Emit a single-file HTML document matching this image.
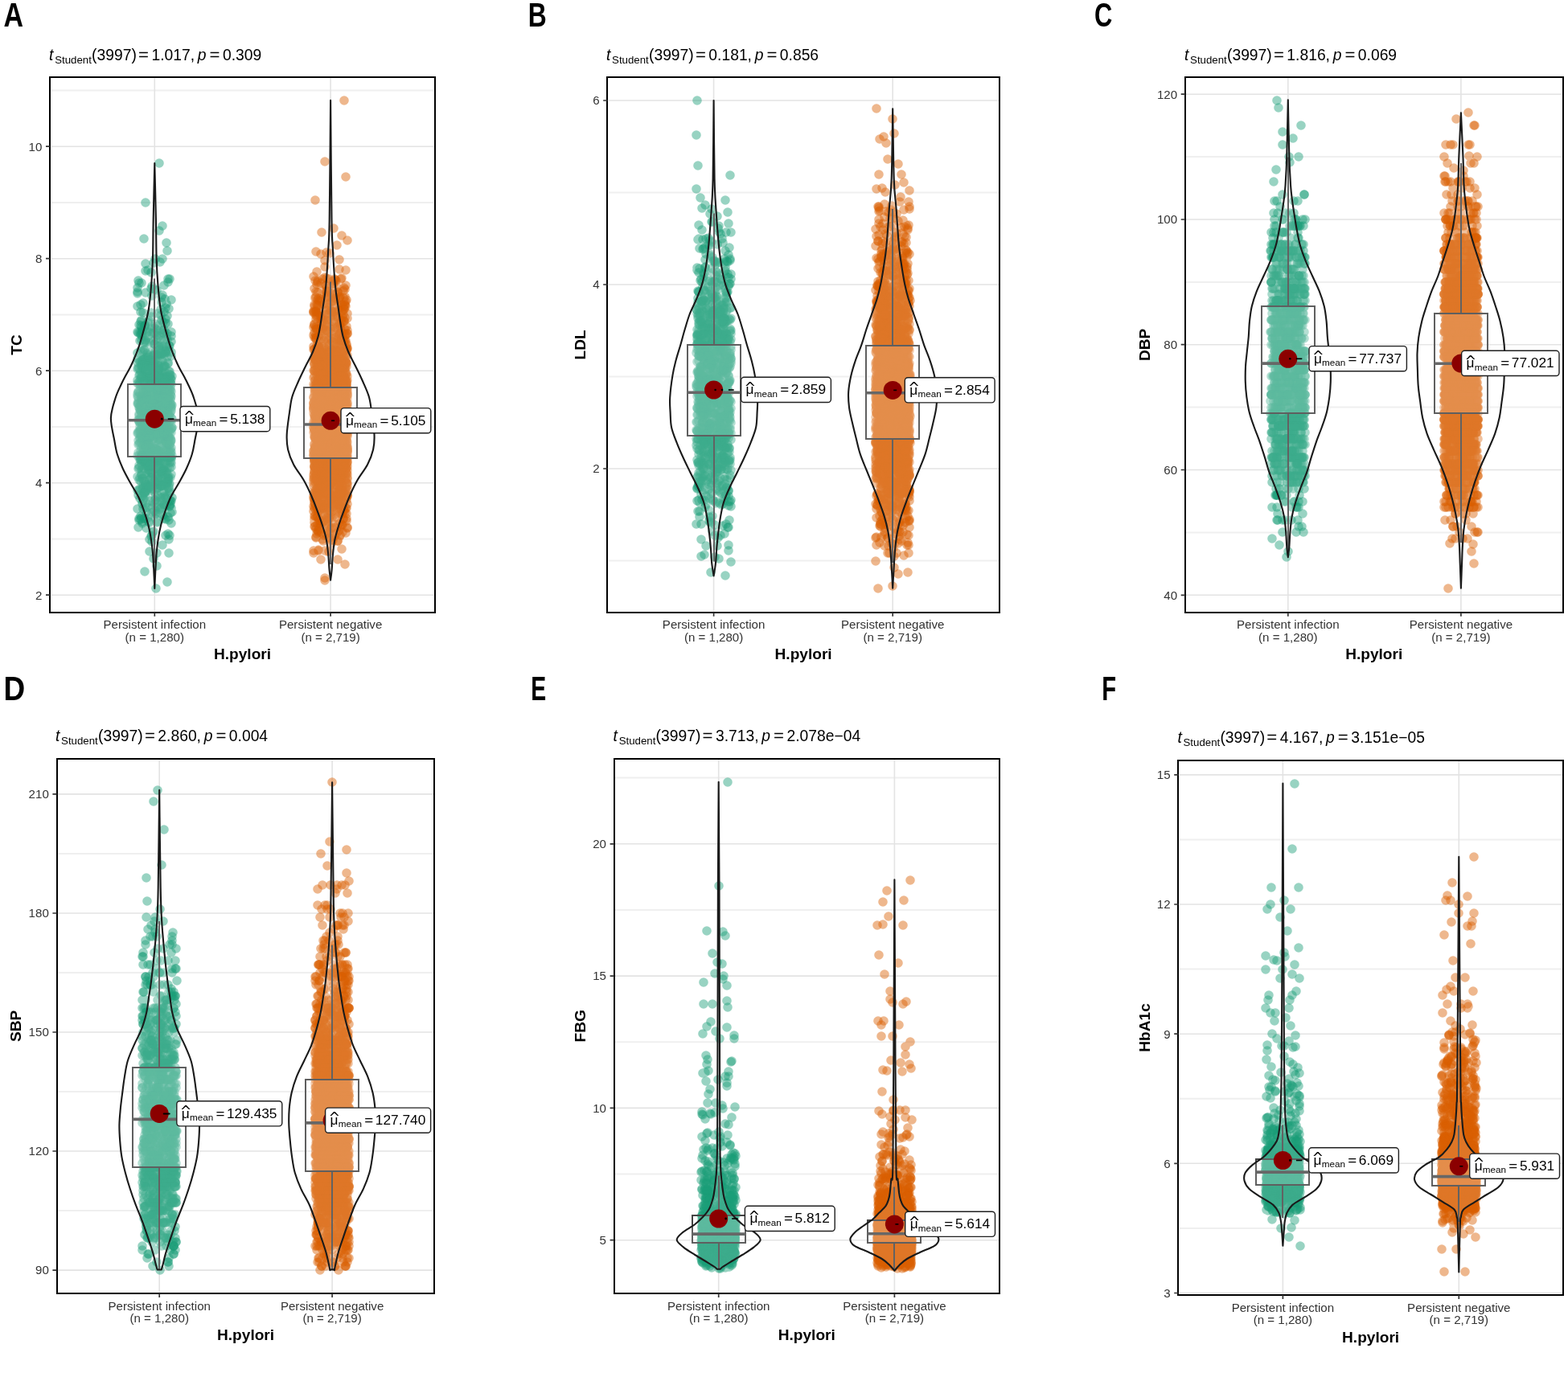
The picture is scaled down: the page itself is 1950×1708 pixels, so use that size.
<!DOCTYPE html><html><head><meta charset="utf-8"><title>H.pylori violin plots</title><style>html,body{margin:0;padding:0;background:#fff;width:1950px;height:1708px;overflow:hidden}svg{display:block}</style></head><body><svg width="1950" height="1708" viewBox="0 0 1950 1708"><rect width="1950" height="1708" fill="#fff"/><path d="M63.2 670.5H539.8M63.2 531H539.8M63.2 391.4H539.8M63.2 251.9H539.8M63.2 112.4H539.8" stroke="#efefef" stroke-width="2" fill="none"/>
<path d="M63.2 740.2H539.8M63.2 600.7H539.8M63.2 461.2H539.8M63.2 321.7H539.8M63.2 182.2H539.8M192.3 97.3V760.6M411.1 97.3V760.6" stroke="#e3e3e3" stroke-width="1.6" fill="none"/>
<g stroke="#1b9e77" stroke-opacity="0.45" stroke-width="11.6" stroke-linecap="round" fill="none"><path d="M205 554h0M204 486h0M201 555h0M197 510h0M188 339h0M200 587h0M180 405h0M202 516h0M204 521h0M179 419h0M208 481h0M182 492h0M181 567h0M172 488h0M180 599h0M200 557h0M177 548h0M174 414h0M180 538h0M188 572h0M181 445h0M177 533h0M180 541h0M199 603h0M183 413h0M199 430h0M186 544h0M172 349h0M181 612h0M181 565h0M188 520h0M192 428h0M188 512h0M171 459h0M189 666h0M181 555h0M187 494h0M196 494h0M181 497h0M174 450h0M193 583h0M194 578h0M199 556h0M209 643h0M201 530h0M209 664h0M175 599h0M174 537h0M206 550h0M208 553h0M209 544h0M193 507h0M190 637h0M188 507h0"/><path d="M185 459h0M195 639h0M189 456h0M178 511h0M211 430h0M213 503h0M182 510h0M183 513h0M195 603h0M190 589h0M210 688h0M172 537h0M181 523h0M191 511h0M202 640h0M172 522h0M190 481h0M214 504h0M174 572h0M178 539h0M204 479h0M174 505h0M201 477h0M177 410h0M197 525h0M187 610h0M195 486h0M176 524h0M208 601h0M207 468h0M175 416h0M178 523h0M182 450h0M209 488h0M198 503h0M196 590h0M202 414h0M196 499h0M202 519h0M198 203h0M180 500h0M178 451h0M198 501h0M176 352h0M176 398h0M207 549h0M184 469h0M200 567h0M201 537h0M177 544h0M181 463h0M175 388h0M176 567h0M212 504h0"/><path d="M188 579h0M205 463h0M205 372h0M180 645h0M182 517h0M204 415h0M187 623h0M208 508h0M173 522h0M206 579h0M207 566h0M205 582h0M198 547h0M195 475h0M185 563h0M202 523h0M183 490h0M209 544h0M178 617h0M207 378h0M206 495h0M209 497h0M197 503h0M188 518h0M186 506h0M192 456h0M213 520h0M202 571h0M212 522h0M175 405h0M183 440h0M206 530h0M200 510h0M194 509h0M208 602h0M174 608h0M210 526h0M171 473h0M205 515h0M209 515h0M189 452h0M185 516h0M211 467h0M209 570h0M199 544h0M207 587h0M198 482h0M173 524h0M196 441h0M199 539h0M197 479h0M201 487h0M186 475h0M172 656h0"/><path d="M204 617h0M182 479h0M183 515h0M195 483h0M208 608h0M197 553h0M208 422h0M186 512h0M188 533h0M194 591h0M204 388h0M201 613h0M178 478h0M212 476h0M173 478h0M178 468h0M178 565h0M197 443h0M195 474h0M186 597h0M192 513h0M209 503h0M192 478h0M193 464h0M212 497h0M177 568h0M190 556h0M176 494h0M184 473h0M198 601h0M185 585h0M212 503h0M204 543h0M188 464h0M192 453h0M208 466h0M181 522h0M174 551h0M179 574h0M204 470h0M184 478h0M202 530h0M210 462h0M177 456h0M203 484h0M182 488h0M195 479h0M197 431h0M206 539h0M193 453h0M198 534h0M202 449h0M193 570h0M204 603h0"/><path d="M181 517h0M207 628h0M195 568h0M195 473h0M174 544h0M190 469h0M212 545h0M178 604h0M206 604h0M191 505h0M183 536h0M178 500h0M209 351h0M175 511h0M188 512h0M207 551h0M210 430h0M203 517h0M212 496h0M186 505h0M199 523h0M195 488h0M199 504h0M201 567h0M201 370h0M207 548h0M185 585h0M200 562h0M212 476h0M177 651h0M209 594h0M179 499h0M180 454h0M202 281h0M171 358h0M175 580h0M186 570h0M188 600h0M188 449h0M209 479h0M181 426h0M188 569h0M212 549h0M200 605h0M179 519h0M212 564h0M193 403h0M173 579h0M181 532h0M194 501h0M194 542h0M203 498h0M204 583h0M198 455h0"/><path d="M208 509h0M186 686h0M181 364h0M193 466h0M180 605h0M176 492h0M210 569h0M209 546h0M191 558h0M194 558h0M209 607h0M198 450h0M199 574h0M196 444h0M204 455h0M182 469h0M173 645h0M208 530h0M200 572h0M171 610h0M184 546h0M183 486h0M206 510h0M206 383h0M199 624h0M203 641h0M176 571h0M192 622h0M187 531h0M201 479h0M211 436h0M181 482h0M188 449h0M202 512h0M190 625h0M186 426h0M178 448h0M174 510h0M188 543h0M213 623h0M187 581h0M196 495h0M191 536h0M176 525h0M213 438h0M197 637h0M177 627h0M212 482h0M214 532h0M173 582h0M179 297h0M205 617h0M192 636h0M211 602h0"/><path d="M192 481h0M203 493h0M193 498h0M205 586h0M179 521h0M181 423h0M182 637h0M206 478h0M187 589h0M211 666h0M185 448h0M201 400h0M193 583h0M202 511h0M185 563h0M175 462h0M202 599h0M209 598h0M197 405h0M212 471h0M197 541h0M199 578h0M178 621h0M209 547h0M207 439h0M205 532h0M181 404h0M203 469h0M209 510h0M192 571h0M173 610h0M200 442h0M212 623h0M171 477h0M195 650h0M184 551h0M190 491h0M185 513h0M192 562h0M206 397h0M182 573h0M187 588h0M212 594h0M204 519h0M185 511h0M202 527h0M213 569h0M192 360h0M185 535h0M181 556h0M172 502h0M208 589h0M200 619h0M191 536h0"/><path d="M188 406h0M189 514h0M200 469h0M209 566h0M184 520h0M212 519h0M204 515h0M189 608h0M174 497h0M184 575h0M209 573h0M201 398h0M171 365h0M191 546h0M211 630h0M171 451h0M208 312h0M202 473h0M188 389h0M175 534h0M196 603h0M214 521h0M186 550h0M208 483h0M202 477h0M182 541h0M186 541h0M204 509h0M175 400h0M192 510h0M172 499h0M213 508h0M191 540h0M180 521h0M208 470h0M191 497h0M172 500h0M177 447h0M179 568h0M196 503h0M197 489h0M213 425h0M200 429h0M192 530h0M178 389h0M178 569h0M206 432h0M196 490h0M199 514h0M204 534h0M184 401h0M201 540h0M197 514h0M187 546h0"/><path d="M205 586h0M208 393h0M184 580h0M197 487h0M192 550h0M193 519h0M198 287h0M199 483h0M214 619h0M212 490h0M210 608h0M198 503h0M199 488h0M214 468h0M172 616h0M197 455h0M199 546h0M177 595h0M179 496h0M197 461h0M185 470h0M198 561h0M191 442h0M194 631h0M185 551h0M185 541h0M198 595h0M193 534h0M209 513h0M213 534h0M210 544h0M213 590h0M199 582h0M198 431h0M176 498h0M202 440h0M196 616h0M210 602h0M207 302h0M187 553h0M195 440h0M184 519h0M211 516h0M189 458h0M196 509h0M172 583h0M195 480h0M204 355h0M178 437h0M189 356h0M210 544h0M194 479h0M208 488h0"/><path d="M188 667h0M209 541h0M204 489h0M195 417h0M195 512h0M184 533h0M213 503h0M194 507h0M214 532h0M213 576h0M204 628h0M176 567h0M185 547h0M210 518h0M213 525h0M208 565h0M182 547h0M204 564h0M211 613h0M182 509h0M195 688h0M198 529h0M211 629h0M192 468h0M180 545h0M201 466h0M177 649h0M177 530h0M179 411h0M203 560h0M208 521h0M176 644h0M212 485h0M193 517h0M191 518h0M190 498h0M194 602h0M190 560h0M175 572h0M186 482h0M176 469h0M197 547h0M206 517h0M210 469h0M183 557h0M208 583h0M210 530h0M176 503h0M178 560h0M188 468h0M201 520h0M191 502h0M190 448h0"/><path d="M173 647h0M184 474h0M180 537h0M207 505h0M186 563h0M182 483h0M202 367h0M178 522h0M185 569h0M202 480h0M212 569h0M191 438h0M181 601h0M190 436h0M186 502h0M179 583h0M193 414h0M185 468h0M207 432h0M209 516h0M208 559h0M187 541h0M184 445h0M200 488h0M185 413h0M178 506h0M171 502h0M197 459h0M195 561h0M209 534h0M178 595h0M198 509h0M201 469h0M206 646h0M203 506h0M183 492h0M192 483h0M206 619h0M206 566h0M200 485h0M205 505h0M203 491h0M189 589h0M203 584h0M179 514h0M194 538h0M179 457h0M211 575h0M203 411h0M193 559h0M192 520h0M175 436h0M193 502h0"/><path d="M182 554h0M173 458h0M196 631h0M172 539h0M171 493h0M173 566h0M204 540h0M172 495h0M192 455h0M177 494h0M182 551h0M197 482h0M180 576h0M204 526h0M194 456h0M188 564h0M213 373h0M206 437h0M183 469h0M206 526h0M188 394h0M175 459h0M209 553h0M185 465h0M193 536h0M207 477h0M213 651h0M206 456h0M175 471h0M204 522h0M184 535h0M181 486h0M171 567h0M180 613h0M193 448h0M196 607h0M195 624h0M213 557h0M211 504h0M196 649h0M208 724h0M188 588h0M193 645h0M184 465h0M212 575h0M176 557h0M183 631h0M181 337h0M176 516h0M197 494h0M213 571h0M175 500h0M191 581h0"/><path d="M174 531h0M193 635h0M182 606h0M182 515h0M183 563h0M181 510h0M212 503h0M180 537h0M182 494h0M190 600h0M200 497h0M188 359h0M213 511h0M212 505h0M206 620h0M187 552h0M190 484h0M189 471h0M188 594h0M183 444h0M212 471h0M175 642h0M202 464h0M186 604h0M210 484h0M187 451h0M176 518h0M195 596h0M206 535h0M187 539h0M203 401h0M181 611h0M193 544h0M188 476h0M196 522h0M176 551h0M189 632h0M180 497h0M201 586h0M201 500h0M188 640h0M208 522h0M204 628h0M200 605h0M202 619h0M192 574h0M200 595h0M209 596h0M189 480h0M190 662h0M179 524h0M207 558h0M183 535h0"/><path d="M194 483h0M212 492h0M209 596h0M180 527h0M194 639h0M178 562h0M184 513h0M196 518h0M205 630h0M187 518h0M187 456h0M176 590h0M208 501h0M177 546h0M209 347h0M208 468h0M196 560h0M188 457h0M209 452h0M177 478h0M202 678h0M176 577h0M185 566h0M207 556h0M184 512h0M182 571h0M193 622h0M175 646h0M176 509h0M199 495h0M205 509h0M199 440h0M172 457h0M201 567h0M173 459h0M206 666h0M209 451h0M177 565h0M179 447h0M210 536h0M183 420h0M204 585h0M177 584h0M198 507h0M195 483h0M195 491h0M196 531h0M202 322h0M184 418h0M198 491h0M206 550h0M196 421h0M172 458h0"/><path d="M204 482h0M208 483h0M209 533h0M190 526h0M194 486h0M185 542h0M181 328h0M188 477h0M186 650h0M205 573h0M179 521h0M178 597h0M209 498h0M195 704h0M184 489h0M187 564h0M195 539h0M188 489h0M213 533h0M181 601h0M201 582h0M196 485h0M180 569h0M209 488h0M196 514h0M213 581h0M210 647h0M196 583h0M175 521h0M195 506h0M174 424h0M192 599h0M189 368h0M177 568h0M210 561h0M182 580h0M182 591h0M177 617h0M176 591h0M185 399h0M200 539h0M177 412h0M205 540h0M202 507h0M200 632h0M193 518h0M192 441h0M180 568h0M183 607h0M183 605h0M201 505h0M175 572h0M178 546h0"/><path d="M179 446h0M188 448h0M193 626h0M196 390h0M205 504h0M203 520h0M178 633h0M197 467h0M205 628h0M205 412h0M196 476h0M195 608h0M197 592h0M204 441h0M176 511h0M202 496h0M181 468h0M204 410h0M174 489h0M209 592h0M196 597h0M205 455h0M211 478h0M193 595h0M175 511h0M188 467h0M202 587h0M193 530h0M177 608h0M184 533h0M175 524h0M171 381h0M185 500h0M200 531h0M179 552h0M193 470h0M173 567h0M199 503h0M171 439h0M210 671h0M203 441h0M204 540h0M179 549h0M186 543h0M209 516h0M196 485h0M174 466h0M194 422h0M181 456h0M175 450h0M209 522h0M180 477h0M180 406h0"/><path d="M207 506h0M173 517h0M194 475h0M191 661h0M184 442h0M183 538h0M188 543h0M181 480h0M192 408h0M174 620h0M186 517h0M176 456h0M198 488h0M177 479h0M206 504h0M206 438h0M173 352h0M212 559h0M208 594h0M176 414h0M200 511h0M194 732h0M206 473h0M181 468h0M177 567h0M185 482h0M190 520h0M204 539h0M208 480h0M205 483h0M207 569h0M174 546h0M190 523h0M186 542h0M197 469h0M180 479h0M213 506h0M198 464h0M189 514h0M174 477h0M197 573h0M203 604h0M204 513h0M200 392h0M176 499h0M210 496h0M191 695h0M171 446h0M178 544h0M189 471h0M195 489h0M171 363h0M206 596h0"/><path d="M187 606h0M172 494h0M189 594h0M177 509h0M212 562h0M198 494h0M204 612h0M207 481h0M212 524h0M193 438h0M198 535h0M202 513h0M182 512h0M212 627h0M212 568h0M199 441h0M192 540h0M197 486h0M204 524h0M207 524h0M202 568h0M207 600h0M189 574h0M206 436h0M179 543h0M196 461h0M173 552h0M208 415h0M192 612h0M190 556h0M184 540h0M175 379h0M186 502h0M206 438h0M211 553h0M175 561h0M190 547h0M200 545h0M179 570h0M185 597h0M193 572h0M210 384h0M186 565h0M187 578h0M200 565h0M180 406h0M188 478h0M191 511h0M206 421h0M176 540h0M171 539h0M211 582h0M195 410h0"/><path d="M179 558h0M188 535h0M196 571h0M191 414h0M200 516h0M179 457h0M177 451h0M187 562h0M185 572h0M185 573h0M180 487h0M205 500h0M178 485h0M172 553h0M189 520h0M203 539h0M190 490h0M183 496h0M175 551h0M182 535h0M173 404h0M203 569h0M209 543h0M186 671h0M199 523h0M199 634h0M184 580h0M199 506h0M189 516h0M201 589h0M199 534h0M181 424h0M195 361h0M201 623h0M175 541h0M203 531h0M188 565h0M210 546h0M173 597h0M187 480h0M202 511h0M181 575h0M176 570h0M202 520h0M201 528h0M187 498h0M195 496h0M206 508h0M196 541h0M210 550h0M199 326h0M193 566h0M193 618h0"/><path d="M174 526h0M173 515h0M204 422h0M207 565h0M185 494h0M189 409h0M200 573h0M208 503h0M172 414h0M202 562h0M201 561h0M207 573h0M178 454h0M185 522h0M181 603h0M190 511h0M178 459h0M210 532h0M197 466h0M206 536h0M174 508h0M204 645h0M202 553h0M178 377h0M200 548h0M185 444h0M198 598h0M198 540h0M174 535h0M174 520h0M214 567h0M182 626h0M178 559h0M196 451h0M209 403h0M195 441h0M206 520h0M179 515h0M182 548h0M207 559h0M199 477h0M172 563h0M195 535h0M198 539h0M190 608h0M201 535h0M205 595h0M181 618h0M211 486h0M198 459h0M184 336h0M176 497h0M190 456h0"/><path d="M198 550h0M172 503h0M181 252h0M185 458h0M194 529h0M203 528h0M193 521h0M213 418h0M211 546h0M181 527h0M179 612h0M203 537h0M179 621h0M189 415h0M182 610h0M183 645h0M177 553h0M207 501h0M213 478h0M211 538h0M181 513h0M182 575h0M192 506h0M208 444h0M176 485h0M172 548h0M185 542h0M172 487h0M203 518h0M179 435h0M204 540h0M190 501h0M202 431h0M198 482h0M180 711h0M173 467h0M191 327h0M182 462h0M178 536h0M195 476h0M212 548h0M171 593h0M176 592h0M191 515h0M200 385h0M177 624h0M202 494h0M195 495h0M176 567h0M213 493h0M185 487h0M186 464h0M192 428h0"/><path d="M213 632h0M191 519h0M193 468h0M213 487h0M191 523h0M212 508h0M180 435h0M208 617h0M178 500h0M185 484h0M212 513h0M182 657h0M192 497h0M198 435h0M176 584h0M201 440h0M185 529h0M178 529h0M209 551h0M211 623h0M196 517h0M206 549h0M214 637h0M178 607h0M183 510h0M208 471h0M171 413h0M185 552h0M211 347h0M206 402h0M211 466h0M213 562h0M178 475h0M174 594h0M179 499h0M187 468h0M171 633h0M175 504h0M180 589h0M181 460h0M177 419h0M179 571h0M200 471h0M182 496h0M183 455h0M186 488h0M173 525h0M182 460h0M200 604h0M186 579h0M204 402h0M209 549h0M205 484h0"/><path d="M212 466h0M191 566h0M187 605h0M179 528h0M211 553h0M173 475h0M185 567h0M210 505h0M179 613h0M190 455h0M176 423h0M201 542h0M206 452h0M204 485h0M183 527h0M176 454h0M199 524h0M203 581h0M182 532h0M198 591h0M181 632h0M175 482h0M199 411h0M186 501h0M193 558h0M196 575h0M183 498h0M178 529h0M177 573h0M212 638h0M185 460h0M203 518h0M213 548h0M210 595h0M209 452h0M178 458h0M208 484h0M185 649h0M183 515h0M177 483h0M201 376h0M190 530h0M191 451h0M191 424h0M182 567h0M203 457h0M193 566h0M171 490h0M213 538h0M176 407h0M186 482h0M210 637h0M186 535h0"/><path d="M210 493h0M177 415h0M182 531h0M188 526h0M197 561h0M179 645h0M204 495h0M212 551h0M178 500h0M210 606h0M194 501h0M204 457h0M203 518h0M211 610h0M192 599h0M208 600h0M197 580h0M209 494h0M207 531h0M211 569h0M185 607h0M194 494h0M207 542h0M202 604h0M198 418h0M188 497h0M179 426h0M213 472h0M213 443h0M189 674h0M176 544h0M177 448h0M212 546h0M201 498h0M173 507h0M193 322h0M205 488h0M205 501h0M213 413h0M186 544h0M200 586h0M210 437h0M178 521h0M182 557h0M176 468h0M203 476h0M178 489h0M208 553h0M175 506h0M187 557h0M188 532h0M211 462h0M186 448h0"/></g>
<g stroke="#d95f02" stroke-opacity="0.45" stroke-width="11.6" stroke-linecap="round" fill="none"><path d="M429 607h0M399 443h0M428 483h0M401 444h0M415 543h0M407 421h0M407 458h0M411 561h0M413 526h0M394 462h0M398 505h0M420 363h0M413 492h0M395 562h0M415 625h0M406 514h0M432 563h0M427 438h0M418 563h0M404 510h0M402 489h0M402 487h0M420 622h0M399 587h0M397 609h0M406 512h0M413 478h0M395 514h0M396 507h0M405 592h0M430 336h0M422 531h0M394 664h0M409 596h0M395 567h0M420 542h0M412 534h0M410 502h0M396 459h0M398 578h0M411 369h0M396 371h0M406 506h0M401 541h0M422 462h0M396 542h0M406 559h0M415 597h0M431 567h0M415 510h0M395 487h0M425 293h0M412 387h0M426 564h0M412 575h0M399 526h0M422 576h0M419 538h0M415 542h0M398 528h0M399 502h0M412 521h0M428 491h0M425 574h0M432 541h0M392 497h0M422 370h0M410 581h0M422 592h0M397 528h0M398 489h0M426 420h0M422 637h0M409 509h0M413 439h0M404 456h0M391 485h0M426 563h0M427 528h0M422 485h0M401 566h0M432 601h0M405 586h0M413 389h0M425 541h0M407 435h0M393 590h0M397 602h0M395 528h0M430 543h0M417 499h0M420 533h0M420 564h0M400 537h0M412 578h0M405 422h0M417 508h0M393 497h0M429 503h0M429 542h0M414 497h0M397 491h0M425 640h0M402 564h0M397 521h0M413 468h0M393 622h0M418 566h0M394 576h0M393 593h0M411 387h0M404 544h0M392 557h0M408 652h0"/><path d="M419 423h0M416 511h0M422 461h0M417 486h0M430 591h0M425 346h0M420 539h0M399 511h0M399 595h0M429 458h0M391 529h0M400 515h0M419 590h0M422 533h0M391 581h0M405 550h0M421 478h0M421 582h0M424 473h0M404 499h0M400 659h0M411 503h0M422 610h0M419 528h0M410 478h0M404 550h0M406 495h0M420 478h0M430 375h0M421 532h0M426 480h0M414 477h0M398 565h0M392 473h0M414 371h0M392 504h0M422 547h0M406 475h0M411 569h0M412 450h0M398 633h0M430 597h0M400 457h0M411 481h0M402 560h0M399 546h0M404 534h0M409 531h0M400 595h0M400 524h0M407 477h0M392 482h0M400 551h0M397 473h0M415 517h0M400 586h0M431 514h0M426 489h0M403 551h0M390 435h0M420 486h0M422 557h0M397 447h0M406 441h0M416 545h0M397 456h0M422 530h0M418 445h0M401 456h0M417 440h0M405 490h0M420 602h0M396 662h0M405 463h0M390 591h0M396 380h0M392 559h0M420 470h0M408 601h0M416 550h0M429 549h0M405 584h0M413 350h0M410 669h0M416 571h0M393 575h0M429 638h0M418 548h0M418 592h0M412 483h0M406 557h0M390 478h0M422 545h0M416 492h0M407 472h0M406 479h0M431 556h0M407 573h0M412 542h0M425 598h0M392 618h0M416 517h0M419 511h0M425 506h0M403 548h0M403 573h0M432 513h0M390 470h0M422 583h0M426 583h0M401 519h0M399 498h0M400 619h0M407 589h0"/><path d="M426 559h0M405 515h0M406 500h0M401 493h0M399 525h0M393 547h0M429 442h0M408 476h0M411 459h0M421 529h0M405 584h0M417 486h0M424 556h0M423 650h0M423 538h0M410 575h0M399 510h0M393 591h0M431 548h0M401 447h0M422 450h0M402 400h0M412 529h0M420 489h0M407 518h0M391 572h0M407 474h0M413 467h0M411 526h0M415 479h0M397 646h0M398 455h0M422 529h0M400 522h0M400 492h0M392 460h0M426 481h0M408 502h0M419 480h0M424 470h0M431 522h0M408 565h0M419 510h0M417 534h0M409 550h0M424 347h0M403 585h0M417 500h0M397 648h0M408 532h0M403 573h0M412 550h0M432 536h0M425 485h0M397 567h0M402 476h0M392 566h0M429 410h0M422 402h0M432 571h0M418 436h0M432 555h0M417 440h0M400 569h0M419 357h0M430 663h0M431 619h0M422 539h0M401 528h0M395 539h0M405 543h0M400 492h0M406 581h0M430 499h0M428 484h0M394 479h0M414 551h0M417 566h0M409 347h0M393 550h0M410 442h0M414 467h0M401 518h0M400 569h0M392 443h0M409 506h0M394 479h0M432 558h0M409 510h0M429 569h0M410 477h0M408 562h0M407 438h0M426 484h0M409 473h0M412 480h0M406 510h0M417 558h0M425 379h0M430 632h0M394 485h0M428 522h0M401 446h0M408 509h0M407 597h0M417 554h0M392 506h0M408 507h0M405 475h0M410 636h0M407 616h0M411 467h0M417 577h0M427 573h0"/><path d="M426 550h0M413 539h0M423 535h0M405 448h0M421 562h0M422 568h0M417 562h0M401 512h0M407 644h0M394 534h0M419 455h0M420 436h0M421 487h0M431 436h0M429 479h0M398 577h0M413 602h0M421 520h0M394 540h0M432 511h0M395 498h0M406 510h0M419 644h0M392 447h0M409 514h0M425 536h0M410 462h0M402 585h0M404 433h0M423 472h0M412 463h0M412 564h0M415 537h0M407 386h0M418 471h0M422 416h0M401 515h0M413 466h0M395 614h0M426 493h0M390 506h0M420 503h0M425 437h0M403 486h0M415 602h0M404 576h0M414 538h0M391 499h0M404 521h0M393 420h0M411 658h0M424 608h0M428 479h0M399 488h0M430 528h0M402 541h0M425 569h0M397 479h0M402 632h0M431 582h0M393 543h0M419 477h0M408 487h0M425 478h0M406 362h0M410 586h0M397 534h0M427 631h0M418 538h0M398 499h0M392 630h0M410 456h0M414 532h0M409 585h0M421 529h0M394 515h0M411 463h0M413 598h0M418 524h0M428 499h0M392 537h0M431 559h0M393 517h0M392 544h0M393 546h0M394 557h0M409 550h0M400 606h0M422 543h0M422 559h0M418 557h0M399 650h0M417 477h0M393 658h0M427 645h0M397 424h0M391 624h0M411 504h0M391 528h0M419 456h0M405 604h0M414 486h0M417 538h0M401 605h0M431 489h0M396 507h0M422 558h0M427 443h0M403 490h0M428 358h0M400 495h0M412 558h0M425 591h0M417 558h0"/><path d="M427 424h0M410 530h0M394 455h0M410 601h0M398 504h0M411 474h0M395 472h0M393 563h0M402 465h0M398 652h0M397 541h0M402 468h0M391 537h0M408 587h0M430 538h0M401 628h0M408 562h0M416 519h0M430 573h0M422 476h0M418 491h0M390 561h0M404 533h0M422 436h0M424 462h0M413 552h0M429 461h0M415 479h0M399 565h0M414 521h0M427 443h0M418 547h0M405 551h0M421 549h0M401 514h0M426 662h0M429 472h0M397 473h0M424 423h0M414 513h0M413 636h0M411 635h0M414 526h0M427 479h0M402 587h0M395 600h0M426 379h0M409 437h0M422 668h0M412 600h0M430 381h0M391 573h0M391 517h0M427 486h0M404 548h0M432 468h0M422 550h0M415 581h0M409 525h0M420 673h0M418 484h0M412 487h0M393 515h0M428 574h0M430 553h0M420 484h0M408 589h0M406 391h0M410 467h0M420 478h0M422 537h0M421 594h0M418 562h0M411 524h0M391 572h0M425 402h0M430 584h0M400 612h0M400 431h0M416 566h0M409 547h0M415 392h0M397 531h0M394 505h0M403 485h0M420 633h0M400 510h0M399 542h0M417 656h0M394 609h0M412 494h0M426 573h0M430 503h0M398 551h0M429 607h0M409 538h0M396 570h0M400 533h0M400 444h0M408 584h0M430 609h0M420 463h0M401 437h0M426 558h0M432 617h0M414 571h0M405 523h0M430 606h0M393 387h0M421 601h0M416 556h0M417 621h0M398 599h0M405 632h0"/><path d="M430 480h0M422 508h0M409 511h0M418 473h0M399 591h0M399 535h0M391 535h0M411 560h0M414 353h0M417 584h0M428 634h0M429 380h0M423 518h0M401 565h0M402 577h0M403 497h0M430 569h0M399 352h0M398 457h0M407 468h0M410 526h0M397 490h0M391 593h0M415 618h0M409 573h0M400 558h0M411 572h0M416 534h0M419 600h0M414 522h0M425 584h0M412 598h0M431 578h0M421 624h0M425 542h0M422 440h0M410 449h0M422 455h0M421 568h0M422 488h0M401 671h0M399 498h0M394 525h0M430 451h0M432 473h0M420 549h0M393 668h0M397 420h0M393 574h0M419 559h0M431 648h0M392 642h0M404 397h0M401 530h0M396 547h0M400 552h0M404 562h0M412 599h0M417 624h0M390 561h0M420 364h0M426 534h0M400 502h0M397 560h0M409 557h0M391 626h0M397 530h0M417 435h0M401 619h0M396 389h0M432 569h0M421 421h0M426 465h0M399 466h0M429 571h0M432 558h0M425 614h0M425 545h0M399 552h0M430 485h0M409 362h0M416 519h0M421 524h0M423 524h0M409 514h0M391 588h0M401 565h0M395 547h0M430 500h0M391 503h0M415 412h0M400 523h0M413 557h0M431 465h0M406 588h0M419 578h0M410 669h0M424 550h0M417 583h0M411 619h0M393 313h0M428 581h0M425 584h0M423 609h0M396 431h0M424 494h0M429 493h0M420 575h0M425 496h0M399 526h0M395 509h0M412 504h0M402 540h0M413 650h0"/><path d="M422 532h0M415 430h0M394 560h0M428 501h0M391 543h0M423 428h0M393 450h0M417 487h0M412 672h0M422 456h0M431 540h0M390 506h0M421 457h0M416 484h0M430 501h0M407 412h0M406 594h0M393 370h0M426 530h0M420 381h0M418 551h0M397 517h0M432 596h0M414 532h0M423 538h0M413 558h0M392 529h0M424 470h0M420 614h0M399 591h0M418 529h0M432 615h0M403 482h0M417 551h0M398 409h0M397 511h0M401 556h0M432 657h0M421 545h0M396 560h0M395 552h0M404 324h0M394 532h0M431 512h0M413 503h0M413 500h0M416 489h0M431 474h0M429 545h0M423 579h0M409 544h0M390 568h0M393 538h0M406 503h0M425 596h0M392 446h0M411 615h0M407 467h0M412 485h0M414 561h0M424 564h0M395 451h0M392 514h0M405 482h0M424 538h0M399 531h0M414 477h0M413 565h0M412 415h0M426 487h0M421 611h0M395 598h0M396 538h0M424 526h0M427 503h0M394 492h0M414 487h0M403 489h0M431 550h0M394 617h0M399 561h0M418 519h0M414 589h0M424 459h0M401 516h0M426 532h0M431 508h0M405 444h0M409 655h0M416 517h0M426 550h0M416 585h0M427 594h0M412 445h0M392 546h0M407 492h0M398 516h0M405 355h0M419 616h0M408 531h0M395 438h0M422 660h0M425 449h0M427 558h0M429 578h0M402 474h0M392 518h0M399 408h0M426 639h0M406 475h0M401 488h0M404 560h0M431 555h0M394 530h0"/><path d="M398 628h0M396 393h0M420 407h0M420 508h0M392 488h0M393 397h0M393 640h0M416 509h0M406 505h0M395 531h0M404 529h0M417 374h0M402 494h0M407 495h0M413 603h0M426 395h0M409 569h0M404 599h0M403 535h0M415 550h0M392 556h0M423 515h0M410 555h0M394 632h0M432 627h0M413 592h0M404 575h0M416 438h0M426 550h0M400 594h0M405 412h0M399 508h0M396 494h0M428 556h0M409 407h0M403 408h0M406 520h0M393 569h0M398 506h0M428 520h0M422 461h0M413 573h0M419 663h0M421 566h0M425 568h0M419 492h0M408 475h0M401 577h0M407 570h0M408 378h0M397 553h0M410 517h0M431 503h0M412 512h0M421 545h0M393 363h0M395 444h0M396 568h0M409 518h0M423 589h0M398 565h0M407 568h0M409 624h0M426 535h0M419 518h0M396 558h0M416 576h0M396 499h0M393 562h0M415 591h0M424 431h0M407 591h0M409 503h0M407 579h0M404 483h0M419 422h0M402 587h0M412 415h0M398 598h0M396 418h0M391 642h0M428 635h0M421 515h0M414 519h0M401 362h0M415 453h0M402 566h0M406 554h0M430 463h0M412 537h0M404 580h0M394 512h0M418 462h0M426 465h0M430 482h0M424 456h0M419 471h0M404 458h0M426 570h0M402 601h0M394 430h0M399 602h0M398 484h0M408 525h0M423 600h0M428 384h0M412 565h0M418 467h0M430 498h0M407 518h0M390 509h0M426 577h0M391 521h0"/><path d="M391 553h0M419 585h0M410 544h0M419 472h0M400 445h0M405 459h0M409 612h0M429 456h0M426 389h0M410 549h0M403 538h0M405 512h0M426 447h0M406 447h0M417 580h0M398 582h0M418 496h0M414 569h0M413 509h0M416 524h0M392 249h0M418 443h0M395 562h0M403 476h0M391 611h0M412 621h0M415 597h0M397 494h0M400 476h0M395 373h0M406 571h0M426 430h0M416 509h0M423 427h0M404 685h0M432 543h0M423 520h0M396 580h0M418 576h0M404 505h0M424 527h0M392 531h0M432 396h0M390 450h0M409 616h0M405 484h0M430 448h0M417 580h0M404 719h0M400 510h0M411 555h0M411 486h0M428 569h0M408 519h0M396 529h0M432 390h0M408 518h0M431 539h0M419 585h0M422 456h0M426 592h0M432 434h0M398 474h0M420 573h0M412 531h0M414 559h0M411 544h0M407 686h0M425 572h0M396 685h0M416 466h0M414 518h0M406 548h0M409 549h0M429 520h0M422 570h0M402 480h0M432 415h0M426 535h0M408 526h0M431 477h0M398 464h0M395 606h0M422 539h0M425 552h0M426 498h0M410 446h0M423 562h0M427 520h0M420 615h0M414 388h0M417 407h0M407 543h0M415 448h0M409 560h0M421 461h0M409 467h0M420 696h0M416 447h0M428 578h0M402 524h0M390 388h0M411 522h0M413 539h0M409 462h0M406 411h0M402 673h0M427 505h0M418 571h0M423 540h0M426 637h0M406 368h0M428 589h0"/><path d="M392 446h0M404 554h0M414 515h0M401 567h0M431 568h0M399 547h0M426 500h0M408 548h0M410 513h0M425 555h0M409 566h0M410 477h0M412 657h0M415 349h0M394 533h0M427 501h0M395 532h0M391 576h0M399 561h0M420 459h0M392 621h0M431 588h0M421 469h0M396 660h0M432 656h0M414 469h0M411 489h0M412 387h0M425 473h0M421 663h0M425 380h0M422 633h0M404 577h0M390 407h0M427 415h0M420 517h0M409 579h0M395 383h0M395 555h0M419 536h0M423 617h0M429 379h0M391 381h0M401 602h0M429 540h0M391 559h0M393 572h0M395 557h0M395 456h0M432 557h0M413 524h0M409 457h0M431 560h0M392 559h0M416 552h0M399 498h0M408 536h0M411 514h0M429 458h0M419 516h0M414 581h0M401 444h0M392 581h0M413 400h0M429 572h0M410 569h0M423 666h0M428 563h0M411 532h0M424 597h0M428 399h0M412 640h0M425 581h0M417 371h0M418 467h0M406 539h0M397 514h0M410 592h0M395 554h0M421 574h0M411 490h0M404 626h0M418 467h0M390 605h0M409 504h0M398 529h0M403 621h0M425 633h0M410 547h0M431 539h0M398 600h0M420 396h0M416 449h0M405 664h0M425 551h0M414 442h0M410 589h0M397 646h0M405 609h0M421 584h0M411 463h0M392 473h0M397 555h0M396 570h0M405 508h0M411 377h0M410 605h0M401 396h0M399 446h0M412 599h0M418 545h0M414 516h0M423 517h0"/><path d="M395 495h0M409 370h0M428 617h0M418 540h0M407 367h0M417 536h0M401 409h0M408 539h0M423 469h0M417 587h0M432 617h0M395 660h0M404 722h0M412 463h0M401 576h0M391 595h0M417 566h0M401 447h0M403 549h0M392 448h0M390 510h0M426 566h0M406 598h0M400 475h0M422 597h0M413 513h0M396 515h0M410 522h0M425 528h0M411 536h0M418 485h0M401 559h0M393 568h0M397 504h0M397 374h0M432 521h0M423 639h0M393 546h0M426 527h0M410 631h0M399 375h0M392 499h0M422 630h0M404 500h0M399 544h0M413 474h0M403 511h0M390 431h0M416 347h0M404 201h0M395 501h0M399 631h0M400 588h0M397 475h0M413 631h0M396 521h0M395 351h0M408 423h0M405 497h0M391 490h0M401 549h0M428 502h0M421 546h0M395 512h0M394 585h0M393 439h0M419 520h0M417 628h0M427 514h0M407 589h0M425 589h0M414 510h0M403 543h0M419 563h0M391 403h0M416 552h0M393 520h0M401 549h0M430 443h0M406 585h0M391 405h0M414 494h0M395 573h0M394 476h0M420 394h0M417 366h0M425 424h0M407 598h0M400 549h0M420 468h0M414 584h0M392 519h0M395 652h0M418 570h0M426 467h0M413 480h0M408 359h0M409 567h0M427 488h0M406 490h0M425 653h0M391 580h0M392 568h0M408 532h0M422 335h0M413 464h0M394 338h0M413 587h0M425 588h0M396 579h0M414 591h0M399 394h0M409 662h0"/><path d="M400 421h0M406 606h0M413 541h0M413 583h0M431 575h0M397 563h0M423 467h0M405 542h0M416 498h0M431 451h0M407 589h0M415 373h0M407 540h0M417 584h0M409 600h0M409 504h0M394 466h0M401 587h0M431 485h0M412 435h0M412 616h0M412 427h0M431 563h0M420 462h0M406 580h0M413 471h0M391 453h0M431 504h0M420 620h0M392 483h0M426 531h0M425 455h0M410 506h0M422 516h0M399 570h0M403 582h0M411 560h0M426 543h0M408 398h0M408 515h0M411 504h0M417 503h0M405 441h0M430 545h0M390 344h0M422 524h0M431 534h0M400 406h0M417 621h0M424 519h0M412 563h0M429 595h0M402 649h0M417 534h0M426 558h0M401 476h0M399 602h0M401 630h0M421 559h0M400 469h0M397 517h0M396 542h0M408 602h0M421 493h0M417 477h0M431 488h0M422 624h0M394 393h0M418 471h0M399 401h0M411 454h0M404 391h0M432 580h0M411 558h0M432 521h0M423 613h0M419 447h0M409 579h0M410 539h0M417 456h0M432 529h0M407 571h0M397 450h0M429 493h0M397 466h0M414 534h0M430 511h0M398 534h0M427 381h0M402 615h0M426 454h0M405 483h0M391 614h0M394 576h0M416 489h0M412 375h0M396 571h0M396 576h0M432 433h0M399 509h0M398 508h0M432 594h0M418 446h0M430 488h0M417 420h0M432 505h0M410 474h0M411 600h0M424 608h0M410 453h0M408 533h0M432 521h0M396 636h0"/><path d="M416 564h0M423 457h0M427 534h0M396 522h0M403 521h0M405 496h0M399 437h0M419 542h0M426 601h0M423 598h0M393 597h0M423 477h0M431 456h0M393 567h0M432 561h0M420 549h0M391 434h0M397 614h0M426 607h0M428 468h0M411 459h0M419 501h0M427 626h0M408 549h0M392 371h0M418 542h0M422 323h0M432 590h0M424 592h0M399 627h0M395 349h0M427 426h0M404 466h0M414 514h0M421 471h0M413 503h0M406 497h0M405 542h0M404 567h0M424 591h0M397 554h0M431 428h0M407 568h0M421 488h0M396 538h0M391 572h0M401 583h0M419 602h0M390 636h0M416 602h0M428 427h0M420 493h0M417 532h0M422 453h0M424 567h0M417 427h0M400 570h0M408 520h0M397 448h0M429 479h0M429 418h0M432 415h0M411 537h0M404 491h0M394 434h0M395 364h0M395 554h0M423 543h0M403 484h0M406 487h0M413 425h0M421 600h0M424 547h0M429 490h0M421 505h0M420 579h0M404 484h0M420 549h0M426 496h0M423 544h0M392 370h0M397 462h0M397 454h0M414 463h0M427 485h0M410 485h0M390 417h0M414 585h0M415 575h0M412 540h0M392 543h0M419 484h0M395 512h0M411 467h0M430 562h0M400 604h0M426 541h0M394 444h0M400 529h0M418 603h0M409 542h0M431 601h0M431 478h0M412 499h0M420 527h0M414 554h0M423 446h0M425 457h0M430 495h0M432 492h0M429 518h0M424 486h0M423 614h0"/><path d="M416 376h0M401 541h0M424 521h0M400 458h0M410 627h0M416 573h0M404 584h0M413 467h0M414 466h0M406 495h0M423 525h0M422 541h0M417 348h0M395 464h0M422 506h0M391 570h0M394 410h0M416 534h0M421 386h0M410 535h0M416 667h0M422 517h0M423 655h0M391 517h0M417 523h0M394 388h0M398 540h0M410 501h0M412 501h0M391 414h0M395 591h0M411 458h0M422 454h0M400 497h0M406 461h0M428 470h0M419 519h0M394 612h0M412 397h0M421 589h0M410 447h0M398 372h0M414 526h0M393 479h0M423 532h0M402 473h0M404 647h0M410 454h0M403 501h0M401 501h0M397 435h0M423 592h0M428 574h0M402 562h0M423 405h0M420 569h0M416 487h0M416 592h0M392 501h0M419 614h0M403 519h0M412 365h0M393 539h0M425 532h0M431 483h0M393 514h0M394 595h0M410 663h0M423 424h0M430 417h0M404 465h0M404 653h0M422 510h0M392 442h0M430 566h0M425 556h0M418 569h0M397 558h0M398 605h0M412 457h0M423 554h0M430 416h0M421 493h0M416 529h0M422 450h0M390 688h0M404 490h0M414 459h0M395 447h0M408 557h0M421 466h0M425 449h0M420 504h0M406 535h0M399 597h0M398 569h0M393 583h0M423 499h0M422 565h0M415 388h0M410 541h0M400 543h0M403 628h0M406 463h0M419 628h0M407 529h0M397 596h0M390 501h0M409 467h0M400 483h0M399 606h0M428 487h0M401 592h0"/><path d="M397 454h0M431 511h0M426 605h0M416 544h0M425 399h0M406 386h0M417 539h0M408 550h0M427 518h0M430 570h0M406 542h0M392 536h0M394 379h0M414 628h0M403 432h0M416 539h0M412 513h0M400 526h0M412 561h0M403 564h0M411 531h0M424 529h0M391 404h0M403 423h0M423 588h0M402 579h0M396 486h0M421 606h0M396 527h0M401 595h0M410 609h0M426 624h0M423 623h0M422 415h0M430 467h0M394 608h0M426 474h0M427 523h0M431 639h0M398 497h0M428 614h0M408 639h0M431 538h0M417 535h0M415 559h0M399 515h0M424 602h0M401 432h0M393 611h0M409 477h0M415 532h0M390 532h0M427 482h0M429 491h0M393 559h0M410 518h0M405 355h0M395 594h0M391 655h0M401 557h0M411 619h0M393 566h0M414 575h0M412 522h0M412 529h0M402 527h0M413 444h0M426 522h0M418 551h0M391 447h0M422 448h0M418 562h0M404 540h0M401 524h0M412 484h0M400 649h0M427 519h0M431 506h0M401 548h0M406 364h0M413 518h0M424 608h0M424 601h0M427 526h0M402 477h0M416 480h0M424 470h0M402 613h0M419 551h0M427 362h0M410 474h0M431 373h0M416 461h0M413 466h0M428 564h0M414 524h0M393 522h0M398 460h0M394 591h0M392 464h0M396 478h0M429 424h0M403 547h0M417 487h0M414 539h0M428 493h0M412 504h0M428 400h0M391 468h0M397 553h0M407 509h0M424 481h0M399 534h0"/><path d="M429 417h0M395 552h0M403 514h0M408 586h0M397 451h0M423 494h0M396 684h0M430 610h0M404 490h0M432 605h0M414 549h0M394 409h0M414 520h0M410 620h0M414 575h0M390 387h0M395 457h0M422 571h0M399 581h0M411 487h0M415 495h0M422 422h0M420 544h0M427 516h0M404 632h0M411 590h0M422 590h0M404 332h0M429 454h0M395 573h0M394 522h0M414 612h0M417 499h0M426 473h0M393 539h0M418 349h0M425 468h0M416 591h0M425 525h0M416 576h0M397 551h0M427 370h0M400 532h0M414 527h0M391 480h0M394 354h0M395 530h0M402 595h0M391 528h0M416 488h0M405 633h0M420 565h0M428 375h0M414 531h0M419 543h0M398 528h0M428 552h0M392 556h0M409 560h0M414 528h0M396 589h0M412 436h0M390 685h0M396 535h0M432 492h0M419 458h0M402 638h0M430 580h0M392 560h0M432 489h0M402 554h0M405 634h0M424 422h0M394 571h0M408 530h0M391 534h0M395 517h0M432 603h0M431 552h0M425 683h0M401 521h0M390 525h0M430 481h0M401 497h0M409 645h0M418 587h0M421 546h0M419 511h0M411 488h0M391 580h0M407 610h0M407 398h0M431 538h0M431 527h0M417 508h0M407 454h0M411 554h0M426 550h0M400 510h0M421 550h0M429 595h0M411 511h0M405 462h0M406 597h0M409 439h0M422 532h0M428 541h0M422 417h0M409 510h0M403 536h0M411 554h0M432 483h0M412 576h0"/><path d="M432 561h0M415 495h0M417 550h0M419 484h0M428 510h0M407 563h0M430 479h0M407 509h0M424 547h0M419 489h0M430 513h0M411 556h0M405 488h0M417 564h0M401 406h0M421 562h0M402 399h0M409 599h0M406 644h0M417 549h0M396 616h0M398 439h0M431 645h0M417 518h0M404 594h0M423 512h0M402 379h0M397 607h0M410 315h0M419 564h0M416 584h0M432 540h0M392 543h0M430 451h0M390 538h0M398 526h0M413 517h0M411 501h0M430 512h0M405 501h0M413 656h0M399 537h0M424 512h0M400 558h0M416 592h0M425 529h0M394 486h0M407 595h0M412 421h0M432 585h0M419 617h0M410 627h0M413 491h0M425 623h0M405 630h0M399 585h0M412 459h0M421 508h0M426 539h0M432 575h0M391 359h0M414 575h0M413 537h0M425 507h0M405 566h0M399 696h0M415 490h0M395 643h0M413 551h0M416 584h0M411 420h0M426 508h0M408 363h0M404 593h0M398 473h0M412 585h0M400 505h0M394 605h0M414 630h0M431 475h0M425 550h0M406 512h0M410 441h0M431 645h0M427 473h0M392 655h0M423 526h0M400 574h0M400 524h0M425 527h0M392 600h0M412 469h0M428 532h0M393 447h0M401 481h0M395 634h0M426 571h0M408 629h0M412 476h0M411 461h0M395 537h0M400 584h0M415 284h0M415 547h0M402 649h0M396 472h0M414 387h0M415 453h0M396 522h0M422 467h0M426 507h0M425 442h0M427 438h0"/><path d="M394 535h0M426 364h0M398 481h0M406 623h0M412 566h0M391 505h0M393 409h0M398 636h0M421 481h0M392 473h0M408 538h0M391 420h0M430 512h0M427 517h0M392 388h0M396 484h0M397 502h0M394 538h0M404 588h0M428 506h0M405 604h0M400 491h0M416 517h0M427 573h0M396 430h0M410 574h0M408 549h0M417 371h0M397 658h0M427 495h0M410 485h0M429 360h0M405 574h0M407 631h0M409 479h0M430 474h0M426 542h0M407 498h0M392 560h0M418 549h0M430 480h0M424 633h0M431 539h0M390 566h0M412 606h0M402 439h0M428 563h0M412 533h0M417 501h0M414 562h0M424 467h0M394 484h0M429 369h0M410 428h0M400 574h0M400 473h0M392 349h0M428 541h0M418 538h0M406 555h0M415 587h0M429 473h0M407 445h0M430 424h0M407 648h0M407 488h0M404 404h0M429 536h0M393 522h0M395 620h0M432 533h0M402 529h0M420 520h0M410 597h0M409 507h0M391 454h0M391 613h0M398 504h0M423 600h0M416 525h0M406 589h0M397 621h0M416 565h0M399 531h0M423 476h0M428 510h0M419 596h0M401 512h0M406 507h0M414 520h0M412 514h0M400 496h0M427 471h0M418 437h0M432 550h0M391 534h0M412 579h0M400 605h0M401 560h0M411 556h0M400 578h0M431 452h0M399 397h0M422 517h0M391 581h0M421 467h0M411 562h0M410 513h0M427 500h0M431 577h0M399 500h0M410 591h0M400 584h0"/><path d="M414 466h0M393 393h0M417 442h0M415 449h0M401 431h0M390 620h0M414 501h0M402 567h0M421 579h0M425 462h0M407 579h0M417 534h0M429 554h0M426 480h0M419 523h0M424 538h0M390 502h0M406 624h0M413 644h0M421 463h0M423 577h0M422 498h0M422 543h0M409 390h0M432 496h0M400 400h0M391 587h0M404 491h0M395 578h0M414 561h0M408 547h0M430 504h0M406 543h0M425 502h0M401 605h0M394 390h0M427 562h0M396 560h0M398 616h0M391 646h0M423 477h0M416 579h0M412 556h0M396 517h0M405 488h0M422 513h0M403 572h0M403 520h0M402 559h0M426 387h0M401 347h0M414 579h0M415 353h0M417 529h0M400 572h0M394 578h0M425 615h0M394 585h0M408 605h0M418 449h0M391 650h0M401 585h0M425 448h0M393 598h0M412 507h0M427 571h0M423 369h0M419 526h0M404 479h0M406 553h0M414 497h0M390 495h0M399 499h0M393 407h0M416 401h0M409 562h0M429 507h0M416 390h0M401 502h0M422 508h0M393 421h0M400 289h0M391 461h0M399 507h0M413 571h0M399 437h0M429 577h0M410 480h0M426 572h0M423 548h0M428 551h0M403 555h0M396 472h0M429 451h0M398 647h0M424 529h0M425 485h0M401 484h0M403 640h0M401 535h0M397 467h0M397 454h0M393 482h0M432 411h0M415 497h0M421 386h0M391 379h0M407 490h0M402 501h0M428 424h0M423 593h0M396 443h0M398 507h0"/><path d="M406 603h0M390 601h0M419 527h0M405 519h0M424 538h0M405 613h0M400 466h0M418 394h0M398 501h0M426 557h0M412 455h0M430 220h0M401 570h0M415 545h0M408 470h0M391 585h0M399 443h0M420 573h0M397 440h0M407 546h0M412 526h0M403 666h0M406 538h0M398 628h0M422 430h0M396 519h0M418 436h0M423 616h0M390 598h0M431 632h0M417 475h0M423 630h0M393 417h0M404 498h0M419 560h0M405 559h0M425 527h0M397 549h0M408 419h0M396 539h0M419 443h0M398 576h0M431 601h0M430 466h0M398 541h0M409 472h0M416 485h0M393 517h0M394 543h0M419 476h0M427 524h0M412 542h0M402 546h0M417 516h0M412 562h0M429 549h0M405 587h0M419 437h0M423 507h0M410 529h0M396 626h0M413 465h0M408 424h0M411 522h0M421 410h0M424 569h0M428 489h0M418 503h0M427 479h0M424 585h0M399 494h0M402 407h0M431 605h0M390 461h0M394 509h0M420 453h0M406 507h0M408 557h0M404 628h0M411 406h0M411 498h0M412 676h0M394 433h0M418 446h0M424 540h0M393 498h0M406 595h0M430 601h0M402 609h0M409 445h0M413 445h0M429 395h0M398 416h0M416 476h0M428 598h0M396 483h0M424 526h0M393 509h0M421 515h0M401 504h0M392 617h0M419 550h0M411 456h0M421 540h0M417 640h0M404 512h0M397 432h0M395 522h0M404 473h0M409 431h0M431 547h0M410 504h0M424 410h0"/><path d="M411 541h0M427 540h0M400 485h0M392 627h0M405 605h0M416 545h0M399 465h0M430 568h0M392 486h0M394 530h0M430 496h0M409 551h0M428 521h0M413 462h0M425 623h0M424 551h0M409 564h0M421 543h0M390 617h0M420 481h0M395 580h0M400 663h0M400 615h0M401 531h0M409 382h0M425 492h0M426 540h0M427 503h0M425 507h0M399 506h0M428 482h0M409 494h0M413 584h0M428 505h0M410 570h0M390 532h0M393 440h0M395 432h0M416 475h0M394 625h0M431 434h0M401 503h0M391 590h0M431 514h0M423 481h0M417 613h0M398 634h0M430 479h0M425 422h0M424 512h0M396 508h0M428 385h0M428 125h0M400 621h0M390 508h0M399 587h0M394 544h0M428 497h0M426 653h0M410 552h0M396 507h0M410 538h0M425 489h0M407 455h0M420 490h0M394 420h0M422 371h0M415 512h0M430 512h0M398 570h0M391 544h0M413 487h0M406 314h0M422 473h0M432 299h0M392 598h0M427 436h0M411 505h0M393 564h0M402 538h0M393 422h0M417 555h0M410 570h0M424 595h0M400 563h0M409 686h0M421 495h0M404 451h0M392 517h0M431 406h0M410 561h0M419 453h0M391 599h0M412 488h0M422 517h0M393 491h0M390 565h0M404 345h0M431 484h0M421 565h0M429 558h0M392 565h0M405 527h0M399 597h0M428 449h0M405 541h0M431 583h0M412 575h0M399 471h0M397 488h0M390 514h0M409 605h0M403 522h0"/><path d="M406 486h0M401 546h0M390 494h0M428 551h0M407 461h0M392 478h0M425 468h0M412 533h0M429 470h0M410 603h0M404 633h0M396 617h0M407 476h0M432 486h0M398 604h0M426 502h0M425 536h0M406 573h0M418 548h0M419 565h0M430 571h0M422 575h0M413 466h0M414 437h0M392 512h0M418 474h0M397 600h0M415 617h0M418 487h0M420 536h0M406 542h0M422 473h0M408 368h0M408 448h0M411 561h0M400 545h0M393 526h0M419 517h0M405 561h0M390 595h0M412 522h0M412 637h0M406 570h0M405 477h0M422 455h0M391 552h0M408 452h0M427 646h0M421 444h0M424 533h0M409 539h0M424 555h0M416 562h0M422 587h0M423 527h0M413 595h0M391 565h0M432 502h0M396 532h0M406 600h0M425 583h0M404 572h0M422 515h0M394 549h0M414 479h0M430 453h0M397 482h0M402 548h0M400 533h0M429 567h0M424 581h0M413 578h0M391 554h0M421 404h0M410 539h0M400 546h0M406 577h0M428 572h0M412 553h0M404 503h0M420 496h0M399 580h0M411 491h0M422 577h0M400 519h0M403 512h0M412 570h0M406 588h0M402 513h0M395 484h0M403 536h0M426 553h0M396 457h0M424 414h0M410 531h0M411 409h0M401 467h0M416 512h0M397 445h0M392 439h0M398 497h0M404 552h0M395 522h0M431 430h0M425 491h0M411 573h0M431 622h0M426 581h0M404 612h0M399 316h0M408 544h0M406 370h0M391 632h0"/><path d="M422 610h0M405 492h0M397 578h0M398 503h0M414 426h0M400 587h0M398 523h0M410 548h0M399 482h0M425 545h0M426 563h0M394 502h0M394 622h0M418 542h0M416 484h0M429 538h0M395 392h0M427 465h0M413 486h0M401 628h0M402 564h0M390 630h0M419 480h0M421 615h0M422 477h0M417 627h0M400 555h0M427 512h0M421 469h0M409 448h0M407 548h0M420 514h0M420 673h0M419 534h0M426 547h0M425 492h0M391 563h0M395 380h0M417 448h0M427 581h0M416 535h0M423 503h0M409 508h0M412 514h0M400 575h0M391 462h0M402 528h0M414 536h0M421 652h0M400 463h0M407 447h0M391 574h0M394 437h0M399 412h0M431 479h0M399 564h0M415 497h0M398 518h0M407 537h0M407 410h0M417 502h0M405 570h0M413 505h0M398 394h0M400 473h0M425 533h0M410 522h0M430 355h0M423 403h0M426 558h0M412 537h0M390 502h0M422 514h0M400 499h0M413 600h0M392 457h0M404 411h0M397 458h0M392 498h0M396 557h0M398 534h0M415 530h0M431 483h0M419 545h0M400 440h0M425 555h0M432 609h0M391 621h0M394 512h0M395 491h0M429 702h0M424 398h0M417 585h0M426 459h0M393 635h0M400 575h0M390 389h0M402 479h0M414 476h0M395 482h0M419 617h0M409 645h0M395 614h0M430 473h0M407 587h0M425 533h0M412 497h0M392 545h0M420 538h0M398 539h0M432 490h0M420 627h0M396 487h0"/><path d="M407 502h0M424 450h0M432 442h0M431 559h0M425 528h0M412 475h0M416 596h0M412 593h0M422 387h0M415 597h0M415 589h0M405 544h0M397 506h0M419 596h0M406 346h0M405 515h0M421 435h0M425 604h0M403 593h0M421 535h0M410 491h0M410 621h0M392 484h0M432 501h0M417 518h0M423 568h0M418 556h0M423 504h0M431 570h0M400 454h0M414 672h0M403 623h0M424 414h0M397 548h0M398 620h0M418 508h0M408 569h0M409 509h0M404 592h0M421 519h0M400 373h0M419 478h0M399 497h0M408 580h0M404 473h0M411 540h0M421 569h0M423 608h0M425 547h0M426 548h0M427 585h0M432 561h0M422 520h0M412 538h0M395 490h0M414 539h0M428 519h0M392 571h0M426 613h0M413 619h0M430 585h0M423 450h0M404 591h0M425 416h0M393 669h0M400 607h0M410 665h0M429 528h0M396 502h0M402 624h0M413 479h0M400 499h0M396 607h0M418 549h0M426 610h0M411 610h0M419 305h0M414 533h0M432 575h0M392 582h0M392 555h0M431 560h0M432 566h0M394 643h0M431 589h0M395 574h0M419 577h0M425 608h0M424 520h0M409 515h0M426 579h0M414 470h0M407 567h0M407 542h0M401 552h0M430 494h0M415 630h0M423 437h0M410 497h0M418 432h0M408 379h0M421 455h0M418 617h0M407 484h0M430 585h0M398 485h0M390 527h0M412 483h0M422 457h0M401 411h0M427 391h0M426 513h0M407 521h0"/></g>
<path d="M192 346.6V478.2M192 567.9V700" stroke="#474747" stroke-width="2"/>
<rect x="159" y="478" width="66" height="90" fill="#fff" fill-opacity="0.17" stroke="#444" stroke-width="2"/>
<path d="M159 522.8H225" stroke="#4d4d4d" stroke-width="3.6"/>
<path d="M411 350.5V481.9M411 570V702" stroke="#474747" stroke-width="2"/>
<rect x="378" y="482" width="66" height="88" fill="#fff" fill-opacity="0.17" stroke="#444" stroke-width="2"/>
<path d="M378 528H444" stroke="#4d4d4d" stroke-width="3.6"/>
<path d="M192.3 203.1C192.6 214.6 193.5 252.3 193.9 272C194.3 291.6 194.2 307.3 194.6 321C195 334.7 195.5 343.1 196.4 354C197.3 364.9 198.1 375.8 200.1 386.7C202.1 397.6 206.1 411.3 208.3 419.5C210.6 427.7 211.6 430.6 213.6 436C215.6 441.4 218.5 448 220.3 452C222.1 456 222.8 457.2 224.3 460C225.8 462.8 227.7 466 229.3 469C230.9 472 231.9 473.7 233.8 478C235.8 482.3 238.8 488 241 495C243.2 502 246.5 511.2 246.7 520C246.9 528.8 243.6 540.5 242.3 548C241 555.5 240.6 559.2 238.8 565C237.1 570.8 234.5 577.1 231.8 583C229.1 588.9 225.8 594.7 222.6 600.5C219.4 606.3 215.3 612.1 212.5 618C209.7 623.9 207.6 629.8 205.5 635.6C203.4 641.4 201.7 647.1 200.2 653C198.7 658.9 197.6 664.8 196.7 670.7C195.8 676.6 195.1 682.4 194.6 688.3C194.1 694.1 193.9 698.5 193.5 705.8C193.1 713.1 192.5 727.6 192.3 732C192.1 727.6 191.5 713.1 191.1 705.8C190.7 698.5 190.5 694.1 190 688.3C189.5 682.4 188.8 676.6 187.9 670.7C187 664.8 185.9 658.9 184.4 653C182.9 647.1 181.2 641.4 179.1 635.6C177.1 629.8 175 623.9 172.1 618C169.3 612.1 165.2 606.3 162 600.5C158.8 594.7 155.5 588.9 152.8 583C150.1 577.1 147.6 570.8 145.8 565C144.1 559.2 143.6 555.5 142.3 548C141 540.5 137.7 528.8 137.9 520C138.1 511.2 141.5 502 143.6 495C145.8 488 148.9 482.3 150.8 478C152.8 473.7 153.7 472 155.3 469C156.9 466 158.8 462.8 160.3 460C161.8 457.2 162.5 456 164.3 452C166.1 448 169 441.4 171 436C173 430.6 174.1 427.7 176.3 419.5C178.6 411.3 182.5 397.6 184.5 386.7C186.5 375.8 187.3 364.9 188.2 354C189.1 343.1 189.6 334.7 190 321C190.4 307.3 190.3 291.6 190.7 272C191.1 252.3 192 214.6 192.3 203.1Z" fill="#fff" fill-opacity="0.15" stroke="#1a1a1a" stroke-width="2.1" stroke-linejoin="round"/>
<path d="M411.1 124.9C411.3 149.7 412 242.6 412.5 273.4C413 304.2 413.3 297.6 413.9 309.7C414.5 321.8 415.4 336.9 416.1 346C416.8 355.1 417.2 357.9 417.9 364C418.7 370.1 419.7 376.3 420.6 382.3C421.5 388.3 422.1 393.9 423.1 400C424.1 406.1 424.9 412.4 426.6 418.7C428.3 424.9 430.5 431.2 433.1 437.5C435.8 443.8 439.4 449.9 442.5 456.2C445.6 462.4 448.7 468.8 451.4 475C454.1 481.2 457.1 487.5 458.9 493.7C460.7 499.9 461 504.6 462.1 512.4C463.2 520.2 465.2 532.8 465.5 540.6C465.8 548.4 465.5 553.1 464.1 559.3C462.7 565.5 460.2 571.8 457 578C453.8 584.2 448.4 590.5 444.8 596.8C441.2 603 438.3 609.2 435.5 615.5C432.7 621.8 430.4 628 428 634.3C425.6 640.5 423.4 646.8 421.4 653C419.5 659.2 417.6 665.5 416.3 671.7C415.1 678 414.5 684.2 413.9 690.5C413.3 696.8 413.1 704 412.6 709.2C412.1 714.4 411.4 719.6 411.1 721.7C410.9 719.6 410.1 714.4 409.6 709.2C409.1 704 408.9 696.8 408.3 690.5C407.7 684.2 407.2 678 405.9 671.7C404.7 665.5 402.8 659.2 400.8 653C398.9 646.8 396.6 640.5 394.2 634.3C391.9 628 389.5 621.8 386.7 615.5C383.9 609.2 381 603 377.4 596.8C373.8 590.5 368.4 584.2 365.2 578C362 571.8 359.5 565.5 358.1 559.3C356.7 553.1 356.4 548.4 356.7 540.6C357 532.8 359 520.2 360.1 512.4C361.2 504.6 361.5 499.9 363.3 493.7C365.1 487.5 368.1 481.2 370.8 475C373.5 468.8 376.7 462.4 379.7 456.2C382.8 449.9 386.5 443.8 389.1 437.5C391.8 431.2 393.9 424.9 395.6 418.7C397.3 412.4 398.1 406.1 399.1 400C400.1 393.9 400.7 388.3 401.6 382.3C402.5 376.3 403.6 370.1 404.3 364C405.1 357.9 405.4 355.1 406.1 346C406.8 336.9 407.7 321.8 408.3 309.7C408.9 297.6 409.2 304.2 409.7 273.4C410.2 242.6 410.9 149.7 411.1 124.9Z" fill="#fff" fill-opacity="0.15" stroke="#1a1a1a" stroke-width="2.1" stroke-linejoin="round"/>
<circle cx="192.3" cy="521.2" r="11.5" fill="#8b0000"/>
<circle cx="201.3" cy="521.2" r="1.4" fill="#000"/>
<path d="M208.8 521.2H216.3" stroke="#000" stroke-width="1.6"/>
<circle cx="411.1" cy="523.3" r="11.5" fill="#8b0000"/>
<path d="M412.1 523.3H416.1" stroke="#000" stroke-width="1.6"/>
<g font-family="'Liberation Sans', Arial, Helvetica, sans-serif" fill="#000">
<rect x="224" y="505.5" width="111.8" height="31.2" rx="3.8" fill="#fff" stroke="#1f1f1f" stroke-width="1.4"/><text x="230" y="526.6" font-size="17.3">μ</text><text x="228.03" y="523.85" font-family="'DejaVu Sans', sans-serif" font-size="17.5">^</text><text x="240.1" y="529.8" font-size="11.7">mean</text><text transform="translate(278.05 526.6) scale(1.08 1)" x="-5.05" font-size="17.3">=</text><text x="286.2" y="526.6" font-size="17.3">5.138</text>
<rect x="424" y="507.6" width="111.8" height="31.2" rx="3.8" fill="#fff" stroke="#1f1f1f" stroke-width="1.4"/><text x="430" y="528.7" font-size="17.3">μ</text><text x="428.03" y="525.95" font-family="'DejaVu Sans', sans-serif" font-size="17.5">^</text><text x="440.1" y="531.9" font-size="11.7">mean</text><text transform="translate(478.05 528.7) scale(1.08 1)" x="-5.05" font-size="17.3">=</text><text x="486.2" y="528.7" font-size="17.3">5.105</text>
</g>
<rect x="62" y="96" width="479" height="666" fill="none" stroke="#000" stroke-width="2"/>
<path d="M57 740.2H62.2M57 600.7H62.2M57 461.2H62.2M57 321.7H62.2M57 182.2H62.2M192.3 761.6V766.8M411.1 761.6V766.8" stroke="#333" stroke-width="1.7"/>
<g font-family="'Liberation Sans', Arial, Helvetica, sans-serif" font-size="15.1" fill="#333" text-anchor="end">
<text x="52.4" y="745.5">2</text>
<text x="52.4" y="606">4</text>
<text x="52.4" y="466.5">6</text>
<text x="52.4" y="327">8</text>
<text x="52.4" y="187.5">10</text>
</g>
<g font-family="'Liberation Sans', Arial, Helvetica, sans-serif" font-size="15.1" fill="#333" text-anchor="middle">
<text x="192.3" y="782.4">Persistent infection</text>
<text x="192.3" y="798">(n = 1,280)</text>
<text x="411.1" y="782.4">Persistent negative</text>
<text x="411.1" y="798">(n = 2,719)</text>
</g>
<text x="301.5" y="820.3" font-family="'Liberation Sans', Arial, Helvetica, sans-serif" font-size="19.1" font-weight="bold" text-anchor="middle">H.pylori</text>
<text transform="translate(27 428.95) rotate(-90)" font-family="'Liberation Sans', Arial, Helvetica, sans-serif" font-size="19.1" font-weight="bold" text-anchor="middle">TC</text>
<g font-family="'Liberation Sans', Arial, Helvetica, sans-serif" fill="#000"><text x="61.1" y="74.8" font-size="19.3" font-style="italic">t</text><text x="68.2" y="78.7" font-size="13.25">Student</text><text x="114.1" y="74.8" font-size="19.3">(3997)</text><text transform="translate(178.53 74.8) scale(1.15 1)" x="-5.64" font-size="19.3">=</text><text x="188.46" y="74.8" font-size="19.3">1.017,</text><text x="245.82" y="74.8" font-size="19.3" font-style="italic">p</text><text transform="translate(266.99 74.8) scale(1.15 1)" x="-5.64" font-size="19.3">=</text><text x="276.93" y="74.8" font-size="19.3">0.309</text></g>
<text transform="translate(4.43 32.8) scale(0.79 1)" font-family="'Liberation Sans', Arial, Helvetica, sans-serif" font-size="43" font-weight="bold">A</text>
<path d="M756.4 697.5H1241.8M756.4 468.5H1241.8M756.4 239.5H1241.8" stroke="#efefef" stroke-width="2" fill="none"/>
<path d="M756.4 583H1241.8M756.4 354H1241.8M756.4 125H1241.8M887.6 97.3V760.6M1110.2 97.3V760.6" stroke="#e3e3e3" stroke-width="1.6" fill="none"/>
<g stroke="#1b9e77" stroke-opacity="0.45" stroke-width="11.6" stroke-linecap="round" fill="none"><path d="M907 440h0M872 391h0M890 329h0M885 455h0M874 513h0M881 409h0M894 583h0M878 550h0M896 529h0M896 522h0M894 477h0M868 393h0M903 616h0M885 446h0M906 545h0M884 475h0M870 489h0M906 439h0M868 432h0M905 584h0M876 540h0M897 461h0M885 427h0M905 533h0M867 410h0M867 608h0M889 653h0M875 407h0M897 556h0M867 416h0M877 430h0M894 342h0M899 438h0M884 526h0M884 594h0M895 524h0M873 390h0M875 551h0M872 438h0M883 535h0M873 386h0M883 507h0M909 699h0M868 592h0M897 482h0M904 607h0M875 562h0M889 446h0M893 491h0M867 450h0M896 432h0M873 474h0M887 557h0M903 415h0"/><path d="M867 422h0M882 648h0M909 452h0M903 491h0M876 521h0M890 478h0M889 396h0M905 454h0M881 467h0M908 383h0M871 465h0M876 584h0M895 415h0M891 505h0M874 467h0M894 470h0M904 584h0M876 361h0M884 473h0M877 512h0M903 408h0M872 375h0M878 297h0M894 451h0M876 553h0M894 523h0M908 409h0M888 552h0M906 345h0M886 354h0M907 574h0M902 407h0M871 461h0M873 576h0M868 500h0M873 259h0M886 366h0M867 478h0M885 260h0M895 537h0M888 386h0M873 543h0M871 246h0M898 567h0M888 350h0M867 435h0M878 518h0M879 487h0M908 577h0M877 431h0M874 595h0M892 406h0M871 511h0M870 477h0"/><path d="M873 543h0M906 515h0M897 447h0M885 301h0M905 447h0M867 333h0M882 571h0M901 376h0M872 400h0M896 475h0M895 605h0M880 472h0M907 476h0M906 446h0M902 557h0M866 385h0M879 535h0M869 472h0M896 501h0M900 568h0M906 629h0M902 337h0M868 576h0M892 469h0M872 502h0M891 372h0M898 418h0M889 532h0M899 401h0M879 553h0M874 529h0M876 438h0M891 481h0M896 666h0M867 336h0M871 336h0M906 317h0M872 574h0M883 349h0M896 347h0M900 490h0M887 479h0M866 546h0M903 431h0M877 514h0M905 509h0M887 597h0M895 444h0M896 574h0M895 378h0M877 530h0M887 623h0M887 497h0M868 605h0"/><path d="M897 511h0M898 548h0M874 432h0M882 470h0M885 582h0M875 468h0M892 601h0M907 397h0M874 519h0M899 489h0M883 316h0M883 527h0M907 562h0M903 576h0M871 393h0M890 410h0M873 516h0M889 515h0M875 577h0M904 556h0M873 375h0M883 266h0M875 415h0M875 434h0M872 482h0M884 614h0M886 661h0M871 472h0M886 434h0M881 514h0M883 496h0M871 492h0M869 363h0M908 523h0M877 481h0M874 310h0M899 580h0M905 494h0M895 612h0M886 434h0M903 607h0M874 575h0M904 512h0M889 350h0M900 461h0M901 322h0M870 606h0M893 483h0M898 297h0M895 355h0M883 437h0M885 587h0M905 541h0M901 483h0"/><path d="M895 527h0M892 471h0M895 422h0M881 414h0M872 601h0M894 389h0M873 540h0M904 478h0M880 459h0M880 540h0M870 404h0M875 373h0M889 445h0M897 481h0M898 348h0M899 567h0M876 341h0M873 612h0M875 478h0M892 470h0M883 523h0M875 591h0M875 388h0M901 499h0M907 539h0M904 376h0M885 494h0M876 393h0M884 428h0M889 481h0M880 511h0M908 439h0M883 465h0M892 504h0M868 461h0M881 497h0M904 459h0M883 481h0M874 466h0M901 487h0M869 479h0M901 443h0M901 480h0M894 511h0M869 482h0M876 435h0M906 610h0M890 414h0M873 371h0M872 615h0M878 361h0M869 468h0M901 440h0M892 521h0"/><path d="M892 269h0M904 416h0M876 516h0M888 537h0M889 364h0M892 583h0M875 468h0M877 508h0M887 325h0M889 595h0M876 567h0M895 502h0M902 498h0M902 716h0M897 571h0M878 617h0M903 490h0M879 513h0M889 497h0M880 510h0M898 395h0M886 389h0M890 458h0M893 384h0M892 304h0M881 402h0M882 530h0M888 371h0M868 416h0M905 424h0M899 466h0M881 296h0M882 442h0M881 426h0M883 650h0M903 428h0M895 433h0M906 576h0M884 575h0M881 305h0M867 516h0M909 396h0M873 409h0M872 692h0M870 499h0M867 536h0M891 390h0M903 545h0M883 498h0M891 411h0M883 362h0M903 363h0M898 538h0M886 579h0"/><path d="M877 438h0M908 425h0M881 430h0M901 395h0M870 401h0M906 454h0M874 524h0M877 333h0M888 449h0M888 500h0M896 434h0M871 400h0M880 496h0M875 373h0M909 431h0M891 391h0M887 494h0M874 525h0M869 391h0M891 543h0M891 374h0M889 479h0M875 489h0M902 557h0M903 540h0M893 478h0M908 322h0M879 532h0M909 449h0M889 554h0M907 509h0M890 591h0M897 388h0M880 380h0M900 451h0M894 541h0M901 517h0M890 387h0M879 512h0M883 469h0M881 415h0M885 563h0M886 276h0M873 286h0M882 388h0M881 441h0M886 499h0M877 537h0M892 530h0M885 378h0M869 404h0M899 463h0M874 541h0M883 464h0"/><path d="M901 596h0M892 425h0M878 384h0M872 490h0M883 474h0M909 422h0M889 325h0M901 488h0M872 671h0M883 541h0M873 482h0M899 426h0M891 491h0M897 439h0M905 451h0M882 643h0M889 514h0M891 546h0M898 462h0M873 526h0M875 447h0M906 539h0M905 456h0M904 364h0M871 485h0M906 522h0M882 416h0M894 544h0M887 545h0M903 538h0M878 479h0M891 418h0M890 427h0M902 545h0M900 551h0M872 574h0M874 548h0M906 530h0M892 501h0M898 379h0M889 577h0M897 385h0M873 512h0M898 416h0M906 510h0M883 529h0M867 417h0M884 386h0M871 489h0M867 572h0M866 481h0M888 461h0M870 469h0M904 516h0"/><path d="M886 589h0M903 344h0M908 595h0M870 309h0M896 409h0M871 437h0M894 490h0M902 521h0M877 455h0M868 371h0M900 527h0M879 403h0M900 380h0M868 415h0M866 535h0M871 456h0M895 435h0M899 566h0M886 613h0M892 490h0M892 424h0M889 486h0M872 506h0M902 557h0M873 368h0M867 507h0M870 577h0M902 538h0M867 428h0M909 347h0M888 457h0M888 514h0M894 536h0M871 390h0M882 552h0M873 556h0M899 627h0M905 656h0M874 505h0M873 425h0M887 622h0M878 487h0M891 501h0M899 455h0M866 554h0M870 636h0M903 289h0M902 559h0M883 391h0M888 525h0M875 506h0M875 564h0M868 396h0"/><path d="M897 567h0M898 401h0M872 458h0M876 502h0M869 539h0M893 432h0M902 602h0M874 516h0M868 509h0M883 497h0M890 486h0M900 544h0M895 547h0M882 459h0M902 491h0M875 444h0M870 334h0M892 587h0M889 370h0M885 450h0M875 455h0M895 525h0M873 380h0M895 446h0M896 379h0M873 622h0M869 599h0M875 475h0M880 399h0M884 565h0M901 396h0M875 510h0M882 534h0M871 417h0M902 488h0M899 543h0M869 501h0M869 449h0M881 438h0M890 507h0M885 531h0M900 572h0M876 452h0M900 541h0M906 521h0M877 592h0M870 542h0M884 499h0M900 415h0M906 476h0M897 614h0M908 513h0M898 417h0"/><path d="M873 351h0M874 479h0M873 501h0M886 538h0M885 505h0M866 478h0M887 514h0M886 492h0M894 502h0M896 480h0M901 547h0M881 515h0M896 457h0M873 512h0M883 394h0M869 436h0M904 489h0M882 620h0M895 533h0M901 495h0M888 437h0M877 323h0M872 375h0M881 609h0M886 320h0M885 445h0M896 519h0M909 630h0M887 457h0M892 460h0M902 494h0M879 491h0M881 565h0M906 656h0M874 436h0M898 458h0M880 445h0M905 264h0M897 584h0M885 448h0M868 428h0M899 502h0M888 491h0M903 464h0M909 415h0M909 446h0M906 538h0M874 606h0M905 399h0M889 454h0M902 442h0M894 450h0M875 583h0"/><path d="M893 570h0M900 396h0M909 411h0M869 339h0M892 584h0M902 359h0M898 380h0M867 525h0M869 442h0M886 642h0M870 510h0M874 357h0M868 516h0M880 430h0M900 535h0M903 523h0M873 457h0M893 518h0M869 468h0M875 344h0M895 538h0M890 408h0M888 562h0M870 399h0M905 483h0M869 463h0M908 498h0M869 560h0M877 570h0M907 458h0M900 386h0M867 390h0M903 532h0M868 546h0M896 481h0M907 353h0M906 420h0M904 325h0M871 512h0M885 650h0M882 475h0M892 453h0M885 547h0M880 517h0M903 516h0M867 537h0M887 548h0M907 515h0M907 473h0M905 363h0M883 305h0M869 536h0M876 519h0"/><path d="M869 504h0M886 387h0M891 467h0M891 424h0M876 449h0M892 468h0M902 583h0M886 565h0M886 469h0M898 421h0M875 309h0M909 622h0M900 461h0M897 432h0M869 588h0M902 370h0M869 411h0M901 493h0M899 395h0M903 368h0M908 398h0M894 288h0M899 491h0M891 624h0M881 403h0M897 490h0M900 384h0M889 435h0M906 573h0M903 484h0M877 523h0M871 586h0M898 423h0M882 476h0M908 534h0M893 414h0M908 324h0M879 545h0M886 435h0M876 439h0M874 525h0M870 487h0M898 511h0M892 587h0M874 411h0M898 582h0M893 556h0M876 450h0M894 281h0M881 490h0M891 490h0M869 401h0M909 508h0"/><path d="M896 518h0M876 489h0M884 644h0M898 542h0M872 500h0M889 529h0M897 475h0M891 369h0M874 583h0M907 522h0M890 486h0M878 679h0M902 249h0M893 551h0M895 466h0M871 599h0M892 475h0M895 437h0M876 499h0M896 511h0M867 386h0M897 499h0M897 534h0M902 333h0M870 560h0M894 481h0M903 526h0M884 450h0M898 505h0M880 472h0M897 524h0M879 539h0M884 513h0M900 403h0M901 556h0M907 518h0M896 577h0M903 365h0M897 516h0M875 579h0M892 569h0M898 569h0M892 502h0M905 563h0M908 624h0M896 392h0M877 409h0M908 591h0M866 168h0M896 526h0M874 398h0M907 308h0M870 416h0"/><path d="M879 536h0M877 332h0M896 544h0M893 327h0M906 685h0M878 374h0M890 380h0M879 505h0M902 573h0M880 420h0M888 471h0M868 475h0M882 454h0M869 533h0M868 423h0M901 383h0M872 466h0M881 408h0M867 418h0M876 560h0M907 488h0M890 481h0M880 392h0M883 475h0M875 423h0M896 291h0M879 452h0M869 492h0M904 424h0M896 554h0M906 278h0M896 429h0M905 495h0M876 551h0M892 369h0M867 488h0M867 607h0M901 447h0M889 448h0M907 557h0M899 654h0M871 517h0M900 355h0M908 473h0M905 326h0M904 386h0M904 421h0M904 606h0M867 594h0M906 468h0M894 553h0M903 400h0M878 543h0"/><path d="M871 587h0M875 485h0M878 546h0M909 500h0M881 486h0M874 558h0M897 553h0M889 445h0M888 581h0M892 417h0M896 461h0M873 496h0M876 441h0M885 425h0M875 593h0M882 403h0M908 456h0M905 458h0M878 480h0M877 436h0M891 543h0M872 480h0M889 580h0M890 626h0M890 439h0M900 611h0M871 506h0M892 679h0M893 438h0M874 347h0M873 489h0M888 533h0M872 564h0M871 349h0M891 443h0M867 482h0M898 578h0M879 503h0M873 506h0M894 546h0M881 357h0M890 473h0M909 289h0M878 492h0M887 453h0M884 556h0M882 529h0M866 439h0M892 533h0M872 443h0M877 483h0M874 508h0M879 547h0"/><path d="M887 571h0M869 523h0M898 560h0M875 445h0M887 387h0M897 439h0M883 493h0M869 524h0M907 647h0M905 478h0M895 390h0M876 690h0M887 502h0M867 549h0M871 456h0M904 437h0M879 472h0M871 541h0M869 443h0M900 451h0M884 472h0M882 499h0M909 446h0M885 526h0M880 543h0M897 584h0M885 472h0M900 434h0M888 584h0M886 560h0M868 463h0M873 542h0M878 422h0M897 548h0M900 621h0M889 389h0M887 414h0M883 410h0M878 413h0M867 550h0M867 536h0M890 358h0M875 517h0M869 622h0M887 459h0M873 486h0M891 481h0M876 408h0M878 375h0M897 520h0M885 604h0M886 367h0M870 625h0"/><path d="M874 506h0M867 508h0M872 444h0M879 416h0M901 593h0M867 493h0M882 532h0M885 439h0M892 488h0M878 628h0M877 623h0M883 446h0M901 517h0M872 487h0M900 480h0M887 392h0M892 339h0M898 604h0M897 535h0M893 284h0M892 572h0M882 375h0M884 365h0M889 326h0M888 497h0M889 693h0M904 501h0M884 527h0M901 550h0M890 398h0M905 555h0M897 480h0M885 547h0M907 573h0M900 417h0M874 598h0M890 588h0M889 491h0M882 458h0M889 574h0M906 476h0M905 485h0M905 553h0M880 597h0M906 467h0M878 383h0M877 531h0M891 403h0M885 451h0M884 421h0M870 488h0M873 403h0M891 571h0"/><path d="M905 458h0M871 423h0M908 353h0M872 492h0M874 532h0M903 388h0M872 548h0M902 466h0M903 652h0M886 339h0M887 494h0M902 501h0M905 457h0M904 375h0M885 408h0M909 383h0M898 540h0M879 503h0M896 544h0M869 601h0M872 347h0M872 594h0M872 570h0M876 435h0M868 636h0M876 508h0M887 577h0M894 398h0M890 542h0M886 378h0M882 577h0M894 610h0M909 585h0M906 611h0M875 453h0M890 343h0M870 594h0M875 549h0M890 517h0M872 652h0M906 502h0M870 541h0M898 472h0M891 437h0M882 603h0M896 595h0M868 380h0M882 527h0M901 429h0M903 496h0M897 530h0M875 441h0M877 442h0"/><path d="M898 551h0M871 477h0M883 568h0M908 519h0M899 555h0M889 666h0M904 597h0M876 445h0M878 443h0M867 623h0M905 600h0M878 492h0M907 452h0M891 418h0M895 626h0M880 479h0M908 218h0M890 552h0M892 413h0M905 518h0M891 351h0M902 517h0M903 443h0M884 399h0M879 496h0M870 389h0M886 483h0M897 511h0M871 513h0M874 534h0M889 569h0M890 480h0M899 576h0M899 302h0M898 459h0M886 515h0M868 362h0M881 509h0M874 374h0M869 579h0M889 469h0M889 546h0M886 556h0M899 604h0M885 370h0M869 565h0M889 477h0M874 407h0M886 412h0M907 474h0M904 527h0M870 496h0M884 476h0"/><path d="M894 695h0M902 485h0M906 429h0M882 439h0M869 603h0M878 492h0M898 450h0M904 499h0M867 125h0M900 501h0M882 391h0M877 631h0M903 414h0M896 553h0M895 387h0M869 363h0M902 424h0M885 485h0M887 562h0M891 608h0M897 528h0M903 525h0M906 510h0M891 602h0M898 505h0M869 491h0M879 386h0M893 435h0M905 502h0M903 371h0M901 326h0M884 444h0M868 376h0M870 426h0M908 441h0M867 428h0M884 712h0M909 435h0M901 664h0M895 520h0M898 555h0M900 408h0M902 533h0M871 471h0M873 599h0M902 569h0M888 475h0M880 453h0M887 440h0M879 599h0M887 423h0M902 400h0M909 341h0"/><path d="M899 434h0M909 547h0M892 428h0M908 412h0M871 485h0M877 308h0M894 326h0M901 550h0M897 352h0M896 399h0M906 512h0M907 498h0M885 334h0M906 422h0M894 395h0M868 298h0M870 488h0M878 316h0M869 383h0M905 556h0M877 255h0M884 506h0M882 534h0M869 297h0M893 360h0M902 617h0M878 476h0M906 624h0M867 463h0M887 561h0M870 439h0M876 424h0M886 392h0M906 500h0M899 389h0M893 669h0M871 554h0M876 493h0M908 572h0M893 560h0M891 338h0M892 542h0M882 482h0M908 443h0M877 499h0M871 465h0M901 404h0M883 299h0M890 400h0M869 575h0M880 469h0M883 318h0M882 578h0"/><path d="M877 576h0M898 425h0M903 440h0M891 470h0M884 601h0M874 298h0M870 492h0M875 416h0M868 546h0M899 408h0M897 628h0M888 408h0M900 517h0M906 356h0M891 530h0M898 417h0M866 652h0M871 441h0M893 458h0M890 386h0M885 351h0M880 453h0M896 400h0M887 571h0M873 467h0M873 470h0M872 532h0M894 598h0M877 551h0M887 437h0M873 460h0M887 462h0M904 463h0M876 362h0M889 431h0M885 416h0M901 397h0M882 635h0M902 312h0M876 610h0M866 525h0M877 370h0M906 678h0M870 430h0M879 544h0M869 464h0M889 531h0M870 643h0M905 507h0M897 548h0M868 426h0M883 449h0M870 443h0"/><path d="M892 542h0M902 497h0M875 340h0M887 495h0M909 539h0M866 235h0M909 526h0M899 436h0M885 551h0M888 392h0M872 399h0M900 456h0M903 574h0M902 570h0M906 500h0M876 463h0M899 399h0M880 561h0M873 422h0M882 350h0M908 569h0M868 206h0M874 583h0M868 575h0M880 442h0M881 593h0M872 457h0M897 502h0M878 540h0M883 458h0M905 341h0M885 276h0M905 447h0M881 591h0M867 558h0M906 617h0M907 558h0M869 280h0M900 460h0M898 557h0M901 540h0M879 525h0M890 491h0M877 590h0M896 544h0M871 482h0M904 492h0M876 622h0M908 531h0M872 463h0M888 324h0M901 623h0M878 582h0"/></g>
<g stroke="#d95f02" stroke-opacity="0.45" stroke-width="11.6" stroke-linecap="round" fill="none"><path d="M1116 555h0M1124 535h0M1095 399h0M1092 533h0M1093 411h0M1128 576h0M1119 578h0M1092 484h0M1114 294h0M1130 427h0M1107 527h0M1091 452h0M1102 636h0M1103 313h0M1103 513h0M1092 493h0M1091 594h0M1111 577h0M1117 528h0M1122 359h0M1115 379h0M1097 567h0M1110 583h0M1117 500h0M1095 556h0M1101 529h0M1095 547h0M1129 410h0M1122 384h0M1105 596h0M1130 688h0M1111 501h0M1108 563h0M1106 389h0M1124 411h0M1091 514h0M1107 272h0M1114 508h0M1108 441h0M1110 645h0M1121 217h0M1125 492h0M1110 468h0M1124 340h0M1112 501h0M1127 483h0M1127 469h0M1098 554h0M1115 688h0M1116 446h0M1126 591h0M1096 530h0M1095 602h0M1110 423h0M1126 414h0M1128 423h0M1115 562h0M1111 464h0M1126 519h0M1124 630h0M1124 494h0M1109 574h0M1117 588h0M1129 571h0M1111 550h0M1121 306h0M1109 547h0M1112 461h0M1120 400h0M1115 565h0M1099 453h0M1126 570h0M1119 561h0M1090 504h0M1115 464h0M1116 484h0M1101 652h0M1097 573h0M1096 545h0M1101 564h0M1129 471h0M1094 455h0M1112 450h0M1118 495h0M1129 473h0M1114 470h0M1105 369h0M1116 416h0M1098 399h0M1119 571h0M1113 533h0M1129 385h0M1106 551h0M1093 326h0M1124 437h0M1116 441h0M1108 516h0M1095 327h0M1122 528h0M1128 439h0M1120 653h0M1110 417h0M1127 339h0M1122 343h0M1110 532h0M1090 496h0M1115 492h0M1094 332h0M1106 466h0M1127 364h0M1130 280h0M1094 675h0M1104 483h0M1121 631h0"/><path d="M1091 541h0M1115 555h0M1094 441h0M1105 568h0M1093 292h0M1093 257h0M1110 523h0M1123 504h0M1106 548h0M1121 544h0M1124 592h0M1107 601h0M1122 514h0M1100 418h0M1117 580h0M1101 367h0M1108 489h0M1121 301h0M1091 368h0M1090 490h0M1098 474h0M1130 567h0M1119 546h0M1094 531h0M1098 594h0M1110 470h0M1091 614h0M1099 401h0M1099 170h0M1094 471h0M1129 423h0M1112 546h0M1100 662h0M1131 514h0M1119 469h0M1130 362h0M1091 485h0M1100 519h0M1102 567h0M1094 458h0M1103 457h0M1090 490h0M1102 609h0M1120 330h0M1119 625h0M1122 364h0M1097 303h0M1118 501h0M1097 576h0M1101 380h0M1117 538h0M1095 488h0M1103 473h0M1100 496h0M1104 419h0M1099 594h0M1122 493h0M1110 510h0M1125 548h0M1127 568h0M1117 361h0M1118 622h0M1130 529h0M1101 373h0M1103 591h0M1113 230h0M1097 364h0M1106 513h0M1115 549h0M1101 422h0M1107 428h0M1130 472h0M1126 568h0M1113 495h0M1128 454h0M1125 482h0M1115 494h0M1123 424h0M1107 541h0M1128 490h0M1097 580h0M1129 549h0M1090 406h0M1099 324h0M1123 531h0M1095 454h0M1131 516h0M1107 317h0M1119 446h0M1128 665h0M1117 491h0M1113 297h0M1123 443h0M1127 408h0M1121 513h0M1131 611h0M1100 431h0M1112 482h0M1126 650h0M1096 492h0M1117 521h0M1106 480h0M1127 534h0M1118 572h0M1125 588h0M1093 575h0M1104 486h0M1110 729h0M1127 583h0M1090 514h0M1093 463h0M1090 458h0M1127 500h0M1116 366h0"/><path d="M1118 577h0M1126 463h0M1109 424h0M1115 552h0M1102 465h0M1094 452h0M1121 514h0M1115 630h0M1115 576h0M1090 633h0M1123 371h0M1125 454h0M1108 489h0M1094 590h0M1103 457h0M1125 328h0M1104 417h0M1100 426h0M1117 464h0M1121 614h0M1115 540h0M1107 630h0M1109 256h0M1130 371h0M1115 610h0M1124 501h0M1125 573h0M1108 517h0M1114 560h0M1094 377h0M1118 506h0M1097 426h0M1103 612h0M1090 423h0M1131 560h0M1131 494h0M1123 441h0M1116 373h0M1117 523h0M1122 523h0M1103 580h0M1131 563h0M1115 584h0M1096 366h0M1103 534h0M1092 455h0M1106 429h0M1111 511h0M1113 528h0M1089 285h0M1118 473h0M1111 607h0M1131 549h0M1127 280h0M1111 459h0M1122 628h0M1101 463h0M1120 489h0M1108 535h0M1111 486h0M1121 548h0M1091 515h0M1124 489h0M1130 470h0M1100 466h0M1100 387h0M1131 403h0M1103 402h0M1096 458h0M1115 489h0M1109 429h0M1099 540h0M1124 580h0M1126 522h0M1107 464h0M1096 415h0M1106 433h0M1115 332h0M1091 434h0M1116 511h0M1095 385h0M1123 274h0M1093 530h0M1096 466h0M1089 550h0M1103 584h0M1114 580h0M1093 382h0M1129 532h0M1112 486h0M1103 563h0M1128 371h0M1108 357h0M1090 507h0M1099 394h0M1099 352h0M1113 435h0M1117 414h0M1096 588h0M1105 597h0M1092 422h0M1111 380h0M1111 629h0M1094 488h0M1106 394h0M1125 501h0M1100 415h0M1125 351h0M1129 503h0M1111 425h0M1113 541h0M1109 463h0M1090 601h0M1110 148h0"/><path d="M1124 531h0M1117 457h0M1122 415h0M1123 445h0M1108 311h0M1118 518h0M1109 464h0M1116 556h0M1098 564h0M1115 266h0M1099 514h0M1119 550h0M1091 526h0M1109 477h0M1129 486h0M1121 589h0M1128 579h0M1130 678h0M1121 476h0M1111 363h0M1104 552h0M1129 455h0M1129 584h0M1123 578h0M1096 452h0M1107 410h0M1106 516h0M1102 419h0M1110 553h0M1118 504h0M1110 614h0M1121 537h0M1101 483h0M1101 658h0M1099 567h0M1101 302h0M1108 515h0M1103 587h0M1103 490h0M1125 519h0M1110 559h0M1123 601h0M1091 562h0M1101 600h0M1101 627h0M1091 479h0M1106 543h0M1110 436h0M1117 377h0M1096 492h0M1095 451h0M1106 526h0M1095 465h0M1120 559h0M1103 438h0M1090 514h0M1101 378h0M1120 585h0M1097 604h0M1089 549h0M1115 634h0M1131 498h0M1103 415h0M1117 515h0M1100 596h0M1098 389h0M1125 427h0M1092 356h0M1131 592h0M1113 491h0M1104 507h0M1100 359h0M1090 405h0M1107 663h0M1100 493h0M1130 480h0M1099 493h0M1102 337h0M1097 484h0M1091 546h0M1121 518h0M1103 643h0M1114 575h0M1091 534h0M1130 395h0M1129 284h0M1093 525h0M1095 469h0M1100 320h0M1106 424h0M1111 607h0M1117 435h0M1117 476h0M1116 515h0M1093 451h0M1110 434h0M1100 413h0M1104 432h0M1121 581h0M1104 669h0M1106 565h0M1112 543h0M1127 538h0M1131 509h0M1112 478h0M1112 570h0M1095 620h0M1123 554h0M1107 421h0M1132 469h0M1129 400h0M1120 597h0M1119 545h0M1099 439h0"/><path d="M1102 436h0M1102 483h0M1098 653h0M1106 593h0M1101 485h0M1108 538h0M1130 503h0M1118 543h0M1098 615h0M1096 466h0M1125 406h0M1124 516h0M1110 531h0M1112 472h0M1129 498h0M1101 291h0M1122 471h0M1097 476h0M1103 620h0M1113 501h0M1121 560h0M1092 475h0M1096 312h0M1104 509h0M1124 418h0M1108 311h0M1120 503h0M1132 551h0M1102 484h0M1108 493h0M1129 675h0M1110 635h0M1117 395h0M1130 455h0M1123 331h0M1118 524h0M1103 627h0M1106 619h0M1124 227h0M1107 581h0M1112 494h0M1099 542h0M1092 446h0M1111 280h0M1126 519h0M1096 572h0M1119 411h0M1109 413h0M1107 500h0M1099 404h0M1118 618h0M1131 260h0M1122 524h0M1125 566h0M1090 389h0M1099 448h0M1127 424h0M1090 383h0M1101 395h0M1125 417h0M1125 413h0M1111 456h0M1130 572h0M1108 600h0M1105 555h0M1119 483h0M1110 512h0M1107 525h0M1099 432h0M1090 551h0M1092 437h0M1089 438h0M1125 294h0M1105 590h0M1125 475h0M1092 300h0M1101 352h0M1110 515h0M1091 411h0M1100 538h0M1104 688h0M1089 552h0M1108 511h0M1128 406h0M1100 620h0M1109 485h0M1105 342h0M1112 514h0M1129 486h0M1123 535h0M1095 652h0M1106 378h0M1096 502h0M1122 377h0M1131 481h0M1113 504h0M1112 548h0M1118 551h0M1120 333h0M1113 412h0M1106 461h0M1126 591h0M1107 612h0M1106 461h0M1102 469h0M1103 417h0M1104 538h0M1115 444h0M1106 449h0M1124 551h0M1129 507h0M1125 430h0M1116 510h0M1124 529h0"/><path d="M1121 503h0M1107 576h0M1095 615h0M1092 428h0M1107 452h0M1129 543h0M1090 374h0M1114 486h0M1115 498h0M1115 487h0M1094 532h0M1097 592h0M1130 616h0M1113 546h0M1124 530h0M1099 572h0M1106 480h0M1130 376h0M1105 471h0M1125 500h0M1093 525h0M1109 519h0M1110 481h0M1122 526h0M1104 408h0M1106 455h0M1126 394h0M1110 462h0M1115 426h0M1101 552h0M1109 320h0M1126 398h0M1114 428h0M1094 438h0M1100 414h0M1099 316h0M1129 545h0M1091 397h0M1123 421h0M1111 517h0M1130 515h0M1095 476h0M1104 380h0M1130 608h0M1095 489h0M1126 559h0M1124 489h0M1123 467h0M1132 518h0M1109 542h0M1126 483h0M1129 286h0M1129 367h0M1103 635h0M1107 523h0M1122 568h0M1097 450h0M1124 530h0M1112 454h0M1110 472h0M1117 412h0M1097 466h0M1118 507h0M1130 592h0M1089 573h0M1127 504h0M1090 476h0M1119 458h0M1095 563h0M1121 545h0M1112 600h0M1112 470h0M1127 485h0M1102 494h0M1093 586h0M1126 538h0M1106 532h0M1093 575h0M1124 447h0M1093 465h0M1093 526h0M1127 302h0M1089 454h0M1128 577h0M1116 572h0M1129 596h0M1091 480h0M1128 491h0M1130 455h0M1101 415h0M1094 467h0M1116 438h0M1129 314h0M1118 511h0M1123 505h0M1094 537h0M1095 537h0M1115 541h0M1116 510h0M1104 318h0M1093 408h0M1092 538h0M1113 514h0M1119 559h0M1114 602h0M1095 443h0M1099 509h0M1117 482h0M1098 543h0M1130 475h0M1104 447h0M1110 501h0M1102 337h0M1108 563h0"/><path d="M1100 514h0M1094 455h0M1110 272h0M1110 630h0M1095 655h0M1093 468h0M1122 587h0M1113 502h0M1101 504h0M1097 404h0M1106 582h0M1125 506h0M1114 412h0M1123 549h0M1111 528h0M1110 369h0M1119 369h0M1121 575h0M1115 456h0M1092 542h0M1102 427h0M1110 418h0M1097 638h0M1111 462h0M1124 496h0M1094 383h0M1091 629h0M1103 604h0M1091 562h0M1092 580h0M1099 459h0M1101 416h0M1123 534h0M1102 487h0M1093 405h0M1112 166h0M1094 506h0M1106 588h0M1120 392h0M1130 536h0M1095 464h0M1094 453h0M1097 410h0M1127 603h0M1097 485h0M1111 567h0M1125 446h0M1108 586h0M1129 528h0M1104 465h0M1116 477h0M1109 301h0M1091 448h0M1117 428h0M1122 486h0M1124 544h0M1129 447h0M1096 442h0M1109 491h0M1098 493h0M1125 464h0M1114 580h0M1118 393h0M1096 504h0M1097 532h0M1111 419h0M1115 433h0M1102 402h0M1131 623h0M1100 585h0M1112 521h0M1110 528h0M1100 426h0M1125 533h0M1090 499h0M1121 439h0M1121 633h0M1120 384h0M1103 424h0M1104 418h0M1115 534h0M1131 544h0M1130 586h0M1106 580h0M1119 424h0M1124 562h0M1131 499h0M1093 381h0M1111 447h0M1124 478h0M1107 531h0M1096 529h0M1099 550h0M1114 511h0M1116 405h0M1090 426h0M1107 471h0M1112 310h0M1106 636h0M1108 500h0M1096 543h0M1119 440h0M1124 564h0M1125 418h0M1106 560h0M1123 321h0M1118 542h0M1121 439h0M1092 556h0M1089 306h0M1118 612h0M1131 444h0M1123 662h0M1090 481h0"/><path d="M1102 178h0M1129 581h0M1116 661h0M1111 264h0M1116 600h0M1108 425h0M1103 533h0M1121 489h0M1124 469h0M1093 356h0M1093 447h0M1116 579h0M1090 294h0M1090 376h0M1108 406h0M1106 403h0M1131 257h0M1110 574h0M1119 590h0M1124 407h0M1129 458h0M1131 476h0M1105 563h0M1118 484h0M1127 482h0M1127 575h0M1101 479h0M1111 434h0M1100 451h0M1131 381h0M1109 530h0M1094 173h0M1123 515h0M1100 254h0M1101 601h0M1107 326h0M1093 421h0M1123 389h0M1131 468h0M1128 335h0M1127 531h0M1100 502h0M1112 537h0M1118 667h0M1126 612h0M1100 270h0M1092 445h0M1102 412h0M1128 435h0M1096 517h0M1098 447h0M1100 350h0M1089 484h0M1095 429h0M1128 503h0M1110 343h0M1110 398h0M1090 490h0M1115 494h0M1104 507h0M1130 425h0M1111 398h0M1103 473h0M1109 441h0M1118 310h0M1096 391h0M1115 600h0M1089 473h0M1097 518h0M1090 581h0M1125 558h0M1125 577h0M1104 392h0M1119 483h0M1097 557h0M1107 551h0M1104 493h0M1122 527h0M1125 437h0M1118 503h0M1123 566h0M1090 587h0M1127 311h0M1110 464h0M1120 483h0M1107 556h0M1121 398h0M1095 580h0M1126 474h0M1110 543h0M1108 615h0M1106 441h0M1114 396h0M1094 532h0M1126 635h0M1109 435h0M1111 518h0M1093 442h0M1113 479h0M1126 483h0M1106 507h0M1106 499h0M1115 643h0M1111 493h0M1123 565h0M1117 714h0M1113 466h0M1106 399h0M1099 410h0M1120 469h0M1123 599h0M1131 526h0M1131 546h0"/><path d="M1096 489h0M1116 402h0M1119 503h0M1106 416h0M1091 539h0M1125 353h0M1091 560h0M1122 614h0M1119 446h0M1103 431h0M1126 477h0M1123 502h0M1111 348h0M1106 410h0M1108 261h0M1119 251h0M1117 473h0M1113 328h0M1130 635h0M1114 487h0M1113 472h0M1103 355h0M1107 428h0M1099 418h0M1102 510h0M1118 565h0M1089 504h0M1113 408h0M1101 464h0M1101 587h0M1131 538h0M1127 515h0M1093 469h0M1118 433h0M1098 489h0M1099 337h0M1122 430h0M1102 486h0M1092 434h0M1107 595h0M1114 483h0M1129 422h0M1095 423h0M1127 367h0M1124 439h0M1117 492h0M1116 400h0M1128 541h0M1120 477h0M1104 370h0M1105 464h0M1104 529h0M1129 434h0M1131 506h0M1123 506h0M1113 460h0M1092 300h0M1105 536h0M1120 515h0M1115 325h0M1128 451h0M1114 407h0M1106 430h0M1104 598h0M1108 375h0M1112 427h0M1101 453h0M1100 399h0M1096 515h0M1111 611h0M1105 467h0M1121 392h0M1109 428h0M1092 732h0M1092 448h0M1105 485h0M1114 576h0M1114 457h0M1129 431h0M1094 541h0M1115 335h0M1094 417h0M1100 367h0M1125 503h0M1111 472h0M1107 644h0M1091 471h0M1093 487h0M1120 392h0M1107 503h0M1123 466h0M1110 491h0M1103 480h0M1126 408h0M1092 437h0M1112 441h0M1114 462h0M1130 666h0M1098 507h0M1092 532h0M1109 392h0M1093 623h0M1100 585h0M1131 522h0M1111 501h0M1109 532h0M1098 507h0M1103 498h0M1124 452h0M1103 374h0M1094 408h0M1098 410h0M1089 578h0"/><path d="M1125 520h0M1115 582h0M1092 257h0M1126 354h0M1130 521h0M1108 488h0M1119 496h0M1107 490h0M1098 374h0M1102 583h0M1124 591h0M1126 557h0M1116 537h0M1116 419h0M1104 451h0M1130 511h0M1111 417h0M1113 548h0M1110 553h0M1110 493h0M1109 570h0M1115 435h0M1091 410h0M1101 334h0M1112 407h0M1099 572h0M1093 532h0M1114 533h0M1094 577h0M1121 528h0M1100 417h0M1105 367h0M1124 349h0M1113 495h0M1110 402h0M1107 468h0M1122 499h0M1127 496h0M1129 485h0M1103 535h0M1104 542h0M1106 494h0M1090 588h0M1102 502h0M1118 454h0M1091 484h0M1102 464h0M1100 327h0M1126 561h0M1121 378h0M1109 560h0M1120 416h0M1113 512h0M1093 473h0M1112 459h0M1120 393h0M1114 591h0M1110 556h0M1112 508h0M1106 362h0M1113 470h0M1113 601h0M1129 480h0M1121 430h0M1127 468h0M1095 481h0M1104 377h0M1104 572h0M1102 643h0M1091 431h0M1109 444h0M1130 470h0M1107 324h0M1090 668h0M1093 486h0M1121 578h0M1108 374h0M1090 422h0M1127 517h0M1116 627h0M1107 605h0M1124 495h0M1128 432h0M1090 505h0M1099 519h0M1094 357h0M1123 352h0M1102 473h0M1093 620h0M1131 534h0M1127 428h0M1092 510h0M1092 350h0M1125 503h0M1123 529h0M1110 500h0M1128 635h0M1127 312h0M1127 389h0M1103 340h0M1095 494h0M1093 435h0M1098 415h0M1110 344h0M1108 540h0M1118 573h0M1124 303h0M1117 652h0M1118 342h0M1130 396h0M1093 574h0M1118 624h0M1099 522h0"/><path d="M1110 670h0M1129 512h0M1092 454h0M1120 590h0M1115 543h0M1098 454h0M1115 290h0M1099 444h0M1106 442h0M1121 428h0M1122 584h0M1103 417h0M1109 493h0M1118 566h0M1128 557h0M1096 611h0M1116 386h0M1110 531h0M1123 625h0M1094 389h0M1110 497h0M1123 457h0M1123 482h0M1094 500h0M1107 462h0M1111 399h0M1107 514h0M1096 412h0M1101 528h0M1111 497h0M1123 567h0M1092 380h0M1130 502h0M1110 336h0M1103 396h0M1101 362h0M1111 508h0M1090 450h0M1102 482h0M1123 332h0M1101 597h0M1126 391h0M1122 620h0M1121 496h0M1113 566h0M1102 284h0M1131 546h0M1113 437h0M1120 340h0M1102 621h0M1107 577h0M1106 622h0M1110 494h0M1111 537h0M1105 587h0M1118 462h0M1115 490h0M1111 430h0M1113 342h0M1105 264h0M1129 486h0M1121 480h0M1091 500h0M1117 617h0M1105 473h0M1126 564h0M1108 541h0M1114 424h0M1096 496h0M1127 530h0M1128 455h0M1097 564h0M1130 389h0M1093 372h0M1122 468h0M1129 613h0M1125 535h0M1095 282h0M1113 523h0M1126 471h0M1115 442h0M1103 475h0M1119 458h0M1127 427h0M1097 473h0M1090 644h0M1099 373h0M1105 282h0M1123 485h0M1125 387h0M1109 531h0M1130 511h0M1131 428h0M1095 349h0M1117 550h0M1122 604h0M1100 556h0M1105 404h0M1124 604h0M1126 537h0M1090 435h0M1129 445h0M1117 512h0M1129 484h0M1121 506h0M1126 453h0M1096 396h0M1090 532h0M1118 481h0M1117 555h0M1102 457h0M1096 560h0M1121 367h0"/><path d="M1106 614h0M1097 476h0M1123 291h0M1116 484h0M1104 437h0M1109 504h0M1103 507h0M1101 478h0M1109 493h0M1131 536h0M1116 479h0M1122 575h0M1093 473h0M1117 275h0M1112 554h0M1112 677h0M1116 501h0M1100 434h0M1095 382h0M1123 481h0M1106 558h0M1111 270h0M1122 290h0M1102 439h0M1098 437h0M1124 520h0M1124 460h0M1092 334h0M1107 337h0M1097 602h0M1121 614h0M1128 558h0M1105 484h0M1119 368h0M1109 389h0M1124 501h0M1090 458h0M1114 409h0M1091 472h0M1098 300h0M1089 391h0M1107 466h0M1115 600h0M1106 476h0M1109 579h0M1125 508h0M1106 386h0M1092 471h0M1099 377h0M1118 570h0M1118 471h0M1121 498h0M1089 385h0M1131 492h0M1098 495h0M1110 440h0M1111 484h0M1098 499h0M1097 234h0M1128 561h0M1130 466h0M1124 552h0M1108 377h0M1089 519h0M1106 481h0M1095 521h0M1091 628h0M1098 578h0M1131 237h0M1118 489h0M1119 495h0M1117 542h0M1097 446h0M1103 563h0M1122 425h0M1107 493h0M1126 610h0M1097 518h0M1091 594h0M1095 537h0M1096 608h0M1100 562h0M1130 349h0M1092 322h0M1120 555h0M1114 433h0M1105 592h0M1095 585h0M1098 409h0M1095 582h0M1119 554h0M1113 510h0M1128 450h0M1111 343h0M1128 459h0M1110 582h0M1121 462h0M1127 518h0M1116 466h0M1100 378h0M1104 459h0M1130 540h0M1092 476h0M1109 315h0M1105 566h0M1111 591h0M1121 537h0M1101 582h0M1126 455h0M1130 536h0M1095 359h0M1120 387h0M1102 555h0"/><path d="M1129 527h0M1126 626h0M1105 415h0M1104 586h0M1128 590h0M1099 594h0M1112 326h0M1100 679h0M1122 617h0M1102 516h0M1099 559h0M1091 513h0M1092 528h0M1123 443h0M1099 502h0M1113 477h0M1097 433h0M1125 473h0M1117 426h0M1104 529h0M1093 430h0M1126 429h0M1100 621h0M1107 633h0M1131 370h0M1106 563h0M1111 517h0M1119 402h0M1095 517h0M1128 342h0M1113 295h0M1107 393h0M1112 311h0M1126 440h0M1120 472h0M1101 434h0M1122 321h0M1103 445h0M1109 516h0M1128 503h0M1130 433h0M1130 434h0M1126 562h0M1126 526h0M1118 554h0M1112 606h0M1107 567h0M1106 492h0M1101 415h0M1113 664h0M1094 397h0M1122 409h0M1114 379h0M1120 370h0M1093 480h0M1112 692h0M1110 458h0M1128 442h0M1119 532h0M1100 376h0M1131 575h0M1119 650h0M1118 398h0M1119 513h0M1104 605h0M1106 342h0M1121 352h0M1101 498h0M1120 553h0M1127 592h0M1097 392h0M1100 468h0M1122 412h0M1112 515h0M1123 481h0M1089 562h0M1095 478h0M1101 493h0M1105 533h0M1093 278h0M1124 534h0M1091 577h0M1098 498h0M1091 375h0M1126 495h0M1096 522h0M1105 488h0M1102 449h0M1118 483h0M1115 444h0M1102 503h0M1101 468h0M1129 454h0M1130 587h0M1121 524h0M1116 464h0M1129 475h0M1091 452h0M1105 423h0M1116 576h0M1110 568h0M1127 544h0M1094 510h0M1099 365h0M1096 549h0M1114 407h0M1094 513h0M1099 598h0M1113 477h0M1112 481h0M1123 343h0M1100 505h0M1110 516h0"/><path d="M1118 510h0M1098 523h0M1090 434h0M1129 527h0M1113 499h0M1123 470h0M1100 349h0M1090 480h0M1097 451h0M1124 532h0M1120 438h0M1100 538h0M1095 521h0M1092 623h0M1107 527h0M1104 548h0M1123 597h0M1091 387h0M1102 573h0M1128 600h0M1115 467h0M1123 328h0M1094 427h0M1107 435h0M1111 367h0M1090 468h0M1108 629h0M1093 217h0M1104 490h0M1111 434h0M1095 526h0M1102 475h0M1096 320h0M1110 527h0M1099 492h0M1099 378h0M1117 584h0M1116 468h0M1127 434h0M1123 537h0M1101 472h0M1129 486h0M1101 509h0M1122 642h0M1120 415h0M1126 546h0M1107 457h0M1091 615h0M1113 558h0M1129 495h0M1113 487h0M1125 573h0M1122 542h0M1128 483h0M1095 652h0M1121 577h0M1123 574h0M1099 384h0M1115 601h0M1123 502h0M1131 516h0M1096 618h0M1126 573h0M1108 438h0M1111 435h0M1130 521h0M1107 489h0M1101 469h0M1121 480h0M1105 426h0M1094 459h0M1099 436h0M1108 454h0M1108 403h0M1126 515h0M1120 474h0M1115 564h0M1100 437h0M1099 543h0M1097 524h0M1130 648h0M1102 398h0M1121 480h0M1122 540h0M1127 353h0M1105 540h0M1107 409h0M1100 359h0M1113 658h0M1124 691h0M1128 534h0M1089 544h0M1101 566h0M1104 611h0M1089 485h0M1094 504h0M1108 589h0M1125 380h0M1100 485h0M1122 301h0M1111 473h0M1119 671h0M1100 552h0M1131 592h0M1105 497h0M1119 418h0M1118 591h0M1117 595h0M1106 513h0M1109 475h0M1130 475h0M1108 528h0M1117 500h0"/><path d="M1111 504h0M1106 495h0M1106 619h0M1125 455h0M1128 678h0M1118 456h0M1121 524h0M1118 491h0M1109 601h0M1128 572h0M1120 245h0M1089 551h0M1096 514h0M1102 564h0M1116 537h0M1107 282h0M1114 511h0M1118 368h0M1120 465h0M1099 402h0M1118 545h0M1117 381h0M1089 586h0M1091 515h0M1098 371h0M1129 483h0M1116 435h0M1106 557h0M1089 451h0M1117 427h0M1122 576h0M1096 488h0M1109 540h0M1112 500h0M1112 332h0M1092 471h0M1110 516h0M1096 513h0M1118 661h0M1122 496h0M1092 486h0M1102 494h0M1107 361h0M1093 421h0M1089 568h0M1131 436h0M1130 470h0M1091 550h0M1110 503h0M1127 509h0M1092 533h0M1096 514h0M1114 461h0M1099 491h0M1110 417h0M1094 480h0M1097 382h0M1131 503h0M1118 550h0M1124 475h0M1106 420h0M1129 449h0M1112 408h0M1104 547h0M1102 385h0M1111 383h0M1089 525h0M1116 409h0M1093 353h0M1129 508h0M1095 525h0M1095 580h0M1127 482h0M1119 648h0M1091 552h0M1113 439h0M1093 516h0M1098 422h0M1090 573h0M1095 649h0M1094 576h0M1121 532h0M1090 461h0M1119 421h0M1101 495h0M1126 586h0M1096 499h0M1100 459h0M1130 251h0M1100 472h0M1102 553h0M1106 570h0M1114 313h0M1106 423h0M1129 516h0M1097 591h0M1103 411h0M1098 594h0M1097 443h0M1095 520h0M1111 616h0M1132 466h0M1099 477h0M1124 469h0M1097 310h0M1130 609h0M1111 531h0M1125 357h0M1097 457h0M1100 431h0M1131 646h0M1121 503h0M1127 613h0"/><path d="M1116 481h0M1101 392h0M1091 377h0M1127 645h0M1119 507h0M1091 499h0M1099 336h0M1093 487h0M1100 665h0M1116 427h0M1094 582h0M1100 544h0M1098 504h0M1110 602h0M1124 431h0M1119 586h0M1112 492h0M1104 610h0M1114 360h0M1112 480h0M1110 634h0M1113 523h0M1093 500h0M1124 441h0M1092 459h0M1099 426h0M1106 341h0M1106 463h0M1106 541h0M1126 315h0M1124 610h0M1124 448h0M1130 457h0M1128 496h0M1104 534h0M1126 595h0M1109 498h0M1106 554h0M1100 423h0M1094 589h0M1099 471h0M1117 601h0M1118 362h0M1110 477h0M1117 382h0M1128 573h0M1092 468h0M1124 348h0M1107 464h0M1100 477h0M1120 315h0M1124 566h0M1097 647h0M1106 529h0M1129 362h0M1104 595h0M1093 362h0M1094 518h0M1090 467h0M1117 350h0M1095 416h0M1117 204h0M1118 519h0M1091 544h0M1114 442h0M1103 454h0M1092 490h0M1099 365h0M1096 416h0M1095 469h0M1123 426h0M1123 504h0M1120 493h0M1120 492h0M1102 316h0M1121 536h0M1102 450h0M1102 442h0M1130 562h0M1101 533h0M1127 538h0M1115 452h0M1114 399h0M1106 628h0M1096 459h0M1112 289h0M1114 334h0M1106 486h0M1102 566h0M1128 511h0M1107 464h0M1113 449h0M1124 452h0M1097 484h0M1099 424h0M1122 502h0M1111 390h0M1096 563h0M1102 391h0M1131 359h0M1113 454h0M1116 323h0M1097 521h0M1106 565h0M1112 401h0M1118 450h0M1124 458h0M1114 481h0M1095 339h0M1129 507h0M1120 570h0M1112 555h0M1092 412h0"/><path d="M1090 524h0M1097 466h0M1093 493h0M1097 477h0M1110 416h0M1120 502h0M1129 487h0M1113 404h0M1123 569h0M1125 450h0M1116 448h0M1102 506h0M1129 642h0M1110 481h0M1092 478h0M1098 650h0M1094 487h0M1094 353h0M1125 334h0M1099 502h0M1099 331h0M1094 382h0M1130 460h0M1099 633h0M1094 511h0M1099 345h0M1128 506h0M1091 469h0M1089 510h0M1095 425h0M1114 444h0M1116 389h0M1090 235h0M1099 543h0M1101 239h0M1108 581h0M1123 654h0M1099 481h0M1095 361h0M1093 263h0M1106 559h0M1089 570h0M1117 478h0M1108 329h0M1094 497h0M1129 517h0M1104 453h0M1111 460h0M1095 575h0M1119 439h0M1124 568h0M1108 533h0M1090 488h0M1089 361h0M1091 483h0M1126 544h0M1108 382h0M1112 467h0M1114 468h0M1119 547h0M1110 445h0M1093 516h0M1125 627h0M1116 357h0M1090 428h0M1123 541h0M1123 506h0M1128 452h0M1110 544h0M1103 477h0M1132 374h0M1129 514h0M1091 552h0M1091 534h0M1124 532h0M1119 328h0M1096 502h0M1100 511h0M1129 480h0M1096 364h0M1120 555h0M1115 626h0M1127 599h0M1123 437h0M1111 682h0M1100 472h0M1119 492h0M1096 552h0M1117 524h0M1112 446h0M1117 514h0M1131 618h0M1092 520h0M1107 498h0M1130 520h0M1130 490h0M1129 378h0M1123 551h0M1120 566h0M1109 581h0M1124 507h0M1117 676h0M1117 597h0M1131 547h0M1094 654h0M1098 353h0M1129 496h0M1089 480h0M1111 448h0M1113 561h0M1096 557h0M1089 404h0M1094 527h0"/><path d="M1094 473h0M1121 420h0M1089 669h0M1108 529h0M1097 529h0M1094 497h0M1123 368h0M1093 433h0M1115 339h0M1113 475h0M1115 580h0M1107 424h0M1130 480h0M1125 393h0M1110 475h0M1103 463h0M1108 599h0M1131 471h0M1097 518h0M1127 603h0M1129 486h0M1112 404h0M1098 374h0M1104 413h0M1103 522h0M1126 528h0M1093 398h0M1104 602h0M1092 566h0M1126 456h0M1112 356h0M1109 576h0M1123 503h0M1111 553h0M1094 564h0M1119 662h0M1090 499h0M1092 491h0M1101 538h0M1108 323h0M1099 371h0M1095 462h0M1107 463h0M1125 560h0M1128 320h0M1095 494h0M1128 446h0M1111 398h0M1098 644h0M1097 525h0M1089 698h0M1114 495h0M1117 581h0M1128 327h0M1129 526h0M1129 576h0M1098 575h0M1122 462h0M1102 621h0M1124 510h0M1119 590h0M1110 525h0M1127 458h0M1107 483h0M1091 425h0M1106 649h0M1128 407h0M1101 455h0M1116 414h0M1105 521h0M1095 378h0M1130 459h0M1130 487h0M1109 508h0M1098 441h0M1128 315h0M1100 564h0M1110 604h0M1100 403h0M1103 493h0M1118 510h0M1101 574h0M1127 542h0M1130 468h0M1107 434h0M1120 539h0M1104 506h0M1120 493h0M1112 465h0M1110 517h0M1129 328h0M1105 621h0M1126 390h0M1123 405h0M1109 484h0M1118 429h0M1131 465h0M1099 381h0M1118 614h0M1116 339h0M1092 476h0M1130 415h0M1091 475h0M1097 464h0M1129 483h0M1096 410h0M1107 402h0M1115 499h0M1127 349h0M1103 525h0M1115 491h0M1096 316h0M1100 473h0"/><path d="M1131 591h0M1131 548h0M1108 437h0M1108 380h0M1128 456h0M1129 340h0M1126 469h0M1103 492h0M1100 476h0M1127 425h0M1096 473h0M1112 578h0M1094 449h0M1126 438h0M1121 511h0M1093 540h0M1105 331h0M1117 322h0M1117 574h0M1105 614h0M1115 607h0M1119 465h0M1097 600h0M1126 433h0M1123 328h0M1090 514h0M1124 611h0M1093 524h0M1114 483h0M1131 410h0M1122 633h0M1092 564h0M1097 523h0M1125 391h0M1089 477h0M1093 593h0M1122 442h0M1118 522h0M1110 527h0M1105 679h0M1101 431h0M1091 542h0M1118 455h0M1122 548h0M1105 494h0M1114 425h0M1102 434h0M1107 443h0M1105 584h0M1109 517h0M1109 520h0M1098 533h0M1114 572h0M1110 460h0M1094 498h0M1110 631h0M1099 474h0M1093 445h0M1112 533h0M1127 532h0M1098 478h0M1112 656h0M1130 443h0M1116 460h0M1098 556h0M1111 584h0M1130 433h0M1123 482h0M1113 467h0M1124 387h0M1124 545h0M1093 259h0M1105 588h0M1123 451h0M1111 303h0M1115 381h0M1095 494h0M1121 488h0M1111 465h0M1125 547h0M1097 577h0M1104 437h0M1114 551h0M1092 416h0M1123 368h0M1124 392h0M1106 373h0M1103 402h0M1095 607h0M1131 656h0M1118 479h0M1096 623h0M1122 558h0M1123 486h0M1107 483h0M1127 605h0M1109 410h0M1129 556h0M1118 556h0M1105 412h0M1095 634h0M1112 477h0M1098 592h0M1100 569h0M1114 529h0M1100 414h0M1091 356h0M1095 506h0M1130 561h0M1105 489h0M1120 514h0M1121 486h0M1101 501h0"/><path d="M1111 439h0M1118 467h0M1119 590h0M1124 471h0M1128 332h0M1121 538h0M1095 449h0M1093 402h0M1124 438h0M1113 382h0M1093 498h0M1123 470h0M1109 335h0M1111 486h0M1131 609h0M1090 508h0M1112 371h0M1119 400h0M1125 470h0M1096 403h0M1106 403h0M1129 555h0M1108 491h0M1119 413h0M1124 556h0M1090 503h0M1125 556h0M1119 400h0M1106 503h0M1089 418h0M1096 668h0M1094 325h0M1094 467h0M1128 543h0M1125 560h0M1113 426h0M1108 562h0M1105 604h0M1104 453h0M1089 461h0M1127 631h0M1120 450h0M1113 501h0M1125 554h0M1094 262h0M1104 484h0M1103 367h0M1131 466h0M1124 599h0M1118 570h0M1095 622h0M1131 648h0M1098 442h0M1090 678h0M1114 477h0M1127 393h0M1099 545h0M1115 366h0M1119 607h0M1090 585h0M1128 541h0M1112 706h0M1120 550h0M1117 453h0M1131 590h0M1125 576h0M1128 468h0M1107 595h0M1094 563h0M1104 511h0M1109 493h0M1098 341h0M1101 391h0M1131 546h0M1101 474h0M1122 450h0M1121 448h0M1108 638h0M1105 493h0M1130 427h0M1114 451h0M1093 399h0M1101 448h0M1114 473h0M1126 502h0M1098 489h0M1127 375h0M1121 283h0M1119 432h0M1093 499h0M1101 436h0M1102 515h0M1097 527h0M1116 484h0M1129 367h0M1095 548h0M1096 437h0M1099 621h0M1104 459h0M1120 503h0M1106 604h0M1128 375h0M1096 459h0M1107 455h0M1115 577h0M1123 505h0M1130 453h0M1128 498h0M1121 673h0M1102 263h0M1111 525h0M1096 669h0M1105 447h0"/><path d="M1089 491h0M1124 592h0M1112 432h0M1116 487h0M1121 519h0M1098 286h0M1110 629h0M1089 582h0M1093 520h0M1108 513h0M1091 555h0M1111 419h0M1107 450h0M1106 448h0M1116 348h0M1120 546h0M1115 462h0M1122 507h0M1122 373h0M1090 135h0M1106 552h0M1110 457h0M1103 556h0M1110 447h0M1094 538h0M1091 379h0M1127 597h0M1119 452h0M1118 482h0M1112 478h0M1099 573h0M1094 569h0M1101 460h0M1098 467h0M1093 273h0M1095 504h0M1111 457h0M1102 627h0M1094 483h0M1113 565h0M1131 549h0M1117 608h0M1115 376h0M1099 493h0M1125 562h0M1089 419h0M1101 513h0M1129 712h0M1114 417h0M1099 416h0M1105 517h0M1130 398h0M1119 549h0M1107 526h0M1112 402h0M1127 571h0M1120 410h0M1128 381h0M1099 628h0M1114 604h0M1119 429h0M1093 375h0M1101 448h0M1108 498h0M1103 452h0M1131 584h0M1111 413h0M1124 465h0M1098 406h0M1104 515h0M1094 642h0M1120 510h0M1120 614h0M1107 365h0M1129 407h0M1089 396h0M1118 479h0M1101 580h0M1089 531h0M1112 415h0M1094 379h0M1093 577h0M1122 533h0M1126 562h0M1118 410h0M1113 530h0M1129 595h0M1094 402h0M1098 351h0M1108 623h0M1116 490h0M1098 563h0M1097 421h0M1094 570h0M1119 583h0M1103 522h0M1126 598h0M1120 465h0M1113 348h0M1116 578h0M1091 403h0M1101 497h0M1127 539h0M1089 471h0M1101 569h0M1100 542h0M1104 521h0M1096 544h0M1094 565h0M1108 600h0M1107 531h0M1126 496h0M1124 510h0"/><path d="M1122 630h0M1108 500h0M1099 424h0M1104 520h0M1112 299h0M1127 594h0M1106 494h0M1131 611h0M1131 411h0M1105 536h0M1124 329h0M1116 538h0M1112 499h0M1109 387h0M1123 338h0M1115 514h0M1127 435h0M1117 515h0M1125 529h0M1112 579h0M1109 309h0M1105 655h0M1129 578h0M1099 461h0M1100 512h0M1116 493h0M1123 634h0M1121 584h0M1120 366h0M1109 493h0M1101 521h0M1121 585h0M1110 509h0M1124 544h0M1121 476h0M1112 404h0M1091 455h0M1124 261h0M1090 551h0M1096 476h0M1094 555h0M1094 484h0M1104 530h0M1104 469h0M1105 530h0M1091 355h0M1110 501h0M1120 478h0M1121 490h0M1091 558h0M1096 530h0M1090 591h0M1129 497h0M1098 533h0M1131 389h0M1104 545h0M1106 486h0M1091 493h0M1106 432h0M1118 442h0M1095 497h0M1096 418h0M1129 474h0M1109 676h0M1118 569h0M1110 584h0M1114 625h0M1119 459h0M1106 497h0M1113 307h0M1123 528h0M1125 344h0M1119 490h0M1090 595h0M1106 388h0M1118 637h0M1107 517h0M1099 535h0M1112 545h0M1098 416h0M1095 617h0M1095 445h0M1114 473h0M1090 440h0M1109 446h0M1116 424h0M1097 385h0M1107 488h0M1106 613h0M1098 278h0M1089 627h0M1109 307h0M1092 495h0M1112 491h0M1123 352h0M1131 316h0M1094 428h0M1130 591h0M1131 452h0M1102 356h0M1125 433h0M1116 494h0M1118 465h0M1094 371h0M1120 500h0M1100 441h0M1090 439h0M1129 434h0M1093 375h0M1125 393h0M1109 399h0M1107 391h0M1130 540h0"/><path d="M1120 344h0M1114 471h0M1096 479h0M1127 598h0M1098 530h0M1110 363h0M1130 556h0M1124 447h0M1107 519h0M1101 436h0M1105 653h0M1106 582h0M1102 523h0M1092 483h0M1116 438h0M1117 432h0M1120 491h0M1113 540h0M1101 572h0M1118 619h0M1113 474h0M1107 426h0M1104 198h0M1097 362h0M1105 585h0M1129 549h0M1115 470h0M1129 532h0M1095 406h0M1126 507h0M1097 429h0M1114 571h0M1123 564h0M1123 523h0M1104 492h0M1107 317h0M1129 360h0M1104 473h0M1117 454h0M1121 611h0M1097 473h0M1099 450h0M1090 543h0M1111 559h0M1122 507h0M1118 410h0M1109 491h0M1109 578h0M1116 501h0M1089 497h0M1118 385h0M1116 470h0M1112 611h0M1115 532h0M1097 340h0M1112 540h0M1129 499h0M1095 529h0M1120 480h0M1117 608h0M1122 319h0M1100 392h0M1101 630h0M1096 501h0M1128 459h0M1127 295h0M1102 406h0M1127 455h0M1099 565h0M1126 633h0M1109 483h0M1107 588h0M1100 439h0M1116 612h0M1098 499h0M1097 516h0M1116 470h0M1100 551h0M1089 533h0M1124 493h0M1125 562h0M1110 489h0M1126 597h0M1090 321h0M1123 361h0M1105 478h0M1098 601h0M1112 590h0M1123 575h0M1101 456h0M1127 528h0M1105 478h0M1116 536h0M1093 449h0M1128 572h0M1123 469h0M1097 384h0M1111 451h0M1124 470h0M1128 508h0M1106 482h0M1106 530h0M1123 438h0M1110 541h0M1126 507h0M1112 558h0M1108 567h0M1100 508h0M1119 594h0M1093 466h0M1105 567h0M1127 570h0M1104 443h0"/><path d="M1097 518h0M1096 637h0M1120 611h0M1126 559h0M1105 559h0M1120 501h0M1117 524h0M1126 612h0M1126 493h0M1102 481h0M1105 552h0M1104 442h0M1127 384h0M1108 370h0M1108 539h0M1127 557h0M1117 466h0M1105 582h0M1113 604h0M1104 669h0M1120 637h0M1095 432h0M1123 512h0M1127 470h0M1112 486h0M1107 513h0M1123 488h0M1117 477h0M1117 347h0M1103 293h0M1120 517h0M1101 510h0M1089 595h0M1107 407h0M1094 436h0M1090 436h0M1112 512h0M1112 355h0M1089 485h0M1131 613h0M1107 523h0M1099 558h0M1117 448h0M1112 440h0M1121 422h0M1098 447h0M1108 464h0M1117 391h0M1104 560h0M1125 282h0M1114 389h0M1127 419h0M1117 569h0M1126 627h0M1120 505h0M1090 617h0M1092 535h0M1128 568h0M1129 574h0M1119 445h0M1121 460h0M1104 467h0M1099 625h0M1130 500h0M1124 474h0M1114 561h0M1123 411h0M1115 396h0M1107 599h0M1124 456h0M1101 492h0M1112 538h0M1121 600h0M1111 600h0M1110 555h0M1110 563h0M1110 383h0M1096 421h0M1113 529h0M1105 503h0M1108 492h0M1126 434h0M1106 688h0M1099 600h0M1101 581h0M1129 471h0M1120 432h0M1115 404h0M1112 517h0M1089 535h0M1111 504h0M1110 520h0M1112 622h0M1094 491h0M1106 601h0M1103 531h0M1123 460h0M1123 356h0M1112 308h0M1089 494h0M1098 557h0M1131 566h0M1106 489h0M1130 378h0M1115 479h0M1118 508h0M1114 565h0M1130 492h0M1111 647h0M1096 319h0M1100 355h0M1129 500h0M1100 507h0"/></g>
<path d="M888 265.5V429.3M888 542.1V698.6" stroke="#474747" stroke-width="2"/>
<rect x="855" y="429" width="66" height="113" fill="#fff" fill-opacity="0.17" stroke="#444" stroke-width="2"/>
<path d="M855 488.3H921" stroke="#4d4d4d" stroke-width="3.6"/>
<path d="M1110 259.9V430.3M1110 545.7V700" stroke="#474747" stroke-width="2"/>
<rect x="1077" y="430" width="66" height="116" fill="#fff" fill-opacity="0.17" stroke="#444" stroke-width="2"/>
<path d="M1077 488.8H1143" stroke="#4d4d4d" stroke-width="3.6"/>
<path d="M887.6 125C887.8 141.2 888.1 199.9 888.6 222.4C889.1 244.9 889.6 247.5 890.4 260C891.2 272.5 892.4 288.1 893.2 297.4C894 306.7 894.3 309.7 895.1 316C895.9 322.3 896.7 328.7 897.9 335C899.1 341.3 900.2 347.4 902.1 353.6C904 359.8 906.6 366.2 909.2 372.4C911.8 378.6 915.2 384.7 917.6 391C920 397.3 921.7 403.7 923.6 410C925.5 416.3 927 422.4 928.8 428.7C930.6 434.9 932.8 441.2 934.4 447.5C936 453.8 937.3 458.4 938.6 466.2C939.9 474 941.5 486.5 942 494.3C942.5 502.1 941.9 506.8 941.6 513C941.3 519.2 941.4 525.5 940.1 531.8C938.8 538.1 936 544.4 933.6 550.6C931.2 556.9 928.4 563.1 925.6 569.3C922.8 575.5 919.6 581.8 916.6 588C913.6 594.2 910.1 600.5 907.3 606.8C904.5 613 901.7 619.2 899.8 625.5C897.9 631.8 896.9 638 895.8 644.3C894.7 650.5 894 656.8 893.2 663C892.5 669.2 891.8 675.5 891.3 681.7C890.8 688 890.6 694.7 890 700.5C889.4 706.3 888 713.8 887.6 716.4C887.2 713.8 885.8 706.3 885.2 700.5C884.6 694.7 884.4 688 883.9 681.7C883.4 675.5 882.8 669.2 882 663C881.2 656.8 880.5 650.5 879.4 644.3C878.3 638 877.3 631.8 875.4 625.5C873.5 619.2 870.7 613 867.9 606.8C865.1 600.5 861.6 594.2 858.6 588C855.6 581.8 852.4 575.5 849.6 569.3C846.8 563.1 844 556.9 841.6 550.6C839.2 544.4 836.4 538.1 835.1 531.8C833.8 525.5 833.9 519.2 833.6 513C833.3 506.8 832.7 502.1 833.2 494.3C833.7 486.5 835.3 474 836.6 466.2C837.9 458.4 839.2 453.8 840.8 447.5C842.4 441.2 844.6 434.9 846.4 428.7C848.2 422.4 849.7 416.3 851.6 410C853.5 403.7 855.2 397.3 857.6 391C860 384.7 863.4 378.6 866 372.4C868.6 366.2 871.2 359.8 873.1 353.6C875 347.4 876.1 341.3 877.3 335C878.5 328.7 879.3 322.3 880.1 316C880.9 309.7 881.2 306.7 882 297.4C882.8 288.1 884 272.5 884.8 260C885.6 247.5 886.1 244.9 886.6 222.4C887.1 199.9 887.4 141.2 887.6 125Z" fill="#fff" fill-opacity="0.15" stroke="#1a1a1a" stroke-width="2.1" stroke-linejoin="round"/>
<path d="M1110.2 135.3C1110.5 149.8 1111 201.6 1111.7 222.4C1112.4 243.2 1113.7 247.5 1114.6 260C1115.5 272.5 1116.5 288.1 1117.2 297.4C1118 306.7 1118.3 309.8 1119.1 316C1119.9 322.2 1120.9 328.5 1121.9 334.8C1122.9 341.1 1123.9 347.4 1125.2 353.6C1126.5 359.9 1128 366.1 1129.9 372.3C1131.8 378.5 1134.2 384.7 1136.4 391C1138.6 397.3 1141 403.6 1143.1 410C1145.2 416.4 1147 422.9 1149.2 429.3C1151.5 435.7 1154.4 442.2 1156.6 448.6C1158.8 455.1 1160.8 461.6 1162.2 468C1163.6 474.4 1164.8 480.9 1165.2 487.3C1165.6 493.7 1165.2 500.2 1164.4 506.6C1163.6 513.1 1161.9 519.5 1160.4 526C1159 532.5 1157.3 538.9 1155.7 545.3C1154.1 551.7 1152.8 558.1 1150.7 564.6C1148.6 571.1 1145.7 577.6 1143.1 584C1140.5 590.4 1137.9 596.8 1135.3 603.2C1132.7 609.6 1130 616.2 1127.6 622.6C1125.2 629 1122.7 635.5 1120.8 641.9C1118.9 648.3 1117.2 654.8 1116 661.2C1114.8 667.6 1114.1 674 1113.4 680.5C1112.7 687 1112.5 691.4 1112 699.9C1111.5 708.4 1110.5 726.4 1110.2 731.7C1109.9 726.4 1108.9 708.4 1108.4 699.9C1107.9 691.4 1107.7 687 1107 680.5C1106.3 674 1105.6 667.6 1104.4 661.2C1103.2 654.8 1101.5 648.3 1099.6 641.9C1097.7 635.5 1095.2 629 1092.8 622.6C1090.4 616.2 1087.7 609.6 1085.1 603.2C1082.5 596.8 1079.9 590.4 1077.3 584C1074.7 577.6 1071.8 571.1 1069.7 564.6C1067.6 558.1 1066.3 551.7 1064.7 545.3C1063.1 538.9 1061.5 532.5 1060 526C1058.5 519.5 1056.8 513.1 1056 506.6C1055.2 500.2 1054.8 493.7 1055.2 487.3C1055.6 480.9 1056.8 474.4 1058.2 468C1059.6 461.6 1061.6 455.1 1063.8 448.6C1066 442.2 1069 435.7 1071.2 429.3C1073.5 422.9 1075.2 416.4 1077.3 410C1079.4 403.6 1081.8 397.3 1084 391C1086.2 384.7 1088.6 378.5 1090.5 372.3C1092.4 366.1 1093.9 359.9 1095.2 353.6C1096.5 347.4 1097.5 341.1 1098.5 334.8C1099.5 328.5 1100.5 322.2 1101.3 316C1102.1 309.8 1102.5 306.7 1103.2 297.4C1104 288.1 1104.9 272.5 1105.8 260C1106.7 247.5 1108 243.2 1108.7 222.4C1109.4 201.6 1110 149.8 1110.2 135.3Z" fill="#fff" fill-opacity="0.15" stroke="#1a1a1a" stroke-width="2.1" stroke-linejoin="round"/>
<circle cx="887.6" cy="485" r="11.5" fill="#8b0000"/>
<circle cx="889.6" cy="485" r="1.3" fill="#000"/>
<circle cx="898" cy="485" r="1.3" fill="#000"/>
<path d="M905.9 485H912.7" stroke="#000" stroke-width="1.6"/>
<circle cx="1110.2" cy="485.4" r="11.5" fill="#8b0000"/>
<path d="M1111.2 485.4H1115.2" stroke="#000" stroke-width="1.6"/>
<g font-family="'Liberation Sans', Arial, Helvetica, sans-serif" fill="#000">
<rect x="921.6" y="469.3" width="111.8" height="31.2" rx="3.8" fill="#fff" stroke="#1f1f1f" stroke-width="1.4"/><text x="927.6" y="490.4" font-size="17.3">μ</text><text x="925.62" y="487.65" font-family="'DejaVu Sans', sans-serif" font-size="17.5">^</text><text x="937.7" y="493.6" font-size="11.7">mean</text><text transform="translate(975.65 490.4) scale(1.08 1)" x="-5.05" font-size="17.3">=</text><text x="983.8" y="490.4" font-size="17.3">2.859</text>
<rect x="1125.3" y="469.7" width="111.8" height="31.2" rx="3.8" fill="#fff" stroke="#1f1f1f" stroke-width="1.4"/><text x="1131.3" y="490.8" font-size="17.3">μ</text><text x="1129.32" y="488.05" font-family="'DejaVu Sans', sans-serif" font-size="17.5">^</text><text x="1141.4" y="494" font-size="11.7">mean</text><text transform="translate(1179.35 490.8) scale(1.08 1)" x="-5.05" font-size="17.3">=</text><text x="1187.5" y="490.8" font-size="17.3">2.854</text>
</g>
<rect x="755" y="96" width="488" height="666" fill="none" stroke="#000" stroke-width="2"/>
<path d="M750.2 583H755.4M750.2 354H755.4M750.2 125H755.4M887.6 761.6V766.8M1110.2 761.6V766.8" stroke="#333" stroke-width="1.7"/>
<g font-family="'Liberation Sans', Arial, Helvetica, sans-serif" font-size="15.1" fill="#333" text-anchor="end">
<text x="745.6" y="588.3">2</text>
<text x="745.6" y="359.3">4</text>
<text x="745.6" y="130.3">6</text>
</g>
<g font-family="'Liberation Sans', Arial, Helvetica, sans-serif" font-size="15.1" fill="#333" text-anchor="middle">
<text x="887.6" y="782.4">Persistent infection</text>
<text x="887.6" y="798">(n = 1,280)</text>
<text x="1110.2" y="782.4">Persistent negative</text>
<text x="1110.2" y="798">(n = 2,719)</text>
</g>
<text x="999.1" y="820.3" font-family="'Liberation Sans', Arial, Helvetica, sans-serif" font-size="19.1" font-weight="bold" text-anchor="middle">H.pylori</text>
<text transform="translate(728.4 428.95) rotate(-90)" font-family="'Liberation Sans', Arial, Helvetica, sans-serif" font-size="19.1" font-weight="bold" text-anchor="middle">LDL</text>
<g font-family="'Liberation Sans', Arial, Helvetica, sans-serif" fill="#000"><text x="754" y="74.8" font-size="19.3" font-style="italic">t</text><text x="761.1" y="78.7" font-size="13.25">Student</text><text x="807" y="74.8" font-size="19.3">(3997)</text><text transform="translate(871.43 74.8) scale(1.15 1)" x="-5.64" font-size="19.3">=</text><text x="881.36" y="74.8" font-size="19.3">0.181,</text><text x="938.72" y="74.8" font-size="19.3" font-style="italic">p</text><text transform="translate(959.89 74.8) scale(1.15 1)" x="-5.64" font-size="19.3">=</text><text x="969.83" y="74.8" font-size="19.3">0.856</text></g>
<text transform="translate(656.76 32.8) scale(0.74 1)" font-family="'Liberation Sans', Arial, Helvetica, sans-serif" font-size="43" font-weight="bold">B</text>
<path d="M1474.9 662.4H1942.5M1474.9 506.6H1942.5M1474.9 350.9H1942.5M1474.9 195.1H1942.5" stroke="#efefef" stroke-width="2" fill="none"/>
<path d="M1474.9 740.3H1942.5M1474.9 584.5H1942.5M1474.9 428.7H1942.5M1474.9 273H1942.5M1474.9 117.2H1942.5M1601.8 97.3V760.6M1816.9 97.3V760.6" stroke="#e3e3e3" stroke-width="1.6" fill="none"/>
<g stroke="#1b9e77" stroke-opacity="0.45" stroke-width="11.6" stroke-linecap="round" fill="none"><path d="M1598 312h0M1589 639h0M1593 476h0M1602 444h0M1585 452h0M1610 366h0M1602 507h0M1607 522h0M1601 522h0M1597 398h0M1618 351h0M1613 522h0M1595 553h0M1606 507h0M1588 429h0M1593 452h0M1614 328h0M1598 546h0M1623 592h0M1602 382h0M1602 569h0M1598 522h0M1610 514h0M1610 592h0M1622 522h0M1612 577h0M1617 429h0M1610 421h0M1590 134h0M1585 281h0M1593 616h0M1583 522h0M1582 335h0M1588 444h0M1606 437h0M1607 530h0M1618 421h0M1621 662h0M1581 546h0M1620 546h0M1593 491h0M1591 413h0M1589 421h0M1609 460h0M1617 390h0M1601 359h0M1603 561h0M1589 304h0M1602 320h0M1600 592h0M1594 312h0M1623 374h0M1590 413h0M1587 382h0"/><path d="M1612 522h0M1612 483h0M1597 530h0M1615 499h0M1604 514h0M1623 491h0M1604 390h0M1621 592h0M1603 483h0M1618 444h0M1605 538h0M1604 202h0M1585 491h0M1604 444h0M1602 522h0M1588 429h0M1605 382h0M1623 553h0M1610 569h0M1588 444h0M1601 312h0M1594 444h0M1622 460h0M1602 608h0M1599 491h0M1581 351h0M1619 437h0M1616 437h0M1606 281h0M1622 546h0M1592 553h0M1622 320h0M1600 546h0M1608 366h0M1622 328h0M1612 429h0M1614 460h0M1594 398h0M1582 421h0M1620 507h0M1616 405h0M1613 444h0M1605 312h0M1608 281h0M1590 343h0M1597 398h0M1601 468h0M1581 312h0M1612 553h0M1618 468h0M1590 343h0M1611 530h0M1589 382h0M1601 468h0"/><path d="M1623 507h0M1598 553h0M1621 304h0M1614 281h0M1621 569h0M1612 452h0M1619 398h0M1601 460h0M1586 546h0M1587 382h0M1619 320h0M1606 499h0M1591 553h0M1590 296h0M1600 491h0M1611 304h0M1595 382h0M1605 374h0M1606 390h0M1594 616h0M1602 390h0M1601 491h0M1595 468h0M1590 366h0M1588 647h0M1596 561h0M1611 483h0M1586 390h0M1599 585h0M1594 561h0M1584 405h0M1588 616h0M1581 351h0M1590 437h0M1603 460h0M1608 561h0M1618 452h0M1597 374h0M1590 499h0M1605 569h0M1590 483h0M1599 476h0M1598 421h0M1617 382h0M1588 328h0M1622 242h0M1621 374h0M1588 522h0M1616 491h0M1591 546h0M1604 569h0M1584 265h0M1620 491h0M1595 530h0"/><path d="M1605 514h0M1616 600h0M1591 460h0M1598 491h0M1596 483h0M1605 374h0M1621 343h0M1607 569h0M1619 655h0M1589 585h0M1584 538h0M1609 273h0M1606 382h0M1601 468h0M1585 514h0M1594 592h0M1599 382h0M1621 452h0M1618 538h0M1581 452h0M1582 320h0M1623 437h0M1607 561h0M1605 335h0M1598 452h0M1618 491h0M1613 429h0M1609 398h0M1602 351h0M1604 444h0M1615 452h0M1601 499h0M1623 366h0M1610 468h0M1607 522h0M1602 413h0M1607 281h0M1610 281h0M1602 374h0M1582 538h0M1597 359h0M1598 577h0M1619 421h0M1587 483h0M1581 413h0M1595 577h0M1583 304h0M1617 530h0M1609 335h0M1604 483h0M1623 476h0M1607 390h0M1600 429h0M1611 530h0"/><path d="M1613 631h0M1592 359h0M1600 437h0M1613 476h0M1619 514h0M1611 483h0M1601 600h0M1610 413h0M1603 437h0M1599 499h0M1588 437h0M1589 522h0M1613 429h0M1584 320h0M1591 678h0M1601 421h0M1601 421h0M1598 460h0M1598 499h0M1589 491h0M1617 460h0M1618 444h0M1603 468h0M1603 359h0M1623 491h0M1586 577h0M1596 421h0M1622 413h0M1618 156h0M1588 561h0M1586 444h0M1588 429h0M1619 476h0M1617 514h0M1615 405h0M1593 413h0M1581 538h0M1595 180h0M1592 390h0M1591 530h0M1595 647h0M1604 421h0M1620 522h0M1592 577h0M1613 514h0M1599 265h0M1605 491h0M1604 577h0M1608 491h0M1599 468h0M1623 507h0M1587 553h0M1585 522h0M1608 538h0"/><path d="M1611 273h0M1603 530h0M1588 546h0M1618 359h0M1611 405h0M1611 304h0M1603 343h0M1605 452h0M1606 491h0M1594 289h0M1589 444h0M1596 437h0M1592 507h0M1588 616h0M1611 382h0M1591 530h0M1599 561h0M1581 468h0M1597 491h0M1583 483h0M1599 374h0M1586 429h0M1611 429h0M1599 382h0M1616 530h0M1620 444h0M1590 546h0M1609 546h0M1586 460h0M1607 312h0M1609 592h0M1594 312h0M1623 398h0M1610 468h0M1608 483h0M1616 499h0M1613 351h0M1588 476h0M1616 569h0M1605 421h0M1597 413h0M1601 491h0M1588 444h0M1585 561h0M1585 421h0M1623 328h0M1611 592h0M1617 281h0M1585 413h0M1620 483h0M1614 546h0M1605 390h0M1598 304h0M1606 398h0"/><path d="M1599 468h0M1606 359h0M1614 390h0M1622 530h0M1592 507h0M1617 514h0M1621 382h0M1605 530h0M1612 585h0M1586 553h0M1621 476h0M1621 390h0M1582 514h0M1609 359h0M1612 429h0M1602 312h0M1585 398h0M1621 366h0M1597 538h0M1592 390h0M1596 413h0M1612 398h0M1597 405h0M1591 429h0M1616 437h0M1606 483h0M1598 452h0M1586 483h0M1603 421h0M1623 514h0M1596 561h0M1622 421h0M1604 281h0M1587 499h0M1600 452h0M1586 444h0M1595 491h0M1610 483h0M1609 538h0M1619 343h0M1599 421h0M1610 366h0M1585 437h0M1597 429h0M1610 398h0M1610 624h0M1617 476h0M1613 413h0M1589 374h0M1583 320h0M1619 499h0M1581 343h0M1604 476h0M1602 546h0"/><path d="M1596 437h0M1598 647h0M1585 592h0M1595 444h0M1623 437h0M1610 359h0M1595 499h0M1605 359h0M1584 343h0M1608 600h0M1602 304h0M1590 312h0M1587 211h0M1600 421h0M1620 452h0M1615 468h0M1581 289h0M1623 468h0M1595 351h0M1593 304h0M1609 265h0M1585 468h0M1589 366h0M1599 476h0M1620 530h0M1617 382h0M1585 577h0M1612 507h0M1617 444h0M1600 546h0M1610 390h0M1588 569h0M1607 499h0M1603 569h0M1614 577h0M1598 398h0M1592 320h0M1582 592h0M1606 522h0M1599 499h0M1584 312h0M1595 437h0M1602 499h0M1620 351h0M1599 624h0M1585 429h0M1590 530h0M1592 530h0M1609 491h0M1591 483h0M1592 483h0M1601 585h0M1582 366h0M1609 312h0"/><path d="M1613 452h0M1618 592h0M1622 483h0M1591 320h0M1617 398h0M1605 592h0M1620 398h0M1592 351h0M1621 398h0M1612 483h0M1592 257h0M1587 335h0M1601 460h0M1592 421h0M1594 382h0M1612 452h0M1615 382h0M1583 296h0M1588 437h0M1615 468h0M1606 577h0M1584 530h0M1609 390h0M1623 273h0M1622 452h0M1610 468h0M1614 405h0M1586 405h0M1622 351h0M1604 600h0M1615 343h0M1616 569h0M1599 351h0M1607 585h0M1581 351h0M1599 328h0M1587 343h0M1608 476h0M1619 577h0M1620 600h0M1621 460h0M1589 507h0M1619 452h0M1615 405h0M1597 460h0M1604 390h0M1595 382h0M1616 522h0M1601 507h0M1595 592h0M1606 522h0M1590 452h0M1622 608h0"/><path d="M1598 335h0M1603 382h0M1610 382h0M1590 585h0M1599 522h0M1589 616h0M1593 405h0M1601 328h0M1619 507h0M1595 242h0M1611 390h0M1588 405h0M1587 538h0M1596 499h0M1580 312h0M1616 491h0M1593 437h0M1581 320h0M1580 413h0M1609 452h0M1604 366h0M1604 265h0M1584 452h0M1582 390h0M1581 491h0M1607 561h0M1611 468h0M1589 468h0M1613 561h0M1610 530h0M1618 405h0M1591 468h0M1617 437h0M1594 530h0M1583 413h0M1593 522h0M1586 405h0M1609 600h0M1589 616h0M1618 538h0M1580 499h0M1596 335h0M1617 546h0M1611 476h0M1586 437h0M1589 546h0M1612 631h0M1623 499h0M1591 320h0M1613 328h0M1583 359h0M1609 250h0M1588 125h0"/><path d="M1609 281h0M1597 522h0M1587 390h0M1605 366h0M1602 374h0M1615 195h0M1620 405h0M1617 530h0M1616 398h0M1619 569h0M1618 585h0M1583 429h0M1612 398h0M1623 491h0M1619 507h0M1609 624h0M1585 514h0M1587 616h0M1610 468h0M1599 522h0M1610 483h0M1605 405h0M1611 460h0M1606 585h0M1616 413h0M1584 289h0M1614 460h0M1591 429h0M1602 444h0M1597 522h0M1613 390h0M1586 429h0M1587 491h0M1587 281h0M1593 499h0M1596 289h0M1623 437h0M1581 507h0M1612 413h0M1618 546h0M1585 491h0M1589 398h0M1611 374h0M1604 359h0M1581 522h0M1598 429h0M1597 460h0M1589 429h0M1596 405h0M1590 507h0M1585 289h0M1588 437h0M1604 398h0"/><path d="M1615 608h0M1582 398h0M1601 483h0M1583 569h0M1593 437h0M1584 444h0M1623 585h0M1601 413h0M1617 460h0M1583 444h0M1602 413h0M1585 437h0M1616 281h0M1611 514h0M1611 569h0M1587 328h0M1608 538h0M1617 514h0M1596 522h0M1587 608h0M1600 289h0M1591 437h0M1614 647h0M1593 507h0M1595 273h0M1623 320h0M1586 429h0M1589 561h0M1601 592h0M1611 491h0M1593 468h0M1616 359h0M1591 569h0M1622 359h0M1587 374h0M1606 491h0M1581 491h0M1605 561h0M1588 413h0M1587 483h0M1606 514h0M1619 499h0M1586 421h0M1594 444h0M1594 553h0M1589 335h0M1620 624h0M1621 499h0M1581 522h0M1585 476h0M1618 382h0M1615 312h0M1615 561h0"/><path d="M1614 460h0M1607 421h0M1606 413h0M1585 273h0M1594 304h0M1597 289h0M1607 569h0M1613 382h0M1620 561h0M1611 281h0M1585 577h0M1594 530h0M1616 507h0M1600 546h0M1581 351h0M1581 491h0M1618 569h0M1588 569h0M1609 468h0M1611 351h0M1580 514h0M1587 522h0M1585 398h0M1589 413h0M1598 429h0M1608 374h0M1622 242h0M1615 421h0M1599 351h0M1597 312h0M1588 476h0M1596 413h0M1598 359h0M1618 514h0M1584 538h0M1611 351h0M1592 483h0M1604 592h0M1611 405h0M1597 374h0M1592 600h0M1611 444h0M1590 374h0M1582 631h0M1608 312h0M1608 444h0M1583 522h0M1608 359h0M1615 655h0M1592 413h0M1615 296h0M1581 398h0M1600 374h0"/><path d="M1597 328h0M1596 289h0M1588 577h0M1615 546h0M1600 507h0M1619 460h0M1599 507h0M1610 592h0M1591 476h0M1595 328h0M1604 343h0M1621 312h0M1621 507h0M1598 366h0M1587 507h0M1584 514h0M1607 320h0M1623 452h0M1621 585h0M1582 421h0M1615 507h0M1590 530h0M1622 366h0M1620 483h0M1582 483h0M1595 164h0M1588 600h0M1607 413h0M1599 398h0M1617 499h0M1605 421h0M1610 421h0M1584 382h0M1587 374h0M1620 569h0M1595 499h0M1583 483h0M1599 546h0M1608 538h0M1612 522h0M1581 304h0M1610 546h0M1607 569h0M1615 483h0M1612 444h0M1616 460h0M1620 390h0M1596 398h0M1586 507h0M1592 429h0M1593 405h0M1605 522h0M1613 592h0"/><path d="M1598 429h0M1593 312h0M1601 476h0M1586 616h0M1601 546h0M1596 273h0M1620 530h0M1609 413h0M1595 390h0M1584 304h0M1591 530h0M1603 195h0M1606 390h0M1617 507h0M1605 335h0M1622 476h0M1596 328h0M1587 444h0M1605 413h0M1588 507h0M1583 530h0M1606 546h0M1614 522h0M1613 600h0M1614 405h0M1587 437h0M1597 561h0M1607 538h0M1597 390h0M1581 398h0M1606 647h0M1617 483h0M1593 390h0M1592 507h0M1609 530h0M1617 312h0M1582 382h0M1601 335h0M1593 546h0M1622 569h0M1613 374h0M1594 514h0M1608 608h0M1621 444h0M1615 444h0M1617 452h0M1614 530h0M1613 569h0M1581 577h0M1612 320h0M1599 413h0M1610 359h0M1593 437h0"/><path d="M1597 460h0M1608 468h0M1613 429h0M1581 452h0M1588 312h0M1610 546h0M1583 569h0M1612 577h0M1592 405h0M1616 553h0M1588 631h0M1612 546h0M1609 382h0M1602 421h0M1587 374h0M1594 460h0M1612 600h0M1592 398h0M1622 460h0M1609 335h0M1613 476h0M1594 476h0M1613 585h0M1605 514h0M1604 390h0M1584 226h0M1615 514h0M1584 468h0M1593 382h0M1591 608h0M1613 483h0M1622 444h0M1599 359h0M1595 662h0M1610 561h0M1600 421h0M1622 444h0M1583 530h0M1600 491h0M1603 413h0M1587 343h0M1588 390h0M1602 686h0M1617 514h0M1587 476h0M1607 413h0M1603 398h0M1609 429h0M1616 522h0M1600 546h0M1612 405h0M1612 476h0M1600 452h0"/><path d="M1584 444h0M1586 460h0M1589 476h0M1585 343h0M1589 499h0M1610 421h0M1620 530h0M1610 374h0M1602 538h0M1618 460h0M1621 437h0M1593 390h0M1621 398h0M1606 452h0M1614 468h0M1589 507h0M1611 421h0M1613 577h0M1613 374h0M1597 624h0M1614 468h0M1612 662h0M1614 296h0M1619 491h0M1621 499h0M1589 460h0M1622 514h0M1603 437h0M1599 421h0M1597 320h0M1597 405h0M1609 374h0M1615 343h0M1588 374h0M1594 429h0M1621 476h0M1615 624h0M1588 569h0M1606 514h0M1616 476h0M1611 429h0M1611 476h0M1622 530h0M1619 553h0M1604 320h0M1599 382h0M1611 312h0M1607 335h0M1612 390h0M1601 405h0M1600 592h0M1587 577h0M1590 351h0"/><path d="M1615 398h0M1608 522h0M1589 444h0M1615 631h0M1599 437h0M1592 491h0M1586 413h0M1622 514h0M1588 413h0M1611 444h0M1605 437h0M1615 483h0M1617 382h0M1610 507h0M1622 359h0M1614 577h0M1614 359h0M1582 561h0M1598 460h0M1614 405h0M1581 569h0M1589 444h0M1597 608h0M1604 444h0M1607 631h0M1588 452h0M1589 569h0M1581 429h0M1585 382h0M1593 437h0M1587 398h0M1613 476h0M1598 460h0M1614 592h0M1603 514h0M1596 374h0M1612 491h0M1606 429h0M1615 476h0M1613 499h0M1607 561h0M1598 522h0M1623 538h0M1617 366h0M1605 398h0M1588 444h0M1621 553h0M1597 577h0M1605 437h0M1591 608h0M1589 405h0M1599 468h0M1610 359h0"/><path d="M1616 343h0M1603 530h0M1616 328h0M1600 546h0M1602 320h0M1599 429h0M1593 616h0M1622 577h0M1595 491h0M1599 382h0M1610 538h0M1604 499h0M1588 452h0M1599 359h0M1581 491h0M1618 483h0M1582 374h0M1612 514h0M1597 351h0M1590 312h0M1591 460h0M1582 335h0M1600 491h0M1602 452h0M1594 452h0M1604 514h0M1615 398h0M1606 522h0M1595 437h0M1612 273h0M1607 351h0M1583 382h0M1603 522h0M1592 569h0M1590 374h0M1606 600h0M1592 561h0M1595 561h0M1610 561h0M1587 507h0M1622 382h0M1601 476h0M1586 483h0M1594 351h0M1585 483h0M1616 413h0M1602 553h0M1614 577h0M1592 585h0M1616 491h0M1602 421h0M1608 359h0M1587 468h0"/><path d="M1608 405h0M1601 382h0M1603 507h0M1602 546h0M1596 460h0M1587 289h0M1610 343h0M1593 304h0M1617 592h0M1611 351h0M1582 491h0M1623 468h0M1583 468h0M1588 546h0M1613 476h0M1618 491h0M1584 514h0M1621 452h0M1592 585h0M1620 460h0M1589 460h0M1592 312h0M1596 577h0M1614 437h0M1585 569h0M1606 491h0M1614 359h0M1603 476h0M1603 522h0M1584 320h0M1605 421h0M1595 437h0M1595 468h0M1609 546h0M1600 437h0M1585 476h0M1613 483h0M1613 460h0M1615 413h0M1601 366h0M1595 398h0M1583 585h0M1582 522h0M1612 413h0M1604 546h0M1621 281h0M1595 514h0M1595 452h0M1601 452h0M1619 320h0M1615 429h0M1619 452h0M1620 585h0"/><path d="M1614 444h0M1592 561h0M1609 553h0M1607 382h0M1582 359h0M1588 390h0M1608 359h0M1621 600h0M1603 304h0M1585 382h0M1585 507h0M1614 281h0M1595 421h0M1603 366h0M1600 468h0M1601 491h0M1590 553h0M1605 296h0M1622 366h0M1619 483h0M1601 390h0M1603 390h0M1621 491h0M1610 522h0M1614 250h0M1612 437h0M1590 499h0M1589 343h0M1619 304h0M1604 359h0M1615 460h0M1594 452h0M1590 530h0M1591 374h0M1590 561h0M1617 483h0M1620 359h0M1606 561h0M1605 546h0M1595 514h0M1615 343h0M1600 569h0M1612 320h0M1612 390h0M1585 468h0M1608 172h0M1601 335h0M1585 250h0M1616 398h0M1613 444h0M1611 413h0M1617 452h0M1617 382h0"/><path d="M1614 452h0M1600 312h0M1607 460h0M1603 413h0M1604 592h0M1616 366h0M1590 530h0M1598 405h0M1581 382h0M1597 530h0M1592 546h0M1588 250h0M1591 320h0M1603 460h0M1581 491h0M1600 616h0M1621 522h0M1618 499h0M1607 468h0M1582 538h0M1616 320h0M1588 546h0M1620 639h0M1612 569h0M1605 444h0M1609 514h0M1622 507h0M1620 585h0M1613 444h0M1623 359h0M1613 390h0M1595 483h0M1605 312h0M1584 585h0M1596 437h0M1600 351h0M1617 577h0M1590 374h0M1600 460h0M1616 585h0M1586 421h0M1617 507h0M1619 569h0M1600 437h0M1589 499h0M1605 366h0M1581 382h0M1607 366h0M1604 312h0M1615 499h0M1597 437h0M1610 530h0M1600 693h0"/><path d="M1596 499h0M1610 530h0M1603 476h0M1616 616h0M1602 561h0M1598 390h0M1620 273h0M1586 553h0M1616 514h0M1590 538h0M1584 320h0M1590 460h0M1603 444h0M1620 553h0M1588 592h0M1616 507h0M1597 483h0M1604 553h0M1592 437h0M1605 444h0M1589 647h0M1616 491h0M1585 304h0M1594 413h0M1589 468h0M1582 413h0M1598 359h0M1601 444h0M1591 483h0M1582 569h0M1601 335h0M1614 289h0M1591 429h0M1598 499h0M1581 483h0M1587 499h0M1608 514h0M1589 491h0M1596 429h0M1598 483h0M1609 382h0M1582 670h0M1590 522h0M1585 359h0M1584 382h0M1590 553h0M1619 507h0M1606 429h0M1609 546h0M1584 499h0M1615 405h0M1583 413h0M1618 476h0"/><path d="M1613 530h0M1613 507h0M1591 335h0M1604 405h0M1606 530h0M1583 569h0M1589 405h0M1592 343h0M1586 382h0M1598 304h0M1600 452h0M1589 413h0M1606 592h0M1583 507h0M1597 452h0M1609 499h0M1589 405h0M1595 366h0M1601 429h0M1582 600h0M1602 413h0M1595 429h0M1599 390h0M1589 265h0M1585 514h0M1593 366h0M1589 429h0M1594 538h0M1600 398h0M1591 366h0M1613 553h0M1593 398h0M1583 398h0M1611 359h0M1583 421h0M1596 530h0M1597 530h0M1606 405h0M1622 460h0M1606 343h0M1605 546h0M1602 491h0M1609 390h0M1611 460h0M1584 374h0M1588 491h0M1590 413h0M1598 460h0M1608 437h0M1618 328h0M1620 335h0M1613 553h0M1601 421h0"/></g>
<g stroke="#d95f02" stroke-opacity="0.45" stroke-width="11.6" stroke-linecap="round" fill="none"><path d="M1811 444h0M1825 444h0M1817 343h0M1802 460h0M1827 452h0M1825 437h0M1805 304h0M1820 382h0M1833 351h0M1808 460h0M1799 553h0M1817 429h0M1799 390h0M1797 437h0M1823 312h0M1830 444h0M1828 538h0M1821 631h0M1833 398h0M1806 382h0M1811 522h0M1821 437h0M1813 320h0M1813 390h0M1813 250h0M1838 569h0M1838 366h0M1831 289h0M1803 374h0M1826 468h0M1797 405h0M1816 382h0M1821 351h0M1815 553h0M1824 553h0M1837 382h0M1805 289h0M1830 421h0M1820 437h0M1833 538h0M1815 491h0M1807 530h0M1838 444h0M1837 491h0M1826 561h0M1830 655h0M1828 530h0M1812 289h0M1830 476h0M1809 437h0M1805 600h0M1814 553h0M1837 538h0M1819 522h0M1822 577h0M1837 561h0M1810 592h0M1837 522h0M1824 553h0M1822 429h0M1833 289h0M1838 366h0M1808 366h0M1833 335h0M1822 631h0M1832 390h0M1811 530h0M1800 444h0M1824 359h0M1820 359h0M1823 413h0M1825 670h0M1837 359h0M1804 398h0M1809 444h0M1830 538h0M1809 476h0M1824 499h0M1830 460h0M1796 569h0M1806 577h0M1805 343h0M1836 366h0M1828 429h0M1816 491h0M1810 429h0M1808 429h0M1832 413h0M1824 398h0M1825 538h0M1822 250h0M1803 676h0M1805 507h0M1798 273h0M1798 226h0M1835 444h0M1797 413h0M1825 569h0M1817 483h0M1817 491h0M1799 320h0M1814 460h0M1836 522h0M1837 460h0M1810 639h0M1818 476h0M1836 405h0M1805 343h0M1815 351h0M1833 701h0M1832 538h0M1828 366h0M1824 429h0M1807 405h0"/><path d="M1809 538h0M1805 507h0M1822 538h0M1829 405h0M1805 624h0M1801 444h0M1817 561h0M1831 250h0M1810 670h0M1814 444h0M1806 437h0M1802 499h0M1835 514h0M1820 212h0M1811 413h0M1828 382h0M1799 335h0M1836 616h0M1819 444h0M1814 390h0M1801 460h0M1830 444h0M1797 421h0M1827 546h0M1825 444h0M1823 476h0M1798 468h0M1837 405h0M1815 382h0M1814 569h0M1809 514h0M1805 476h0M1824 507h0M1832 507h0M1838 592h0M1834 444h0M1816 530h0M1817 585h0M1829 335h0M1832 608h0M1830 413h0M1798 546h0M1836 452h0M1811 491h0M1802 398h0M1825 507h0M1806 514h0M1826 538h0M1812 522h0M1819 499h0M1814 452h0M1825 444h0M1816 553h0M1831 553h0M1826 390h0M1831 437h0M1820 296h0M1815 468h0M1823 499h0M1800 405h0M1798 483h0M1833 413h0M1801 398h0M1800 366h0M1827 460h0M1809 304h0M1832 429h0M1817 429h0M1796 335h0M1815 507h0M1829 452h0M1826 476h0M1824 335h0M1830 499h0M1801 483h0M1830 631h0M1814 437h0M1810 631h0M1834 444h0M1810 639h0M1807 444h0M1819 382h0M1833 444h0M1804 413h0M1814 608h0M1814 226h0M1830 600h0M1838 359h0M1827 483h0M1822 538h0M1805 398h0M1822 608h0M1814 421h0M1837 320h0M1805 405h0M1838 483h0M1825 491h0M1836 359h0M1834 452h0M1807 281h0M1827 273h0M1837 483h0M1799 429h0M1818 600h0M1811 148h0M1822 444h0M1803 468h0M1811 569h0M1838 460h0M1822 343h0M1804 585h0M1799 546h0M1809 452h0M1838 631h0"/><path d="M1819 359h0M1838 577h0M1824 616h0M1799 413h0M1821 514h0M1820 530h0M1817 468h0M1799 476h0M1813 561h0M1815 538h0M1801 421h0M1816 514h0M1822 476h0M1817 452h0M1812 444h0M1813 421h0M1832 530h0M1836 460h0M1830 374h0M1800 421h0M1816 413h0M1804 452h0M1808 421h0M1836 538h0M1797 413h0M1796 499h0M1818 413h0M1803 328h0M1803 561h0M1796 390h0M1810 390h0M1833 483h0M1812 507h0M1813 577h0M1821 359h0M1796 561h0M1820 382h0M1826 538h0M1813 328h0M1807 405h0M1834 374h0M1800 405h0M1825 398h0M1826 257h0M1804 444h0M1799 507h0M1824 468h0M1796 530h0M1804 398h0M1827 553h0M1821 429h0M1814 398h0M1819 538h0M1821 444h0M1816 413h0M1813 616h0M1832 405h0M1829 468h0M1829 265h0M1809 405h0M1810 507h0M1826 499h0M1814 421h0M1823 546h0M1834 444h0M1811 405h0M1803 624h0M1827 437h0M1804 452h0M1797 538h0M1811 468h0M1811 421h0M1805 553h0M1817 592h0M1817 616h0M1799 242h0M1836 421h0M1827 522h0M1815 561h0M1801 631h0M1836 538h0M1807 351h0M1808 405h0M1803 483h0M1828 429h0M1832 522h0M1816 522h0M1824 226h0M1827 335h0M1814 444h0M1837 382h0M1801 421h0M1800 413h0M1826 382h0M1833 600h0M1837 312h0M1797 530h0M1800 444h0M1807 499h0M1822 483h0M1802 374h0M1799 312h0M1808 546h0M1801 374h0M1834 405h0M1801 491h0M1812 546h0M1810 483h0M1837 444h0M1836 405h0M1829 616h0M1832 335h0M1828 328h0M1829 413h0"/><path d="M1798 273h0M1814 538h0M1804 585h0M1823 359h0M1802 390h0M1816 382h0M1824 569h0M1807 514h0M1812 413h0M1813 328h0M1835 366h0M1798 351h0M1821 507h0M1833 343h0M1834 366h0M1801 437h0M1831 429h0M1825 483h0M1807 507h0M1816 585h0M1837 662h0M1818 374h0M1807 180h0M1831 530h0M1805 242h0M1834 405h0M1800 483h0M1798 546h0M1808 366h0M1809 320h0M1833 600h0M1810 359h0M1802 522h0M1804 561h0M1818 304h0M1801 351h0M1814 468h0M1822 514h0M1834 421h0M1824 382h0M1827 499h0M1834 343h0M1831 468h0M1837 476h0M1828 460h0M1838 335h0M1798 180h0M1835 429h0M1798 631h0M1816 320h0M1830 405h0M1821 476h0M1813 429h0M1801 499h0M1807 382h0M1798 374h0M1831 561h0M1813 328h0M1816 460h0M1831 405h0M1813 507h0M1830 561h0M1807 234h0M1811 273h0M1835 538h0M1802 468h0M1829 351h0M1824 421h0M1806 405h0M1835 476h0M1838 499h0M1814 335h0M1796 499h0M1813 530h0M1830 351h0M1805 343h0M1835 429h0M1819 437h0M1806 366h0M1820 374h0M1823 507h0M1831 312h0M1824 530h0M1820 491h0M1799 600h0M1822 592h0M1817 359h0M1820 538h0M1832 437h0M1801 452h0M1824 366h0M1796 522h0M1815 507h0M1814 429h0M1809 491h0M1822 429h0M1802 476h0M1816 522h0M1818 359h0M1832 592h0M1820 553h0M1837 296h0M1805 429h0M1836 413h0M1817 561h0M1824 569h0M1824 476h0M1836 405h0M1801 522h0M1807 577h0M1828 577h0M1815 296h0M1799 320h0M1835 592h0"/><path d="M1801 382h0M1800 398h0M1801 483h0M1836 296h0M1803 366h0M1826 351h0M1827 444h0M1798 476h0M1803 507h0M1811 328h0M1823 296h0M1825 499h0M1812 468h0M1812 437h0M1805 468h0M1807 382h0M1832 460h0M1813 507h0M1798 366h0M1827 491h0M1802 429h0M1824 437h0M1796 514h0M1836 577h0M1818 405h0M1803 538h0M1810 460h0M1834 405h0M1800 405h0M1804 421h0M1810 514h0M1800 577h0M1803 421h0M1811 366h0M1812 413h0M1809 561h0M1830 522h0M1821 296h0M1817 413h0M1813 538h0M1797 382h0M1807 444h0M1814 390h0M1801 335h0M1812 320h0M1812 366h0M1805 468h0M1824 359h0M1808 429h0M1809 382h0M1811 320h0M1810 585h0M1817 273h0M1797 351h0M1805 553h0M1798 296h0M1823 577h0M1819 320h0M1819 522h0M1816 437h0M1820 296h0M1797 444h0M1815 374h0M1805 546h0M1830 405h0M1811 460h0M1823 343h0M1813 366h0M1817 514h0M1800 390h0M1813 359h0M1823 476h0M1823 320h0M1832 366h0M1817 452h0M1819 374h0M1822 382h0M1821 514h0M1801 476h0M1812 312h0M1810 405h0M1837 405h0M1802 374h0M1814 553h0M1823 413h0M1822 421h0M1805 553h0M1802 312h0M1835 530h0M1835 328h0M1833 398h0M1799 514h0M1798 468h0M1812 421h0M1828 226h0M1813 561h0M1829 429h0M1824 538h0M1805 312h0M1796 483h0M1799 569h0M1804 281h0M1800 398h0M1832 677h0M1823 390h0M1809 452h0M1826 577h0M1837 320h0M1833 476h0M1814 460h0M1831 437h0M1806 382h0M1829 359h0M1834 476h0"/><path d="M1833 460h0M1824 343h0M1813 468h0M1832 514h0M1834 522h0M1820 460h0M1825 429h0M1823 312h0M1825 585h0M1817 398h0M1835 390h0M1833 382h0M1828 538h0M1808 366h0M1819 452h0M1813 546h0M1803 320h0M1827 553h0M1820 405h0M1805 452h0M1798 405h0M1810 546h0M1825 335h0M1806 616h0M1814 398h0M1823 444h0M1829 421h0M1836 320h0M1806 476h0M1838 592h0M1832 585h0M1806 444h0M1824 421h0M1823 390h0M1836 437h0M1829 483h0M1810 476h0M1836 631h0M1815 585h0M1820 530h0M1807 600h0M1838 483h0M1814 374h0M1799 343h0M1804 507h0M1817 452h0M1804 499h0M1807 468h0M1804 460h0M1798 320h0M1806 374h0M1813 507h0M1833 553h0M1814 421h0M1830 304h0M1803 476h0M1807 468h0M1796 522h0M1810 585h0M1834 413h0M1804 335h0M1806 413h0M1823 398h0M1821 351h0M1815 491h0M1827 452h0M1810 538h0M1798 491h0M1814 476h0M1808 499h0M1816 561h0M1809 359h0M1815 530h0M1796 476h0M1825 444h0M1827 444h0M1806 405h0M1801 530h0M1819 444h0M1824 592h0M1814 437h0M1800 304h0M1798 483h0M1835 421h0M1808 209h0M1815 546h0M1806 437h0M1798 522h0M1798 499h0M1810 351h0M1816 577h0M1830 514h0M1808 553h0M1821 546h0M1805 530h0M1830 398h0M1807 343h0M1832 639h0M1832 507h0M1831 366h0M1814 507h0M1816 444h0M1813 390h0M1820 499h0M1816 398h0M1833 405h0M1812 468h0M1828 460h0M1801 499h0M1820 429h0M1825 366h0M1830 491h0M1822 483h0M1802 600h0"/><path d="M1836 522h0M1823 468h0M1796 382h0M1818 483h0M1809 546h0M1800 273h0M1835 413h0M1821 405h0M1813 328h0M1834 296h0M1832 538h0M1823 522h0M1814 585h0M1808 616h0M1817 522h0M1806 538h0M1809 405h0M1819 499h0M1806 312h0M1825 460h0M1806 514h0M1836 522h0M1829 514h0M1822 452h0M1836 405h0M1826 585h0M1832 351h0M1810 491h0M1799 452h0M1825 335h0M1801 335h0M1804 561h0M1811 452h0M1833 343h0M1831 476h0M1811 491h0M1808 382h0M1834 398h0M1809 483h0M1831 507h0M1834 335h0M1820 561h0M1796 429h0M1824 359h0M1824 444h0M1829 624h0M1823 335h0M1804 491h0M1826 437h0M1827 429h0M1819 390h0M1837 405h0M1818 374h0M1798 359h0M1822 351h0M1836 273h0M1816 312h0M1838 328h0M1806 468h0M1796 553h0M1820 522h0M1826 382h0M1806 476h0M1837 476h0M1797 226h0M1830 437h0M1817 359h0M1815 553h0M1813 374h0M1803 444h0M1831 507h0M1823 390h0M1805 468h0M1813 460h0M1804 281h0M1818 452h0M1820 569h0M1804 398h0M1830 382h0M1801 732h0M1832 460h0M1807 366h0M1830 483h0M1802 530h0M1819 405h0M1797 585h0M1802 359h0M1811 600h0M1835 522h0M1829 343h0M1812 304h0M1814 499h0M1810 499h0M1803 296h0M1812 546h0M1811 390h0M1796 312h0M1811 546h0M1823 351h0M1835 553h0M1817 546h0M1816 343h0M1816 561h0M1798 398h0M1805 382h0M1825 382h0M1805 530h0M1803 351h0M1804 304h0M1836 444h0M1823 522h0M1826 483h0M1806 405h0M1809 374h0"/><path d="M1824 382h0M1813 413h0M1805 437h0M1832 405h0M1831 437h0M1796 460h0M1834 468h0M1828 437h0M1823 421h0M1834 468h0M1798 538h0M1829 624h0M1832 476h0M1800 522h0M1803 507h0M1800 374h0M1820 624h0M1824 429h0M1819 281h0M1819 514h0M1811 546h0M1836 366h0M1796 444h0M1820 577h0M1818 359h0M1813 343h0M1834 437h0M1820 351h0M1817 569h0M1826 180h0M1809 421h0M1802 421h0M1802 366h0M1837 374h0M1833 437h0M1825 530h0M1810 546h0M1822 499h0M1817 444h0M1797 476h0M1830 437h0M1838 546h0M1813 390h0M1810 320h0M1797 514h0M1838 320h0M1803 281h0M1820 437h0M1820 390h0M1827 343h0M1808 437h0M1829 366h0M1816 522h0M1801 289h0M1803 483h0M1798 374h0M1837 366h0M1836 374h0M1825 398h0M1815 281h0M1811 382h0M1797 444h0M1803 507h0M1804 460h0M1835 476h0M1803 491h0M1821 437h0M1811 343h0M1798 522h0M1828 437h0M1814 476h0M1822 374h0M1811 608h0M1807 444h0M1818 405h0M1826 530h0M1834 553h0M1804 437h0M1833 600h0M1797 444h0M1808 429h0M1801 468h0M1832 522h0M1825 437h0M1826 382h0M1833 546h0M1833 585h0M1829 468h0M1833 437h0M1816 499h0M1806 281h0M1796 546h0M1803 530h0M1818 437h0M1807 421h0M1819 250h0M1837 359h0M1821 437h0M1833 320h0M1835 398h0M1808 546h0M1803 507h0M1801 499h0M1810 514h0M1824 483h0M1827 546h0M1819 639h0M1832 530h0M1800 429h0M1800 514h0M1837 343h0M1813 616h0M1815 429h0"/><path d="M1798 390h0M1809 491h0M1827 320h0M1832 491h0M1835 398h0M1838 421h0M1797 382h0M1802 460h0M1821 374h0M1797 553h0M1814 514h0M1800 398h0M1833 444h0M1813 429h0M1825 390h0M1817 304h0M1831 390h0M1798 460h0M1835 335h0M1802 499h0M1805 429h0M1797 491h0M1831 366h0M1831 585h0M1796 624h0M1834 507h0M1802 577h0M1834 600h0M1812 359h0M1814 359h0M1803 304h0M1798 530h0M1814 437h0M1830 296h0M1803 444h0M1812 460h0M1799 499h0M1820 585h0M1828 631h0M1801 507h0M1838 585h0M1813 452h0M1799 522h0M1814 499h0M1809 631h0M1819 507h0M1831 281h0M1837 452h0M1805 592h0M1817 546h0M1829 304h0M1826 351h0M1822 452h0M1817 507h0M1808 499h0M1827 421h0M1811 437h0M1801 538h0M1812 507h0M1797 546h0M1827 460h0M1826 421h0M1809 483h0M1827 390h0M1799 398h0M1831 483h0M1798 592h0M1803 491h0M1826 429h0M1798 553h0M1815 538h0M1821 530h0M1827 343h0M1812 507h0M1807 452h0M1808 398h0M1833 631h0M1798 499h0M1815 374h0M1808 600h0M1838 351h0M1811 507h0M1830 413h0M1812 289h0M1824 328h0M1825 468h0M1816 312h0M1800 421h0M1805 546h0M1803 514h0M1802 514h0M1801 616h0M1821 366h0M1811 413h0M1803 561h0M1820 413h0M1804 444h0M1817 616h0M1813 546h0M1830 359h0M1820 624h0M1822 429h0M1814 444h0M1803 398h0M1797 553h0M1798 499h0M1824 359h0M1821 522h0M1806 491h0M1838 616h0M1819 483h0M1800 320h0M1834 468h0"/><path d="M1819 460h0M1826 421h0M1810 600h0M1805 429h0M1809 390h0M1821 405h0M1825 444h0M1833 405h0M1821 468h0M1813 444h0M1805 468h0M1838 398h0M1799 351h0M1824 359h0M1825 343h0M1817 538h0M1833 460h0M1808 530h0M1834 585h0M1817 577h0M1818 460h0M1836 390h0M1831 374h0M1813 538h0M1819 592h0M1798 351h0M1812 507h0M1820 421h0M1834 444h0M1809 382h0M1796 569h0M1822 483h0M1818 624h0M1815 429h0M1817 437h0M1832 429h0M1823 398h0M1821 429h0M1832 429h0M1808 514h0M1808 538h0M1831 366h0M1806 429h0M1798 483h0M1829 328h0M1813 507h0M1822 366h0M1827 460h0M1828 398h0M1818 483h0M1796 569h0M1821 546h0M1803 405h0M1815 585h0M1808 281h0M1808 483h0M1830 538h0M1816 514h0M1814 437h0M1797 437h0M1819 328h0M1837 343h0M1836 452h0M1830 624h0M1818 514h0M1828 180h0M1804 577h0M1798 499h0M1824 351h0M1813 382h0M1802 382h0M1802 351h0M1802 359h0M1830 390h0M1817 273h0M1808 390h0M1826 507h0M1813 257h0M1797 328h0M1821 444h0M1817 491h0M1811 328h0M1809 320h0M1813 398h0M1813 359h0M1806 398h0M1820 382h0M1809 366h0M1803 514h0M1838 429h0M1828 530h0M1826 405h0M1807 546h0M1824 507h0M1824 460h0M1828 569h0M1805 421h0M1809 522h0M1798 577h0M1799 460h0M1797 483h0M1828 413h0M1831 608h0M1818 468h0M1831 429h0M1808 351h0M1798 530h0M1821 421h0M1801 476h0M1805 382h0M1803 335h0M1796 514h0M1834 460h0"/><path d="M1828 569h0M1817 366h0M1805 413h0M1815 530h0M1828 351h0M1803 421h0M1804 476h0M1813 226h0M1811 483h0M1802 491h0M1826 561h0M1835 507h0M1826 514h0M1800 460h0M1814 483h0M1804 483h0M1819 507h0M1798 468h0M1801 359h0M1800 538h0M1820 374h0M1837 522h0M1809 538h0M1798 624h0M1807 491h0M1807 390h0M1820 398h0M1819 468h0M1805 405h0M1813 577h0M1822 452h0M1826 421h0M1814 320h0M1836 491h0M1835 366h0M1826 444h0M1827 382h0M1799 437h0M1806 670h0M1838 366h0M1834 234h0M1813 624h0M1835 413h0M1811 398h0M1828 530h0M1821 460h0M1815 351h0M1813 507h0M1802 507h0M1816 577h0M1809 561h0M1805 437h0M1814 444h0M1812 437h0M1829 421h0M1806 429h0M1837 444h0M1812 553h0M1804 444h0M1807 437h0M1834 499h0M1822 359h0M1824 444h0M1822 476h0M1828 390h0M1798 553h0M1803 444h0M1825 328h0M1826 413h0M1801 530h0M1804 413h0M1797 530h0M1837 530h0M1819 561h0M1825 483h0M1831 312h0M1826 382h0M1798 398h0M1796 366h0M1815 577h0M1829 437h0M1816 343h0M1832 483h0M1804 320h0M1823 351h0M1806 382h0M1808 538h0M1831 514h0M1836 522h0M1811 444h0M1806 460h0M1804 429h0M1814 585h0M1828 366h0M1824 468h0M1828 499h0M1822 476h0M1808 351h0M1801 483h0M1800 312h0M1798 437h0M1821 281h0M1826 405h0M1800 398h0M1838 522h0M1814 460h0M1822 553h0M1813 585h0M1827 351h0M1802 569h0M1808 366h0M1824 592h0M1829 366h0"/><path d="M1819 429h0M1805 444h0M1796 413h0M1820 429h0M1805 491h0M1799 538h0M1829 328h0M1820 608h0M1824 437h0M1823 538h0M1827 335h0M1819 499h0M1811 382h0M1811 312h0M1801 468h0M1796 366h0M1812 335h0M1814 553h0M1815 476h0M1831 444h0M1804 312h0M1811 359h0M1812 382h0M1822 444h0M1805 476h0M1803 514h0M1821 390h0M1837 530h0M1817 421h0M1803 374h0M1796 522h0M1826 413h0M1799 374h0M1802 390h0M1797 647h0M1816 514h0M1803 507h0M1817 561h0M1838 257h0M1811 374h0M1824 374h0M1813 374h0M1804 257h0M1824 499h0M1808 546h0M1837 483h0M1834 382h0M1825 460h0M1822 335h0M1809 499h0M1821 452h0M1797 491h0M1835 522h0M1835 553h0M1817 592h0M1805 405h0M1828 452h0M1830 429h0M1814 444h0M1805 437h0M1808 476h0M1814 452h0M1819 382h0M1815 390h0M1826 444h0M1833 491h0M1809 366h0M1833 444h0M1818 460h0M1834 156h0M1803 491h0M1811 351h0M1798 577h0M1829 491h0M1838 366h0M1834 429h0M1823 514h0M1830 421h0M1821 312h0M1833 351h0M1801 491h0M1813 491h0M1808 538h0M1801 452h0M1818 234h0M1796 312h0M1796 328h0M1811 546h0M1818 437h0M1835 561h0M1825 514h0M1828 491h0M1811 335h0M1825 304h0M1817 351h0M1811 514h0M1836 429h0M1815 468h0M1838 429h0M1837 569h0M1810 624h0M1804 468h0M1796 328h0M1826 421h0M1808 608h0M1798 273h0M1836 296h0M1816 600h0M1807 452h0M1832 421h0M1806 351h0M1800 398h0M1805 460h0"/><path d="M1807 530h0M1819 608h0M1834 366h0M1809 405h0M1816 507h0M1809 507h0M1829 585h0M1798 413h0M1805 530h0M1833 553h0M1831 569h0M1811 359h0M1836 561h0M1815 499h0M1815 662h0M1837 413h0M1835 312h0M1827 452h0M1813 398h0M1797 585h0M1820 405h0M1804 304h0M1831 366h0M1812 312h0M1815 483h0M1826 546h0M1806 335h0M1802 561h0M1810 546h0M1803 265h0M1811 265h0M1811 585h0M1819 421h0M1810 530h0M1832 452h0M1826 304h0M1838 491h0M1832 452h0M1835 328h0M1824 382h0M1821 413h0M1824 468h0M1835 452h0M1814 359h0M1817 437h0M1819 507h0M1828 421h0M1809 366h0M1812 530h0M1819 405h0M1810 608h0M1802 616h0M1807 514h0M1833 616h0M1825 312h0M1834 491h0M1816 343h0M1824 382h0M1818 366h0M1823 405h0M1799 616h0M1820 514h0M1832 335h0M1829 320h0M1837 359h0M1832 398h0M1834 444h0M1804 374h0M1798 507h0M1822 569h0M1816 468h0M1832 421h0M1829 413h0M1821 483h0M1833 468h0M1825 351h0M1805 468h0M1813 483h0M1835 304h0M1828 304h0M1796 312h0M1812 405h0M1805 499h0M1837 507h0M1818 507h0M1818 530h0M1821 491h0M1801 491h0M1805 335h0M1814 304h0M1821 468h0M1805 514h0M1818 444h0M1836 429h0M1805 413h0M1822 382h0M1808 421h0M1812 569h0M1799 366h0M1799 491h0M1827 390h0M1833 546h0M1836 499h0M1812 468h0M1819 468h0M1802 359h0M1838 507h0M1830 351h0M1836 538h0M1834 507h0M1831 304h0M1803 491h0M1803 608h0"/><path d="M1815 546h0M1808 382h0M1820 553h0M1815 483h0M1804 335h0M1797 382h0M1813 631h0M1837 429h0M1809 312h0M1800 538h0M1832 366h0M1830 476h0M1822 452h0M1833 483h0M1825 390h0M1823 476h0M1827 194h0M1825 335h0M1809 491h0M1821 476h0M1802 444h0M1837 491h0M1799 460h0M1832 522h0M1838 522h0M1811 452h0M1807 631h0M1824 320h0M1802 546h0M1831 398h0M1807 374h0M1808 468h0M1831 382h0M1808 530h0M1804 530h0M1813 296h0M1797 405h0M1832 351h0M1807 522h0M1812 546h0M1831 624h0M1838 507h0M1804 483h0M1799 320h0M1826 577h0M1803 592h0M1825 600h0M1818 553h0M1831 522h0M1813 507h0M1804 382h0M1827 530h0M1819 405h0M1802 335h0M1815 483h0M1817 359h0M1827 413h0M1810 546h0M1796 468h0M1803 530h0M1810 460h0M1811 577h0M1804 359h0M1812 366h0M1809 530h0M1818 320h0M1800 359h0M1801 476h0M1829 538h0M1796 530h0M1830 507h0M1814 476h0M1825 577h0M1812 405h0M1832 460h0M1796 468h0M1801 429h0M1797 468h0M1798 398h0M1825 250h0M1815 600h0M1837 359h0M1832 538h0M1824 507h0M1819 444h0M1811 444h0M1827 359h0M1798 507h0M1822 398h0M1829 203h0M1812 483h0M1831 577h0M1813 483h0M1837 616h0M1813 413h0M1827 343h0M1822 226h0M1832 265h0M1824 483h0M1831 444h0M1829 507h0M1827 382h0M1802 499h0M1835 382h0M1806 366h0M1824 382h0M1806 522h0M1838 522h0M1814 405h0M1805 507h0M1808 483h0M1808 398h0M1818 398h0"/><path d="M1834 530h0M1824 390h0M1830 538h0M1804 226h0M1804 585h0M1802 577h0M1798 429h0M1799 577h0M1796 437h0M1817 265h0M1834 296h0M1816 483h0M1812 530h0M1819 304h0M1834 343h0M1815 296h0M1830 514h0M1812 421h0M1798 538h0M1815 483h0M1800 538h0M1828 491h0M1811 499h0M1818 546h0M1801 499h0M1820 328h0M1833 592h0M1801 507h0M1834 476h0M1810 444h0M1827 522h0M1829 546h0M1807 390h0M1838 390h0M1809 421h0M1806 429h0M1836 343h0M1812 351h0M1831 514h0M1825 546h0M1797 569h0M1805 351h0M1826 444h0M1803 421h0M1811 491h0M1803 359h0M1833 421h0M1821 546h0M1827 631h0M1797 538h0M1838 460h0M1805 460h0M1814 452h0M1829 561h0M1805 561h0M1812 405h0M1831 382h0M1819 483h0M1816 374h0M1816 468h0M1836 366h0M1823 483h0M1819 468h0M1821 366h0M1828 476h0M1837 195h0M1838 366h0M1826 140h0M1802 538h0M1802 452h0M1815 553h0M1802 444h0M1826 328h0M1816 429h0M1819 546h0M1834 444h0M1810 390h0M1797 491h0M1802 437h0M1821 522h0M1821 507h0M1826 390h0M1838 468h0M1811 514h0M1823 468h0M1821 359h0M1812 460h0M1820 616h0M1815 476h0M1837 507h0M1826 460h0M1826 429h0M1832 405h0M1798 359h0M1811 405h0M1826 444h0M1799 616h0M1814 507h0M1798 553h0M1831 476h0M1813 452h0M1804 476h0M1814 413h0M1832 476h0M1819 429h0M1811 600h0M1828 538h0M1817 444h0M1798 577h0M1799 499h0M1825 405h0M1818 514h0M1796 374h0"/><path d="M1830 390h0M1819 444h0M1812 483h0M1829 328h0M1800 538h0M1826 530h0M1812 351h0M1827 553h0M1809 592h0M1826 250h0M1828 460h0M1830 483h0M1833 444h0M1837 499h0M1833 444h0M1814 468h0M1826 577h0M1796 468h0M1829 561h0M1808 405h0M1796 499h0M1806 444h0M1833 421h0M1833 483h0M1838 437h0M1811 444h0M1820 328h0M1836 398h0M1836 507h0M1819 499h0M1801 499h0M1800 514h0M1834 460h0M1819 577h0M1825 483h0M1811 460h0M1822 444h0M1818 468h0M1838 429h0M1832 530h0M1804 577h0M1824 366h0M1807 413h0M1818 546h0M1801 359h0M1814 382h0M1810 452h0M1796 491h0M1800 281h0M1814 335h0M1820 616h0M1821 390h0M1836 398h0M1808 538h0M1823 499h0M1826 553h0M1814 476h0M1804 616h0M1822 514h0M1811 546h0M1836 585h0M1838 366h0M1827 546h0M1818 476h0M1810 444h0M1806 507h0M1796 491h0M1826 522h0M1819 569h0M1833 553h0M1829 382h0M1809 328h0M1811 585h0M1806 374h0M1796 522h0M1804 437h0M1833 366h0M1824 429h0M1814 460h0M1819 476h0M1820 460h0M1798 444h0M1823 647h0M1816 343h0M1798 444h0M1798 351h0M1825 437h0M1818 585h0M1809 476h0M1821 359h0M1807 553h0M1818 507h0M1831 530h0M1805 561h0M1807 452h0M1806 476h0M1804 180h0M1819 670h0M1812 405h0M1832 460h0M1824 250h0M1822 476h0M1799 413h0M1805 499h0M1831 343h0M1835 530h0M1815 226h0M1827 421h0M1828 538h0M1821 530h0M1827 413h0M1798 585h0M1833 437h0"/><path d="M1825 538h0M1838 530h0M1808 374h0M1837 398h0M1801 514h0M1800 398h0M1828 546h0M1827 507h0M1807 460h0M1818 429h0M1809 491h0M1832 585h0M1803 499h0M1837 522h0M1805 335h0M1827 405h0M1821 405h0M1825 359h0M1832 491h0M1809 468h0M1803 569h0M1810 429h0M1802 468h0M1820 468h0M1803 460h0M1834 522h0M1799 460h0M1813 514h0M1807 491h0M1796 366h0M1814 491h0M1817 499h0M1808 452h0M1820 444h0M1836 624h0M1804 522h0M1823 437h0M1822 390h0M1827 507h0M1835 514h0M1826 444h0M1806 382h0M1803 499h0M1813 468h0M1807 483h0M1805 631h0M1801 530h0M1828 296h0M1836 452h0M1825 538h0M1820 444h0M1836 374h0M1824 476h0M1802 390h0M1833 203h0M1808 444h0M1797 219h0M1798 476h0M1813 592h0M1824 577h0M1821 273h0M1829 273h0M1816 421h0M1812 655h0M1813 429h0M1825 351h0M1803 483h0M1813 569h0M1835 398h0M1798 631h0M1803 514h0M1796 631h0M1825 522h0M1833 452h0M1830 624h0M1797 483h0M1805 320h0M1806 328h0M1805 390h0M1797 382h0M1811 491h0M1810 452h0M1825 405h0M1810 413h0M1837 421h0M1813 522h0M1808 522h0M1830 491h0M1808 514h0M1835 507h0M1801 226h0M1821 514h0M1814 577h0M1825 592h0M1835 514h0M1815 390h0M1837 421h0M1820 507h0M1810 328h0M1821 577h0M1825 452h0M1806 561h0M1838 452h0M1820 374h0M1823 405h0M1815 374h0M1826 413h0M1812 398h0M1797 382h0M1817 382h0M1801 600h0M1826 491h0M1813 413h0"/><path d="M1818 569h0M1829 405h0M1801 265h0M1824 476h0M1833 444h0M1803 343h0M1796 382h0M1799 304h0M1803 351h0M1822 452h0M1802 507h0M1797 546h0M1834 514h0M1838 662h0M1800 421h0M1805 592h0M1810 569h0M1836 398h0M1810 483h0M1814 460h0M1837 351h0M1816 577h0M1803 398h0M1837 382h0M1832 577h0M1834 460h0M1837 530h0M1816 335h0M1808 343h0M1804 273h0M1824 320h0M1829 437h0M1803 608h0M1820 507h0M1805 507h0M1829 507h0M1818 499h0M1801 499h0M1818 538h0M1817 296h0M1798 359h0M1801 429h0M1826 577h0M1822 452h0M1808 359h0M1832 390h0M1820 366h0M1822 421h0M1804 343h0M1835 366h0M1815 273h0M1796 585h0M1798 429h0M1807 444h0M1810 600h0M1817 335h0M1803 507h0M1822 343h0M1824 546h0M1821 546h0M1825 483h0M1835 405h0M1820 514h0M1825 592h0M1796 553h0M1834 530h0M1811 468h0M1803 429h0M1829 468h0M1831 452h0M1836 265h0M1807 655h0M1823 522h0M1823 530h0M1819 413h0M1824 444h0M1816 343h0M1798 538h0M1826 398h0M1804 624h0M1820 452h0M1823 561h0M1821 452h0M1814 491h0M1807 491h0M1835 304h0M1818 538h0M1827 304h0M1830 468h0M1817 616h0M1828 499h0M1831 522h0M1799 444h0M1826 437h0M1809 413h0M1829 468h0M1812 514h0M1810 569h0M1823 553h0M1817 585h0M1800 460h0M1808 382h0M1836 437h0M1801 328h0M1832 553h0M1829 561h0M1835 522h0M1837 483h0M1815 514h0M1815 421h0M1803 312h0M1803 468h0M1800 468h0"/><path d="M1818 335h0M1834 421h0M1813 538h0M1801 405h0M1832 468h0M1824 538h0M1813 405h0M1802 491h0M1805 460h0M1836 437h0M1821 296h0M1806 382h0M1797 522h0M1807 398h0M1812 546h0M1836 553h0M1812 359h0M1836 468h0M1821 390h0M1822 413h0M1835 257h0M1831 631h0M1828 546h0M1835 437h0M1838 398h0M1818 405h0M1833 374h0M1807 405h0M1805 553h0M1821 351h0M1836 522h0M1818 374h0M1812 359h0M1801 476h0M1817 366h0M1799 499h0M1825 444h0M1822 437h0M1809 476h0M1819 429h0M1798 296h0M1825 359h0M1830 374h0M1799 382h0M1813 351h0M1821 514h0M1836 507h0M1815 281h0M1799 444h0M1814 561h0M1828 312h0M1818 522h0M1828 437h0M1803 585h0M1799 553h0M1819 468h0M1819 585h0M1805 452h0M1831 577h0M1807 577h0M1796 437h0M1814 468h0M1800 476h0M1796 444h0M1810 444h0M1806 429h0M1797 437h0M1837 444h0M1821 421h0M1836 304h0M1814 530h0M1817 429h0M1799 320h0M1810 499h0M1816 631h0M1822 468h0M1820 429h0M1818 405h0M1819 390h0M1809 546h0M1802 507h0M1803 577h0M1815 600h0M1797 460h0M1829 468h0M1798 522h0M1796 390h0M1827 499h0M1831 382h0M1801 561h0M1808 328h0M1833 437h0M1808 468h0M1820 335h0M1832 351h0M1828 483h0M1838 522h0M1833 631h0M1829 437h0M1827 561h0M1828 592h0M1806 421h0M1817 468h0M1807 499h0M1826 514h0M1822 608h0M1820 538h0M1800 429h0M1807 561h0M1829 483h0M1798 561h0M1836 460h0M1808 530h0"/><path d="M1809 499h0M1813 351h0M1804 444h0M1837 499h0M1815 499h0M1817 413h0M1824 343h0M1807 507h0M1812 476h0M1836 444h0M1820 366h0M1798 491h0M1836 359h0M1832 514h0M1798 405h0M1800 405h0M1827 507h0M1837 242h0M1830 476h0M1827 507h0M1818 592h0M1832 538h0M1828 577h0M1831 335h0M1823 616h0M1830 374h0M1797 444h0M1817 437h0M1817 530h0M1836 444h0M1829 359h0M1826 514h0M1837 421h0M1825 624h0M1829 468h0M1804 405h0M1803 444h0M1802 421h0M1821 507h0M1825 437h0M1804 382h0M1830 405h0M1830 312h0M1835 468h0M1810 429h0M1810 273h0M1799 546h0M1816 413h0M1800 343h0M1834 460h0M1813 577h0M1799 499h0M1809 437h0M1820 382h0M1820 468h0M1816 585h0M1834 413h0M1821 382h0M1819 553h0M1818 460h0M1808 374h0M1825 366h0M1802 600h0M1822 289h0M1833 577h0M1834 530h0M1808 343h0M1829 335h0M1811 444h0M1825 483h0M1833 522h0M1813 476h0M1796 335h0M1796 514h0M1807 281h0M1798 374h0M1820 460h0M1833 561h0M1831 289h0M1827 390h0M1837 507h0M1803 335h0M1809 374h0M1829 366h0M1832 374h0M1818 343h0M1813 242h0M1803 514h0M1796 444h0M1825 452h0M1834 585h0M1797 553h0M1812 351h0M1836 328h0M1824 320h0M1829 343h0M1836 343h0M1820 219h0M1801 444h0M1828 460h0M1807 359h0M1820 522h0M1805 429h0M1825 273h0M1817 413h0M1834 522h0M1828 413h0M1820 452h0M1827 382h0M1808 304h0M1826 335h0M1819 452h0M1814 374h0"/><path d="M1803 592h0M1826 553h0M1799 429h0M1810 452h0M1805 514h0M1832 538h0M1828 491h0M1816 390h0M1801 491h0M1813 437h0M1805 460h0M1819 421h0M1825 382h0M1825 335h0M1830 491h0M1833 514h0M1827 499h0M1817 468h0M1816 444h0M1809 351h0M1830 507h0M1819 444h0M1803 476h0M1829 374h0M1825 468h0M1811 405h0M1804 366h0M1796 437h0M1813 507h0M1835 312h0M1801 273h0M1835 320h0M1811 398h0M1810 273h0M1826 577h0M1830 452h0M1831 328h0M1824 507h0M1836 468h0M1819 413h0M1799 468h0M1801 577h0M1833 452h0M1813 437h0M1834 476h0M1812 452h0M1807 491h0M1812 499h0M1819 405h0M1821 514h0M1814 250h0M1816 530h0M1818 405h0M1801 405h0M1829 359h0M1824 398h0M1814 405h0M1822 608h0M1826 600h0M1830 686h0M1800 203h0M1813 296h0M1814 351h0M1824 499h0M1821 514h0M1825 499h0M1832 320h0M1816 304h0M1828 483h0M1798 429h0M1835 476h0M1820 343h0M1833 507h0M1811 382h0M1811 538h0M1798 483h0M1808 304h0M1814 600h0M1827 561h0M1803 507h0M1802 569h0M1832 476h0M1835 452h0M1824 608h0M1823 359h0M1830 289h0M1796 514h0M1814 366h0M1838 335h0M1796 491h0M1828 483h0M1796 366h0M1834 351h0M1799 522h0M1813 538h0M1809 421h0M1800 476h0M1803 398h0M1828 413h0M1801 452h0M1796 265h0M1832 538h0M1811 468h0M1802 359h0M1798 429h0M1802 405h0M1807 522h0M1812 491h0M1832 468h0M1818 374h0M1817 491h0M1804 421h0M1826 390h0"/><path d="M1805 452h0M1824 522h0M1800 491h0M1835 296h0M1827 569h0M1831 437h0M1814 390h0M1827 600h0M1805 507h0M1827 374h0M1817 553h0M1831 437h0M1808 382h0M1804 444h0M1800 561h0M1816 429h0M1821 514h0M1835 289h0M1827 437h0M1807 655h0M1800 514h0M1801 413h0M1830 320h0M1828 577h0M1837 530h0M1796 507h0M1808 585h0M1810 304h0M1798 569h0M1815 366h0M1837 507h0M1830 468h0M1831 460h0M1811 507h0M1800 577h0M1828 366h0M1813 421h0M1833 156h0M1809 522h0M1815 468h0M1824 600h0M1835 522h0M1838 444h0M1832 359h0M1798 476h0M1812 413h0M1833 546h0M1815 390h0M1812 429h0M1836 405h0M1812 538h0M1810 444h0M1805 335h0M1833 421h0M1803 405h0M1803 351h0M1807 437h0M1802 491h0M1803 476h0M1833 452h0M1838 522h0M1807 335h0M1829 483h0M1814 460h0M1836 382h0M1829 592h0M1814 444h0M1830 538h0M1807 491h0M1823 483h0M1796 219h0M1818 616h0M1829 585h0M1805 304h0M1802 398h0M1832 335h0M1809 460h0M1802 499h0M1815 421h0M1823 561h0M1798 382h0M1805 452h0M1803 476h0M1831 577h0M1823 405h0M1822 452h0M1817 476h0M1815 577h0M1806 250h0M1836 421h0M1836 328h0M1821 343h0M1831 553h0M1818 585h0M1809 483h0M1799 491h0M1799 577h0M1816 444h0M1826 328h0M1812 592h0M1831 483h0M1800 429h0M1799 592h0M1806 429h0M1806 312h0M1801 335h0M1804 351h0M1818 514h0M1821 452h0M1808 514h0M1835 398h0M1797 499h0M1829 444h0"/><path d="M1813 538h0M1799 585h0M1830 460h0M1830 522h0M1799 374h0M1803 429h0M1825 328h0M1836 257h0M1835 569h0M1836 499h0M1801 312h0M1809 413h0M1830 561h0M1833 405h0M1817 257h0M1827 507h0M1814 546h0M1819 538h0M1835 374h0M1838 514h0M1827 608h0M1819 359h0M1801 351h0M1816 359h0M1798 374h0M1821 328h0M1812 429h0M1829 304h0M1834 514h0M1828 351h0M1833 390h0M1822 452h0M1802 592h0M1824 577h0M1825 366h0M1830 351h0M1811 413h0M1808 561h0M1831 514h0M1838 491h0M1802 437h0M1816 460h0M1837 281h0M1817 359h0M1813 366h0M1806 437h0M1820 390h0M1804 398h0M1799 476h0M1810 585h0M1817 405h0M1812 366h0M1811 499h0M1836 499h0M1827 476h0M1834 608h0M1803 304h0M1824 569h0M1830 522h0M1813 390h0M1799 460h0M1798 483h0M1832 257h0M1834 273h0M1813 366h0M1835 561h0M1814 351h0M1807 382h0M1838 530h0M1824 546h0M1832 437h0M1829 522h0M1814 538h0M1824 374h0M1797 359h0M1819 444h0M1813 507h0M1813 374h0M1826 452h0M1818 437h0M1800 366h0M1821 585h0M1824 398h0M1822 569h0M1804 328h0M1829 405h0M1821 374h0M1809 468h0M1816 429h0M1799 476h0M1807 522h0M1829 343h0M1837 460h0M1832 499h0M1801 569h0M1797 491h0M1796 429h0M1800 413h0M1821 398h0M1802 608h0M1802 507h0M1801 413h0M1833 398h0M1809 398h0M1823 514h0M1797 592h0M1821 304h0M1828 234h0M1828 452h0M1802 538h0M1798 359h0M1797 405h0M1813 437h0"/><path d="M1837 413h0M1824 514h0M1809 343h0M1811 522h0M1815 569h0M1821 600h0M1797 468h0M1828 359h0M1822 421h0M1809 382h0M1802 351h0M1823 639h0M1836 476h0M1827 468h0M1809 335h0M1811 608h0M1802 600h0M1830 328h0M1809 413h0M1827 343h0M1812 452h0M1811 577h0M1825 257h0M1820 421h0M1818 491h0M1831 390h0M1823 600h0M1807 476h0M1821 639h0M1820 460h0M1802 359h0M1835 413h0M1828 514h0M1836 522h0M1807 507h0M1835 398h0M1825 538h0M1824 429h0M1820 452h0M1835 437h0M1810 499h0M1822 429h0M1822 343h0M1801 421h0M1817 437h0M1823 421h0M1826 343h0M1814 421h0M1836 296h0M1804 647h0M1796 335h0M1828 452h0M1805 483h0M1838 405h0M1818 569h0M1820 452h0M1804 328h0M1832 452h0M1826 343h0M1821 444h0M1804 476h0M1810 405h0M1836 452h0M1838 499h0M1806 343h0M1821 405h0M1835 452h0M1832 577h0M1805 468h0M1812 491h0M1808 530h0M1812 312h0M1812 491h0M1836 491h0M1796 577h0M1817 507h0M1831 359h0M1813 437h0M1832 476h0M1821 538h0M1833 514h0M1801 429h0M1825 343h0M1825 452h0M1798 600h0M1834 530h0M1831 561h0M1829 468h0M1824 312h0M1822 631h0M1801 320h0M1809 382h0M1834 662h0M1836 413h0M1831 437h0M1826 405h0M1808 483h0M1800 483h0M1833 265h0M1803 522h0M1804 374h0M1815 452h0M1796 413h0M1820 592h0M1832 514h0M1807 390h0M1833 398h0M1813 398h0M1816 569h0M1818 351h0M1821 437h0M1796 195h0M1806 460h0"/></g>
<path d="M1602 195.5V381.3M1602 513.7V690" stroke="#474747" stroke-width="2"/>
<rect x="1569" y="381" width="66" height="133" fill="#fff" fill-opacity="0.17" stroke="#444" stroke-width="2"/>
<path d="M1569 452.1H1635" stroke="#4d4d4d" stroke-width="3.6"/>
<path d="M1817 203V389.8M1817 514.1V675" stroke="#474747" stroke-width="2"/>
<rect x="1784" y="390" width="66" height="124" fill="#fff" fill-opacity="0.17" stroke="#444" stroke-width="2"/>
<path d="M1784 452.2H1850" stroke="#4d4d4d" stroke-width="3.6"/>
<path d="M1601.8 124.3C1602 135.9 1602.8 175.9 1603.3 193.7C1603.8 211.5 1604.5 221.7 1605.1 231C1605.7 240.3 1606.3 243.5 1607.1 249.8C1607.9 256.1 1608.9 262.4 1609.9 268.6C1610.9 274.9 1611.8 281.1 1613 287.3C1614.2 293.5 1615.3 299.8 1617.1 306C1618.9 312.2 1621.3 318.6 1623.8 324.8C1626.3 331.1 1629.4 337.3 1632.2 343.5C1635 349.7 1638.3 355.9 1640.7 362.2C1643.1 368.4 1645.3 374.8 1646.8 381C1648.3 387.2 1648.9 393.4 1649.6 399.7C1650.3 405.9 1650.3 412.2 1650.8 418.5C1651.3 424.8 1652.2 431.2 1652.8 437.5C1653.4 443.8 1654.3 449.9 1654.6 456.2C1654.9 462.4 1655 468.8 1654.8 475C1654.6 481.2 1654.1 487.5 1653.3 493.7C1652.5 499.9 1651.5 506.2 1650 512.4C1648.5 518.6 1646.2 524.8 1644 531C1641.8 537.2 1639.1 543.5 1636.9 549.8C1634.7 556.1 1632.8 562.4 1630.8 568.6C1628.8 574.9 1627.4 581.1 1625.2 587.3C1623 593.5 1620.1 599.8 1617.8 606C1615.5 612.2 1613.1 618.5 1611.2 624.8C1609.3 631 1607.6 637.3 1606.5 643.5C1605.4 649.7 1604.9 656 1604.4 662.2C1603.9 668.5 1603.7 675.9 1603.3 681C1602.9 686.1 1602 691.1 1601.8 693.1C1601.5 691.1 1600.7 686.1 1600.3 681C1599.9 675.9 1599.7 668.5 1599.2 662.2C1598.7 656 1598.2 649.7 1597.1 643.5C1596 637.3 1594.3 631 1592.4 624.8C1590.5 618.5 1588.1 612.2 1585.8 606C1583.5 599.8 1580.6 593.5 1578.4 587.3C1576.2 581.1 1574.8 574.9 1572.8 568.6C1570.8 562.4 1568.9 556.1 1566.7 549.8C1564.5 543.5 1561.8 537.2 1559.6 531C1557.4 524.8 1555.1 518.6 1553.6 512.4C1552 506.2 1551.1 499.9 1550.3 493.7C1549.5 487.5 1549 481.2 1548.8 475C1548.6 468.8 1548.7 462.4 1549 456.2C1549.3 449.9 1550.2 443.8 1550.8 437.5C1551.4 431.2 1552.3 424.8 1552.8 418.5C1553.3 412.2 1553.3 405.9 1554 399.7C1554.7 393.4 1555.3 387.2 1556.8 381C1558.3 374.8 1560.5 368.4 1562.9 362.2C1565.3 355.9 1568.6 349.7 1571.4 343.5C1574.2 337.3 1577.3 331.1 1579.8 324.8C1582.3 318.6 1584.7 312.2 1586.5 306C1588.3 299.8 1589.4 293.5 1590.6 287.3C1591.8 281.1 1592.7 274.9 1593.7 268.6C1594.7 262.4 1595.7 256.1 1596.5 249.8C1597.3 243.5 1597.9 240.3 1598.5 231C1599.1 221.7 1599.8 211.5 1600.3 193.7C1600.8 175.9 1601.5 135.9 1601.8 124.3Z" fill="#fff" fill-opacity="0.15" stroke="#1a1a1a" stroke-width="2.1" stroke-linejoin="round"/>
<path d="M1816.9 140.3C1817.3 149.2 1818.8 178.6 1819.4 193.7C1820 208.8 1820.1 221.8 1820.6 231.1C1821.1 240.4 1821.6 243.6 1822.3 249.8C1823 256.1 1823.7 262.4 1824.6 268.6C1825.5 274.9 1826.5 281.1 1827.9 287.3C1829.4 293.5 1831.4 299.8 1833.3 306C1835.2 312.2 1837.4 318.6 1839.4 324.8C1841.4 331.1 1843.2 337.3 1845.5 343.5C1847.8 349.7 1851 355.9 1853.4 362.2C1855.8 368.4 1857.9 374.8 1859.9 381C1861.9 387.2 1864 393.2 1865.6 399.7C1867.2 406.2 1868.7 413.2 1869.6 419.9C1870.6 426.6 1871.1 433.2 1871.3 439.8C1871.5 446.4 1871.1 453.1 1870.9 459.7C1870.7 466.3 1870.7 473 1870.1 479.7C1869.6 486.4 1868.5 493 1867.6 499.6C1866.7 506.2 1866.1 512.9 1864.7 519.5C1863.3 526.1 1861.5 532.8 1859.2 539.4C1856.9 546 1853.7 552.7 1850.8 559.3C1847.9 565.9 1844.6 572.6 1841.8 579.2C1839.1 585.8 1836.6 592.5 1834.3 599.1C1832.1 605.7 1830.1 612.4 1828.3 619C1826.5 625.6 1824.9 632.4 1823.6 639C1822.3 645.6 1821.2 652.3 1820.4 658.9C1819.6 665.5 1819.3 671.9 1818.9 678.8C1818.5 685.6 1818.4 691.2 1818.1 700C1817.8 708.8 1817.1 726.3 1816.9 731.6C1816.7 726.3 1816 708.8 1815.7 700C1815.4 691.2 1815.3 685.6 1814.9 678.8C1814.5 671.9 1814.2 665.5 1813.4 658.9C1812.6 652.3 1811.5 645.6 1810.2 639C1808.9 632.4 1807.3 625.6 1805.5 619C1803.7 612.4 1801.8 605.7 1799.5 599.1C1797.2 592.5 1794.8 585.8 1792 579.2C1789.2 572.6 1785.9 565.9 1783 559.3C1780.1 552.7 1776.9 546 1774.6 539.4C1772.3 532.8 1770.5 526.1 1769.1 519.5C1767.7 512.9 1767.1 506.2 1766.2 499.6C1765.3 493 1764.2 486.4 1763.7 479.7C1763.2 473 1763.1 466.3 1762.9 459.7C1762.7 453.1 1762.3 446.4 1762.5 439.8C1762.7 433.2 1763.2 426.6 1764.2 419.9C1765.2 413.2 1766.6 406.2 1768.2 399.7C1769.8 393.2 1771.9 387.2 1773.9 381C1775.9 374.8 1778 368.4 1780.4 362.2C1782.8 355.9 1786 349.7 1788.3 343.5C1790.6 337.3 1792.4 331.1 1794.4 324.8C1796.4 318.6 1798.6 312.2 1800.5 306C1802.4 299.8 1804.5 293.5 1805.9 287.3C1807.4 281.1 1808.3 274.9 1809.2 268.6C1810.1 262.4 1810.8 256.1 1811.5 249.8C1812.2 243.6 1812.7 240.4 1813.2 231.1C1813.7 221.8 1813.8 208.8 1814.4 193.7C1815 178.6 1816.5 149.2 1816.9 140.3Z" fill="#fff" fill-opacity="0.15" stroke="#1a1a1a" stroke-width="2.1" stroke-linejoin="round"/>
<circle cx="1601.8" cy="446.3" r="11.5" fill="#8b0000"/>
<circle cx="1604.3" cy="446.3" r="1.3" fill="#000"/>
<path d="M1611.8 446.3H1619.3" stroke="#000" stroke-width="1.6"/>
<circle cx="1816.9" cy="452" r="11.5" fill="#8b0000"/>
<path d="M1817.9 452H1821.9" stroke="#000" stroke-width="1.6"/>
<g font-family="'Liberation Sans', Arial, Helvetica, sans-serif" fill="#000">
<rect x="1628" y="430.6" width="121.4" height="31.2" rx="3.8" fill="#fff" stroke="#1f1f1f" stroke-width="1.4"/><text x="1634" y="451.7" font-size="17.3">μ</text><text x="1632.02" y="448.95" font-family="'DejaVu Sans', sans-serif" font-size="17.5">^</text><text x="1644.1" y="454.9" font-size="11.7">mean</text><text transform="translate(1682.05 451.7) scale(1.08 1)" x="-5.05" font-size="17.3">=</text><text x="1690.2" y="451.7" font-size="17.3">77.737</text>
<rect x="1817.6" y="436.3" width="121.4" height="31.2" rx="3.8" fill="#fff" stroke="#1f1f1f" stroke-width="1.4"/><text x="1823.6" y="457.4" font-size="17.3">μ</text><text x="1821.62" y="454.65" font-family="'DejaVu Sans', sans-serif" font-size="17.5">^</text><text x="1833.7" y="460.6" font-size="11.7">mean</text><text transform="translate(1871.65 457.4) scale(1.08 1)" x="-5.05" font-size="17.3">=</text><text x="1879.8" y="457.4" font-size="17.3">77.021</text>
</g>
<rect x="1474" y="96" width="470" height="666" fill="none" stroke="#000" stroke-width="2"/>
<path d="M1468.7 740.3H1473.9M1468.7 584.5H1473.9M1468.7 428.7H1473.9M1468.7 273H1473.9M1468.7 117.2H1473.9M1601.8 761.6V766.8M1816.9 761.6V766.8" stroke="#333" stroke-width="1.7"/>
<g font-family="'Liberation Sans', Arial, Helvetica, sans-serif" font-size="15.1" fill="#333" text-anchor="end">
<text x="1464.1" y="745.6">40</text>
<text x="1464.1" y="589.82">60</text>
<text x="1464.1" y="434.05">80</text>
<text x="1464.1" y="278.27">100</text>
<text x="1464.1" y="122.5">120</text>
</g>
<g font-family="'Liberation Sans', Arial, Helvetica, sans-serif" font-size="15.1" fill="#333" text-anchor="middle">
<text x="1601.8" y="782.4">Persistent infection</text>
<text x="1601.8" y="798">(n = 1,280)</text>
<text x="1816.9" y="782.4">Persistent negative</text>
<text x="1816.9" y="798">(n = 2,719)</text>
</g>
<text x="1708.7" y="820.3" font-family="'Liberation Sans', Arial, Helvetica, sans-serif" font-size="19.1" font-weight="bold" text-anchor="middle">H.pylori</text>
<text transform="translate(1429.9 428.95) rotate(-90)" font-family="'Liberation Sans', Arial, Helvetica, sans-serif" font-size="19.1" font-weight="bold" text-anchor="middle">DBP</text>
<g font-family="'Liberation Sans', Arial, Helvetica, sans-serif" fill="#000"><text x="1473" y="74.8" font-size="19.3" font-style="italic">t</text><text x="1480.1" y="78.7" font-size="13.25">Student</text><text x="1526" y="74.8" font-size="19.3">(3997)</text><text transform="translate(1590.43 74.8) scale(1.15 1)" x="-5.64" font-size="19.3">=</text><text x="1600.36" y="74.8" font-size="19.3">1.816,</text><text x="1657.72" y="74.8" font-size="19.3" font-style="italic">p</text><text transform="translate(1678.89 74.8) scale(1.15 1)" x="-5.64" font-size="19.3">=</text><text x="1688.83" y="74.8" font-size="19.3">0.069</text></g>
<text transform="translate(1360.91 32.8) scale(0.72 1)" font-family="'Liberation Sans', Arial, Helvetica, sans-serif" font-size="43" font-weight="bold">C</text>
<path d="M71.6 1506.1H539.5M71.6 1358H539.5M71.6 1210H539.5M71.6 1061.9H539.5" stroke="#efefef" stroke-width="2" fill="none"/>
<path d="M71.6 1580.1H539.5M71.6 1432H539.5M71.6 1284H539.5M71.6 1136H539.5M71.6 987.9H539.5M198.2 945.2V1607.7M413.1 945.2V1607.7" stroke="#e3e3e3" stroke-width="1.6" fill="none"/>
<g stroke="#1b9e77" stroke-opacity="0.45" stroke-width="11.6" stroke-linecap="round" fill="none"><path d="M184 1392h0M211 1378h0M214 1205h0M191 1294h0M215 1486h0M217 1442h0M218 1195h0M187 1294h0M199 1210h0M179 1328h0M209 1432h0M208 1412h0M214 1397h0M219 1452h0M201 1407h0M204 1407h0M187 1427h0M202 1476h0M183 1531h0M199 1333h0M189 1437h0M178 1274h0M193 1353h0M219 1545h0M190 1575h0M210 1540h0M191 1437h0M188 1511h0M199 1452h0M191 1466h0M191 1540h0M192 1540h0M207 1402h0M214 1318h0M216 1353h0M211 1353h0M208 1407h0M211 1383h0M186 1442h0M210 1353h0M202 1457h0M200 1259h0M217 1407h0M212 1432h0M184 1348h0M216 1560h0M199 1526h0M181 1402h0M184 1156h0M209 1501h0M193 1387h0M202 1299h0M191 1358h0M196 1506h0"/><path d="M180 1471h0M210 1452h0M185 1462h0M215 1545h0M181 1422h0M185 1353h0M194 1318h0M201 1363h0M190 1299h0M184 1378h0M200 1476h0M204 1462h0M200 1506h0M182 1526h0M216 1254h0M219 1205h0M205 1269h0M207 1383h0M218 1239h0M207 1452h0M182 1466h0M218 1299h0M203 1392h0M209 1392h0M193 1506h0M191 1422h0M209 1417h0M199 1531h0M218 1471h0M179 1476h0M210 1427h0M196 1422h0M201 1486h0M212 1343h0M187 1358h0M195 1333h0M204 1397h0M184 1200h0M183 1466h0M199 1294h0M186 1407h0M180 1471h0M205 1383h0M210 1234h0M211 1318h0M179 1422h0M194 1412h0M182 1397h0M198 1343h0M203 1521h0M193 1437h0M187 1378h0M208 1299h0M198 1476h0"/><path d="M214 1442h0M186 1427h0M206 1289h0M207 1550h0M199 1516h0M211 1244h0M184 1309h0M190 1427h0M216 1239h0M178 1333h0M212 1373h0M215 1407h0M177 1338h0M177 1269h0M179 1452h0M195 1195h0M196 1274h0M190 1442h0M193 1328h0M192 1496h0M207 1328h0M203 1516h0M181 1274h0M184 1462h0M219 1447h0M210 1476h0M218 1471h0M219 1427h0M203 1402h0M199 1580h0M219 1462h0M208 1383h0M181 1343h0M214 1358h0M205 1466h0M218 1407h0M214 1462h0M195 1309h0M212 1447h0M205 1407h0M200 1323h0M197 1358h0M187 1402h0M205 1363h0M200 1506h0M200 1466h0M214 1511h0M191 1526h0M183 1521h0M190 1486h0M206 1422h0M205 1387h0M190 1397h0M217 1318h0"/><path d="M215 1476h0M212 1368h0M202 1269h0M216 1412h0M188 1476h0M194 1304h0M215 1457h0M204 1402h0M204 1452h0M196 1244h0M200 1373h0M185 1294h0M183 1407h0M209 1427h0M186 1432h0M196 1496h0M186 1343h0M183 1383h0M201 1259h0M196 1422h0M199 1471h0M198 1427h0M188 1402h0M196 983h0M177 1353h0M186 1540h0M186 1457h0M212 1521h0M201 1264h0M202 1284h0M195 1452h0M199 1239h0M208 1264h0M199 1516h0M205 1323h0M182 1378h0M180 1392h0M180 1536h0M192 1185h0M208 1476h0M211 1363h0M203 1378h0M219 1476h0M184 1318h0M213 1328h0M206 1269h0M181 1417h0M178 1481h0M192 1392h0M201 1427h0M188 1407h0M188 1151h0M203 1318h0M209 1333h0"/><path d="M218 1328h0M198 1462h0M196 1383h0M217 1333h0M183 1363h0M191 1481h0M182 1432h0M180 1397h0M190 1387h0M193 1353h0M207 1249h0M190 1457h0M203 1368h0M196 1466h0M182 1417h0M178 1437h0M190 1165h0M210 1343h0M195 1343h0M211 1264h0M215 1279h0M193 1496h0M178 1323h0M190 1338h0M208 1462h0M219 1422h0M190 1353h0M207 1343h0M191 1516h0M196 1353h0M181 1447h0M188 1294h0M216 1234h0M181 1476h0M181 1442h0M218 1471h0M200 1452h0M202 1373h0M191 1506h0M209 1545h0M209 1323h0M201 1353h0M181 1215h0M178 1200h0M184 1437h0M204 1353h0M218 1333h0M213 1383h0M194 1496h0M186 1358h0M192 1383h0M212 1378h0M180 1501h0M188 1462h0"/><path d="M181 1378h0M212 1555h0M208 1422h0M180 1427h0M205 1304h0M210 1575h0M182 1531h0M213 1358h0M188 1363h0M182 1422h0M179 1383h0M195 1536h0M208 1476h0M180 1437h0M209 1447h0M191 1368h0M179 1363h0M202 1254h0M214 1358h0M220 1294h0M181 1476h0M200 1304h0M205 1318h0M197 1348h0M220 1397h0M210 1457h0M219 1457h0M200 1313h0M218 1462h0M178 1432h0M202 1422h0M192 1392h0M207 1244h0M209 1195h0M200 1264h0M210 1318h0M210 1506h0M183 1442h0M208 1496h0M214 1427h0M182 1259h0M215 1452h0M214 1521h0M179 1363h0M182 1407h0M199 1491h0M184 1560h0M199 1299h0M195 1358h0M213 1269h0M202 1397h0M219 1496h0M192 1363h0M194 1338h0"/><path d="M182 1259h0M216 1313h0M181 1373h0M190 1363h0M213 1496h0M219 1496h0M206 1304h0M194 1521h0M203 1309h0M209 1570h0M180 1412h0M187 1165h0M214 1210h0M209 1304h0M203 1304h0M198 1501h0M178 1427h0M201 1239h0M214 1466h0M189 1363h0M199 1417h0M185 1442h0M185 1466h0M185 1343h0M194 1387h0M209 1397h0M183 1373h0M182 1220h0M201 1333h0M180 1333h0M181 1368h0M208 1476h0M191 1471h0M199 1496h0M189 1511h0M181 1264h0M218 1452h0M200 1343h0M214 1392h0M217 1412h0M177 1555h0M180 1328h0M182 1092h0M192 1466h0M177 1264h0M202 1471h0M206 1304h0M190 1432h0M200 1368h0M216 1397h0M181 1373h0M183 1476h0M202 1432h0M194 1442h0"/><path d="M203 1146h0M214 1402h0M179 1462h0M181 1427h0M213 1402h0M211 1294h0M179 1417h0M207 1412h0M187 1437h0M179 1299h0M204 1447h0M210 1501h0M197 1521h0M218 1397h0M187 1457h0M192 1269h0M194 1496h0M207 1343h0M210 1417h0M195 1437h0M205 1328h0M219 1545h0M192 1486h0M192 1309h0M180 1511h0M190 1353h0M200 1338h0M184 1373h0M193 1486h0M192 1447h0M206 1521h0M208 1427h0M182 1313h0M197 1452h0M185 1387h0M201 1313h0M200 1466h0M212 1294h0M198 1353h0M191 1397h0M184 1348h0M178 1368h0M205 1313h0M189 1269h0M193 1447h0M216 1279h0M202 1392h0M217 1407h0M183 1540h0M216 1550h0M203 1437h0M183 1225h0M211 1412h0M195 1309h0"/><path d="M212 1279h0M207 1244h0M219 1333h0M188 1407h0M191 1353h0M213 1437h0M201 1383h0M214 1417h0M200 1471h0M192 1501h0M196 1422h0M201 1294h0M188 1432h0M189 1412h0M216 1387h0M196 1358h0M179 1501h0M185 1397h0M181 1254h0M180 1457h0M195 1309h0M207 1378h0M195 1313h0M215 1496h0M177 1304h0M190 1348h0M210 1343h0M191 1452h0M207 1466h0M196 1269h0M212 1368h0M187 1397h0M210 1274h0M188 1397h0M215 1338h0M189 1299h0M188 1471h0M189 1481h0M202 1358h0M177 1190h0M201 1343h0M177 1289h0M207 1373h0M199 1476h0M213 1304h0M194 1476h0M202 1412h0M218 1338h0M194 1373h0M216 1550h0M193 1156h0M177 1348h0M214 1309h0"/><path d="M201 1373h0M184 1279h0M215 1318h0M200 1338h0M200 1481h0M185 1392h0M207 1486h0M212 1437h0M211 1462h0M213 1432h0M205 1466h0M180 1511h0M212 1333h0M209 1570h0M199 1427h0M214 1471h0M207 1383h0M182 1457h0M202 1481h0M209 1442h0M199 1225h0M214 1457h0M219 1368h0M200 1358h0M216 1442h0M189 1511h0M216 1496h0M195 1402h0M187 1397h0M187 1220h0M199 1506h0M204 1447h0M198 1210h0M206 1402h0M179 1442h0M194 1412h0M191 1476h0M185 1447h0M191 1254h0M198 1259h0M181 1289h0M197 1358h0M205 1397h0M199 1131h0M195 1570h0M179 1432h0M210 1353h0M189 1462h0M213 1496h0M188 1284h0M183 1407h0M190 1383h0M184 1496h0"/><path d="M200 1289h0M190 1417h0M187 1447h0M186 1486h0M190 1309h0M189 1392h0M186 1397h0M188 1304h0M218 1491h0M217 1363h0M204 1343h0M200 1318h0M190 1387h0M202 1333h0M213 1397h0M183 1368h0M179 1378h0M178 1368h0M188 1279h0M197 1353h0M203 1348h0M196 1407h0M194 1457h0M186 1368h0M208 1402h0M194 1269h0M219 1353h0M198 1471h0M206 1328h0M181 1501h0M214 1239h0M199 1387h0M213 1230h0M210 1447h0M182 1427h0M210 1447h0M195 1442h0M177 1353h0M181 1432h0M203 1437h0M206 1447h0M197 1462h0M218 1442h0M208 1540h0M192 1368h0M211 1422h0M177 1254h0M211 1358h0M190 1392h0M190 1407h0M212 1309h0M186 1486h0M188 1422h0"/><path d="M210 1304h0M182 1284h0M217 1531h0M207 1264h0M191 1466h0M195 1521h0M213 1462h0M178 1486h0M196 1437h0M217 1392h0M181 1516h0M213 1496h0M216 1457h0M178 1466h0M180 1358h0M216 1363h0M184 1318h0M206 1378h0M193 1402h0M198 1343h0M212 1279h0M217 1368h0M196 1309h0M201 1442h0M217 1358h0M195 1338h0M209 1471h0M218 1239h0M187 1373h0M210 1284h0M178 1333h0M212 1536h0M189 1496h0M214 1397h0M192 1412h0M197 1323h0M213 1318h0M215 1373h0M209 1437h0M211 1481h0M194 1447h0M202 1471h0M199 1284h0M209 1387h0M201 1333h0M196 1442h0M205 1304h0M200 1397h0M198 1501h0M211 1496h0M211 1373h0M191 1363h0M180 1313h0"/><path d="M189 1462h0M183 1412h0M208 1452h0M200 1412h0M205 1299h0M185 1215h0M205 1244h0M212 1417h0M201 1328h0M178 1234h0M180 1471h0M204 1402h0M211 1175h0M191 1397h0M206 1328h0M195 1205h0M217 1338h0M193 1254h0M215 1343h0M196 1387h0M187 1392h0M191 1215h0M216 1550h0M209 1536h0M188 1432h0M206 1304h0M195 1531h0M191 1373h0M206 1343h0M218 1511h0M205 1323h0M202 1333h0M200 1378h0M195 1531h0M197 1407h0M199 1545h0M187 1328h0M207 1427h0M210 1462h0M193 1496h0M199 1412h0M194 1392h0M191 1299h0M217 1378h0M189 1289h0M220 1368h0M211 1516h0M198 1397h0M198 1442h0M206 1417h0M215 1457h0M181 1225h0M203 1368h0"/><path d="M210 1387h0M198 1358h0M218 1462h0M184 1269h0M213 1373h0M193 1392h0M199 1452h0M190 1521h0M209 1363h0M215 1516h0M216 1471h0M217 1422h0M202 1531h0M201 1343h0M216 1254h0M203 1427h0M185 1299h0M177 1447h0M190 1333h0M187 1462h0M180 1338h0M190 1496h0M209 1491h0M192 1146h0M197 1432h0M188 1363h0M190 1462h0M196 1373h0M209 1412h0M187 1521h0M190 1511h0M199 1481h0M213 1185h0M198 1491h0M178 1190h0M211 1437h0M219 1249h0M183 1402h0M205 1387h0M218 1466h0M198 1437h0M215 1491h0M203 1338h0M185 1378h0M181 1521h0M184 1462h0M181 1397h0M185 1452h0M182 1274h0M203 1506h0M216 1338h0M216 1378h0M201 1378h0"/><path d="M198 1313h0M187 1387h0M195 1318h0M206 1457h0M218 1259h0M207 1407h0M208 1294h0M206 1363h0M209 1471h0M187 1304h0M213 1412h0M182 1304h0M188 1417h0M205 1417h0M187 1531h0M218 1397h0M213 1452h0M183 1452h0M203 1299h0M183 1309h0M214 1373h0M218 1392h0M214 1486h0M210 1373h0M195 1397h0M202 1274h0M217 1279h0M186 1442h0M198 1368h0M203 1521h0M191 1304h0M196 1358h0M211 1432h0M190 1501h0M186 1536h0M181 1452h0M194 1313h0M183 1486h0M193 1402h0M189 1432h0M186 1457h0M219 1180h0M195 1165h0M198 1328h0M191 1383h0M212 1432h0M194 1378h0M206 1471h0M196 1392h0M181 1486h0M187 1417h0M177 1427h0M220 1407h0"/><path d="M218 1412h0M219 1264h0M178 1457h0M218 1471h0M209 1486h0M190 1373h0M182 1368h0M180 1274h0M187 1274h0M201 1333h0M207 1373h0M190 1368h0M192 1496h0M203 1368h0M195 1378h0M204 1540h0M207 1259h0M217 1378h0M191 1407h0M209 1397h0M196 1254h0M203 1462h0M218 1476h0M195 1511h0M193 1452h0M184 1516h0M186 1417h0M184 1491h0M208 1457h0M199 1333h0M178 1185h0M199 1289h0M185 1328h0M213 1491h0M213 1383h0M210 1353h0M195 1353h0M201 1387h0M217 1378h0M184 1333h0M218 1437h0M214 1175h0M210 1447h0M191 1521h0M178 1274h0M194 1378h0M209 1466h0M208 1427h0M214 1422h0M213 1466h0M213 1348h0M186 1447h0M202 1338h0"/><path d="M180 1363h0M216 1392h0M196 1343h0M209 1323h0M183 1437h0M195 1328h0M217 1476h0M187 1225h0M177 1294h0M196 1452h0M184 1397h0M195 1417h0M183 1397h0M199 1318h0M184 1363h0M180 1378h0M198 1432h0M215 1313h0M199 1412h0M180 1338h0M198 1402h0M214 1170h0M183 1328h0M180 1269h0M211 1501h0M194 1427h0M206 1373h0M218 1540h0M198 1304h0M182 1526h0M178 1284h0M193 1323h0M206 1373h0M178 1294h0M211 1466h0M202 1289h0M190 1328h0M196 1343h0M205 1254h0M177 1471h0M206 1427h0M217 1284h0M189 1225h0M203 1338h0M192 1387h0M216 1338h0M216 1432h0M210 1363h0M217 1427h0M205 1279h0M187 1333h0M209 1328h0M195 1269h0"/><path d="M187 1383h0M180 1471h0M180 1383h0M204 1521h0M185 1313h0M198 1437h0M216 1550h0M180 1501h0M204 1457h0M204 1368h0M200 1427h0M177 1397h0M206 1407h0M200 1195h0M201 1462h0M179 1309h0M187 1269h0M184 1333h0M192 1387h0M201 1471h0M198 1476h0M218 1496h0M190 1402h0M199 1536h0M192 1466h0M183 1392h0M177 1313h0M217 1318h0M207 1397h0M182 1452h0M201 1373h0M181 1432h0M202 1264h0M185 1471h0M213 1234h0M186 1521h0M185 1447h0M187 1402h0M208 1486h0M197 1496h0M201 1338h0M207 1368h0M181 1175h0M185 1422h0M203 1210h0M197 1309h0M192 1368h0M196 1442h0M201 1452h0M211 1442h0M216 1309h0M184 1383h0M179 1422h0"/><path d="M198 1284h0M215 1511h0M204 1471h0M181 1511h0M206 1457h0M180 1328h0M177 1550h0M188 1516h0M215 1392h0M200 1304h0M204 1032h0M190 1417h0M206 1506h0M187 1313h0M210 1358h0M206 1462h0M196 1180h0M209 1501h0M193 1328h0M194 1304h0M206 1462h0M186 1383h0M179 1254h0M184 1540h0M194 1397h0M217 1452h0M186 1383h0M193 1511h0M179 1506h0M204 1496h0M219 1387h0M214 1447h0M203 1333h0M204 1225h0M182 1353h0M203 1363h0M213 1407h0M189 1471h0M200 1279h0M190 1397h0M214 1165h0M210 1565h0M186 1496h0M197 1294h0M198 1328h0M199 1397h0M212 1452h0M216 1516h0M213 1269h0M186 1368h0M209 1378h0M191 997h0M192 1383h0"/><path d="M182 1141h0M191 1452h0M197 1486h0M192 1452h0M177 1304h0M201 1254h0M214 1511h0M217 1348h0M195 1353h0M203 1180h0M177 1462h0M200 1481h0M204 1363h0M178 1333h0M188 1259h0M219 1333h0M209 1397h0M197 1328h0M216 1560h0M202 1328h0M202 1506h0M219 1462h0M191 1234h0M201 1378h0M187 1387h0M191 1511h0M183 1318h0M205 1368h0M179 1338h0M216 1437h0M205 1383h0M183 1121h0M183 1565h0M205 1457h0M194 1540h0M183 1338h0M203 1249h0M201 1466h0M180 1309h0M215 1160h0M218 1476h0M200 1432h0M219 1274h0M185 1417h0M211 1447h0M210 1466h0M193 1471h0M208 1318h0M190 1230h0M189 1294h0M186 1496h0M190 1210h0M181 1299h0"/><path d="M220 1457h0M187 1452h0M209 1225h0M189 1358h0M206 1452h0M218 1412h0M218 1205h0M201 1279h0M212 1476h0M219 1348h0M216 1442h0M205 1368h0M206 1358h0M194 1387h0M215 1452h0M205 1462h0M192 1501h0M215 1402h0M197 1452h0M212 1422h0M177 1244h0M179 1373h0M203 1447h0M177 1378h0M195 1437h0M214 1437h0M219 1407h0M188 1338h0M191 1491h0M215 1343h0M185 1328h0M213 1516h0M185 1511h0M188 1536h0M181 1244h0M217 1432h0M214 1417h0M206 1486h0M209 1343h0M202 1348h0M206 1506h0M178 1496h0M205 1392h0M179 1417h0M219 1338h0M187 1200h0M213 1402h0M215 1417h0M206 1383h0M214 1471h0M185 1279h0M180 1383h0M184 1309h0"/><path d="M179 1491h0M185 1343h0M217 1412h0M217 1387h0M216 1368h0M203 1387h0M207 1471h0M197 1338h0M203 1254h0M207 1304h0M192 1328h0M201 1076h0M186 1486h0M219 1299h0M219 1417h0M191 1540h0M197 1378h0M217 1442h0M187 1501h0M188 1294h0M187 1383h0M198 1521h0M178 1476h0M201 1481h0M216 1392h0M189 1545h0M191 1540h0M188 1496h0M213 1239h0M199 1491h0M191 1437h0M178 1392h0M213 1531h0M186 1392h0M195 1481h0M193 1141h0M207 1521h0M201 1442h0M217 1313h0M200 1462h0M202 1323h0M201 1550h0M200 1536h0M199 1279h0M214 1387h0M200 1274h0M179 1234h0M205 1323h0M215 1491h0M206 1540h0M185 1368h0M183 1313h0M187 1225h0"/><path d="M194 1279h0M195 1378h0M196 1412h0M215 1358h0M218 1526h0M218 1555h0M202 1383h0M213 1368h0M179 1516h0M207 1402h0M203 1432h0M207 1328h0M186 1417h0M196 1343h0M207 1299h0M191 1422h0M218 1387h0M193 1555h0M185 1560h0M205 1279h0M219 1491h0M216 1422h0M197 1387h0M197 1328h0M204 1392h0M197 1442h0M184 1397h0M216 1407h0M186 1338h0M199 1343h0M190 1447h0M190 1392h0M185 1259h0M188 1397h0M204 1462h0M207 1422h0M205 1407h0M186 1313h0M186 1333h0M207 1392h0M180 1309h0M199 1274h0M216 1457h0M188 1284h0M190 1363h0M210 1392h0M220 1220h0M217 1452h0M209 1328h0M192 1402h0M181 1215h0M208 1402h0M206 1540h0"/><path d="M204 1476h0M214 1496h0M198 1506h0M189 1289h0M218 1368h0M205 1417h0M209 1294h0M209 1358h0M192 1462h0M178 1264h0M186 1328h0M217 1244h0M215 1279h0M206 1407h0M213 1407h0M197 1353h0M185 1387h0M197 1491h0M208 1363h0M206 1343h0M216 1462h0M180 1466h0M180 1422h0M192 1383h0M193 1333h0M181 1407h0M194 1387h0M219 1407h0M193 1373h0M194 1264h0M191 1333h0M201 1338h0M211 1328h0M193 1363h0M205 1466h0M189 1328h0M200 1447h0M193 1259h0M206 1323h0M204 1358h0M190 1491h0M200 1274h0M206 1427h0M197 1373h0M213 1466h0M193 1160h0M177 1373h0M201 1501h0M217 1397h0M181 1170h0M181 1457h0M190 1299h0M188 1392h0"/></g>
<g stroke="#d95f02" stroke-opacity="0.45" stroke-width="11.6" stroke-linecap="round" fill="none"><path d="M418 1422h0M416 1358h0M400 1294h0M402 1437h0M395 1392h0M434 1466h0M399 1526h0M399 1383h0M419 1274h0M398 1269h0M411 1402h0M402 1412h0M396 1348h0M433 1466h0M415 1432h0M426 1402h0M398 1516h0M396 1486h0M419 1422h0M396 1447h0M405 1536h0M400 1323h0M398 1432h0M421 1442h0M416 1457h0M421 1264h0M410 1427h0M401 1328h0M429 1373h0M409 1457h0M418 1402h0M410 1462h0M430 1457h0M431 1373h0M422 1264h0M420 1462h0M402 1491h0M407 1318h0M404 1447h0M401 1373h0M403 1481h0M426 1397h0M431 1447h0M432 1412h0M430 1358h0M413 1407h0M417 1422h0M422 1343h0M399 1437h0M422 1481h0M397 1383h0M401 1452h0M403 1501h0M432 1304h0M409 1466h0M433 1407h0M416 1383h0M414 1328h0M420 1363h0M430 1299h0M434 1220h0M404 1462h0M411 1437h0M428 1304h0M416 1511h0M413 1343h0M418 1328h0M406 1531h0M430 1279h0M414 1358h0M408 1254h0M409 1417h0M432 1427h0M397 1486h0M421 1363h0M408 1521h0M421 1402h0M415 1407h0M416 1397h0M434 1363h0M397 1200h0M420 1304h0M401 1328h0M425 1457h0M430 1220h0M395 1338h0M429 1412h0M426 1279h0M423 1264h0M397 1397h0M429 1442h0M424 1491h0M432 1462h0M399 1452h0M405 1333h0M398 1417h0M422 1279h0M417 1368h0M430 1555h0M405 1540h0M399 1333h0M421 1343h0M431 1516h0M410 1328h0M407 1363h0M433 1447h0M407 1299h0M414 1358h0M408 1259h0M393 1363h0M409 1383h0M403 1289h0M427 1501h0M409 1511h0"/><path d="M434 1516h0M418 1210h0M430 1476h0M431 1402h0M426 1383h0M394 1402h0M422 1200h0M399 1457h0M425 1417h0M404 1447h0M414 1383h0M410 1501h0M428 1486h0M407 1126h0M402 1476h0M406 1402h0M395 1333h0M408 1392h0M426 1259h0M395 1289h0M416 1358h0M434 1392h0M416 1432h0M430 1575h0M409 1387h0M393 1363h0M419 1397h0M401 1452h0M407 1501h0M396 1511h0M406 1402h0M401 1555h0M420 1545h0M420 1481h0M410 1427h0M414 1417h0M409 1279h0M428 1368h0M409 1378h0M397 1511h0M433 1476h0M397 1378h0M421 1506h0M433 1353h0M433 1462h0M433 1392h0M418 1392h0M409 1491h0M422 1457h0M408 1491h0M418 1264h0M403 1550h0M426 1491h0M426 1333h0M426 1462h0M419 1491h0M408 1378h0M409 1427h0M415 1230h0M394 1555h0M423 1294h0M433 1358h0M402 1200h0M428 1387h0M412 1462h0M413 1343h0M402 1422h0M415 1412h0M427 1412h0M416 1378h0M403 1437h0M415 1397h0M406 1491h0M429 1353h0M420 1239h0M398 1289h0M425 1269h0M417 1575h0M421 1358h0M395 1442h0M413 1318h0M407 1363h0M409 1313h0M408 1402h0M397 1476h0M394 1536h0M399 1471h0M408 1378h0M420 1397h0M407 1427h0M412 1466h0M399 1294h0M399 1545h0M402 1348h0M397 1412h0M426 1417h0M423 1392h0M405 1412h0M409 1506h0M392 1397h0M426 1417h0M406 1491h0M428 1427h0M399 1397h0M399 1368h0M433 1402h0M404 1353h0M412 1442h0M426 1230h0M413 1328h0M411 1383h0M393 1412h0M406 1328h0M410 1294h0"/><path d="M397 1338h0M402 1353h0M428 1269h0M422 1299h0M406 1373h0M411 1353h0M425 1412h0M421 1407h0M392 1220h0M405 1353h0M392 1373h0M423 1378h0M406 1481h0M401 1348h0M430 1299h0M420 1294h0M393 1486h0M393 1437h0M431 1368h0M412 1536h0M403 1491h0M394 1323h0M432 1348h0M400 1466h0M393 1457h0M402 1466h0M415 1205h0M392 1333h0M431 1402h0M426 1462h0M419 1289h0M418 1313h0M429 1210h0M423 1264h0M426 1294h0M427 1407h0M434 1343h0M396 1471h0M392 1309h0M402 1353h0M433 1540h0M416 1447h0M432 1309h0M411 1373h0M432 1427h0M393 1392h0M414 1313h0M421 1299h0M428 1486h0M419 1225h0M426 1294h0M400 1383h0M394 1397h0M402 1358h0M423 1279h0M404 1501h0M404 1501h0M402 1501h0M404 1180h0M414 1442h0M433 1432h0M393 1387h0M419 1447h0M430 1313h0M403 1457h0M422 1457h0M397 1457h0M431 1476h0M431 1466h0M394 1486h0M429 1378h0M413 1358h0M398 1427h0M429 1417h0M412 1244h0M431 1397h0M393 1481h0M427 1481h0M405 1427h0M400 1358h0M426 1526h0M418 1363h0M420 1279h0M433 1471h0M424 1289h0M404 1397h0M400 1318h0M426 1442h0M427 1545h0M395 1516h0M403 1462h0M409 1299h0M409 1427h0M394 1249h0M410 1471h0M419 1432h0M399 1511h0M421 1318h0M421 1368h0M413 1387h0M408 1531h0M395 1289h0M401 1328h0M408 1368h0M406 1452h0M394 1397h0M410 1338h0M431 1402h0M430 1338h0M414 1476h0M422 1521h0M415 1407h0M408 1555h0M410 1442h0"/><path d="M406 1526h0M427 1387h0M417 1486h0M410 1412h0M402 1348h0M428 1422h0M400 1511h0M420 1358h0M405 1387h0M404 1392h0M414 1353h0M428 1259h0M399 1437h0M425 1383h0M406 1412h0M410 1447h0M432 1570h0M428 1338h0M431 1378h0M418 1422h0M419 1368h0M413 1304h0M414 1284h0M401 1373h0M398 1402h0M429 1417h0M412 1447h0M418 1422h0M425 1432h0M413 1373h0M428 1417h0M433 1244h0M425 1397h0M395 1422h0M402 1491h0M419 1545h0M414 1462h0M393 1476h0M415 1397h0M406 1565h0M406 1407h0M408 1466h0M404 1417h0M416 1363h0M397 1452h0M425 1432h0M434 1407h0M401 1432h0M427 1540h0M419 1442h0M424 1383h0M427 1526h0M419 1383h0M434 1378h0M432 1363h0M417 1545h0M400 1471h0M434 1452h0M394 1452h0M432 1452h0M428 1486h0M427 1313h0M421 1442h0M394 1417h0M432 1462h0M418 1205h0M405 1318h0M396 1304h0M406 1476h0M417 1353h0M418 1373h0M411 1309h0M432 1338h0M421 1309h0M399 1417h0M415 1457h0M407 1353h0M394 1254h0M398 1378h0M398 1353h0M433 1358h0M421 1323h0M420 1496h0M423 1466h0M420 1378h0M397 1274h0M425 1392h0M393 1417h0M411 1269h0M428 1249h0M396 1313h0M429 1462h0M413 1397h0M426 1264h0M395 1343h0M425 1328h0M416 1299h0M401 1392h0M411 1447h0M416 1516h0M408 1363h0M418 1481h0M413 1422h0M419 1516h0M415 1427h0M404 1353h0M411 1259h0M396 1304h0M413 1555h0M422 1491h0M429 1328h0M403 1230h0M428 1185h0M418 1387h0"/><path d="M416 1402h0M400 1516h0M406 1481h0M410 1471h0M409 1383h0M413 1279h0M433 1289h0M394 1481h0M415 1392h0M432 1111h0M414 1427h0M411 1402h0M429 1432h0M395 1402h0M420 1540h0M407 1570h0M421 1313h0M421 1294h0M410 1447h0M412 1368h0M397 1343h0M421 1215h0M420 1412h0M418 1452h0M415 1496h0M421 1304h0M392 1407h0M415 1471h0M425 1402h0M404 1373h0M398 1397h0M433 1555h0M426 1560h0M430 1185h0M429 1457h0M410 1476h0M413 1471h0M413 1432h0M407 1422h0M425 1294h0M424 1358h0M412 1486h0M409 1313h0M418 1457h0M428 1511h0M421 1353h0M404 1392h0M422 1264h0M423 1442h0M411 1462h0M400 1486h0M409 1318h0M409 1387h0M428 1387h0M406 1165h0M433 1387h0M406 1309h0M418 1363h0M434 1447h0M403 1363h0M396 1225h0M423 1348h0M416 1432h0M427 1402h0M423 1328h0M421 1299h0M423 1234h0M425 1234h0M416 1175h0M411 1427h0M412 1387h0M434 1383h0M424 1432h0M393 1274h0M432 1531h0M399 1230h0M424 1244h0M423 1471h0M433 1476h0M406 1447h0M420 1313h0M418 1432h0M403 1560h0M415 1486h0M402 1269h0M423 1462h0M412 1491h0M410 1457h0M409 1516h0M427 1442h0M429 1200h0M407 1289h0M422 1447h0M405 1407h0M420 1526h0M408 1511h0M421 1373h0M433 1422h0M432 1407h0M418 1383h0M417 1511h0M395 1323h0M409 1526h0M395 1545h0M396 1373h0M394 1486h0M395 1338h0M416 1412h0M414 1432h0M433 1289h0M425 1254h0M396 1521h0M425 1432h0M400 1368h0"/><path d="M432 1210h0M399 1407h0M430 1536h0M404 1447h0M400 1496h0M413 1383h0M402 1437h0M430 1462h0M426 1526h0M395 1383h0M414 1363h0M401 1555h0M397 1402h0M433 1220h0M409 1368h0M401 1249h0M418 1323h0M415 1239h0M433 1313h0M419 1432h0M413 973h0M404 1304h0M402 1368h0M398 1368h0M416 1447h0M420 1466h0M396 1333h0M398 1407h0M403 1373h0M434 1338h0M406 1269h0M419 1427h0M415 1269h0M419 1205h0M403 1417h0M432 1565h0M430 1397h0M422 1412h0M404 1363h0M401 1387h0M421 1432h0M429 1427h0M410 1427h0M418 1333h0M408 1373h0M431 1427h0M392 1427h0M422 1358h0M425 1200h0M420 1378h0M408 1333h0M420 1452h0M403 1452h0M410 1402h0M392 1383h0M413 1407h0M408 1452h0M421 1392h0M417 1392h0M417 1363h0M426 1383h0M430 1432h0M407 1299h0M416 1378h0M426 1437h0M404 1422h0M410 1338h0M410 1407h0M432 1427h0M411 1333h0M433 1323h0M407 1358h0M413 1318h0M424 1531h0M434 1506h0M403 1244h0M421 1511h0M417 1442h0M403 1412h0M418 1373h0M401 1486h0M420 1452h0M397 1387h0M408 1531h0M430 1363h0M405 1457h0M403 1200h0M423 1407h0M398 1190h0M414 1462h0M424 1526h0M418 1540h0M404 1427h0M400 1402h0M433 1205h0M407 1313h0M413 1407h0M433 1387h0M399 1313h0M420 1313h0M427 1422h0M394 1447h0M396 1338h0M428 1560h0M427 1299h0M434 1476h0M428 1422h0M394 1481h0M422 1363h0M406 1363h0M393 1373h0M410 1531h0M398 1452h0M411 1417h0"/><path d="M399 1417h0M409 1318h0M416 1304h0M395 1338h0M419 1565h0M427 1501h0M396 1358h0M407 1486h0M414 1343h0M422 1368h0M405 1259h0M397 1318h0M412 1486h0M400 1244h0M406 1481h0M432 1383h0M419 1333h0M401 1368h0M400 1452h0M417 1368h0M395 1343h0M416 1511h0M411 1476h0M429 1432h0M409 1373h0M398 1580h0M408 1343h0M419 1353h0M420 1318h0M432 1269h0M405 1402h0M421 1412h0M429 1457h0M409 1491h0M409 1432h0M425 1417h0M406 1338h0M405 1318h0M398 1516h0M420 1338h0M419 1471h0M429 1506h0M397 1387h0M423 1476h0M419 1442h0M409 1323h0M413 1471h0M421 1506h0M423 1343h0M430 1338h0M434 1457h0M403 1175h0M393 1447h0M418 1387h0M417 1353h0M405 1452h0M408 1378h0M425 1353h0M399 1511h0M418 1259h0M402 1412h0M423 1190h0M417 1531h0M408 1363h0M405 1422h0M432 1313h0M400 1274h0M401 1323h0M398 1309h0M397 1318h0M396 1407h0M402 1427h0M412 1412h0M429 1462h0M420 1304h0M403 1269h0M407 1412h0M403 1289h0M427 1210h0M426 1200h0M406 1313h0M405 1496h0M426 1536h0M392 1313h0M404 1481h0M432 1309h0M417 1294h0M410 1318h0M432 1481h0M431 1491h0M416 1254h0M433 1294h0M406 1397h0M420 1491h0M393 1447h0M392 1279h0M423 1289h0M393 1427h0M421 1407h0M434 1254h0M393 1289h0M434 1096h0M396 1397h0M407 1476h0M423 1387h0M404 1452h0M406 1516h0M431 1427h0M397 1220h0M416 1526h0M398 1210h0M418 1254h0M411 1348h0M423 1244h0"/><path d="M422 1506h0M401 1101h0M407 1387h0M409 1462h0M434 1387h0M425 1338h0M399 1318h0M413 1328h0M397 1437h0M418 1447h0M400 1476h0M431 1462h0M396 1540h0M429 1101h0M424 1540h0M408 1447h0M410 1496h0M410 1437h0M433 1333h0M418 1358h0M394 1402h0M402 1368h0M410 1392h0M434 1215h0M403 1383h0M404 1540h0M433 1462h0M410 1476h0M415 1402h0M429 1313h0M422 1476h0M428 1516h0M433 1412h0M399 1353h0M407 1506h0M410 1333h0M394 1318h0M403 1358h0M419 1383h0M394 1274h0M424 1521h0M425 1215h0M408 1402h0M398 1328h0M394 1378h0M427 1570h0M419 1383h0M430 1378h0M417 1501h0M409 1373h0M427 1294h0M433 1136h0M411 1353h0M415 1447h0M425 1506h0M424 1358h0M427 1511h0M394 1466h0M397 1432h0M397 1407h0M399 1279h0M396 1521h0M415 1387h0M418 1328h0M428 1225h0M409 1353h0M413 1373h0M430 1412h0M392 1378h0M414 1540h0M411 1466h0M407 1363h0M434 1496h0M402 1432h0M433 1437h0M403 1269h0M417 1545h0M428 1397h0M413 1397h0M424 1141h0M414 1215h0M403 1387h0M421 1407h0M409 1387h0M426 1289h0M432 1318h0M407 1437h0M434 1397h0M424 1378h0M429 1481h0M393 1422h0M405 1412h0M411 1338h0M423 1373h0M395 1471h0M400 1417h0M421 1215h0M400 1338h0M396 1452h0M425 1402h0M424 1279h0M407 1427h0M412 1417h0M406 1437h0M416 1481h0M413 1299h0M414 1491h0M431 1086h0M399 1363h0M430 1550h0M427 1309h0M434 1501h0M418 1511h0"/><path d="M426 1309h0M415 1397h0M425 1383h0M409 1363h0M414 1466h0M403 1442h0M401 1373h0M426 1383h0M408 1318h0M411 1318h0M403 1249h0M434 1501h0M424 1432h0M396 1284h0M398 1200h0M416 1447h0M425 1407h0M414 1378h0M398 1289h0M413 1338h0M422 1392h0M419 1422h0M428 1333h0M431 1363h0M430 1496h0M409 1511h0M396 1373h0M434 1417h0M409 1378h0M427 1427h0M414 1462h0M423 1402h0M412 1392h0M393 1432h0M418 1299h0M431 1299h0M420 1368h0M429 1462h0M402 1180h0M416 1368h0M402 1299h0M400 1397h0M393 1412h0M428 1383h0M428 1417h0M430 1407h0M417 1383h0M424 1432h0M433 1452h0M431 1353h0M401 1462h0M421 1432h0M397 1220h0M425 1466h0M395 1397h0M416 1304h0M396 1313h0M409 1491h0M414 1496h0M424 1422h0M409 1560h0M431 1476h0M410 1343h0M418 1151h0M434 1422h0M399 1387h0M415 1333h0M419 1402h0M405 1343h0M421 1540h0M430 1378h0M430 1373h0M394 1378h0M394 1412h0M433 1481h0M413 1457h0M425 1328h0M431 1476h0M408 1392h0M425 1402h0M429 1452h0M405 1422h0M429 1412h0M426 1333h0M414 1309h0M413 1318h0M408 1348h0M413 1407h0M431 1225h0M431 1289h0M428 1466h0M408 1387h0M404 1239h0M418 1536h0M397 1274h0M418 1397h0M431 1511h0M430 1363h0M395 1422h0M393 1358h0M423 1215h0M422 1244h0M424 1536h0M392 1338h0M401 1452h0M411 1466h0M421 1244h0M424 1269h0M410 1432h0M419 1422h0M419 1471h0M412 1496h0M423 1299h0"/><path d="M413 1289h0M400 1506h0M422 1462h0M416 1496h0M407 1536h0M415 1412h0M394 1318h0M411 1417h0M428 1313h0M399 1313h0M412 1476h0M402 1466h0M431 1299h0M424 1373h0M433 1407h0M408 1501h0M424 1427h0M430 1422h0M426 1244h0M401 1501h0M396 1540h0M425 1526h0M430 1447h0M415 1491h0M421 1481h0M410 1486h0M414 1447h0M431 1363h0M398 1447h0M400 1304h0M397 1417h0M425 1526h0M397 1333h0M434 1452h0M409 1363h0M421 1309h0M425 1486h0M420 1151h0M423 1402h0M402 1358h0M399 1437h0M403 1437h0M397 1422h0M409 1407h0M400 1279h0M428 1239h0M408 1501h0M404 1466h0M426 1383h0M423 1432h0M400 1373h0M432 1387h0M430 1452h0M418 1496h0M412 1353h0M410 1412h0M401 1481h0M412 1447h0M428 1412h0M404 1170h0M410 1259h0M407 1383h0M419 1486h0M397 1363h0M420 1501h0M414 1392h0M413 1407h0M413 1412h0M423 1363h0M421 1560h0M397 1373h0M413 1486h0M412 1309h0M433 1338h0M403 1373h0M393 1536h0M392 1392h0M400 1387h0M409 1304h0M406 1550h0M405 1210h0M418 1353h0M410 1190h0M406 1383h0M392 1412h0M430 1575h0M394 1427h0M416 1427h0M424 1447h0M395 1427h0M418 1486h0M407 1279h0M398 1486h0M400 1234h0M420 1190h0M393 1392h0M429 1368h0M411 1328h0M419 1106h0M425 1309h0M432 1373h0M431 1397h0M405 1333h0M421 1363h0M394 1333h0M404 1279h0M417 1466h0M418 1254h0M411 1452h0M406 1318h0M429 1417h0M401 1432h0M410 1427h0"/><path d="M432 1481h0M407 1378h0M403 1550h0M420 1432h0M397 1274h0M421 1427h0M397 1378h0M404 1323h0M432 1387h0M425 1462h0M429 1442h0M422 1447h0M426 1136h0M403 1313h0M408 1353h0M428 1264h0M423 1373h0M423 1545h0M402 1269h0M396 1516h0M414 1481h0M423 1550h0M432 1353h0M408 1521h0M401 1294h0M422 1387h0M425 1486h0M398 1422h0M428 1511h0M413 1432h0M420 1442h0M420 1368h0M417 1299h0M413 1511h0M415 1570h0M408 1457h0M423 1264h0M401 1501h0M413 1328h0M406 1545h0M428 1313h0M403 1373h0M434 1432h0M398 1328h0M434 1481h0M423 1304h0M428 1506h0M410 1550h0M419 1249h0M406 1328h0M424 1466h0M410 1447h0M412 1279h0M405 1437h0M395 1397h0M394 1363h0M392 1471h0M396 1353h0M429 1363h0M422 1378h0M406 1387h0M434 1417h0M393 1304h0M434 1397h0M413 1249h0M431 1387h0M410 1313h0M392 1343h0M409 1358h0M408 1481h0M402 1313h0M397 1304h0M400 1481h0M395 1373h0M395 1304h0M402 1373h0M404 1126h0M397 1481h0M396 1491h0M396 1550h0M408 1452h0M429 1373h0M398 1397h0M423 1289h0M422 1383h0M395 1299h0M394 1501h0M416 1447h0M418 1516h0M427 1156h0M433 1471h0M420 1387h0M417 1457h0M431 1387h0M393 1447h0M406 1333h0M401 1412h0M395 1570h0M410 1383h0M393 1476h0M409 1328h0M412 1259h0M421 1304h0M393 1432h0M406 1536h0M397 1417h0M398 1457h0M415 1536h0M432 1496h0M403 1496h0M396 1432h0M427 1412h0M418 1387h0"/><path d="M416 1318h0M409 1432h0M430 1333h0M412 1437h0M405 1407h0M426 1427h0M406 1333h0M417 1457h0M433 1402h0M397 1328h0M425 1397h0M430 1397h0M424 1284h0M423 1412h0M401 1358h0M427 1422h0M430 1363h0M421 1491h0M413 1457h0M427 1481h0M410 1299h0M400 1481h0M418 1378h0M392 1447h0M419 1244h0M403 1422h0M412 1407h0M422 1318h0M428 1254h0M416 1452h0M397 1333h0M421 1328h0M396 1417h0M420 1402h0M420 1536h0M419 1432h0M414 1412h0M412 1437h0M423 1432h0M402 1358h0M418 1471h0M415 1452h0M392 1437h0M429 1397h0M397 1570h0M424 1462h0M400 1457h0M395 1531h0M395 1348h0M431 1239h0M411 1378h0M430 1279h0M400 1471h0M411 1427h0M401 1565h0M421 1264h0M414 1210h0M404 1328h0M398 1343h0M433 1225h0M427 1496h0M417 1274h0M414 1452h0M401 1215h0M398 1343h0M427 1313h0M402 1462h0M429 1368h0M415 1200h0M394 1417h0M399 1234h0M413 1294h0M397 1526h0M402 1417h0M418 1545h0M411 1373h0M411 1387h0M403 1417h0M398 1462h0M417 1402h0M401 1333h0M403 1496h0M409 1220h0M423 1318h0M421 1333h0M417 1318h0M407 1387h0M399 1392h0M403 1402h0M430 1521h0M394 1392h0M397 1407h0M424 1427h0M417 1476h0M409 1313h0M417 1353h0M407 1521h0M416 1407h0M407 1368h0M411 1358h0M392 1392h0M399 1412h0M417 1422h0M393 1358h0M430 1462h0M394 1422h0M394 1397h0M392 1373h0M399 1378h0M416 1387h0M395 1471h0M397 1348h0M430 1417h0"/><path d="M392 1353h0M431 1343h0M411 1397h0M418 1333h0M398 1387h0M404 1373h0M402 1412h0M424 1417h0M395 1481h0M399 1462h0M421 1387h0M431 1373h0M396 1442h0M414 1387h0M431 1378h0M424 1363h0M414 1447h0M401 1491h0M410 1348h0M429 1506h0M418 1516h0M404 1402h0M416 1412h0M407 1412h0M416 1452h0M412 1402h0M411 1131h0M413 1540h0M408 1294h0M425 1447h0M410 1323h0M393 1466h0M414 1476h0M424 1457h0M414 1397h0M411 1348h0M407 1363h0M426 1491h0M418 1185h0M431 1407h0M414 1442h0M410 1412h0M430 1427h0M434 1363h0M401 1412h0M414 1457h0M405 1343h0M407 1333h0M410 1501h0M405 1407h0M409 1170h0M423 1338h0M415 1156h0M406 1462h0M417 1437h0M432 1457h0M432 1205h0M421 1343h0M408 1338h0M413 1471h0M425 1343h0M402 1452h0M395 1437h0M403 1437h0M429 1447h0M404 1373h0M414 1387h0M403 1378h0M432 1387h0M407 1422h0M402 1437h0M400 1304h0M426 1343h0M433 1378h0M420 1239h0M419 1373h0M402 1353h0M432 1407h0M417 1392h0M423 1457h0M404 1328h0M426 1210h0M398 1141h0M416 1402h0M410 1427h0M409 1373h0M417 1427h0M434 1368h0M394 1353h0M402 1279h0M430 1452h0M415 1323h0M432 1289h0M433 1254h0M409 1506h0M430 1412h0M419 1437h0M418 1486h0M434 1363h0M425 1407h0M398 1387h0M405 1363h0M416 1328h0M399 1338h0M429 1437h0M427 1402h0M415 1412h0M432 1383h0M414 1294h0M398 1402h0M429 1432h0M424 1457h0M395 1106h0"/><path d="M421 1348h0M393 1437h0M410 1422h0M393 1353h0M431 1299h0M425 1481h0M414 1180h0M419 1328h0M402 1170h0M419 1481h0M426 1471h0M404 1452h0M416 1402h0M415 1392h0M420 1318h0M394 1550h0M429 1313h0M393 1407h0M434 1358h0M411 1358h0M428 1363h0M405 1417h0M400 1299h0M430 1417h0M399 1501h0M434 1476h0M403 1427h0M416 1358h0M392 1476h0M420 1373h0M407 1264h0M426 1353h0M430 1387h0M393 1323h0M419 1452h0M430 1185h0M433 1417h0M396 1526h0M413 1457h0M433 1531h0M422 1432h0M425 1491h0M429 1471h0M399 1476h0M404 1363h0M397 1491h0M422 1466h0M418 1387h0M423 1392h0M434 1417h0M407 1402h0M409 1383h0M398 1437h0M432 1545h0M433 1309h0M419 1447h0M431 1417h0M427 1422h0M410 1333h0M413 1387h0M407 1486h0M401 1383h0M429 1363h0M403 1521h0M405 1363h0M431 1471h0M427 1491h0M409 1353h0M429 1264h0M414 1417h0M424 1363h0M392 1269h0M425 1427h0M430 1422h0M395 1476h0M414 1432h0M420 1358h0M400 1447h0M398 1309h0M409 1358h0M402 1348h0M409 1343h0M425 1521h0M402 1476h0M417 1486h0M428 1220h0M432 1353h0M392 1383h0M396 1452h0M417 1471h0M395 1318h0M408 1417h0M429 1407h0M432 1358h0M425 1383h0M420 1486h0M423 1486h0M403 1210h0M424 1363h0M415 1432h0M398 1373h0M426 1397h0M410 1348h0M422 1422h0M392 1378h0M399 1358h0M402 1437h0M401 1476h0M407 1195h0M433 1417h0M434 1397h0M397 1486h0M401 1496h0"/><path d="M412 1447h0M422 1387h0M415 1402h0M427 1466h0M413 1254h0M434 1476h0M400 1496h0M412 1348h0M414 1397h0M398 1343h0M424 1402h0M394 1363h0M393 1333h0M421 1323h0M417 1353h0M425 1427h0M411 1452h0M425 1378h0M406 1442h0M422 1447h0M414 1407h0M424 1368h0M399 1383h0M433 1387h0M393 1215h0M413 1333h0M395 1392h0M395 1506h0M427 1447h0M416 1259h0M419 1309h0M434 1545h0M407 1131h0M422 1412h0M415 1353h0M395 1437h0M394 1437h0M423 1432h0M420 1427h0M403 1417h0M401 1462h0M430 1392h0M407 1491h0M426 1432h0M400 1442h0M433 1363h0M394 1427h0M428 1373h0M408 1289h0M396 1254h0M392 1368h0M426 1368h0M429 1417h0M425 1101h0M417 1111h0M393 1491h0M426 1536h0M392 1323h0M411 1378h0M396 1378h0M423 1363h0M405 1284h0M422 1387h0M418 1476h0M431 1057h0M412 1422h0M401 1205h0M392 1368h0M411 1353h0M427 1412h0M429 1432h0M411 1457h0M431 1422h0M395 1407h0M406 1333h0M431 1333h0M434 1540h0M393 1358h0M399 1447h0M420 1412h0M423 1343h0M402 1383h0M420 1269h0M394 1284h0M417 1511h0M412 1496h0M412 1353h0M406 1462h0M413 1343h0M414 1363h0M423 1407h0M424 1496h0M433 1284h0M419 1452h0M401 1363h0M430 1466h0M399 1304h0M401 1373h0M404 1378h0M430 1284h0M434 1363h0M395 1491h0M431 1481h0M417 1333h0M432 1338h0M398 1299h0M424 1259h0M393 1466h0M420 1412h0M405 1378h0M418 1373h0M417 1323h0M430 1545h0"/><path d="M413 1387h0M424 1363h0M410 1417h0M430 1333h0M432 1555h0M400 1348h0M433 1452h0M433 1368h0M432 1397h0M431 1481h0M412 1358h0M413 1392h0M394 1397h0M429 1358h0M411 1437h0M420 1422h0M416 1476h0M405 1274h0M409 1437h0M405 1447h0M394 1323h0M410 1279h0M406 1318h0M393 1392h0M399 1462h0M434 1447h0M416 1427h0M429 1299h0M434 1452h0M426 1309h0M417 1526h0M431 1392h0M400 1486h0M400 1318h0M396 1353h0M400 1575h0M396 1200h0M432 1348h0M420 1363h0M432 1353h0M430 1210h0M405 1452h0M424 1318h0M405 1343h0M432 1313h0M407 1294h0M413 1373h0M431 1274h0M399 1363h0M424 1363h0M398 1496h0M419 1101h0M421 1466h0M408 1338h0M434 1387h0M393 1486h0M408 1452h0M402 1531h0M416 1422h0M406 1343h0M392 1378h0M426 1486h0M419 1383h0M434 1402h0M422 1476h0M422 1511h0M392 1511h0M396 1239h0M408 1412h0M416 1417h0M432 1427h0M402 1353h0M432 1412h0M434 1274h0M401 1422h0M400 1328h0M401 1427h0M422 1383h0M421 1471h0M420 1170h0M402 1309h0M431 1466h0M396 1407h0M431 1555h0M392 1392h0M411 1392h0M400 1452h0M419 1392h0M433 1363h0M418 1338h0M415 1462h0M395 1368h0M424 1358h0M402 1279h0M428 1442h0M419 1452h0M399 1442h0M422 1289h0M428 1368h0M398 1304h0M420 1471h0M405 1313h0M410 1501h0M405 1457h0M413 1452h0M422 1491h0M413 1476h0M417 1417h0M405 1506h0M396 1353h0M394 1373h0M421 1348h0M432 1392h0"/><path d="M432 1368h0M409 1427h0M410 1160h0M399 1427h0M429 1412h0M428 1378h0M408 1462h0M429 1284h0M401 1392h0M399 1259h0M398 1402h0M404 1294h0M397 1481h0M430 1348h0M395 1338h0M418 1387h0M408 1466h0M405 1363h0M414 1466h0M404 1437h0M394 1545h0M424 1343h0M395 1397h0M410 1383h0M408 1373h0M400 1476h0M420 1481h0M423 1417h0M395 1422h0M428 1383h0M398 1309h0M396 1402h0M418 1358h0M402 1383h0M418 1442h0M400 1304h0M421 1496h0M406 1560h0M432 1427h0M424 1457h0M408 1462h0M416 1358h0M396 1387h0M425 1392h0M410 1462h0M429 1373h0M412 1447h0M417 1368h0M434 1254h0M426 1269h0M409 1358h0M428 1452h0M430 1343h0M434 1402h0M393 1318h0M414 1348h0M401 1521h0M416 1407h0M393 1397h0M431 1511h0M395 1313h0M433 1501h0M403 1476h0M392 1550h0M416 1422h0M400 1402h0M408 1244h0M421 1392h0M396 1387h0M420 1234h0M397 1432h0M418 1432h0M393 1452h0M405 1466h0M423 1136h0M410 1378h0M405 1575h0M420 1397h0M419 1383h0M400 1442h0M418 1304h0M399 1402h0M407 1378h0M407 1373h0M397 1328h0M422 1447h0M408 1259h0M412 1383h0M409 1299h0M412 1550h0M420 1452h0M399 1545h0M395 1126h0M432 1437h0M414 1545h0M422 1338h0M426 1368h0M418 1392h0M415 1457h0M399 1466h0M414 1185h0M422 1397h0M420 1432h0M416 1437h0M406 1348h0M396 1338h0M417 1417h0M404 1417h0M414 1333h0M425 1323h0M401 1151h0M412 1442h0M400 1333h0"/><path d="M423 1383h0M408 1254h0M408 1358h0M433 1146h0M433 1234h0M413 1412h0M394 1397h0M396 1466h0M422 1358h0M425 1358h0M404 1521h0M401 1447h0M417 1234h0M400 1328h0M424 1387h0M398 1328h0M405 1432h0M397 1397h0M424 1457h0M421 1363h0M411 1363h0M433 1338h0M392 1348h0M430 1437h0M409 1476h0M431 1333h0M413 1486h0M413 1407h0M393 1215h0M412 1215h0M427 1348h0M417 1402h0M399 1062h0M426 1358h0M403 1313h0M410 1452h0M421 1175h0M413 1392h0M394 1536h0M414 1427h0M418 1368h0M418 1397h0M414 1432h0M412 1437h0M427 1378h0M415 1383h0M416 1442h0M400 1392h0M401 1496h0M398 1289h0M408 1550h0M394 1358h0M399 1309h0M402 1501h0M413 1417h0M417 1457h0M424 1427h0M396 1452h0M413 1417h0M426 1348h0M431 1471h0M406 1363h0M405 1328h0M426 1353h0M425 1358h0M423 1397h0M398 1452h0M400 1299h0M425 1378h0M395 1323h0M406 1373h0M406 1486h0M410 1210h0M403 1447h0M429 1343h0M400 1383h0M405 1402h0M419 1274h0M402 1343h0M392 1215h0M420 1323h0M413 1506h0M407 1387h0M415 1225h0M397 1466h0M429 1373h0M399 1452h0M420 1457h0M423 1447h0M396 1516h0M393 1407h0M407 1353h0M403 1279h0M427 1387h0M406 1254h0M402 1397h0M410 1407h0M396 1309h0M425 1378h0M414 1437h0M432 1215h0M424 1254h0M411 1526h0M399 1373h0M419 1412h0M424 1442h0M415 1447h0M396 1338h0M432 1442h0M412 1476h0M406 1190h0M404 1422h0M404 1328h0"/><path d="M414 1353h0M405 1521h0M404 1452h0M405 1358h0M425 1323h0M423 1309h0M412 1457h0M412 1437h0M392 1412h0M397 1387h0M430 1417h0M402 1501h0M394 1412h0M392 1481h0M418 1392h0M408 1491h0M392 1412h0M420 1462h0M401 1378h0M416 1545h0M395 1496h0M408 1383h0M425 1358h0M415 1462h0M430 1309h0M394 1299h0M420 1348h0M420 1447h0M423 1318h0M395 1422h0M395 1387h0M407 1077h0M426 1294h0M397 1313h0M402 1491h0M420 1501h0M403 1447h0M415 1323h0M418 1506h0M416 1294h0M409 1289h0M421 1580h0M398 1412h0M423 1496h0M414 1333h0M428 1363h0M416 1383h0M396 1200h0M432 1437h0M430 1397h0M413 1491h0M399 1452h0M428 1471h0M404 1309h0M401 1304h0M422 1289h0M415 1402h0M408 1452h0M407 1550h0M400 1466h0M392 1299h0M417 1318h0M427 1348h0M425 1427h0M393 1328h0M393 1531h0M410 1402h0M419 1516h0M399 1333h0M404 1304h0M426 1348h0M400 1575h0M409 1540h0M403 1328h0M395 1239h0M396 1471h0M395 1521h0M434 1397h0M399 1447h0M427 1397h0M395 1304h0M428 1412h0M403 1392h0M426 1407h0M397 1289h0M426 1259h0M428 1540h0M422 1348h0M408 1462h0M422 1407h0M399 1333h0M404 1378h0M398 1392h0M434 1476h0M426 1501h0M432 1363h0M430 1318h0M406 1407h0M429 1264h0M424 1506h0M425 1284h0M416 1417h0M398 1318h0M410 1333h0M422 1550h0M433 1383h0M414 1481h0M407 1328h0M409 1486h0M431 1373h0M429 1387h0M417 1318h0M417 1526h0"/><path d="M422 1378h0M405 1427h0M407 1417h0M429 1348h0M416 1383h0M412 1432h0M404 1422h0M433 1387h0M434 1254h0M399 1501h0M393 1249h0M430 1244h0M411 1387h0M424 1457h0M397 1259h0M410 1397h0M429 1575h0M396 1378h0M405 1353h0M401 1338h0M405 1447h0M420 1151h0M392 1402h0M409 1378h0M417 1338h0M403 1358h0M418 1417h0M416 1234h0M419 1486h0M428 1338h0M419 1402h0M393 1437h0M414 1383h0M392 1392h0M415 1392h0M410 1348h0M419 1476h0M413 1462h0M412 1304h0M410 1462h0M432 1491h0M410 1047h0M408 1417h0M409 1397h0M397 1299h0M404 1294h0M428 1531h0M417 1318h0M421 1412h0M398 1442h0M411 1299h0M411 1506h0M404 1383h0M414 1397h0M431 1550h0M417 1397h0M407 1373h0M433 1501h0M422 1506h0M412 1358h0M418 1521h0M408 1397h0M418 1531h0M420 1471h0M422 1378h0M402 1427h0M413 1333h0M433 1531h0M416 1412h0M429 1471h0M416 1417h0M428 1373h0M410 1540h0M396 1526h0M413 1570h0M430 1323h0M398 1550h0M394 1338h0M407 1284h0M402 1516h0M430 1309h0M415 1496h0M420 1392h0M414 1476h0M394 1462h0M399 1363h0M405 1427h0M411 1348h0M432 1368h0M432 1299h0M417 1338h0M396 1348h0M419 1486h0M424 1333h0M430 1531h0M412 1501h0M425 1215h0M413 1254h0M399 1348h0M421 1531h0M405 1462h0M413 1373h0M402 1412h0M418 1397h0M424 1392h0M408 1254h0M414 1180h0M396 1397h0M434 1378h0M392 1397h0M393 1294h0M425 1392h0M412 1511h0"/><path d="M417 1392h0M417 1471h0M404 1373h0M407 1387h0M419 1313h0M420 1412h0M392 1412h0M400 1545h0M401 1313h0M427 1466h0M403 1412h0M394 1526h0M428 1496h0M415 1427h0M427 1432h0M394 1309h0M399 1378h0M430 1536h0M408 1481h0M403 1417h0M416 1348h0M426 1442h0M428 1284h0M433 1378h0M403 1333h0M422 1294h0M423 1348h0M396 1363h0M410 1437h0M423 1526h0M429 1516h0M394 1264h0M422 1412h0M418 1457h0M411 1466h0M417 1264h0M412 1501h0M424 1225h0M420 1491h0M429 1220h0M394 1422h0M408 1496h0M392 1309h0M406 1462h0M423 1378h0M422 1323h0M411 1348h0M408 1437h0M428 1526h0M400 1333h0M412 1417h0M417 1185h0M394 1422h0M404 1491h0M414 1313h0M405 1230h0M422 1279h0M399 1304h0M424 1392h0M433 1338h0M411 1447h0M393 1358h0M422 1230h0M430 1348h0M430 1383h0M416 1210h0M395 1348h0M433 1402h0M425 1363h0M411 1402h0M413 1536h0M434 1402h0M423 1526h0M397 1491h0M395 1501h0M427 1358h0M393 1353h0M403 1402h0M399 1353h0M410 1437h0M426 1565h0M401 1328h0M424 1378h0M405 1545h0M403 1447h0M402 1373h0M394 1383h0M416 1387h0M424 1363h0M433 1442h0M412 1328h0M406 1471h0M429 1284h0M396 1323h0M414 1368h0M400 1457h0M403 1358h0M408 1476h0M406 1412h0M426 1230h0M424 1387h0M421 1378h0M407 1501h0M392 1289h0M398 1516h0M406 1442h0M430 1462h0M430 1506h0M418 1496h0M432 1254h0M416 1575h0M433 1417h0M429 1392h0"/><path d="M411 1437h0M412 1318h0M433 1437h0M408 1506h0M396 1466h0M427 1486h0M415 1378h0M396 1437h0M426 1392h0M411 1254h0M408 1432h0M393 1481h0M434 1368h0M420 1452h0M419 1536h0M405 1481h0M430 1427h0M400 1373h0M410 1358h0M415 1422h0M412 1417h0M408 1407h0M403 1432h0M403 1397h0M409 1289h0M403 1333h0M426 1363h0M398 1323h0M420 1387h0M427 1496h0M414 1427h0M434 1550h0M410 1457h0M407 1447h0M397 1417h0M429 1452h0M406 1353h0M405 1264h0M408 1452h0M408 1343h0M409 1466h0M417 1249h0M416 1215h0M425 1447h0M404 1387h0M416 1264h0M433 1318h0M434 1565h0M404 1392h0M429 1353h0M434 1383h0M399 1269h0M405 1466h0M431 1284h0M401 1471h0M426 1466h0M400 1457h0M433 1402h0M431 1348h0M411 1447h0M393 1427h0M430 1402h0M402 1466h0M401 1363h0M400 1131h0M410 1343h0M422 1402h0M408 1358h0M418 1432h0M434 1338h0M417 1496h0M413 1432h0M418 1318h0M418 1175h0M431 1442h0M399 1471h0M416 1373h0M428 1358h0M408 1338h0M430 1496h0M428 1151h0M399 1304h0M424 1353h0M420 1387h0M426 1432h0M422 1392h0M416 1279h0M418 1452h0M420 1442h0M413 1318h0M400 1387h0M409 1432h0M398 1249h0M400 1378h0M408 1466h0M421 1363h0M405 1309h0M394 1437h0M404 1348h0M427 1239h0M412 1313h0M412 1437h0M394 1506h0M408 1496h0M426 1363h0M408 1481h0M393 1466h0M413 1387h0M416 1452h0M407 1368h0M414 1358h0M433 1506h0M431 1378h0"/><path d="M425 1471h0M401 1368h0M421 1471h0M410 1447h0M431 1230h0M402 1304h0M404 1343h0M395 1294h0M423 1452h0M396 1254h0M395 1368h0M417 1392h0M401 1422h0M401 1368h0M417 1313h0M416 1397h0M395 1407h0M409 1353h0M406 1318h0M420 1496h0M417 1378h0M420 1452h0M404 1328h0M406 1333h0M413 1363h0M415 1254h0M421 1422h0M420 1343h0M410 1373h0M432 1516h0M418 1506h0M405 1392h0M398 1383h0M417 1452h0M411 1407h0M415 1466h0M420 1402h0M426 1462h0M416 1249h0M402 1422h0M408 1540h0M398 1323h0M399 1180h0M418 1392h0M433 1457h0M393 1225h0M396 1565h0M412 1407h0M395 1254h0M419 1373h0M431 1259h0M421 1545h0M396 1442h0M419 1338h0M426 1392h0M418 1432h0M395 1318h0M428 1521h0M421 1323h0M400 1378h0M412 1427h0M433 1452h0M427 1318h0M399 1348h0M423 1402h0M406 1432h0M414 1338h0M425 1383h0M407 1358h0M397 1407h0M408 1481h0M425 1244h0M393 1338h0M404 1254h0M405 1466h0M406 1289h0M420 1165h0M423 1392h0M423 1274h0M398 1378h0M402 1392h0M418 1501h0M401 1343h0M400 1353h0M392 1279h0M414 1407h0M412 1457h0M393 1392h0M401 1402h0M427 1407h0M397 1412h0M402 1328h0M409 1333h0M411 1373h0M420 1427h0M427 1338h0M433 1402h0M420 1407h0M401 1343h0M424 1457h0M414 1496h0M433 1536h0M421 1338h0M397 1289h0M409 1343h0M392 1392h0M433 1378h0M410 1392h0M397 1338h0M402 1279h0M431 1452h0M421 1378h0M418 1259h0"/><path d="M424 1378h0M429 1531h0M402 1452h0M427 1348h0M404 1565h0M398 1387h0M398 1338h0M418 1457h0M419 1402h0M407 1323h0M433 1383h0M398 1476h0M409 1318h0M411 1373h0M429 1348h0M395 1422h0M427 1402h0M415 1462h0M418 1457h0M428 1141h0M394 1264h0M417 1353h0M405 1496h0M392 1462h0M408 1353h0M426 1328h0M402 1299h0M432 1511h0M414 1363h0M431 1427h0M410 1417h0M418 1397h0M425 1215h0M394 1452h0M432 1486h0M416 1383h0M411 1101h0M401 1437h0M421 1452h0M431 1234h0M409 1323h0M393 1462h0M428 1378h0M397 1323h0M409 1442h0M403 1323h0M406 1521h0M417 1407h0M434 1348h0M409 1457h0M405 1392h0M430 1353h0M407 1437h0M434 1437h0M405 1506h0M411 1432h0M407 1511h0M423 1368h0M416 1269h0M425 1417h0M434 1378h0M413 1387h0M416 1501h0M417 1427h0M410 1141h0M417 1333h0M417 1309h0M432 1348h0M408 1491h0M416 1294h0M393 1368h0M424 1353h0M421 1318h0M428 1299h0M408 1368h0M392 1269h0M425 1555h0M423 1333h0M396 1496h0M409 1422h0M426 1151h0M431 1323h0M434 1338h0M414 1264h0M432 1402h0M397 1565h0M401 1397h0M430 1457h0M404 1397h0M419 1397h0M414 1274h0M414 1447h0M403 1481h0M424 1521h0M422 1407h0M403 1481h0M432 1200h0M418 1417h0M431 1383h0M396 1521h0M419 1457h0M411 1466h0M419 1333h0M430 1392h0M432 1491h0M429 1536h0M417 1476h0M408 1392h0M411 1338h0M413 1338h0M431 1299h0M392 1466h0M414 1407h0"/></g>
<path d="M198 1146.1V1328.3M198 1451.7V1579" stroke="#474747" stroke-width="2"/>
<rect x="165" y="1328" width="66" height="124" fill="#fff" fill-opacity="0.17" stroke="#444" stroke-width="2"/>
<path d="M165 1392.4H231" stroke="#4d4d4d" stroke-width="3.6"/>
<path d="M413 1175.7V1343.2M413 1456.6V1579" stroke="#474747" stroke-width="2"/>
<rect x="380" y="1343" width="66" height="114" fill="#fff" fill-opacity="0.17" stroke="#444" stroke-width="2"/>
<path d="M380 1396.9H446" stroke="#4d4d4d" stroke-width="3.6"/>
<path d="M198.2 982.8C198.4 1003.1 199.2 1077.8 199.7 1104.5C200.2 1131.2 200.3 1130.3 201 1143.2C201.7 1156.1 202.9 1168.9 204.1 1181.8C205.3 1194.7 207.1 1210.8 208.3 1220.4C209.5 1230.1 210.2 1233.2 211.2 1239.7C212.2 1246.2 212.7 1252.8 214.2 1259.5C215.7 1266.2 217.6 1273.2 220.2 1279.9C222.8 1286.6 226.7 1293.2 229.6 1299.8C232.5 1306.4 235.6 1313.1 237.6 1319.7C239.6 1326.3 240.4 1333 241.5 1339.6C242.6 1346.2 243.3 1352.8 244.2 1359.5C245 1366.2 246 1372.8 246.6 1379.5C247.2 1386.2 247.9 1392.8 248 1399.4C248.1 1406 247.7 1412.7 247.2 1419.3C246.7 1425.9 246.1 1432.6 245 1439.2C243.9 1445.8 242.2 1452.5 240.5 1459.1C238.8 1465.7 236.8 1472.4 234.6 1479C232.4 1485.6 230.1 1492.3 227.6 1498.9C225.1 1505.5 222.1 1512.2 219.6 1518.8C217.1 1525.4 214.9 1532.1 212.7 1538.7C210.5 1545.3 207.9 1552.6 206.2 1558.6C204.4 1564.6 203.1 1571.1 202.2 1574.6C201.3 1578.1 200.9 1578.7 200.7 1579.5L195.7 1579.5C195.4 1578.7 195.1 1578.1 194.2 1574.6C193.3 1571.1 191.9 1564.6 190.2 1558.6C188.4 1552.6 185.9 1545.3 183.7 1538.7C181.5 1532.1 179.3 1525.4 176.8 1518.8C174.3 1512.2 171.3 1505.5 168.8 1498.9C166.3 1492.3 163.9 1485.6 161.8 1479C159.6 1472.4 157.6 1465.7 155.9 1459.1C154.2 1452.5 152.5 1445.8 151.4 1439.2C150.3 1432.6 149.7 1425.9 149.2 1419.3C148.7 1412.7 148.3 1406 148.4 1399.4C148.5 1392.8 149.2 1386.2 149.8 1379.5C150.4 1372.8 151.3 1366.2 152.2 1359.5C153 1352.8 153.8 1346.2 154.9 1339.6C156 1333 156.8 1326.3 158.8 1319.7C160.8 1313.1 163.9 1306.4 166.8 1299.8C169.7 1293.2 173.6 1286.6 176.2 1279.9C178.8 1273.2 180.7 1266.2 182.2 1259.5C183.7 1252.8 184.2 1246.2 185.2 1239.7C186.2 1233.2 186.9 1230.1 188.1 1220.4C189.3 1210.8 191.1 1194.7 192.3 1181.8C193.5 1168.9 194.7 1156.1 195.4 1143.2C196.1 1130.3 196.2 1131.2 196.7 1104.5C197.2 1077.8 197.9 1003.1 198.2 982.8Z" fill="#fff" fill-opacity="0.15" stroke="#1a1a1a" stroke-width="2.1" stroke-linejoin="round"/>
<path d="M413.1 973.2C413.4 995.1 414.2 1076.2 414.6 1104.6C415 1132.9 414.8 1130.4 415.3 1143.3C415.8 1156.2 416.6 1169 417.6 1181.9C418.6 1194.8 420.2 1210.9 421.3 1220.6C422.4 1230.3 423.2 1233.4 424.2 1239.9C425.2 1246.4 426.1 1252.9 427.5 1259.6C428.9 1266.3 430.6 1273.2 432.5 1279.9C434.4 1286.6 436.2 1293.2 438.8 1299.8C441.4 1306.4 444.9 1313.1 448 1319.7C451.1 1326.3 454.8 1333 457.4 1339.6C460 1346.2 462.1 1352.9 463.6 1359.5C465.1 1366.1 465.9 1372.8 466.5 1379.4C467.1 1386 467.1 1392.7 466.9 1399.3C466.7 1405.9 466 1412.6 465.4 1419.2C464.8 1425.8 464.1 1432.5 463.1 1439.1C462.1 1445.7 461.3 1452.4 459.4 1459C457.5 1465.6 454.9 1472.3 451.9 1478.9C448.9 1485.5 444.5 1492.2 441.5 1498.8C438.5 1505.4 436.4 1512.1 434 1518.7C431.6 1525.3 429.3 1532 427.1 1538.6C424.9 1545.2 422.4 1551.9 420.6 1558.5C418.8 1565.1 416.9 1574.9 416.1 1578.4C415.4 1581.9 416.1 1579.2 416.1 1579.4L410.1 1579.4C410.1 1579.2 410.9 1581.9 410.1 1578.4C409.4 1574.9 407.4 1565.1 405.6 1558.5C403.8 1551.9 401.3 1545.2 399.1 1538.6C396.9 1532 394.6 1525.3 392.2 1518.7C389.8 1512.1 387.7 1505.4 384.7 1498.8C381.7 1492.2 377.3 1485.5 374.3 1478.9C371.3 1472.3 368.7 1465.6 366.8 1459C364.9 1452.4 364.1 1445.7 363.1 1439.1C362.1 1432.5 361.4 1425.8 360.8 1419.2C360.2 1412.6 359.5 1405.9 359.3 1399.3C359.1 1392.7 359.2 1386 359.7 1379.4C360.3 1372.8 361.1 1366.1 362.6 1359.5C364.1 1352.9 366.2 1346.2 368.8 1339.6C371.4 1333 375.1 1326.3 378.2 1319.7C381.3 1313.1 384.8 1306.4 387.4 1299.8C390 1293.2 391.8 1286.6 393.7 1279.9C395.6 1273.2 397.3 1266.3 398.7 1259.6C400.1 1252.9 401 1246.4 402 1239.9C403 1233.4 403.8 1230.3 404.9 1220.6C406 1210.9 407.6 1194.8 408.6 1181.9C409.6 1169 410.4 1156.2 410.9 1143.3C411.4 1130.4 411.2 1132.9 411.6 1104.6C412 1076.2 412.9 995.1 413.1 973.2Z" fill="#fff" fill-opacity="0.15" stroke="#1a1a1a" stroke-width="2.1" stroke-linejoin="round"/>
<circle cx="198.2" cy="1385.4" r="11.5" fill="#8b0000"/>
<path d="M203.7 1385.4H210.7" stroke="#000" stroke-width="2" stroke-linecap="round"/>
<circle cx="413.1" cy="1393.8" r="11.5" fill="#8b0000"/>
<path d="M414.1 1393.8H418.1" stroke="#000" stroke-width="1.6"/>
<g font-family="'Liberation Sans', Arial, Helvetica, sans-serif" fill="#000">
<rect x="219.8" y="1369.7" width="131" height="31.2" rx="3.8" fill="#fff" stroke="#1f1f1f" stroke-width="1.4"/><text x="225.8" y="1390.8" font-size="17.3">μ</text><text x="223.82" y="1388.05" font-family="'DejaVu Sans', sans-serif" font-size="17.5">^</text><text x="235.9" y="1394" font-size="11.7">mean</text><text transform="translate(273.85 1390.8) scale(1.08 1)" x="-5.05" font-size="17.3">=</text><text x="282" y="1390.8" font-size="17.3">129.435</text>
<rect x="404.6" y="1378.1" width="131" height="31.2" rx="3.8" fill="#fff" stroke="#1f1f1f" stroke-width="1.4"/><text x="410.6" y="1399.2" font-size="17.3">μ</text><text x="408.62" y="1396.45" font-family="'DejaVu Sans', sans-serif" font-size="17.5">^</text><text x="420.7" y="1402.4" font-size="11.7">mean</text><text transform="translate(458.65 1399.2) scale(1.08 1)" x="-5.05" font-size="17.3">=</text><text x="466.8" y="1399.2" font-size="17.3">127.740</text>
</g>
<rect x="71" y="944" width="469" height="665" fill="none" stroke="#000" stroke-width="2"/>
<path d="M65.4 1580.1H70.6M65.4 1432H70.6M65.4 1284H70.6M65.4 1136H70.6M65.4 987.9H70.6M198.2 1608.7V1613.9M413.1 1608.7V1613.9" stroke="#333" stroke-width="1.7"/>
<g font-family="'Liberation Sans', Arial, Helvetica, sans-serif" font-size="15.1" fill="#333" text-anchor="end">
<text x="60.8" y="1585.4">90</text>
<text x="60.8" y="1437.35">120</text>
<text x="60.8" y="1289.3">150</text>
<text x="60.8" y="1141.25">180</text>
<text x="60.8" y="993.2">210</text>
</g>
<g font-family="'Liberation Sans', Arial, Helvetica, sans-serif" font-size="15.1" fill="#333" text-anchor="middle">
<text x="198.2" y="1629.5">Persistent infection</text>
<text x="198.2" y="1645.1">(n = 1,280)</text>
<text x="413.1" y="1629.5">Persistent negative</text>
<text x="413.1" y="1645.1">(n = 2,719)</text>
</g>
<text x="305.55" y="1667.4" font-family="'Liberation Sans', Arial, Helvetica, sans-serif" font-size="19.1" font-weight="bold" text-anchor="middle">H.pylori</text>
<text transform="translate(26.4 1276.45) rotate(-90)" font-family="'Liberation Sans', Arial, Helvetica, sans-serif" font-size="19.1" font-weight="bold" text-anchor="middle">SBP</text>
<g font-family="'Liberation Sans', Arial, Helvetica, sans-serif" fill="#000"><text x="69" y="922.4" font-size="19.3" font-style="italic">t</text><text x="76.1" y="926.3" font-size="13.25">Student</text><text x="122" y="922.4" font-size="19.3">(3997)</text><text transform="translate(186.43 922.4) scale(1.15 1)" x="-5.64" font-size="19.3">=</text><text x="196.36" y="922.4" font-size="19.3">2.860,</text><text x="253.72" y="922.4" font-size="19.3" font-style="italic">p</text><text transform="translate(274.89 922.4) scale(1.15 1)" x="-5.64" font-size="19.3">=</text><text x="284.83" y="922.4" font-size="19.3">0.004</text></g>
<text transform="translate(4.51 871.4) scale(0.86 1)" font-family="'Liberation Sans', Arial, Helvetica, sans-serif" font-size="43" font-weight="bold">D</text>
<path d="M764.8 1460.5H1241.7M764.8 1296.2H1241.7M764.8 1132H1241.7M764.8 967.6H1241.7" stroke="#efefef" stroke-width="2" fill="none"/>
<path d="M764.8 1542.7H1241.7M764.8 1378.4H1241.7M764.8 1214.1H1241.7M764.8 1049.8H1241.7M893.7 945V1607.7M1112.4 945V1607.7" stroke="#e3e3e3" stroke-width="1.6" fill="none"/>
<g stroke="#1b9e77" stroke-opacity="0.45" stroke-width="11.6" stroke-linecap="round" fill="none"><path d="M876 1562h0M902 1540h0M904 1471h0M909 1546h0M892 1556h0M895 1527h0M873 1563h0M886 1556h0M899 1557h0M883 1536h0M879 1491h0M895 1562h0M897 1495h0M902 1544h0M886 1489h0M889 1538h0M883 1553h0M889 1545h0M900 1487h0M900 1535h0M909 1521h0M915 1533h0M883 1530h0M886 1568h0M884 1563h0M883 1547h0M880 1530h0M887 1537h0M882 1512h0M880 1552h0M901 1477h0M891 1546h0M878 1545h0M905 1553h0M885 1540h0M879 1479h0M906 1508h0M883 1532h0M910 1441h0M877 1536h0M906 1556h0M888 1538h0M874 1558h0M891 1564h0M900 1531h0M893 1510h0M890 1558h0M888 1435h0M886 1553h0M910 1524h0M908 1555h0M914 1532h0M898 1476h0M905 1412h0"/><path d="M912 1545h0M879 1545h0M880 1534h0M873 1528h0M897 1536h0M877 1563h0M905 1505h0M902 1541h0M874 1487h0M879 1552h0M889 1544h0M880 1372h0M882 1542h0M881 1514h0M898 1547h0M896 1556h0M904 1525h0M902 1563h0M876 1539h0M880 1567h0M885 1570h0M897 1561h0M884 1545h0M880 1559h0M873 1513h0M902 1542h0M900 1541h0M895 1564h0M889 1511h0M886 1562h0M904 1470h0M890 1531h0M910 1320h0M876 1551h0M875 1430h0M891 1506h0M912 1533h0M893 1564h0M885 1554h0M894 1484h0M894 1408h0M877 1557h0M906 1560h0M900 1553h0M893 1544h0M910 1390h0M891 1528h0M904 1462h0M891 1535h0M886 1529h0M891 1547h0M910 1503h0M907 1526h0M887 1538h0"/><path d="M902 1522h0M898 1476h0M909 1502h0M874 1516h0M887 1539h0M894 1528h0M892 1539h0M889 1211h0M911 1475h0M881 1539h0M908 1487h0M903 1511h0M895 1514h0M908 1545h0M904 1347h0M892 1513h0M910 1561h0M890 1561h0M897 1522h0M878 1482h0M914 1489h0M914 1539h0M898 1560h0M907 1540h0M912 1514h0M904 1498h0M909 1553h0M880 1531h0M896 1578h0M894 1573h0M887 1459h0M873 1457h0M914 1543h0M902 1554h0M880 1464h0M888 1501h0M902 1561h0M912 1567h0M895 1545h0M892 1197h0M873 1570h0M896 1527h0M896 1537h0M896 1414h0M880 1530h0M902 1535h0M879 1574h0M880 1431h0M895 1487h0M879 1541h0M874 1525h0M901 1462h0M900 1534h0M905 1538h0"/><path d="M902 1339h0M911 1513h0M877 1541h0M913 1487h0M882 1518h0M898 1523h0M882 1540h0M878 1532h0M893 1516h0M885 1533h0M885 1557h0M909 1537h0M898 1500h0M878 1548h0M880 1528h0M873 1441h0M915 1510h0M896 1537h0M911 1556h0M913 1556h0M873 1536h0M881 1483h0M910 1556h0M882 1518h0M888 1469h0M872 1555h0M891 1552h0M899 1502h0M890 1507h0M894 1530h0M880 1566h0M889 1544h0M877 1548h0M880 1542h0M886 1543h0M901 1510h0M906 1511h0M875 1542h0M906 1544h0M911 1487h0M903 1498h0M908 1546h0M874 1546h0M897 1565h0M884 1502h0M898 1562h0M912 1540h0M905 1526h0M888 1541h0M888 1518h0M912 1518h0M914 1539h0M877 1526h0M892 1514h0"/><path d="M889 1546h0M890 1566h0M882 1547h0M903 1545h0M910 1543h0M905 1539h0M911 1529h0M914 1532h0M889 1527h0M898 1375h0M912 1532h0M915 1529h0M897 1502h0M900 1507h0M914 1548h0M905 1533h0M884 1506h0M902 1529h0M893 1550h0M878 1535h0M905 1507h0M883 1559h0M898 1490h0M908 1565h0M891 1550h0M880 1537h0M873 1520h0M910 1543h0M890 1508h0M912 1508h0M896 1546h0M880 1480h0M887 1535h0M901 1554h0M877 1533h0M898 1532h0M898 1516h0M882 1549h0M896 1516h0M891 1487h0M909 1549h0M874 1525h0M894 1528h0M885 1537h0M878 1549h0M904 1480h0M899 1481h0M877 1564h0M884 1560h0M913 1529h0M899 1563h0M879 1324h0M902 1526h0M873 1512h0"/><path d="M878 1467h0M904 1547h0M878 1313h0M901 1474h0M890 1472h0M900 1536h0M875 1249h0M913 1514h0M900 1537h0M897 1552h0M876 1525h0M887 1537h0M914 1539h0M908 1543h0M895 1536h0M893 1553h0M896 1421h0M873 1549h0M908 1545h0M873 1539h0M873 1541h0M902 1540h0M904 1523h0M903 1526h0M880 1466h0M902 1528h0M891 1471h0M874 1536h0M885 1527h0M898 1555h0M910 1500h0M877 1559h0M912 1533h0M883 1563h0M889 1527h0M897 1526h0M876 1564h0M911 1563h0M885 1577h0M890 1483h0M876 1554h0M894 1483h0M899 1513h0M904 1441h0M897 1537h0M907 1528h0M911 1544h0M901 1557h0M876 1467h0M903 1494h0M904 1351h0M891 1449h0M874 1545h0M883 1475h0"/><path d="M885 1535h0M913 1557h0M874 1557h0M904 1502h0M881 1520h0M873 1553h0M880 1489h0M898 1552h0M899 1495h0M875 1500h0M910 1436h0M913 1466h0M881 1499h0M912 1492h0M897 1535h0M895 1531h0M892 1534h0M903 1510h0M899 1567h0M899 1547h0M888 1543h0M904 1529h0M890 1555h0M889 1519h0M907 1571h0M903 1517h0M882 1482h0M889 1539h0M898 1508h0M886 1507h0M878 1538h0M893 1549h0M912 1566h0M885 1549h0M899 1159h0M885 1517h0M911 1481h0M911 1536h0M898 1508h0M891 1542h0M889 1462h0M878 1526h0M890 1543h0M883 1546h0M906 1567h0M884 1550h0M912 1566h0M879 1510h0M876 1533h0M883 1543h0M886 1186h0M909 1549h0M898 1522h0M875 1520h0"/><path d="M878 1561h0M906 1508h0M892 1523h0M899 1518h0M902 1525h0M885 1506h0M904 1529h0M898 1519h0M908 1514h0M877 1468h0M904 1555h0M913 1565h0M905 1526h0M909 1537h0M890 1510h0M883 1490h0M899 1543h0M909 1533h0M905 1541h0M874 1548h0M905 1494h0M876 1470h0M911 1551h0M892 1503h0M905 1447h0M883 1504h0M876 1522h0M877 1565h0M888 1548h0M877 1533h0M879 1529h0M892 1548h0M910 1534h0M891 1520h0M880 1409h0M873 1386h0M894 1507h0M890 1538h0M902 1547h0M887 1530h0M896 1528h0M913 1481h0M905 1557h0M893 1546h0M892 1443h0M881 1513h0M904 1528h0M889 1384h0M906 1399h0M905 1567h0M911 1528h0M911 1488h0M904 1536h0M898 1476h0"/><path d="M896 1513h0M894 1444h0M905 1519h0M905 1566h0M903 1559h0M876 1536h0M882 1508h0M891 1541h0M892 1529h0M878 1530h0M900 1546h0M884 1524h0M892 1539h0M900 1531h0M895 1547h0M875 1568h0M884 1563h0M881 1546h0M914 1530h0M893 1510h0M875 1472h0M883 1385h0M882 1547h0M894 1570h0M878 1551h0M906 1553h0M895 1292h0M915 1512h0M902 1524h0M892 1559h0M896 1526h0M882 1544h0M884 1555h0M881 1450h0M872 1543h0M876 1529h0M882 1516h0M873 1480h0M913 1556h0M892 1530h0M909 1440h0M905 1253h0M911 1504h0M887 1471h0M882 1492h0M908 1539h0M909 1515h0M897 1535h0M891 1534h0M894 1102h0M873 1545h0M909 1543h0M894 1456h0"/><path d="M879 1277h0M888 1468h0M873 1543h0M904 1566h0M902 1565h0M900 1569h0M876 1559h0M909 1499h0M876 1481h0M893 1485h0M875 1527h0M895 1541h0M914 1533h0M895 1533h0M886 1428h0M894 1510h0M901 1551h0M890 1522h0M890 1551h0M888 1499h0M915 1477h0M908 1562h0M907 1554h0M901 1514h0M904 1226h0M906 1541h0M890 1535h0M906 1567h0M912 1536h0M889 1508h0M888 1529h0M883 1560h0M914 1533h0M915 1493h0M902 1514h0M912 1513h0M892 1540h0M894 1552h0M875 1538h0M886 1495h0M897 1567h0M899 1534h0M880 1544h0M872 1458h0M901 1450h0M891 1561h0M899 1557h0M875 1547h0M892 1505h0M914 1534h0M892 1556h0M880 1552h0M910 1559h0"/><path d="M906 1533h0M896 1565h0M903 1546h0M882 1553h0M913 1440h0M897 1525h0M883 1355h0M909 1550h0M909 1521h0M900 1553h0M897 1530h0M878 1345h0M908 1535h0M906 1533h0M911 1529h0M873 1543h0M884 1529h0M899 1555h0M896 1560h0M900 1539h0M873 1536h0M880 1542h0M875 1558h0M909 1546h0M883 1553h0M907 1517h0M878 1556h0M908 1542h0M879 1565h0M898 1515h0M881 1445h0M913 1535h0M888 1535h0M886 1543h0M896 1517h0M907 1549h0M895 1555h0M912 1494h0M900 1573h0M913 1537h0M900 1535h0M910 1543h0M879 1468h0M899 1569h0M880 1522h0M903 1544h0M874 1548h0M892 1528h0M887 1560h0M877 1495h0M874 1546h0M901 1527h0M880 1561h0"/><path d="M909 1521h0M895 1498h0M873 1525h0M901 1571h0M910 1571h0M914 1537h0M898 1549h0M878 1521h0M875 1506h0M884 1555h0M883 1544h0M876 1530h0M894 1555h0M906 1537h0M888 1532h0M912 1557h0M882 1547h0M900 1564h0M899 1520h0M875 1554h0M910 1525h0M881 1547h0M887 1548h0M906 1558h0M877 1542h0M907 1541h0M890 1534h0M873 1536h0M901 1521h0M876 1456h0M875 1539h0M905 1548h0M887 1548h0M895 1540h0M914 1559h0M880 1532h0M883 1543h0M882 1568h0M911 1548h0M915 1438h0M873 1526h0M904 1534h0M897 1464h0M882 1511h0M882 1548h0M893 1567h0M913 1522h0M895 1505h0M900 1486h0M885 1558h0M904 1559h0M878 1569h0M911 1515h0"/><path d="M873 1534h0M910 1551h0M878 1472h0M905 1528h0M878 1570h0M895 1556h0M885 1533h0M875 1538h0M899 1526h0M894 1578h0M892 1539h0M893 1557h0M910 1574h0M896 1558h0M907 1481h0M903 1544h0M908 1519h0M880 1480h0M894 1526h0M910 1573h0M907 1540h0M875 1523h0M885 1526h0M877 1479h0M913 1467h0M884 1536h0M898 1544h0M882 1501h0M910 1534h0M890 1521h0M884 1540h0M883 1518h0M898 1553h0M904 1421h0M895 1457h0M892 1549h0M899 1533h0M907 1491h0M878 1509h0M910 1553h0M874 1548h0M893 1536h0M910 1530h0M897 1527h0M901 1554h0M878 1561h0M884 1525h0M892 1550h0M898 1523h0M898 1518h0M874 1549h0M894 1521h0M902 1539h0"/><path d="M902 1532h0M894 1537h0M884 1486h0M891 1543h0M906 1339h0M898 1559h0M899 1560h0M900 1536h0M898 1570h0M897 1552h0M881 1429h0M911 1548h0M880 1535h0M884 1539h0M881 1555h0M890 1548h0M911 1544h0M881 1566h0M914 1448h0M873 1538h0M879 1482h0M882 1491h0M913 1511h0M899 1552h0M875 1539h0M877 1555h0M895 1551h0M879 1538h0M909 1561h0M912 1523h0M904 1525h0M886 1561h0M888 1546h0M914 1435h0M873 1536h0M899 1540h0M908 1541h0M905 1564h0M910 1535h0M905 1495h0M905 1551h0M874 1535h0M905 1515h0M879 1511h0M881 1361h0M904 1536h0M881 1561h0M878 1535h0M914 1551h0M882 1513h0M878 1501h0M901 1504h0M874 1554h0"/><path d="M903 1541h0M885 1526h0M910 1511h0M897 1560h0M912 1544h0M906 1522h0M904 1512h0M897 1471h0M909 1567h0M908 1553h0M901 1536h0M908 1443h0M897 1549h0M899 1465h0M876 1515h0M903 1533h0M913 1532h0M887 1537h0M902 1552h0M911 1572h0M893 1546h0M885 1561h0M909 1544h0M888 1517h0M896 1553h0M907 1514h0M912 1434h0M873 1548h0M900 1545h0M903 1555h0M877 1334h0M890 1538h0M897 1513h0M877 1562h0M880 1525h0M896 1504h0M874 1335h0M880 1448h0M907 1573h0M888 1531h0M891 1564h0M883 1532h0M886 1534h0M886 1513h0M900 1541h0M883 1546h0M895 1533h0M890 1438h0M898 1538h0M877 1392h0M913 1292h0M873 1512h0M900 1551h0"/><path d="M908 1552h0M893 1512h0M894 1515h0M892 1428h0M874 1437h0M913 1498h0M877 1544h0M901 1478h0M899 1379h0M912 1508h0M875 1524h0M891 1541h0M873 1552h0M885 1549h0M873 1537h0M898 1530h0M873 1549h0M878 1575h0M908 1568h0M911 1459h0M879 1410h0M891 1568h0M900 1557h0M885 1508h0M886 1563h0M887 1540h0M914 1546h0M911 1543h0M914 1527h0M902 1539h0M910 1505h0M906 1547h0M889 1526h0M881 1540h0M882 1568h0M877 1555h0M873 1517h0M904 1554h0M878 1486h0M875 1534h0M887 1510h0M872 1566h0M894 1528h0M893 1463h0M894 1548h0M877 1507h0M893 1574h0M912 1442h0M888 1569h0M874 1547h0M882 1559h0M914 1526h0M913 1550h0"/><path d="M908 1487h0M888 1542h0M881 1529h0M875 1521h0M899 1534h0M898 1542h0M876 1550h0M903 1515h0M883 1506h0M901 1457h0M911 1551h0M878 1492h0M877 1538h0M881 1538h0M905 973h0M899 1551h0M881 1489h0M902 1554h0M874 1527h0M906 1535h0M907 1576h0M899 1552h0M906 1333h0M889 1516h0M913 1288h0M897 1545h0M890 1372h0M911 1509h0M912 1513h0M911 1462h0M900 1214h0M876 1557h0M910 1563h0M874 1500h0M874 1536h0M897 1534h0M902 1577h0M902 1568h0M911 1524h0M880 1485h0M915 1521h0M895 1416h0M874 1519h0M882 1549h0M906 1548h0M888 1550h0M881 1332h0M904 1506h0M873 1569h0M876 1565h0M893 1568h0M886 1473h0M877 1478h0"/><path d="M885 1543h0M883 1530h0M890 1545h0M878 1549h0M912 1486h0M873 1553h0M910 1515h0M892 1566h0M912 1562h0M907 1532h0M881 1509h0M888 1462h0M915 1522h0M892 1482h0M898 1511h0M884 1530h0M874 1536h0M889 1553h0M881 1534h0M903 1529h0M912 1532h0M900 1516h0M901 1533h0M909 1541h0M891 1517h0M910 1539h0M882 1505h0M893 1544h0M886 1535h0M902 1525h0M914 1559h0M887 1564h0M891 1532h0M895 1545h0M874 1552h0M872 1468h0M883 1536h0M888 1526h0M896 1531h0M879 1457h0M903 1542h0M880 1509h0M914 1540h0M889 1435h0M873 1550h0M905 1564h0M899 1551h0M907 1548h0M880 1514h0M901 1557h0M884 1544h0M873 1526h0M877 1491h0"/><path d="M900 1446h0M888 1412h0M891 1529h0M895 1517h0M882 1539h0M891 1530h0M874 1546h0M909 1527h0M893 1545h0M910 1524h0M876 1547h0M894 1547h0M875 1560h0M877 1499h0M912 1516h0M882 1570h0M902 1398h0M883 1558h0M878 1541h0M879 1542h0M913 1557h0M908 1536h0M915 1523h0M904 1530h0M914 1377h0M889 1513h0M879 1543h0M900 1553h0M896 1476h0M879 1458h0M898 1541h0M897 1525h0M896 1501h0M894 1528h0M914 1543h0M896 1513h0M901 1512h0M891 1555h0M895 1561h0M905 1555h0M897 1563h0M908 1425h0M897 1510h0M887 1572h0M878 1551h0M881 1547h0M898 1520h0M892 1547h0M878 1527h0M880 1528h0M906 1512h0M892 1531h0M876 1543h0"/><path d="M880 1494h0M907 1545h0M895 1535h0M896 1513h0M914 1541h0M909 1541h0M896 1567h0M908 1515h0M876 1503h0M911 1562h0M899 1543h0M887 1532h0M906 1552h0M883 1539h0M893 1553h0M907 1495h0M910 1530h0M880 1552h0M914 1545h0M895 1548h0M914 1451h0M888 1537h0M900 1550h0M903 1565h0M908 1424h0M878 1556h0M891 1524h0M902 1543h0M910 1466h0M879 1480h0M907 1560h0M883 1537h0M893 1559h0M893 1343h0M896 1545h0M910 1563h0M880 1504h0M909 1551h0M906 1552h0M900 1559h0M903 1533h0M890 1283h0M887 1492h0M902 1509h0M874 1387h0M878 1516h0M882 1534h0M895 1531h0M900 1542h0M909 1456h0M896 1494h0M880 1551h0M878 1568h0"/><path d="M914 1559h0M908 1555h0M885 1519h0M880 1552h0M903 1509h0M894 1546h0M898 1199h0M873 1530h0M908 1567h0M895 1532h0M882 1559h0M907 1507h0M896 1537h0M883 1521h0M908 1521h0M912 1562h0M887 1477h0M887 1566h0M887 1543h0M882 1559h0M876 1520h0M893 1560h0M886 1526h0M897 1531h0M881 1524h0M904 1550h0M892 1553h0M874 1508h0M880 1567h0M883 1549h0M881 1543h0M895 1560h0M895 1529h0M890 1554h0M881 1570h0M893 1543h0M881 1562h0M914 1560h0M912 1521h0M875 1537h0M873 1545h0M892 1569h0M904 1559h0M889 1546h0M877 1444h0M891 1566h0M890 1498h0M887 1543h0M898 1426h0M890 1542h0M879 1481h0M873 1479h0M897 1527h0"/><path d="M895 1550h0M879 1158h0M893 1543h0M895 1526h0M879 1529h0M894 1553h0M886 1511h0M891 1543h0M884 1531h0M904 1564h0M901 1523h0M886 1249h0M903 1535h0M885 1551h0M890 1525h0M886 1547h0M894 1549h0M902 1548h0M885 1554h0M879 1546h0M910 1480h0M891 1531h0M904 1517h0M907 1525h0M896 1550h0M877 1523h0M899 1218h0M899 1557h0M881 1538h0M891 1559h0M874 1571h0M895 1566h0M894 1571h0M913 1443h0M875 1550h0M895 1516h0M899 1564h0M899 1521h0M903 1538h0M878 1490h0M879 1472h0M902 1540h0M901 1541h0M900 1468h0M896 1480h0M873 1414h0M905 1561h0M896 1508h0M875 1222h0M892 1567h0M911 1490h0M890 1529h0M894 1549h0"/><path d="M898 1552h0M911 1496h0M874 1521h0M901 1562h0M874 1550h0M893 1544h0M883 1523h0M910 1488h0M883 1492h0M882 1540h0M882 1562h0M882 1464h0M894 1511h0M882 1554h0M898 1525h0M914 1542h0M899 1532h0M878 1562h0M881 1519h0M875 1533h0M881 1536h0M891 1530h0M898 1496h0M888 1541h0M885 1519h0M895 1550h0M878 1428h0M884 1566h0M911 1524h0M884 1540h0M896 1559h0M903 1536h0M899 1556h0M903 1544h0M886 1481h0M910 1536h0M896 1576h0M906 1539h0M902 1529h0M891 1514h0M909 1321h0M905 1524h0M890 1536h0M894 1550h0M885 1544h0M881 1461h0M912 1472h0M913 1559h0M913 1528h0M876 1547h0M873 1383h0M879 1572h0M905 1556h0"/><path d="M886 1529h0M902 1164h0M901 1486h0M902 1502h0M910 1549h0M911 1550h0M885 1452h0M883 1531h0M904 1520h0M885 1526h0M911 1514h0M877 1419h0M902 1551h0M905 1532h0M907 1534h0M879 1500h0M902 1542h0M903 1533h0M913 1543h0M898 1534h0M874 1286h0M882 1538h0M884 1386h0M882 1500h0M872 1564h0M885 1519h0M900 1558h0M877 1565h0M875 1556h0M894 1546h0M904 1245h0M899 1533h0M885 1563h0M887 1514h0M899 1533h0M894 1518h0M894 1505h0M904 1529h0M884 1271h0M882 1553h0M899 1515h0M886 1522h0M883 1575h0M904 1567h0M904 1278h0M889 1535h0M914 1530h0M873 1540h0M907 1559h0M880 1318h0M875 1553h0M873 1547h0M911 1548h0"/></g>
<g stroke="#d95f02" stroke-opacity="0.45" stroke-width="11.6" stroke-linecap="round" fill="none"><path d="M1106 1498h0M1093 1534h0M1105 1528h0M1105 1511h0M1134 1501h0M1115 1530h0M1133 1449h0M1106 1533h0M1092 1527h0M1124 1523h0M1122 1539h0M1098 1122h0M1095 1516h0M1099 1510h0M1125 1502h0M1130 1540h0M1094 1537h0M1099 1544h0M1120 1530h0M1114 1541h0M1112 1547h0M1125 1530h0M1113 1555h0M1107 1544h0M1115 1509h0M1122 1542h0M1110 1551h0M1119 1543h0M1116 1526h0M1129 1539h0M1104 1499h0M1095 1534h0M1134 1545h0M1108 1561h0M1132 1542h0M1124 1528h0M1112 1523h0M1104 1527h0M1116 1528h0M1127 1560h0M1100 1533h0M1113 1545h0M1113 1527h0M1112 1544h0M1102 1555h0M1091 1523h0M1094 1544h0M1104 1536h0M1125 1577h0M1123 1503h0M1111 1528h0M1104 1528h0M1133 1533h0M1092 1554h0M1131 1529h0M1121 1517h0M1117 1538h0M1111 1571h0M1099 1531h0M1102 1548h0M1106 1515h0M1119 1520h0M1129 1554h0M1122 1510h0M1122 1563h0M1115 1558h0M1128 1547h0M1102 1541h0M1104 1484h0M1103 1518h0M1124 1531h0M1123 1543h0M1123 1524h0M1119 1547h0M1110 1532h0M1122 1506h0M1119 1526h0M1106 1513h0M1130 1535h0M1122 1519h0M1102 1538h0M1127 1520h0M1091 1554h0M1111 1497h0M1098 1543h0M1129 1547h0M1124 1553h0M1134 1511h0M1093 1561h0M1132 1531h0M1126 1530h0M1094 1527h0M1123 1556h0M1104 1531h0M1094 1538h0M1098 1533h0M1107 1530h0M1132 1494h0M1115 1531h0M1127 1550h0M1107 1534h0M1120 1543h0M1095 1563h0M1118 1558h0M1111 1561h0M1121 1509h0M1094 1439h0M1095 1513h0M1092 1534h0M1104 1509h0M1133 1526h0M1100 1498h0M1103 1530h0M1106 1562h0"/><path d="M1109 1484h0M1124 1507h0M1100 1544h0M1109 1533h0M1134 1534h0M1121 1502h0M1108 1531h0M1130 1564h0M1096 1508h0M1106 1523h0M1126 1500h0M1106 1518h0M1108 1566h0M1116 1524h0M1111 1517h0M1122 1544h0M1094 1525h0M1095 1506h0M1099 1552h0M1110 1543h0M1131 1544h0M1101 1539h0M1102 1467h0M1099 1544h0M1097 1558h0M1120 1509h0M1108 1538h0M1134 1535h0M1107 1502h0M1117 1198h0M1121 1544h0M1132 1544h0M1130 1540h0M1124 1511h0M1100 1523h0M1125 1525h0M1107 1544h0M1097 1555h0M1115 1523h0M1103 1545h0M1129 1526h0M1102 1519h0M1110 1548h0M1105 1461h0M1123 1547h0M1114 1559h0M1103 1522h0M1112 1520h0M1129 1483h0M1096 1534h0M1130 1501h0M1097 1552h0M1116 1552h0M1110 1475h0M1100 1521h0M1096 1537h0M1107 1545h0M1101 1519h0M1110 1524h0M1130 1522h0M1115 1540h0M1103 1522h0M1103 1519h0M1116 1463h0M1094 1512h0M1117 1506h0M1104 1534h0M1131 1453h0M1127 1551h0M1119 1478h0M1121 1547h0M1107 1554h0M1091 1546h0M1120 1537h0M1109 1540h0M1129 1549h0M1109 1541h0M1126 1557h0M1128 1529h0M1098 1566h0M1120 1560h0M1095 1517h0M1106 1549h0M1133 1521h0M1115 1570h0M1109 1533h0M1132 1520h0M1111 1537h0M1103 1520h0M1117 1483h0M1122 1527h0M1125 1565h0M1096 1550h0M1091 1565h0M1093 1566h0M1117 1545h0M1112 1498h0M1114 1572h0M1133 1544h0M1134 1551h0M1111 1518h0M1108 1550h0M1101 1537h0M1109 1521h0M1112 1523h0M1125 1529h0M1091 1540h0M1132 1542h0M1113 1515h0M1114 1552h0M1109 1558h0M1128 1559h0M1131 1561h0M1109 1542h0"/><path d="M1132 1551h0M1094 1532h0M1117 1541h0M1121 1557h0M1131 1533h0M1128 1542h0M1125 1525h0M1128 1546h0M1117 1542h0M1092 1546h0M1132 1464h0M1133 1525h0M1093 1533h0M1101 1542h0M1124 1534h0M1109 1560h0M1129 1532h0M1113 1530h0M1127 1559h0M1124 1517h0M1104 1538h0M1114 1530h0M1105 1548h0M1114 1567h0M1117 1545h0M1121 1559h0M1107 1548h0M1123 1532h0M1116 1526h0M1092 1556h0M1127 1538h0M1103 1531h0M1126 1522h0M1108 1513h0M1112 1552h0M1127 1557h0M1130 1543h0M1111 1536h0M1111 1557h0M1110 1544h0M1120 1564h0M1100 1540h0M1118 1487h0M1094 1534h0M1129 1537h0M1111 1535h0M1115 1510h0M1110 1529h0M1116 1560h0M1117 1530h0M1125 1432h0M1130 1521h0M1106 1537h0M1099 1533h0M1127 1533h0M1094 1547h0M1126 1390h0M1102 1517h0M1111 1368h0M1102 1547h0M1132 1546h0M1119 1574h0M1116 1527h0M1093 1493h0M1093 1539h0M1122 1554h0M1105 1556h0M1096 1555h0M1110 1526h0M1094 1534h0M1119 1446h0M1107 1243h0M1126 1571h0M1098 1500h0M1100 1534h0M1133 1527h0M1130 1567h0M1130 1542h0M1119 1545h0M1124 1552h0M1129 1544h0M1105 1510h0M1121 1515h0M1101 1566h0M1117 1480h0M1131 1497h0M1126 1302h0M1133 1513h0M1100 1541h0M1095 1552h0M1130 1485h0M1104 1559h0M1095 1539h0M1102 1537h0M1104 1540h0M1095 1531h0M1133 1551h0M1095 1457h0M1118 1525h0M1112 1513h0M1105 1531h0M1110 1522h0M1102 1522h0M1108 1530h0M1093 1502h0M1109 1568h0M1132 1296h0M1100 1480h0M1107 1547h0M1100 1531h0M1093 1528h0M1103 1543h0M1093 1498h0M1095 1537h0"/><path d="M1102 1542h0M1102 1551h0M1103 1534h0M1116 1512h0M1107 1548h0M1117 1564h0M1111 1555h0M1119 1506h0M1109 1538h0M1097 1542h0M1111 1535h0M1131 1548h0M1130 1538h0M1116 1560h0M1094 1530h0M1121 1506h0M1110 1537h0M1106 1552h0M1123 1559h0M1131 1548h0M1098 1565h0M1112 1501h0M1106 1548h0M1124 1544h0M1092 1474h0M1096 1529h0M1132 1563h0M1100 1548h0M1109 1503h0M1097 1514h0M1106 1517h0M1116 1524h0M1092 1562h0M1119 1559h0M1124 1509h0M1094 1511h0M1113 1573h0M1115 1534h0M1092 1505h0M1124 1497h0M1107 1548h0M1116 1531h0M1094 1557h0M1109 1549h0M1094 1533h0M1095 1525h0M1101 1544h0M1094 1506h0M1093 1515h0M1120 1539h0M1133 1541h0M1120 1550h0M1120 1537h0M1100 1555h0M1114 1555h0M1110 1541h0M1112 1532h0M1129 1558h0M1120 1565h0M1111 1405h0M1120 1534h0M1132 1524h0M1124 1540h0M1119 1522h0M1107 1530h0M1099 1554h0M1118 1558h0M1100 1555h0M1118 1524h0M1111 1518h0M1121 1540h0M1123 1506h0M1096 1538h0M1103 1537h0M1121 1549h0M1130 1531h0M1129 1513h0M1129 1534h0M1096 1492h0M1133 1529h0M1133 1571h0M1106 1514h0M1122 1542h0M1105 1551h0M1095 1548h0M1117 1527h0M1133 1567h0M1095 1539h0M1114 1529h0M1134 1393h0M1127 1528h0M1095 1552h0M1099 1543h0M1109 1516h0M1129 1562h0M1110 1532h0M1096 1528h0M1101 1550h0M1095 1543h0M1129 1515h0M1098 1502h0M1099 1521h0M1132 1491h0M1132 1507h0M1116 1532h0M1123 1519h0M1094 1554h0M1117 1542h0M1124 1508h0M1094 1545h0M1123 1557h0M1119 1535h0M1124 1531h0M1126 1557h0"/><path d="M1128 1542h0M1123 1544h0M1110 1510h0M1117 1534h0M1094 1564h0M1129 1555h0M1105 1547h0M1110 1537h0M1108 1542h0M1093 1563h0M1125 1549h0M1114 1519h0M1101 1510h0M1114 1564h0M1099 1536h0M1097 1542h0M1120 1568h0M1117 1566h0M1133 1547h0M1101 1555h0M1099 1546h0M1093 1556h0M1124 1534h0M1098 1436h0M1110 1548h0M1097 1546h0M1098 1553h0M1111 1537h0M1133 1535h0M1099 1549h0M1104 1556h0M1093 1510h0M1095 1550h0M1097 1516h0M1114 1543h0M1119 1546h0M1127 1496h0M1103 1546h0M1117 1513h0M1092 1536h0M1119 1502h0M1127 1518h0M1117 1523h0M1115 1522h0M1094 1520h0M1115 1509h0M1115 1539h0M1097 1386h0M1111 1517h0M1100 1517h0M1131 1570h0M1117 1558h0M1104 1545h0M1104 1531h0M1111 1521h0M1111 1524h0M1104 1547h0M1100 1548h0M1104 1535h0M1125 1547h0M1119 1555h0M1132 1550h0M1106 1433h0M1109 1547h0M1120 1537h0M1114 1532h0M1103 1553h0M1092 1561h0M1119 1537h0M1113 1569h0M1099 1537h0M1094 1537h0M1105 1459h0M1122 1555h0M1105 1546h0M1097 1538h0M1130 1551h0M1100 1547h0M1097 1532h0M1111 1545h0M1134 1514h0M1106 1549h0M1117 1571h0M1130 1528h0M1103 1332h0M1103 1517h0M1114 1565h0M1122 1572h0M1114 1525h0M1129 1531h0M1095 1533h0M1098 1454h0M1093 1529h0M1098 1541h0M1130 1526h0M1098 1548h0M1092 1488h0M1122 1524h0M1094 1471h0M1091 1571h0M1101 1462h0M1116 1557h0M1102 1527h0M1093 1548h0M1094 1533h0M1096 1544h0M1114 1563h0M1129 1495h0M1104 1550h0M1108 1532h0M1114 1526h0M1119 1561h0M1125 1551h0M1113 1539h0"/><path d="M1101 1562h0M1132 1557h0M1100 1501h0M1093 1553h0M1094 1551h0M1122 1558h0M1101 1534h0M1094 1523h0M1111 1546h0M1105 1536h0M1103 1553h0M1124 1544h0M1096 1536h0M1112 1544h0M1095 1527h0M1111 1508h0M1095 1531h0M1123 1415h0M1118 1555h0M1113 1555h0M1119 1524h0M1125 1553h0M1099 1543h0M1119 1563h0M1112 1535h0M1129 1549h0M1103 1540h0M1105 1536h0M1099 1436h0M1113 1517h0M1109 1506h0M1094 1567h0M1119 1553h0M1103 1539h0M1106 1511h0M1125 1536h0M1092 1535h0M1125 1524h0M1120 1525h0M1111 1532h0M1104 1563h0M1095 1564h0M1106 1552h0M1118 1538h0M1130 1548h0M1093 1502h0M1093 1466h0M1108 1525h0M1119 1491h0M1114 1566h0M1094 1529h0M1123 1524h0M1104 1521h0M1128 1562h0M1094 1535h0M1093 1526h0M1120 1544h0M1106 1549h0M1122 1548h0M1104 1543h0M1101 1458h0M1124 1516h0M1132 1527h0M1104 1537h0M1127 1521h0M1104 1545h0M1117 1553h0M1101 1513h0M1117 1544h0M1121 1543h0M1112 1525h0M1130 1535h0M1099 1522h0M1105 1552h0M1104 1537h0M1118 1528h0M1101 1570h0M1121 1550h0M1091 1553h0M1096 1523h0M1113 1551h0M1100 1517h0M1092 1534h0M1121 1562h0M1125 1482h0M1092 1546h0M1118 1540h0M1103 1462h0M1093 1499h0M1093 1513h0M1116 1554h0M1095 1542h0M1105 1515h0M1131 1532h0M1092 1525h0M1122 1450h0M1093 1520h0M1101 1497h0M1123 1548h0M1130 1533h0M1102 1491h0M1123 1541h0M1104 1509h0M1113 1538h0M1113 1515h0M1095 1548h0M1130 1546h0M1125 1506h0M1116 1556h0M1095 1502h0M1133 1519h0M1108 1547h0M1126 1537h0M1101 1550h0"/><path d="M1110 1544h0M1125 1510h0M1121 1505h0M1118 1536h0M1129 1522h0M1129 1485h0M1102 1547h0M1091 1548h0M1123 1557h0M1106 1510h0M1118 1543h0M1107 1514h0M1111 1532h0M1103 1547h0M1102 1567h0M1099 1543h0M1133 1523h0M1129 1551h0M1103 1560h0M1115 1514h0M1094 1558h0M1116 1527h0M1109 1550h0M1129 1535h0M1108 1529h0M1126 1549h0M1121 1512h0M1130 1572h0M1096 1424h0M1112 1534h0M1112 1555h0M1103 1505h0M1113 1470h0M1125 1533h0M1131 1556h0M1126 1555h0M1127 1562h0M1129 1562h0M1111 1515h0M1121 1545h0M1104 1572h0M1122 1484h0M1132 1538h0M1094 1514h0M1108 1550h0M1120 1533h0M1103 1465h0M1107 1541h0M1114 1534h0M1125 1455h0M1091 1553h0M1118 1536h0M1132 1454h0M1092 1522h0M1122 1527h0M1119 1532h0M1099 1514h0M1127 1495h0M1098 1504h0M1094 1513h0M1110 1569h0M1108 1542h0M1131 1538h0M1130 1559h0M1115 1516h0M1133 1541h0M1092 1543h0M1113 1533h0M1121 1518h0M1125 1514h0M1115 1508h0M1131 1560h0M1093 1521h0M1096 1533h0M1108 1542h0M1124 1551h0M1132 1531h0M1124 1558h0M1128 1543h0M1108 1535h0M1100 1526h0M1114 1520h0M1106 1528h0M1093 1554h0M1129 1546h0M1109 1561h0M1093 1548h0M1123 1500h0M1107 1513h0M1102 1517h0M1094 1569h0M1091 1540h0M1120 1535h0M1093 1539h0M1117 1558h0M1120 1548h0M1125 1545h0M1129 1544h0M1106 1523h0M1132 1532h0M1096 1529h0M1129 1547h0M1096 1506h0M1109 1520h0M1130 1562h0M1124 1481h0M1128 1512h0M1133 1523h0M1123 1249h0M1120 1550h0M1110 1533h0M1091 1552h0M1130 1526h0M1124 1559h0"/><path d="M1107 1535h0M1133 1512h0M1131 1541h0M1133 1540h0M1129 1548h0M1125 1532h0M1096 1540h0M1125 1448h0M1115 1557h0M1118 1573h0M1124 1530h0M1127 1517h0M1101 1466h0M1115 1560h0M1121 1554h0M1112 1562h0M1107 1529h0M1115 1496h0M1100 1507h0M1131 1484h0M1094 1537h0M1126 1498h0M1098 1558h0M1119 1416h0M1116 1507h0M1131 1549h0M1092 1539h0M1119 1549h0M1095 1485h0M1093 1541h0M1114 1449h0M1126 1552h0M1105 1535h0M1111 1543h0M1099 1569h0M1130 1537h0M1096 1289h0M1128 1529h0M1095 1518h0M1092 1540h0M1106 1551h0M1122 1563h0M1119 1519h0M1096 1545h0M1096 1533h0M1094 1513h0M1111 1534h0M1094 1537h0M1119 1537h0M1103 1526h0M1111 1525h0M1122 1551h0M1114 1539h0M1094 1520h0M1105 1508h0M1122 1547h0M1127 1535h0M1098 1537h0M1119 1534h0M1113 1562h0M1102 1544h0M1099 1539h0M1097 1512h0M1094 1512h0M1118 1537h0M1133 1550h0M1097 1509h0M1114 1533h0M1131 1550h0M1103 1528h0M1106 1546h0M1099 1513h0M1132 1464h0M1106 1558h0M1114 1529h0M1102 1519h0M1126 1530h0M1111 1512h0M1132 1526h0M1115 1533h0M1130 1560h0M1126 1525h0M1125 1514h0M1114 1534h0M1116 1508h0M1115 1552h0M1095 1501h0M1102 1552h0M1131 1512h0M1121 1526h0M1099 1564h0M1095 1533h0M1123 1532h0M1129 1526h0M1105 1522h0M1118 1558h0M1105 1526h0M1118 1527h0M1125 1521h0M1119 1555h0M1099 1549h0M1112 1523h0M1119 1544h0M1092 1556h0M1119 1520h0M1098 1551h0M1107 1517h0M1099 1556h0M1103 1499h0M1126 1527h0M1102 1560h0M1104 1561h0M1098 1537h0"/><path d="M1093 1529h0M1097 1545h0M1127 1556h0M1120 1529h0M1101 1516h0M1131 1533h0M1110 1529h0M1102 1555h0M1115 1539h0M1101 1532h0M1108 1319h0M1125 1523h0M1093 1546h0M1101 1524h0M1127 1549h0M1108 1566h0M1128 1540h0M1095 1532h0M1118 1463h0M1109 1525h0M1095 1514h0M1118 1565h0M1118 1547h0M1111 1539h0M1114 1561h0M1096 1491h0M1125 1466h0M1100 1543h0M1101 1534h0M1105 1547h0M1095 1542h0M1124 1546h0M1128 1541h0M1134 1558h0M1117 1559h0M1121 1530h0M1133 1491h0M1115 1467h0M1133 1329h0M1133 1557h0M1115 1523h0M1133 1540h0M1094 1477h0M1100 1523h0M1111 1549h0M1123 1534h0M1115 1541h0M1096 1512h0M1126 1553h0M1132 1551h0M1130 1538h0M1093 1544h0M1100 1464h0M1099 1526h0M1101 1546h0M1125 1518h0M1111 1534h0M1123 1151h0M1132 1468h0M1096 1484h0M1095 1543h0M1096 1528h0M1127 1536h0M1123 1550h0M1103 1523h0M1108 1554h0M1099 1569h0M1103 1546h0M1101 1563h0M1129 1552h0M1104 1514h0M1094 1527h0M1103 1560h0M1124 1556h0M1110 1545h0M1127 1515h0M1109 1542h0M1096 1569h0M1109 1567h0M1131 1503h0M1128 1499h0M1127 1517h0M1129 1548h0M1119 1529h0M1117 1531h0M1094 1532h0M1132 1538h0M1103 1532h0M1111 1525h0M1123 1538h0M1121 1543h0M1119 1552h0M1128 1552h0M1125 1540h0M1110 1411h0M1132 1542h0M1104 1542h0M1130 1556h0M1122 1520h0M1094 1474h0M1109 1532h0M1116 1538h0M1096 1557h0M1114 1521h0M1120 1495h0M1133 1540h0M1119 1544h0M1114 1561h0M1096 1543h0M1095 1532h0M1095 1529h0M1098 1478h0M1126 1576h0"/><path d="M1117 1554h0M1119 1554h0M1109 1547h0M1128 1524h0M1120 1546h0M1109 1516h0M1131 1509h0M1102 1534h0M1126 1489h0M1109 1487h0M1130 1550h0M1127 1535h0M1120 1535h0M1134 1495h0M1095 1518h0M1108 1529h0M1113 1510h0M1097 1564h0M1115 1569h0M1103 1556h0M1109 1545h0M1119 1543h0M1128 1536h0M1093 1516h0M1126 1543h0M1096 1549h0M1102 1536h0M1112 1516h0M1091 1510h0M1125 1514h0M1127 1557h0M1111 1564h0M1128 1561h0M1127 1552h0M1121 1537h0M1133 1546h0M1106 1570h0M1092 1575h0M1115 1530h0M1124 1557h0M1101 1559h0M1119 1539h0M1129 1539h0M1106 1559h0M1105 1555h0M1115 1550h0M1110 1551h0M1106 1543h0M1114 1531h0M1102 1524h0M1102 1524h0M1118 1533h0M1098 1522h0M1114 1546h0M1114 1566h0M1125 1538h0M1106 1512h0M1105 1564h0M1099 1518h0M1111 1523h0M1115 1549h0M1094 1555h0M1131 1516h0M1121 1505h0M1124 1532h0M1134 1528h0M1113 1561h0M1132 1543h0M1091 1528h0M1093 1557h0M1130 1534h0M1107 1233h0M1123 1520h0M1120 1573h0M1093 1518h0M1117 1530h0M1095 1523h0M1103 1568h0M1119 1474h0M1122 1534h0M1129 1551h0M1124 1512h0M1119 1544h0M1107 1550h0M1097 1358h0M1093 1530h0M1121 1549h0M1111 1552h0M1100 1538h0M1130 1498h0M1115 1539h0M1122 1509h0M1095 1540h0M1103 1539h0M1098 1547h0M1106 1512h0M1104 1530h0M1098 1550h0M1120 1552h0M1109 1545h0M1122 1529h0M1101 1509h0M1106 1537h0M1107 1564h0M1102 1533h0M1103 1536h0M1107 1548h0M1098 1488h0M1095 1521h0M1094 1525h0M1121 1525h0M1101 1532h0M1130 1547h0"/><path d="M1097 1467h0M1120 1516h0M1129 1564h0M1096 1527h0M1094 1504h0M1103 1569h0M1093 1548h0M1092 1521h0M1105 1543h0M1129 1565h0M1095 1521h0M1105 1544h0M1092 1547h0M1133 1512h0M1111 1533h0M1114 1551h0M1103 1554h0M1116 1506h0M1117 1545h0M1091 1549h0M1104 1496h0M1110 1528h0M1130 1551h0M1129 1542h0M1120 1507h0M1131 1504h0M1098 1499h0M1114 1556h0M1117 1478h0M1101 1558h0M1094 1545h0M1103 1529h0M1091 1524h0M1108 1526h0M1093 1542h0M1102 1576h0M1122 1488h0M1105 1511h0M1119 1525h0M1093 1526h0M1116 1449h0M1104 1546h0M1103 1540h0M1111 1541h0M1116 1560h0M1100 1538h0M1095 1559h0M1109 1507h0M1115 1551h0M1108 1549h0M1119 1560h0M1101 1537h0M1126 1556h0M1091 1532h0M1127 1566h0M1117 1523h0M1134 1504h0M1097 1570h0M1115 1541h0M1101 1499h0M1096 1542h0M1102 1499h0M1119 1509h0M1128 1528h0M1124 1544h0M1103 1553h0M1132 1536h0M1126 1471h0M1116 1501h0M1100 1541h0M1092 1533h0M1116 1557h0M1091 1551h0M1124 1120h0M1104 1517h0M1115 1552h0M1100 1520h0M1129 1508h0M1121 1543h0M1100 1550h0M1128 1556h0M1120 1534h0M1133 1548h0M1106 1506h0M1108 1536h0M1119 1530h0M1108 1543h0M1095 1530h0M1126 1528h0M1128 1519h0M1109 1519h0M1106 1563h0M1128 1527h0M1125 1559h0M1092 1553h0M1116 1561h0M1108 1553h0M1106 1529h0M1107 1526h0M1124 1547h0M1105 1546h0M1131 1414h0M1127 1542h0M1094 1549h0M1126 1517h0M1106 1544h0M1129 1507h0M1100 1524h0M1104 1526h0M1120 1536h0M1116 1537h0M1122 1578h0M1127 1557h0"/><path d="M1109 1510h0M1103 1508h0M1128 1507h0M1099 1530h0M1122 1436h0M1094 1544h0M1104 1512h0M1127 1529h0M1112 1511h0M1112 1531h0M1127 1506h0M1128 1561h0M1103 1560h0M1127 1412h0M1099 1528h0M1097 1518h0M1131 1535h0M1127 1524h0M1114 1550h0M1123 1551h0M1104 1547h0M1128 1549h0M1124 1533h0M1104 1514h0M1124 1536h0M1133 1559h0M1127 1531h0M1100 1427h0M1129 1542h0M1116 1550h0M1092 1490h0M1116 1542h0M1092 1533h0M1106 1528h0M1097 1538h0M1109 1535h0M1112 1553h0M1095 1550h0M1125 1544h0M1093 1561h0M1133 1501h0M1122 1560h0M1124 1525h0M1121 1562h0M1112 1542h0M1116 1505h0M1100 1553h0M1120 1551h0M1130 1524h0M1133 1525h0M1098 1150h0M1111 1551h0M1118 1539h0M1105 1544h0M1104 1516h0M1122 1536h0M1095 1512h0M1114 1542h0M1130 1529h0M1122 1546h0M1127 1495h0M1120 1552h0M1115 1532h0M1116 1509h0M1099 1555h0M1103 1108h0M1133 1539h0M1097 1515h0M1124 1546h0M1116 1535h0M1105 1567h0M1105 1529h0M1100 1553h0M1114 1571h0M1118 1520h0M1119 1513h0M1116 1462h0M1096 1529h0M1132 1551h0M1121 1540h0M1117 1532h0M1130 1533h0M1130 1521h0M1117 1566h0M1113 1508h0M1116 1533h0M1128 1555h0M1101 1530h0M1102 1530h0M1116 1552h0M1093 1518h0M1099 1498h0M1122 1553h0M1131 1543h0M1116 1526h0M1104 1531h0M1110 1533h0M1096 1555h0M1132 1546h0M1112 1575h0M1117 1539h0M1099 1538h0M1119 1523h0M1112 1546h0M1096 1532h0M1124 1551h0M1127 1502h0M1097 1550h0M1127 1542h0M1097 1511h0M1132 1553h0M1102 1554h0M1131 1546h0"/><path d="M1106 1537h0M1102 1494h0M1114 1556h0M1116 1524h0M1129 1537h0M1129 1572h0M1101 1515h0M1104 1517h0M1128 1551h0M1132 1549h0M1098 1552h0M1133 1518h0M1125 1551h0M1102 1496h0M1096 1530h0M1122 1541h0M1105 1563h0M1102 1535h0M1128 1562h0M1111 1468h0M1115 1538h0M1128 1527h0M1101 1555h0M1114 1490h0M1091 1524h0M1120 1524h0M1122 1559h0M1133 1520h0M1111 1499h0M1130 1534h0M1111 1526h0M1115 1551h0M1131 1534h0M1128 1540h0M1093 1564h0M1115 1518h0M1092 1536h0M1116 1507h0M1100 1469h0M1092 1568h0M1133 1570h0M1118 1530h0M1107 1389h0M1099 1538h0M1111 1541h0M1094 1521h0M1120 1518h0M1127 1481h0M1109 1460h0M1106 1484h0M1119 1556h0M1109 1540h0M1099 1571h0M1116 1558h0M1124 1527h0M1114 1544h0M1117 1520h0M1122 1532h0M1107 1541h0M1094 1532h0M1097 1444h0M1104 1510h0M1112 1553h0M1097 1554h0M1101 1517h0M1122 1541h0M1103 1574h0M1123 1553h0M1110 1526h0M1112 1533h0M1120 1495h0M1098 1542h0M1095 1548h0M1129 1516h0M1114 1543h0M1119 1561h0M1099 1519h0M1108 1545h0M1092 1524h0M1104 1539h0M1128 1554h0M1124 1529h0M1130 1520h0M1119 1542h0M1131 1510h0M1100 1529h0M1098 1544h0M1093 1511h0M1108 1549h0M1100 1546h0M1118 1520h0M1104 1546h0M1099 1533h0M1110 1546h0M1110 1566h0M1094 1507h0M1119 1527h0M1115 1552h0M1098 1564h0M1104 1540h0M1114 1516h0M1100 1560h0M1133 1563h0M1133 1553h0M1121 1557h0M1098 1537h0M1122 1519h0M1098 1523h0M1133 1544h0M1110 1512h0M1105 1559h0M1109 1494h0M1110 1554h0"/><path d="M1092 1543h0M1113 1537h0M1112 1553h0M1095 1502h0M1112 1528h0M1121 1512h0M1132 1566h0M1121 1507h0M1112 1466h0M1106 1542h0M1124 1544h0M1125 1526h0M1133 1544h0M1121 1563h0M1104 1560h0M1115 1524h0M1098 1532h0M1105 1140h0M1111 1540h0M1123 1544h0M1128 1546h0M1101 1545h0M1095 1486h0M1101 1539h0M1112 1541h0M1118 1523h0M1102 1549h0M1130 1533h0M1119 1520h0M1116 1528h0M1123 1532h0M1120 1477h0M1105 1518h0M1097 1445h0M1127 1544h0M1093 1548h0M1119 1538h0M1100 1519h0M1128 1526h0M1101 1501h0M1132 1536h0M1117 1540h0M1097 1550h0M1113 1544h0M1104 1512h0M1122 1519h0M1126 1559h0M1108 1562h0M1109 1521h0M1108 1503h0M1113 1530h0M1095 1510h0M1131 1560h0M1115 1518h0M1093 1563h0M1110 1544h0M1104 1569h0M1128 1411h0M1132 1564h0M1124 1560h0M1131 1520h0M1128 1529h0M1103 1520h0M1117 1537h0M1123 1526h0M1096 1554h0M1126 1526h0M1119 1511h0M1113 1545h0M1091 1556h0M1132 1548h0M1125 1561h0M1104 1545h0M1092 1521h0M1098 1573h0M1094 1517h0M1116 1526h0M1109 1522h0M1095 1561h0M1127 1525h0M1097 1536h0M1099 1488h0M1124 1459h0M1121 1523h0M1124 1550h0M1129 1552h0M1107 1524h0M1103 1520h0M1132 1521h0M1128 1553h0M1118 1549h0M1093 1507h0M1101 1542h0M1131 1443h0M1102 1529h0M1133 1559h0M1129 1474h0M1095 1566h0M1099 1550h0M1111 1563h0M1133 1555h0M1121 1563h0M1119 1540h0M1121 1535h0M1110 1539h0M1121 1500h0M1110 1544h0M1115 1535h0M1109 1512h0M1107 1513h0M1124 1545h0M1111 1437h0M1121 1543h0"/><path d="M1097 1540h0M1102 1573h0M1095 1517h0M1131 1537h0M1112 1516h0M1107 1545h0M1130 1545h0M1114 1505h0M1095 1491h0M1115 1544h0M1096 1558h0M1113 1541h0M1121 1533h0M1132 1548h0M1098 1555h0M1098 1529h0M1129 1537h0M1108 1533h0M1100 1546h0M1114 1557h0M1098 1551h0M1134 1531h0M1109 1558h0M1097 1569h0M1093 1541h0M1113 1528h0M1118 1541h0M1094 1537h0M1113 1542h0M1119 1522h0M1117 1522h0M1105 1524h0M1112 1528h0M1133 1538h0M1115 1544h0M1116 1519h0M1097 1555h0M1093 1188h0M1106 1543h0M1131 1559h0M1106 1551h0M1111 1532h0M1113 1441h0M1115 1530h0M1121 1544h0M1101 1548h0M1129 1481h0M1104 1477h0M1118 1553h0M1133 1526h0M1107 1534h0M1118 1561h0M1104 1543h0M1104 1558h0M1127 1547h0M1134 1528h0M1098 1562h0M1114 1458h0M1115 1532h0M1128 1515h0M1101 1536h0M1118 1517h0M1112 1558h0M1101 1534h0M1101 1550h0M1107 1503h0M1100 1564h0M1097 1493h0M1113 1501h0M1123 1535h0M1112 1513h0M1112 1461h0M1115 1526h0M1116 1531h0M1113 1529h0M1130 1535h0M1127 1524h0M1115 1550h0M1112 1576h0M1097 1531h0M1102 1522h0M1127 1551h0M1107 1481h0M1103 1522h0M1104 1552h0M1126 1555h0M1122 1550h0M1118 1542h0M1126 1539h0M1130 1478h0M1113 1575h0M1098 1504h0M1097 1515h0M1103 1479h0M1126 1555h0M1131 1549h0M1096 1542h0M1104 1550h0M1099 1536h0M1117 1546h0M1123 1527h0M1110 1289h0M1122 1524h0M1111 1563h0M1129 1539h0M1108 1502h0M1132 1575h0M1098 1552h0M1103 1515h0M1116 1554h0M1100 1515h0M1111 1532h0M1096 1568h0"/><path d="M1108 1500h0M1100 1525h0M1131 1509h0M1111 1539h0M1102 1511h0M1122 1505h0M1110 1539h0M1128 1541h0M1098 1543h0M1094 1545h0M1129 1486h0M1100 1494h0M1100 1529h0M1120 1526h0M1098 1540h0M1119 1514h0M1121 1508h0M1096 1533h0M1132 1553h0M1107 1518h0M1107 1560h0M1127 1551h0M1113 1552h0M1117 1523h0M1105 1570h0M1107 1542h0M1110 1527h0M1093 1541h0M1099 1536h0M1118 1555h0M1093 1524h0M1132 1559h0M1124 1499h0M1119 1535h0M1130 1533h0M1120 1541h0M1100 1514h0M1117 1553h0M1107 1551h0M1106 1546h0M1125 1505h0M1095 1550h0M1106 1552h0M1111 1557h0M1108 1515h0M1104 1519h0M1103 1486h0M1101 1554h0M1127 1551h0M1127 1552h0M1130 1479h0M1114 1514h0M1129 1537h0M1098 1575h0M1109 1515h0M1092 1548h0M1093 1545h0M1128 1529h0M1127 1541h0M1115 1533h0M1100 1503h0M1098 1521h0M1102 1542h0M1111 1562h0M1105 1550h0M1095 1569h0M1122 1532h0M1110 1564h0M1113 1534h0M1102 1544h0M1093 1496h0M1092 1540h0M1132 1535h0M1130 1501h0M1097 1548h0M1134 1542h0M1108 1526h0M1117 1497h0M1131 1514h0M1093 1382h0M1103 1508h0M1113 1523h0M1104 1527h0M1117 1525h0M1099 1547h0M1112 1546h0M1095 1570h0M1106 1421h0M1133 1558h0M1118 1543h0M1110 1564h0M1116 1533h0M1096 1523h0M1125 1556h0M1111 1516h0M1128 1544h0M1129 1514h0M1109 1495h0M1131 1324h0M1134 1547h0M1107 1545h0M1103 1523h0M1099 1270h0M1116 1523h0M1109 1532h0M1127 1553h0M1101 1534h0M1112 1530h0M1134 1507h0M1118 1538h0M1121 1531h0M1099 1548h0M1127 1543h0"/><path d="M1096 1522h0M1107 1530h0M1129 1485h0M1099 1539h0M1130 1544h0M1098 1520h0M1130 1537h0M1108 1530h0M1120 1564h0M1116 1545h0M1112 1539h0M1094 1532h0M1116 1516h0M1126 1552h0M1102 1544h0M1126 1520h0M1118 1540h0M1105 1526h0M1125 1534h0M1111 1555h0M1126 1527h0M1105 1559h0M1108 1501h0M1127 1512h0M1105 1527h0M1100 1511h0M1123 1560h0M1099 1544h0M1096 1522h0M1105 1554h0M1121 1550h0M1094 1532h0M1133 1456h0M1108 1553h0M1105 1511h0M1112 1514h0M1095 1517h0M1124 1552h0M1129 1562h0M1132 1568h0M1115 1514h0M1109 1556h0M1106 1519h0M1096 1577h0M1103 1527h0M1127 1246h0M1127 1555h0M1131 1519h0M1105 1529h0M1124 1540h0M1094 1554h0M1115 1521h0M1126 1507h0M1119 1571h0M1126 1575h0M1107 1564h0M1113 1482h0M1109 1510h0M1113 1393h0M1121 1531h0M1107 1452h0M1093 1516h0M1114 1509h0M1124 1490h0M1108 1550h0M1116 1462h0M1095 1553h0M1104 1530h0M1123 1529h0M1096 1483h0M1092 1527h0M1113 1558h0M1109 1552h0M1099 1542h0M1119 1541h0M1117 1442h0M1118 1533h0M1121 1554h0M1092 1534h0M1102 1552h0M1091 1543h0M1124 1559h0M1107 1545h0M1095 1557h0M1101 1547h0M1123 1524h0M1126 1537h0M1132 1468h0M1132 1497h0M1113 1530h0M1114 1533h0M1108 1516h0M1110 1522h0M1119 1537h0M1119 1548h0M1112 1538h0M1118 1507h0M1111 1541h0M1097 1503h0M1129 1538h0M1111 1542h0M1129 1572h0M1122 1540h0M1133 1523h0M1094 1521h0M1103 1539h0M1109 1558h0M1115 1546h0M1094 1549h0M1098 1530h0M1109 1554h0M1092 1560h0M1099 1529h0"/><path d="M1124 1529h0M1118 1502h0M1133 1524h0M1111 1557h0M1124 1532h0M1117 1506h0M1128 1562h0M1130 1547h0M1125 1562h0M1123 1525h0M1096 1553h0M1132 1521h0M1093 1534h0M1123 1473h0M1115 1518h0M1112 1504h0M1107 1511h0M1129 1541h0M1100 1512h0M1132 1095h0M1112 1512h0M1111 1546h0M1120 1430h0M1129 1529h0M1104 1514h0M1114 1553h0M1132 1551h0M1095 1548h0M1110 1551h0M1117 1520h0M1094 1535h0M1100 1542h0M1130 1550h0M1127 1542h0M1105 1563h0M1108 1536h0M1122 1558h0M1104 1562h0M1132 1550h0M1096 1536h0M1122 1559h0M1109 1522h0M1124 1539h0M1107 1531h0M1098 1516h0M1123 1535h0M1122 1479h0M1109 1495h0M1095 1534h0M1117 1542h0M1095 1502h0M1131 1503h0M1116 1544h0M1105 1415h0M1124 1570h0M1097 1540h0M1094 1552h0M1119 1562h0M1133 1536h0M1108 1543h0M1096 1527h0M1104 1559h0M1115 1541h0M1133 1542h0M1124 1568h0M1120 1533h0M1110 1527h0M1132 1513h0M1124 1529h0M1129 1560h0M1105 1552h0M1112 1528h0M1117 1513h0M1115 1511h0M1122 1564h0M1125 1534h0M1123 1519h0M1093 1553h0M1102 1553h0M1124 1532h0M1120 1486h0M1112 1488h0M1110 1543h0M1104 1545h0M1106 1522h0M1123 1525h0M1127 1537h0M1097 1508h0M1097 1545h0M1110 1500h0M1101 1553h0M1098 1569h0M1118 1559h0M1129 1511h0M1131 1525h0M1101 1554h0M1107 1548h0M1126 1312h0M1124 1521h0M1122 1540h0M1109 1553h0M1105 1536h0M1094 1550h0M1095 1511h0M1131 1552h0M1114 1549h0M1100 1212h0M1131 1519h0M1134 1546h0M1115 1534h0M1101 1550h0M1130 1533h0M1108 1398h0"/><path d="M1116 1540h0M1110 1434h0M1132 1543h0M1131 1549h0M1133 1573h0M1098 1559h0M1119 1516h0M1128 1562h0M1119 1545h0M1102 1549h0M1108 1536h0M1125 1552h0M1092 1567h0M1114 1540h0M1100 1538h0M1115 1543h0M1110 1491h0M1123 1527h0M1120 1551h0M1122 1554h0M1105 1563h0M1112 1538h0M1099 1538h0M1113 1462h0M1116 1475h0M1117 1542h0M1117 1524h0M1106 1528h0M1106 1523h0M1119 1530h0M1124 1536h0M1133 1477h0M1102 1530h0M1119 1572h0M1092 1549h0M1096 1519h0M1114 1523h0M1098 1543h0M1111 1554h0M1108 1530h0M1120 1558h0M1111 1540h0M1124 1525h0M1118 1512h0M1109 1542h0M1130 1511h0M1114 1541h0M1104 1425h0M1098 1543h0M1106 1547h0M1098 1537h0M1107 1532h0M1131 1529h0M1101 1540h0M1108 1525h0M1115 1525h0M1091 1151h0M1118 1554h0M1098 1529h0M1096 1562h0M1132 1527h0M1105 1512h0M1093 1556h0M1118 1544h0M1103 1560h0M1124 1544h0M1102 1540h0M1119 1514h0M1108 1527h0M1106 1521h0M1127 1536h0M1126 1533h0M1130 1519h0M1102 1544h0M1123 1544h0M1104 1554h0M1093 1555h0M1119 1499h0M1105 1524h0M1102 1539h0M1099 1533h0M1111 1526h0M1118 1537h0M1107 1500h0M1100 1541h0M1129 1543h0M1111 1534h0M1099 1525h0M1092 1494h0M1127 1506h0M1096 1545h0M1092 1534h0M1094 1528h0M1100 1512h0M1114 1528h0M1129 1551h0M1129 1514h0M1112 1533h0M1128 1465h0M1117 1508h0M1100 1536h0M1118 1570h0M1131 1518h0M1124 1533h0M1109 1530h0M1126 1499h0M1110 1547h0M1100 1521h0M1113 1544h0M1117 1554h0M1133 1515h0M1110 1558h0M1120 1502h0"/><path d="M1128 1488h0M1112 1462h0M1098 1466h0M1119 1528h0M1121 1514h0M1107 1530h0M1109 1492h0M1120 1535h0M1116 1487h0M1094 1545h0M1125 1468h0M1095 1569h0M1132 1555h0M1098 1520h0M1093 1530h0M1103 1573h0M1117 1553h0M1103 1542h0M1114 1546h0M1103 1527h0M1111 1560h0M1112 1526h0M1110 1558h0M1123 1565h0M1120 1540h0M1122 1537h0M1133 1466h0M1096 1543h0M1126 1539h0M1111 1562h0M1101 1557h0M1107 1538h0M1095 1450h0M1133 1526h0M1092 1536h0M1131 1552h0M1095 1569h0M1124 1524h0M1092 1499h0M1103 1530h0M1122 1508h0M1115 1559h0M1118 1528h0M1127 1526h0M1122 1539h0M1112 1500h0M1128 1560h0M1121 1521h0M1132 1524h0M1120 1551h0M1119 1553h0M1121 1535h0M1105 1557h0M1113 1526h0M1104 1538h0M1121 1559h0M1099 1560h0M1132 1520h0M1106 1466h0M1117 1529h0M1106 1528h0M1118 1275h0M1131 1541h0M1123 1549h0M1131 1531h0M1133 1529h0M1125 1544h0M1126 1506h0M1119 1541h0M1134 1548h0M1093 1538h0M1100 1555h0M1118 1444h0M1113 1489h0M1131 1508h0M1093 1550h0M1117 1532h0M1128 1474h0M1113 1548h0M1111 1508h0M1131 1525h0M1120 1555h0M1096 1518h0M1116 1518h0M1123 1506h0M1096 1537h0M1128 1525h0M1132 1516h0M1104 1479h0M1115 1530h0M1097 1548h0M1093 1529h0M1099 1533h0M1131 1550h0M1115 1539h0M1125 1543h0M1109 1559h0M1098 1526h0M1095 1527h0M1111 1530h0M1120 1525h0M1105 1558h0M1100 1543h0M1121 1526h0M1098 1503h0M1122 1550h0M1107 1529h0M1099 1536h0M1110 1554h0M1118 1522h0M1093 1535h0M1110 1517h0M1120 1552h0"/><path d="M1100 1535h0M1120 1543h0M1128 1534h0M1112 1444h0M1093 1564h0M1110 1535h0M1092 1536h0M1110 1551h0M1104 1531h0M1111 1561h0M1097 1557h0M1123 1541h0M1107 1526h0M1123 1557h0M1106 1514h0M1131 1528h0M1110 1529h0M1125 1545h0M1102 1545h0M1123 1532h0M1109 1567h0M1122 1537h0M1093 1540h0M1130 1508h0M1123 1544h0M1119 1539h0M1102 1536h0M1098 1555h0M1124 1515h0M1116 1578h0M1104 1531h0M1122 1555h0M1126 1538h0M1097 1546h0M1117 1541h0M1128 1551h0M1096 1460h0M1093 1557h0M1128 1530h0M1123 1538h0M1119 1381h0M1119 1553h0M1114 1545h0M1111 1491h0M1120 1538h0M1118 1528h0M1105 1544h0M1108 1545h0M1099 1495h0M1117 1546h0M1111 1555h0M1129 1517h0M1103 1554h0M1124 1520h0M1096 1515h0M1129 1528h0M1119 1536h0M1133 1553h0M1130 1513h0M1120 1322h0M1096 1545h0M1109 1527h0M1120 1549h0M1118 1562h0M1105 1563h0M1109 1519h0M1130 1519h0M1111 1381h0M1133 1557h0M1121 1562h0M1114 1509h0M1111 1485h0M1106 1528h0M1122 1555h0M1129 1403h0M1096 1517h0M1109 1559h0M1118 1515h0M1100 1499h0M1114 1532h0M1131 1559h0M1094 1553h0M1093 1544h0M1100 1549h0M1118 1555h0M1108 1467h0M1092 1270h0M1131 1539h0M1102 1543h0M1110 1556h0M1108 1527h0M1108 1551h0M1112 1545h0M1127 1561h0M1129 1538h0M1111 1480h0M1132 1477h0M1121 1544h0M1098 1553h0M1108 1556h0M1111 1545h0M1095 1561h0M1132 1536h0M1102 1436h0M1133 1546h0M1131 1503h0M1123 1560h0M1118 1517h0M1113 1547h0M1113 1528h0M1125 1497h0M1113 1498h0M1110 1546h0"/><path d="M1108 1518h0M1105 1548h0M1134 1520h0M1100 1539h0M1131 1511h0M1123 1530h0M1096 1554h0M1126 1538h0M1133 1528h0M1097 1550h0M1098 1504h0M1107 1550h0M1128 1533h0M1099 1530h0M1097 1543h0M1093 1567h0M1114 1560h0M1099 1492h0M1121 1499h0M1130 1515h0M1099 1550h0M1100 1514h0M1100 1549h0M1093 1533h0M1098 1518h0M1097 1528h0M1130 1563h0M1120 1494h0M1095 1551h0M1127 1551h0M1126 1526h0M1122 1549h0M1122 1560h0M1104 1542h0M1113 1507h0M1099 1570h0M1122 1560h0M1117 1487h0M1102 1553h0M1134 1530h0M1097 1549h0M1113 1544h0M1106 1523h0M1094 1544h0M1108 1515h0M1094 1496h0M1117 1532h0M1125 1517h0M1105 1565h0M1106 1530h0M1096 1544h0M1104 1437h0M1123 1507h0M1105 1552h0M1095 1537h0M1130 1532h0M1131 1524h0M1101 1564h0M1106 1545h0M1112 1544h0M1093 1509h0M1123 1557h0M1119 1560h0M1114 1488h0M1093 1547h0M1110 1457h0M1133 1519h0M1099 1551h0M1123 1542h0M1108 1524h0M1095 1545h0M1097 1541h0M1106 1537h0M1113 1511h0M1108 1525h0M1107 1519h0M1132 1574h0M1113 1565h0M1105 1526h0M1117 1510h0M1130 1533h0M1102 1566h0M1126 1518h0M1099 1550h0M1112 1558h0M1114 1476h0M1127 1526h0M1095 1484h0M1120 1552h0M1116 1544h0M1101 1546h0M1113 1519h0M1108 1513h0M1106 1524h0M1132 1528h0M1096 1275h0M1102 1525h0M1099 1522h0M1104 1554h0M1125 1533h0M1116 1522h0M1126 1381h0M1111 1528h0M1100 1518h0M1133 1512h0M1121 1525h0M1096 1527h0M1109 1505h0M1118 1552h0M1096 1541h0M1131 1540h0M1132 1546h0M1095 1548h0"/><path d="M1111 1524h0M1120 1495h0M1118 1527h0M1116 1514h0M1112 1525h0M1096 1548h0M1110 1521h0M1131 1537h0M1092 1548h0M1098 1510h0M1098 1408h0M1104 1543h0M1128 1502h0M1112 1465h0M1093 1555h0M1127 1512h0M1100 1540h0M1122 1333h0M1105 1526h0M1127 1567h0M1125 1522h0M1107 1544h0M1128 1515h0M1118 1518h0M1112 1555h0M1102 1536h0M1121 1557h0M1098 1331h0M1117 1546h0M1111 1503h0M1131 1534h0M1125 1508h0M1104 1483h0M1131 1550h0M1092 1532h0M1123 1546h0M1109 1563h0M1108 1542h0M1094 1483h0M1128 1560h0M1132 1515h0M1106 1529h0M1096 1531h0M1094 1519h0M1097 1562h0M1102 1505h0M1092 1573h0M1107 1534h0M1118 1512h0M1102 1540h0M1111 1534h0M1115 1530h0M1123 1544h0M1095 1515h0M1116 1517h0M1119 1531h0M1125 1553h0M1124 1542h0M1116 1438h0M1130 1560h0M1099 1546h0M1098 1566h0M1104 1539h0M1129 1538h0M1093 1554h0M1106 1413h0M1117 1529h0M1129 1514h0M1101 1569h0M1108 1538h0M1107 1532h0M1105 1530h0M1126 1520h0M1127 1543h0M1101 1533h0M1104 1520h0M1131 1509h0M1114 1553h0M1114 1506h0M1126 1549h0M1108 1575h0M1132 1552h0M1113 1541h0M1111 1507h0M1095 1559h0M1131 1548h0M1130 1567h0M1124 1536h0M1134 1554h0M1096 1542h0M1114 1520h0M1119 1540h0M1111 1523h0M1099 1520h0M1107 1536h0M1103 1548h0M1127 1534h0M1098 1520h0M1093 1528h0M1132 1522h0M1103 1556h0M1129 1514h0M1098 1524h0M1118 1547h0M1118 1498h0M1120 1538h0M1124 1535h0M1114 1539h0M1117 1498h0M1094 1475h0M1130 1541h0M1102 1551h0M1097 1498h0"/><path d="M1113 1487h0M1115 1461h0M1119 1570h0M1093 1542h0M1092 1536h0M1127 1555h0M1117 1532h0M1133 1535h0M1130 1549h0M1104 1545h0M1106 1483h0M1091 1546h0M1126 1550h0M1128 1537h0M1110 1247h0M1116 1532h0M1132 1533h0M1104 1499h0M1092 1527h0M1127 1516h0M1092 1519h0M1096 1532h0M1094 1537h0M1110 1517h0M1112 1510h0M1105 1410h0M1110 1506h0M1103 1518h0M1118 1542h0M1116 1524h0M1126 1502h0M1111 1543h0M1132 1550h0M1127 1522h0M1123 1548h0M1123 1559h0M1112 1444h0M1101 1545h0M1122 1536h0M1129 1543h0M1131 1510h0M1094 1523h0M1094 1518h0M1103 1516h0M1112 1546h0M1118 1521h0M1104 1562h0M1105 1501h0M1111 1382h0M1109 1561h0M1103 1520h0M1125 1529h0M1093 1564h0M1093 1530h0M1130 1553h0M1102 1531h0M1100 1560h0M1093 1534h0M1132 1576h0M1123 1544h0M1112 1570h0M1130 1531h0M1109 1519h0M1132 1548h0M1130 1503h0M1100 1533h0M1122 1525h0M1125 1559h0M1097 1528h0M1130 1551h0M1116 1478h0M1115 1566h0M1129 1547h0M1105 1539h0M1132 1520h0M1091 1539h0M1113 1536h0M1115 1547h0M1105 1544h0M1120 1560h0M1096 1411h0M1127 1559h0M1114 1554h0M1108 1527h0M1121 1531h0M1117 1543h0M1118 1535h0M1111 1503h0M1107 1547h0M1093 1556h0M1118 1534h0M1094 1546h0M1128 1534h0M1125 1500h0M1108 1513h0M1095 1491h0M1127 1528h0M1117 1533h0M1131 1548h0M1105 1539h0M1131 1512h0M1091 1546h0M1130 1533h0M1096 1553h0M1126 1529h0M1107 1461h0M1123 1518h0M1120 1495h0M1132 1568h0M1119 1550h0M1097 1532h0M1134 1542h0M1112 1541h0"/></g>
<path d="M894 1462.6V1512.3M894 1546V1578" stroke="#474747" stroke-width="2"/>
<rect x="861" y="1512" width="66" height="34" fill="#fff" fill-opacity="0.17" stroke="#444" stroke-width="2"/>
<path d="M861 1535.1H927" stroke="#4d4d4d" stroke-width="3.6"/>
<path d="M1112 1476.6V1518.4M1112 1546.3V1580" stroke="#474747" stroke-width="2"/>
<rect x="1079" y="1518" width="66" height="28" fill="#fff" fill-opacity="0.17" stroke="#444" stroke-width="2"/>
<path d="M1079 1534.8H1145" stroke="#4d4d4d" stroke-width="3.6"/>
<path d="M893.7 972.9C893.8 994.1 894.2 1030.1 894.5 1100C894.8 1169.9 895 1334.3 895.2 1392.4C895.5 1450.5 895.6 1436.1 896 1448.6C896.4 1461.1 896.7 1461.1 897.3 1467.3C897.9 1473.5 898.9 1481.3 899.7 1486C900.5 1490.7 901.1 1492.3 902.1 1495.4C903.1 1498.5 904 1501.7 905.9 1504.8C907.8 1507.9 910.4 1511 913.4 1514.1C916.4 1517.2 919.6 1520.4 923.7 1523.5C927.8 1526.6 934.4 1529.8 938.1 1532.9C941.8 1536 945.8 1539.1 945.7 1542.2C945.6 1545.3 941.1 1548.5 937.3 1551.6C933.6 1554.7 928.1 1557.9 923.2 1561C918.3 1564.1 911.8 1567.8 907.7 1570.3C903.6 1572.8 900.7 1574.6 898.7 1576C896.7 1577.4 896.2 1578.2 895.7 1578.7L891.7 1578.7C891.2 1578.2 890.7 1577.4 888.7 1576C886.7 1574.6 883.8 1572.8 879.7 1570.3C875.6 1567.8 869.1 1564.1 864.2 1561C859.3 1557.9 853.9 1554.7 850.1 1551.6C846.4 1548.5 841.8 1545.3 841.7 1542.2C841.6 1539.1 845.6 1536 849.3 1532.9C853 1529.8 859.6 1526.6 863.7 1523.5C867.8 1520.4 871 1517.2 874 1514.1C877 1511 879.6 1507.9 881.5 1504.8C883.4 1501.7 884.3 1498.5 885.3 1495.4C886.3 1492.3 886.9 1490.7 887.7 1486C888.5 1481.3 889.5 1473.5 890.1 1467.3C890.7 1461.1 891.1 1461.1 891.4 1448.6C891.8 1436.1 892 1450.5 892.2 1392.4C892.5 1334.3 892.7 1169.9 892.9 1100C893.2 1030.1 893.6 994.1 893.7 972.9Z" fill="#fff" fill-opacity="0.15" stroke="#1a1a1a" stroke-width="2.1" stroke-linejoin="round"/>
<path d="M1112.4 1094.4C1112.6 1128.7 1113.1 1240.5 1113.4 1300C1113.7 1359.5 1113.9 1423.3 1114.4 1451.2C1114.9 1479.1 1115.9 1462.1 1116.5 1467.6C1117.1 1473.1 1117.6 1479.9 1118.1 1484C1118.7 1488.1 1118.9 1489.5 1119.8 1492.2C1120.7 1494.9 1121.5 1497.7 1123.4 1500.4C1125.3 1503.1 1128.7 1505.9 1131.4 1508.6C1134.1 1511.3 1136.1 1514.1 1139.4 1516.8C1142.7 1519.5 1147.4 1522.3 1151.1 1525C1154.8 1527.7 1159.1 1530.5 1161.8 1533.2C1164.5 1535.9 1167.3 1538.7 1167.4 1541.4C1167.5 1544.1 1166.2 1546.9 1162.4 1549.6C1158.6 1552.3 1150.1 1555.1 1144.4 1557.8C1138.7 1560.5 1132.4 1563.3 1128 1566C1123.6 1568.7 1120.7 1571.8 1118.1 1574.2C1115.5 1576.7 1113.4 1579.6 1112.4 1580.7C1111.5 1579.6 1109.3 1576.7 1106.7 1574.2C1104.1 1571.8 1101.2 1568.7 1096.8 1566C1092.4 1563.3 1086.1 1560.5 1080.4 1557.8C1074.7 1555.1 1066.2 1552.3 1062.4 1549.6C1058.6 1546.9 1057.3 1544.1 1057.4 1541.4C1057.5 1538.7 1060.3 1535.9 1063 1533.2C1065.7 1530.5 1070 1527.7 1073.7 1525C1077.4 1522.3 1082.1 1519.5 1085.4 1516.8C1088.7 1514.1 1090.7 1511.3 1093.4 1508.6C1096.1 1505.9 1099.5 1503.1 1101.4 1500.4C1103.3 1497.7 1104.1 1494.9 1105 1492.2C1105.9 1489.5 1106.2 1488.1 1106.7 1484C1107.2 1479.9 1107.7 1473.1 1108.3 1467.6C1108.9 1462.1 1109.9 1479.1 1110.4 1451.2C1110.9 1423.3 1111.1 1359.5 1111.4 1300C1111.7 1240.5 1112.2 1128.7 1112.4 1094.4Z" fill="#fff" fill-opacity="0.15" stroke="#1a1a1a" stroke-width="2.1" stroke-linejoin="round"/>
<circle cx="893.7" cy="1516" r="11.5" fill="#8b0000"/>
<circle cx="902.7" cy="1516" r="1.4" fill="#000"/>
<path d="M910.2 1516H917.7" stroke="#000" stroke-width="1.6"/>
<circle cx="1112.4" cy="1522.9" r="11.5" fill="#8b0000"/>
<path d="M1113.4 1522.9H1117.4" stroke="#000" stroke-width="1.6"/>
<g font-family="'Liberation Sans', Arial, Helvetica, sans-serif" fill="#000">
<rect x="926.4" y="1500.3" width="111.8" height="31.2" rx="3.8" fill="#fff" stroke="#1f1f1f" stroke-width="1.4"/><text x="932.4" y="1521.4" font-size="17.3">μ</text><text x="930.43" y="1518.65" font-family="'DejaVu Sans', sans-serif" font-size="17.5">^</text><text x="942.5" y="1524.6" font-size="11.7">mean</text><text transform="translate(980.45 1521.4) scale(1.08 1)" x="-5.05" font-size="17.3">=</text><text x="988.6" y="1521.4" font-size="17.3">5.812</text>
<rect x="1125.7" y="1507.2" width="111.8" height="31.2" rx="3.8" fill="#fff" stroke="#1f1f1f" stroke-width="1.4"/><text x="1131.7" y="1528.3" font-size="17.3">μ</text><text x="1129.72" y="1525.55" font-family="'DejaVu Sans', sans-serif" font-size="17.5">^</text><text x="1141.8" y="1531.5" font-size="11.7">mean</text><text transform="translate(1179.75 1528.3) scale(1.08 1)" x="-5.05" font-size="17.3">=</text><text x="1187.9" y="1528.3" font-size="17.3">5.614</text>
</g>
<rect x="764" y="944" width="479" height="665" fill="none" stroke="#000" stroke-width="2"/>
<path d="M758.6 1542.7H763.8M758.6 1378.4H763.8M758.6 1214.1H763.8M758.6 1049.8H763.8M893.7 1608.7V1613.9M1112.4 1608.7V1613.9" stroke="#333" stroke-width="1.7"/>
<g font-family="'Liberation Sans', Arial, Helvetica, sans-serif" font-size="15.1" fill="#333" text-anchor="end">
<text x="754" y="1548">5</text>
<text x="754" y="1383.7">10</text>
<text x="754" y="1219.4">15</text>
<text x="754" y="1055.1">20</text>
</g>
<g font-family="'Liberation Sans', Arial, Helvetica, sans-serif" font-size="15.1" fill="#333" text-anchor="middle">
<text x="893.7" y="1629.5">Persistent infection</text>
<text x="893.7" y="1645.1">(n = 1,280)</text>
<text x="1112.4" y="1629.5">Persistent negative</text>
<text x="1112.4" y="1645.1">(n = 2,719)</text>
</g>
<text x="1003.25" y="1667.4" font-family="'Liberation Sans', Arial, Helvetica, sans-serif" font-size="19.1" font-weight="bold" text-anchor="middle">H.pylori</text>
<text transform="translate(728.2 1276.35) rotate(-90)" font-family="'Liberation Sans', Arial, Helvetica, sans-serif" font-size="19.1" font-weight="bold" text-anchor="middle">FBG</text>
<g font-family="'Liberation Sans', Arial, Helvetica, sans-serif" fill="#000"><text x="762.6" y="922.4" font-size="19.3" font-style="italic">t</text><text x="769.7" y="926.3" font-size="13.25">Student</text><text x="815.6" y="922.4" font-size="19.3">(3997)</text><text transform="translate(880.03 922.4) scale(1.15 1)" x="-5.64" font-size="19.3">=</text><text x="889.96" y="922.4" font-size="19.3">3.713,</text><text x="947.32" y="922.4" font-size="19.3" font-style="italic">p</text><text transform="translate(968.49 922.4) scale(1.15 1)" x="-5.64" font-size="19.3">=</text><text x="978.43" y="922.4" font-size="19.3">2.078e−04</text></g>
<text transform="translate(660.3 870.8) scale(0.66 1)" font-family="'Liberation Sans', Arial, Helvetica, sans-serif" font-size="43" font-weight="bold">E</text>
<path d="M1466.4 1527.9H1942.8M1466.4 1366.8H1942.8M1466.4 1205.6H1942.8M1466.4 1044.5H1942.8" stroke="#efefef" stroke-width="2" fill="none"/>
<path d="M1466.4 1608.5H1942.8M1466.4 1447.3H1942.8M1466.4 1286.2H1942.8M1466.4 1125H1942.8M1466.4 963.9H1942.8M1595.4 947V1609.9M1814.3 947V1609.9" stroke="#e3e3e3" stroke-width="1.6" fill="none"/>
<g stroke="#1b9e77" stroke-opacity="0.45" stroke-width="11.6" stroke-linecap="round" fill="none"><path d="M1587 1491h0M1589 1458h0M1578 1436h0M1603 1445h0M1589 1460h0M1595 1467h0M1591 1473h0M1599 1439h0M1592 1420h0M1616 1411h0M1612 1446h0M1592 1217h0M1590 1474h0M1580 1459h0M1605 1448h0M1594 1439h0M1603 1481h0M1583 1481h0M1603 1405h0M1599 1426h0M1578 1398h0M1592 1405h0M1606 1424h0M1614 1445h0M1609 1452h0M1605 1457h0M1584 1426h0M1587 1439h0M1604 1442h0M1606 1450h0M1604 1477h0M1610 1518h0M1610 1486h0M1593 1486h0M1589 1413h0M1609 1441h0M1580 1424h0M1585 1448h0M1593 1465h0M1613 1479h0M1602 1486h0M1612 1436h0M1581 1327h0M1586 1471h0M1600 1456h0M1604 1400h0M1576 1474h0M1585 1429h0M1580 1495h0M1586 1344h0M1581 1488h0M1606 1420h0M1604 1437h0M1591 1467h0"/><path d="M1593 1461h0M1576 1438h0M1597 1452h0M1583 1437h0M1593 1452h0M1601 1454h0M1606 1482h0M1615 1439h0M1577 1432h0M1603 1454h0M1579 1443h0M1605 1478h0M1601 1484h0M1597 1477h0M1609 1458h0M1585 1478h0M1587 1485h0M1586 1457h0M1606 1485h0M1584 1480h0M1609 1437h0M1582 1443h0M1607 1451h0M1578 1478h0M1603 1506h0M1578 1461h0M1604 1452h0M1599 1467h0M1586 1443h0M1592 1426h0M1591 1475h0M1589 1481h0M1616 1363h0M1602 1447h0M1581 1489h0M1602 1490h0M1591 1456h0M1611 1470h0M1593 1483h0M1580 1492h0M1608 1453h0M1603 1438h0M1592 1441h0M1610 1434h0M1600 1458h0M1609 1496h0M1604 1353h0M1592 1476h0M1580 1455h0M1613 1475h0M1591 1492h0M1615 1452h0M1578 1469h0M1583 1485h0"/><path d="M1577 1479h0M1592 1483h0M1592 1440h0M1581 1426h0M1607 1420h0M1574 1476h0M1608 1324h0M1601 1473h0M1583 1343h0M1585 1470h0M1606 1460h0M1575 1480h0M1603 1457h0M1616 1474h0M1575 1505h0M1614 1478h0M1592 1381h0M1607 1442h0M1597 1473h0M1601 1464h0M1611 1337h0M1602 1474h0M1607 1212h0M1601 1501h0M1594 1479h0M1588 1442h0M1594 1445h0M1612 1461h0M1581 1450h0M1604 1244h0M1583 1464h0M1585 1493h0M1588 1493h0M1581 1454h0M1581 1483h0M1616 1455h0M1611 1463h0M1611 1455h0M1613 1444h0M1578 1432h0M1595 1480h0M1612 1465h0M1577 1506h0M1593 1459h0M1607 1460h0M1604 1463h0M1595 1488h0M1613 1487h0M1588 1407h0M1578 1455h0M1576 1431h0M1587 1463h0M1600 1474h0M1593 1442h0"/><path d="M1592 1422h0M1615 1483h0M1588 1471h0M1605 1489h0M1609 1463h0M1599 1454h0M1601 1464h0M1605 1439h0M1589 1440h0M1606 1464h0M1614 1475h0M1596 1449h0M1612 1506h0M1594 1457h0M1609 1455h0M1581 1469h0M1587 1474h0M1599 1472h0M1580 1450h0M1613 1504h0M1575 1434h0M1577 1430h0M1581 1473h0M1575 1462h0M1587 1486h0M1599 1452h0M1594 1445h0M1614 1490h0M1592 1467h0M1611 1490h0M1581 1483h0M1615 1457h0M1593 1440h0M1577 1466h0M1576 1307h0M1590 1459h0M1584 1501h0M1600 1445h0M1588 1195h0M1580 1432h0M1605 1131h0M1592 1460h0M1583 1421h0M1594 1448h0M1616 1475h0M1581 1503h0M1578 1473h0M1594 1465h0M1599 1266h0M1577 1465h0M1615 1453h0M1582 1457h0M1612 1419h0M1592 1462h0"/><path d="M1574 1449h0M1575 1452h0M1589 1428h0M1613 1484h0M1604 1476h0M1616 1467h0M1600 1449h0M1588 1478h0M1602 1454h0M1609 1475h0M1580 1473h0M1605 1486h0M1594 1477h0M1582 1474h0M1584 1449h0M1615 1471h0M1606 1459h0M1592 1429h0M1586 1498h0M1578 1465h0M1586 1442h0M1609 1333h0M1593 1431h0M1616 1476h0M1597 1458h0M1603 1448h0M1589 1426h0M1601 1475h0M1606 1527h0M1578 1472h0M1606 1471h0M1600 1445h0M1594 1439h0M1615 1445h0M1579 1470h0M1587 1487h0M1602 1464h0M1575 1472h0M1591 1475h0M1592 1448h0M1613 1466h0M1594 1451h0M1613 1414h0M1582 1485h0M1591 1443h0M1598 1475h0M1600 1411h0M1604 1485h0M1612 1392h0M1614 1469h0M1587 1438h0M1600 1462h0M1586 1476h0M1610 1461h0"/><path d="M1585 1487h0M1602 1427h0M1590 1493h0M1578 1470h0M1591 1470h0M1576 1448h0M1575 1391h0M1598 1445h0M1592 1456h0M1608 1352h0M1574 1439h0M1576 1449h0M1586 1481h0M1580 1478h0M1614 1475h0M1611 1302h0M1575 1457h0M1615 1104h0M1582 1462h0M1599 1429h0M1609 1431h0M1602 1454h0M1593 1462h0M1575 1491h0M1606 1438h0M1588 1412h0M1575 1439h0M1590 1462h0M1590 1387h0M1591 1458h0M1613 1431h0M1579 1460h0M1601 1158h0M1603 1485h0M1610 1417h0M1607 1483h0M1579 1465h0M1609 1455h0M1599 1473h0M1580 1448h0M1587 1478h0M1584 1495h0M1608 1470h0M1615 1492h0M1580 1451h0M1609 1468h0M1613 1443h0M1586 1497h0M1588 1494h0M1617 1463h0M1580 1491h0M1610 1453h0M1617 1463h0M1574 1456h0"/><path d="M1597 1454h0M1576 1481h0M1606 1482h0M1612 1462h0M1616 1474h0M1613 1454h0M1613 1460h0M1615 1491h0M1596 1467h0M1586 1467h0M1574 1431h0M1591 1484h0M1585 1481h0M1583 1460h0M1607 1456h0M1595 1427h0M1594 1455h0M1576 1419h0M1597 1301h0M1596 1488h0M1576 1300h0M1608 1429h0M1610 1433h0M1593 1485h0M1602 1396h0M1587 1482h0M1608 1440h0M1602 1360h0M1616 1487h0M1581 1455h0M1592 1455h0M1602 1488h0M1580 1484h0M1580 1436h0M1583 1439h0M1596 1494h0M1614 1482h0M1576 1488h0M1610 1501h0M1592 1455h0M1576 1467h0M1578 1352h0M1577 1440h0M1603 1480h0M1601 1481h0M1614 1420h0M1617 1490h0M1612 1456h0M1575 1482h0M1584 1455h0M1610 1465h0M1585 1459h0M1574 1495h0M1588 1292h0"/><path d="M1610 1478h0M1579 1356h0M1606 1483h0M1577 1470h0M1613 1492h0M1578 1440h0M1615 1477h0M1576 1443h0M1597 1453h0M1576 1457h0M1577 1473h0M1615 1406h0M1611 1478h0M1598 1489h0M1606 1470h0M1582 1439h0M1579 1494h0M1576 1451h0M1577 1390h0M1605 1490h0M1582 1435h0M1595 1484h0M1615 1470h0M1612 1470h0M1610 1412h0M1583 1430h0M1609 1457h0M1592 1448h0M1603 1428h0M1605 1476h0M1584 1432h0M1599 1478h0M1576 1477h0M1601 1456h0M1606 1478h0M1587 1478h0M1611 1488h0M1606 1461h0M1600 1455h0M1607 1056h0M1610 1396h0M1616 1477h0M1574 1493h0M1582 1505h0M1590 1477h0M1597 1470h0M1612 1429h0M1586 1507h0M1607 1439h0M1581 1453h0M1603 1489h0M1601 1449h0M1583 1432h0M1588 1460h0"/><path d="M1597 1414h0M1613 1436h0M1578 1238h0M1575 1465h0M1604 1440h0M1582 1432h0M1589 1495h0M1600 1457h0M1583 1457h0M1615 1480h0M1576 1467h0M1578 1452h0M1592 1464h0M1611 1478h0M1579 1496h0M1581 1479h0M1577 1480h0M1601 1472h0M1606 1490h0M1593 1491h0M1592 1490h0M1581 1488h0M1616 1373h0M1609 1477h0M1598 1455h0M1603 1482h0M1582 1477h0M1599 1477h0M1600 1487h0M1591 1478h0M1582 1446h0M1603 1457h0M1611 1455h0M1600 1489h0M1598 1445h0M1598 1456h0M1609 1450h0M1590 1431h0M1591 1480h0M1611 1464h0M1612 1447h0M1590 1501h0M1582 1481h0M1595 1445h0M1578 1448h0M1609 1461h0M1579 1453h0M1586 1491h0M1595 1446h0M1593 1478h0M1601 1433h0M1594 1504h0M1574 1447h0"/><path d="M1578 1484h0M1591 1454h0M1609 1455h0M1593 1492h0M1591 1474h0M1598 1450h0M1588 1478h0M1606 1503h0M1613 1449h0M1591 1394h0M1612 1471h0M1580 1464h0M1587 1470h0M1581 1104h0M1615 1472h0M1593 1450h0M1612 1505h0M1601 1469h0M1576 1487h0M1581 1449h0M1609 1484h0M1612 1468h0M1613 1450h0M1602 1450h0M1582 1462h0M1600 1426h0M1610 1437h0M1577 1460h0M1614 1466h0M1594 1474h0M1586 1358h0M1612 1452h0M1611 1489h0M1609 1458h0M1580 1432h0M1601 1467h0M1589 1495h0M1616 1462h0M1578 1431h0M1606 1447h0M1607 1478h0M1588 1492h0M1600 1459h0M1585 1402h0M1602 1478h0M1590 1491h0M1599 1479h0M1606 1452h0M1605 1474h0M1597 1120h0M1582 1448h0M1615 1433h0M1575 1364h0"/><path d="M1593 1459h0M1585 1477h0M1614 1484h0M1584 1439h0M1581 1464h0M1600 1487h0M1604 1475h0M1590 1464h0M1580 1476h0M1615 1498h0M1594 1495h0M1598 1445h0M1593 1494h0M1604 1321h0M1611 1475h0M1609 1453h0M1611 1450h0M1585 1270h0M1604 1448h0M1605 1474h0M1610 1477h0M1592 1141h0M1590 1445h0M1586 1450h0M1614 1480h0M1580 1475h0M1583 1476h0M1612 1459h0M1574 1418h0M1578 1338h0M1584 1471h0M1579 1464h0M1604 1439h0M1599 1475h0M1582 1481h0M1587 1479h0M1576 1482h0M1585 1472h0M1579 1458h0M1590 1470h0M1610 1490h0M1583 1458h0M1589 1462h0M1597 1457h0M1608 1303h0M1612 1477h0M1584 1490h0M1610 1458h0M1601 1490h0M1596 1442h0M1594 1469h0M1576 1479h0M1590 1480h0"/><path d="M1585 1460h0M1574 1455h0M1576 1456h0M1592 1444h0M1578 1485h0M1615 1482h0M1586 1423h0M1581 1452h0M1615 1417h0M1577 1444h0M1602 1443h0M1575 1442h0M1593 1471h0M1606 1480h0M1597 1485h0M1593 1528h0M1585 1492h0M1602 1438h0M1596 1455h0M1611 1496h0M1606 1470h0M1574 1451h0M1584 1454h0M1603 1469h0M1577 1428h0M1576 1436h0M1584 1418h0M1616 1435h0M1581 1483h0M1584 1488h0M1595 1472h0M1586 1478h0M1588 1473h0M1603 1435h0M1595 1451h0M1614 1426h0M1593 1448h0M1582 1486h0M1597 1510h0M1580 1473h0M1607 1238h0M1603 1475h0M1577 1466h0M1593 1470h0M1589 1461h0M1586 1426h0M1581 1497h0M1602 1487h0M1606 1486h0M1599 1437h0M1593 1471h0M1587 1435h0M1589 1465h0"/><path d="M1607 1436h0M1608 1436h0M1606 1466h0M1594 1468h0M1599 1487h0M1585 1477h0M1583 1490h0M1577 1464h0M1604 1509h0M1603 1461h0M1610 1448h0M1576 1131h0M1584 1440h0M1575 1452h0M1587 1508h0M1594 1472h0M1586 1479h0M1591 1405h0M1612 1482h0M1592 1456h0M1611 1462h0M1607 1462h0M1611 1453h0M1594 1301h0M1575 1439h0M1614 1497h0M1593 1472h0M1594 1486h0M1615 1444h0M1607 1400h0M1594 1443h0M1581 1487h0M1577 1469h0M1596 1452h0M1588 1427h0M1598 1447h0M1596 1462h0M1589 1489h0M1582 1441h0M1580 1470h0M1590 1455h0M1616 1335h0M1578 1401h0M1597 1470h0M1584 1483h0M1591 1469h0M1603 1486h0M1594 1476h0M1587 1467h0M1588 1460h0M1605 1456h0M1581 1352h0M1583 1451h0"/><path d="M1578 1441h0M1606 1461h0M1580 1468h0M1581 1490h0M1576 1390h0M1615 1435h0M1576 1458h0M1610 1428h0M1589 1427h0M1603 1471h0M1616 1434h0M1592 1461h0M1598 1370h0M1584 1489h0M1613 1361h0M1610 1200h0M1602 1454h0M1598 1483h0M1578 1475h0M1580 1410h0M1581 1439h0M1581 1440h0M1586 1411h0M1582 1463h0M1609 1463h0M1577 1501h0M1614 1328h0M1615 1430h0M1575 1484h0M1595 1482h0M1577 1441h0M1602 1451h0M1581 1500h0M1579 1501h0M1606 1418h0M1583 1464h0M1616 1444h0M1578 1458h0M1607 1472h0M1583 1461h0M1585 1452h0M1580 1446h0M1598 1432h0M1602 1459h0M1612 1450h0M1605 1474h0M1594 1480h0M1590 1438h0M1607 1460h0M1610 1435h0M1593 1496h0M1589 1446h0M1613 1437h0"/><path d="M1576 1470h0M1595 1468h0M1584 1194h0M1583 1499h0M1617 1420h0M1604 1373h0M1605 1485h0M1599 1495h0M1606 1350h0M1610 1472h0M1610 1435h0M1600 1477h0M1599 1461h0M1594 1489h0M1608 1478h0M1595 1472h0M1582 1445h0M1608 1465h0M1597 1461h0M1604 1468h0M1613 1466h0M1597 1415h0M1583 1457h0M1585 1464h0M1585 1461h0M1600 1461h0M1598 1455h0M1585 1432h0M1593 1473h0M1588 1412h0M1602 1453h0M1586 1260h0M1595 1488h0M1608 1489h0M1592 1458h0M1597 1314h0M1614 1469h0M1613 1455h0M1597 1460h0M1615 1459h0M1600 1473h0M1602 1437h0M1592 1478h0M1617 1502h0M1600 1463h0M1582 1462h0M1601 1476h0M1600 1469h0M1612 1484h0M1597 1358h0M1606 1459h0M1614 1428h0M1594 1434h0"/><path d="M1583 1495h0M1594 1474h0M1581 1466h0M1612 1462h0M1615 1458h0M1604 1509h0M1597 1471h0M1594 1474h0M1583 1427h0M1602 1479h0M1586 1456h0M1613 1481h0M1584 1406h0M1605 1388h0M1584 1468h0M1576 1447h0M1581 1485h0M1590 1482h0M1577 1473h0M1610 975h0M1612 1479h0M1616 1429h0M1592 1473h0M1578 1465h0M1586 1421h0M1576 1449h0M1592 1463h0M1583 1469h0M1612 1475h0M1605 1434h0M1606 1446h0M1603 1461h0M1591 1508h0M1610 1488h0M1577 1474h0M1616 1458h0M1576 1492h0M1609 1465h0M1575 1486h0M1584 1449h0M1586 1357h0M1582 1480h0M1589 1476h0M1596 1457h0M1596 1453h0M1611 1492h0M1575 1466h0M1599 1465h0M1611 1494h0M1574 1456h0M1602 1402h0M1590 1454h0M1583 1460h0"/><path d="M1598 1490h0M1582 1471h0M1583 1490h0M1607 1464h0M1583 1455h0M1580 1430h0M1577 1500h0M1594 1451h0M1588 1464h0M1579 1449h0M1585 1498h0M1604 1478h0M1574 1189h0M1612 1400h0M1610 1454h0M1593 1479h0M1612 1466h0M1583 1493h0M1616 1453h0M1614 1431h0M1589 1453h0M1584 1430h0M1580 1471h0M1606 1436h0M1598 1437h0M1594 1424h0M1580 1487h0M1596 1470h0M1582 1517h0M1588 1450h0M1605 1467h0M1604 1472h0M1616 1217h0M1612 1480h0M1613 1471h0M1595 1206h0M1592 1454h0M1601 1482h0M1582 1471h0M1596 1487h0M1596 1420h0M1614 1439h0M1610 1474h0M1614 1504h0M1585 1481h0M1605 1404h0M1580 1452h0M1575 1482h0M1576 1458h0M1605 1401h0M1612 1456h0M1609 1485h0M1574 1206h0"/><path d="M1595 1506h0M1577 1482h0M1581 1463h0M1606 1434h0M1607 1496h0M1597 1185h0M1593 1492h0M1583 1507h0M1612 1233h0M1617 1550h0M1593 1455h0M1606 1463h0M1596 1426h0M1579 1459h0M1605 1276h0M1580 1474h0M1586 1478h0M1581 1499h0M1615 1363h0M1608 1441h0M1616 1376h0M1594 1481h0M1576 1442h0M1595 1457h0M1598 1461h0M1577 1457h0M1609 1476h0M1596 1447h0M1610 1364h0M1585 1466h0M1578 1449h0M1616 1494h0M1606 1469h0M1581 1442h0M1603 1464h0M1608 1463h0M1616 1426h0M1580 1409h0M1584 1473h0M1586 1456h0M1616 1481h0M1578 1480h0M1583 1425h0M1582 1286h0M1578 1480h0M1601 1427h0M1607 1468h0M1607 1466h0M1583 1446h0M1580 1366h0M1616 1365h0M1585 1385h0M1605 1484h0"/><path d="M1607 1476h0M1616 1382h0M1598 1404h0M1582 1464h0M1604 1431h0M1582 1407h0M1596 1484h0M1583 1492h0M1577 1457h0M1602 1443h0M1575 1473h0M1577 1443h0M1591 1465h0M1592 1494h0M1596 1447h0M1593 1494h0M1597 1494h0M1576 1476h0M1604 1455h0M1607 1434h0M1612 1487h0M1598 1482h0M1615 1451h0M1587 1456h0M1575 1453h0M1593 1334h0M1593 1496h0M1614 1437h0M1594 1464h0M1590 1457h0M1595 1472h0M1578 1467h0M1610 1434h0M1583 1404h0M1589 1466h0M1616 1438h0M1594 1444h0M1598 1445h0M1611 1471h0M1597 1416h0M1603 1468h0M1589 1455h0M1587 1492h0M1588 1476h0M1579 1447h0M1612 1432h0M1614 1482h0M1597 1435h0M1585 1474h0M1588 1493h0M1580 1449h0M1602 1501h0M1577 1457h0"/><path d="M1592 1446h0M1580 1125h0M1603 1477h0M1595 1469h0M1611 1463h0M1587 1494h0M1589 1457h0M1613 1409h0M1603 1481h0M1603 1486h0M1585 1445h0M1600 1464h0M1613 1430h0M1608 1432h0M1575 1466h0M1593 1495h0M1610 1455h0M1591 1455h0M1576 1460h0M1602 1426h0M1598 1458h0M1614 1460h0M1585 1479h0M1597 1467h0M1593 1459h0M1612 1475h0M1604 1445h0M1602 1443h0M1605 1452h0M1583 1481h0M1587 1468h0M1584 1378h0M1593 1465h0M1604 1482h0M1598 1451h0M1585 1447h0M1598 1480h0M1590 1458h0M1585 1476h0M1577 1478h0M1617 1483h0M1583 1443h0M1576 1412h0M1615 1440h0M1587 1463h0M1576 1447h0M1615 1478h0M1611 1385h0M1617 1438h0M1576 1495h0M1615 1474h0M1610 1466h0M1610 1495h0"/><path d="M1603 1342h0M1614 1455h0M1595 1434h0M1611 1445h0M1578 1501h0M1613 1466h0M1614 1450h0M1604 1461h0M1575 1483h0M1612 1369h0M1579 1445h0M1616 1478h0M1580 1418h0M1596 1489h0M1583 1422h0M1578 1440h0M1578 1476h0M1591 1465h0M1616 1492h0M1603 1462h0M1589 1475h0M1588 1481h0M1586 1473h0M1599 1475h0M1603 1359h0M1617 1505h0M1612 1451h0M1585 1480h0M1607 1478h0M1579 1450h0M1605 1383h0M1574 1481h0M1581 1500h0M1591 1492h0M1597 1453h0M1613 1472h0M1615 1450h0M1579 1468h0M1597 1459h0M1611 1483h0M1596 1453h0M1590 1484h0M1614 1476h0M1606 1450h0M1611 1488h0M1595 1446h0M1574 1254h0M1580 1415h0M1599 1415h0M1599 1443h0M1588 1403h0M1587 1462h0M1596 1451h0"/><path d="M1616 1449h0M1614 1457h0M1575 1455h0M1577 1407h0M1576 1415h0M1599 1486h0M1595 1449h0M1599 1478h0M1583 1491h0M1600 1481h0M1588 1444h0M1590 1495h0M1611 1495h0M1582 1464h0M1593 1469h0M1600 1428h0M1582 1466h0M1611 1473h0M1598 1439h0M1589 1427h0M1593 1446h0M1610 1463h0M1580 1448h0M1599 1441h0M1576 1478h0M1599 1487h0M1612 1493h0M1598 1480h0M1603 1470h0M1589 1437h0M1593 1449h0M1592 1447h0M1588 1441h0M1593 1485h0M1584 1432h0M1613 1347h0M1585 1455h0M1613 1482h0M1578 1492h0M1612 1461h0M1597 1473h0M1576 1480h0M1579 1419h0M1601 1471h0M1601 1466h0M1584 1405h0M1577 1454h0M1581 1446h0M1602 1474h0M1610 1459h0M1599 1477h0M1588 1462h0M1593 1476h0"/><path d="M1600 1480h0M1584 1468h0M1611 1288h0M1605 1470h0M1608 1451h0M1603 1254h0M1594 1454h0M1603 1454h0M1615 1351h0M1603 1295h0M1586 1465h0M1610 1457h0M1613 1488h0M1589 1497h0M1600 1478h0M1613 1487h0M1610 1452h0M1586 1485h0M1590 1502h0M1582 1474h0M1598 1190h0M1603 1380h0M1583 1458h0M1593 1453h0M1602 1454h0M1605 1502h0M1595 1474h0M1609 1484h0M1578 1473h0M1581 1445h0M1610 1435h0M1604 1472h0M1601 1445h0M1575 1445h0M1590 1481h0M1590 1472h0M1615 1457h0M1578 1487h0M1612 1420h0M1584 1392h0M1607 1447h0M1607 1351h0M1577 1244h0M1604 1462h0M1609 1483h0M1610 1494h0M1584 1480h0M1583 1429h0M1586 1434h0M1603 1490h0M1602 1379h0M1585 1493h0M1591 1482h0"/><path d="M1582 1489h0M1590 1438h0M1582 1452h0M1610 1432h0M1604 1484h0M1584 1461h0M1596 1432h0M1606 1480h0M1578 1470h0M1607 1478h0M1608 1483h0M1575 1475h0M1576 1406h0M1579 1456h0M1599 1422h0M1593 1479h0M1604 1458h0M1592 1461h0M1588 1480h0M1588 1508h0M1577 1468h0M1614 1468h0M1598 1471h0M1603 1439h0M1609 1460h0M1587 1448h0M1597 1482h0M1608 1450h0M1612 1459h0M1598 1396h0M1580 1488h0M1586 1453h0M1611 1495h0M1615 1179h0M1576 1437h0M1601 1469h0M1580 1452h0M1575 1468h0M1607 1452h0M1608 1480h0M1606 1441h0M1601 1348h0M1580 1260h0M1593 1421h0M1603 1539h0M1574 1486h0M1584 1496h0M1600 1492h0M1588 1432h0M1575 1318h0M1595 1486h0M1577 1429h0M1612 1439h0"/></g>
<g stroke="#d95f02" stroke-opacity="0.45" stroke-width="11.6" stroke-linecap="round" fill="none"><path d="M1794 1500h0M1834 1444h0M1823 1480h0M1835 1478h0M1816 1441h0M1793 1482h0M1834 1464h0M1820 1475h0M1827 1368h0M1835 1458h0M1801 1449h0M1807 1498h0M1832 1440h0M1820 1470h0M1795 1372h0M1835 1374h0M1796 1445h0M1795 1510h0M1830 1448h0M1832 1342h0M1800 1484h0M1807 1432h0M1811 1434h0M1801 1469h0M1814 1473h0M1798 1326h0M1794 1440h0M1834 1465h0M1804 1462h0M1794 1476h0M1833 1429h0M1831 1465h0M1798 1492h0M1811 1475h0M1803 1442h0M1822 1455h0M1796 1437h0M1806 1482h0M1796 1424h0M1818 1487h0M1794 1474h0M1800 1481h0M1829 1467h0M1832 1435h0M1803 1466h0M1814 1451h0M1800 1451h0M1831 1275h0M1819 1453h0M1817 1490h0M1796 1582h0M1809 1445h0M1805 1314h0M1800 1418h0M1808 1447h0M1797 1452h0M1810 1471h0M1831 1430h0M1831 1502h0M1828 1469h0M1798 1469h0M1816 1476h0M1801 1347h0M1794 1470h0M1828 1488h0M1805 1451h0M1824 1493h0M1801 1426h0M1814 1474h0M1799 1469h0M1834 1328h0M1814 1466h0M1811 1463h0M1813 1496h0M1804 1450h0M1796 1476h0M1806 1463h0M1808 1483h0M1834 1364h0M1821 1476h0M1820 1472h0M1832 1417h0M1813 1461h0M1801 1480h0M1828 1455h0M1800 1451h0M1795 1473h0M1830 1442h0M1830 1453h0M1830 1467h0M1812 1482h0M1815 1400h0M1818 1452h0M1813 1412h0M1821 1462h0M1818 1467h0M1806 1455h0M1821 1484h0M1803 1462h0M1810 1404h0M1823 1473h0M1797 1460h0M1807 1363h0M1830 1465h0M1820 1470h0M1816 1472h0M1824 1405h0M1824 1432h0M1810 1370h0M1808 1451h0M1794 1456h0M1809 1466h0M1799 1495h0M1793 1375h0"/><path d="M1803 1473h0M1830 1460h0M1795 1467h0M1818 1471h0M1811 1473h0M1818 1463h0M1833 1458h0M1813 1399h0M1810 1379h0M1826 1322h0M1830 1462h0M1804 1478h0M1832 1401h0M1805 1458h0M1797 1478h0M1828 1472h0M1828 1489h0M1817 1483h0M1824 1419h0M1809 1467h0M1795 1475h0M1825 1452h0M1807 1440h0M1795 1417h0M1806 1447h0M1810 1469h0M1812 1361h0M1823 1474h0M1802 1465h0M1820 1479h0M1807 1361h0M1796 1471h0M1816 1432h0M1816 1466h0M1803 1482h0M1833 1474h0M1826 1487h0M1794 1484h0M1793 1457h0M1828 1450h0M1807 1497h0M1822 1491h0M1805 1456h0M1833 1467h0M1835 1449h0M1812 1347h0M1809 1469h0M1800 1475h0M1804 1452h0M1824 1474h0M1798 1399h0M1808 1289h0M1796 1444h0M1812 1443h0M1827 1455h0M1826 1458h0M1827 1414h0M1818 1453h0M1821 1457h0M1823 1379h0M1794 1456h0M1816 1341h0M1814 1468h0M1831 1500h0M1817 1480h0M1801 1465h0M1812 1387h0M1798 1468h0M1820 1471h0M1802 1488h0M1817 1478h0M1828 1423h0M1815 1455h0M1833 1435h0M1807 1463h0M1823 1310h0M1819 1319h0M1817 1396h0M1801 1473h0M1824 1471h0M1833 1440h0M1808 1441h0M1814 1467h0M1802 1443h0M1820 1445h0M1808 1481h0M1815 1493h0M1832 1467h0M1800 1424h0M1830 1460h0M1829 1491h0M1834 1468h0M1829 1475h0M1822 1582h0M1831 1476h0M1829 1405h0M1825 1487h0M1801 1479h0M1821 1424h0M1820 1519h0M1801 1499h0M1798 1437h0M1798 1473h0M1804 1480h0M1834 1484h0M1828 1530h0M1822 1472h0M1799 1473h0M1807 1464h0M1796 1450h0M1808 1469h0M1805 1465h0M1814 1422h0M1809 1411h0"/><path d="M1812 1457h0M1820 1342h0M1823 1459h0M1806 1426h0M1818 1462h0M1834 1463h0M1807 1445h0M1825 1397h0M1809 1428h0M1809 1431h0M1831 1463h0M1806 1430h0M1831 1475h0M1817 1514h0M1825 1386h0M1825 1417h0M1825 1433h0M1794 1440h0M1820 1468h0M1827 1468h0M1806 1480h0M1810 1494h0M1834 1402h0M1828 1448h0M1807 1462h0M1814 1458h0M1830 1449h0M1804 1470h0M1800 1487h0M1811 1453h0M1803 1475h0M1811 1488h0M1813 1419h0M1823 1464h0M1826 1475h0M1823 1443h0M1797 1482h0M1829 1455h0M1804 1464h0M1806 1460h0M1809 1432h0M1815 1484h0M1802 1485h0M1819 1464h0M1803 1460h0M1830 1488h0M1801 1447h0M1832 1364h0M1798 1461h0M1817 1249h0M1825 1249h0M1814 1494h0M1803 1461h0M1804 1501h0M1820 1347h0M1799 1451h0M1834 1483h0M1830 1471h0M1795 1493h0M1809 1491h0M1795 1324h0M1802 1515h0M1806 1467h0M1800 1461h0M1819 1378h0M1830 1460h0M1818 1405h0M1820 1535h0M1812 1417h0M1831 1458h0M1830 1433h0M1816 1452h0M1817 1481h0M1817 1477h0M1835 1450h0M1826 1365h0M1830 1435h0M1823 1408h0M1796 1459h0M1826 1440h0M1821 1458h0M1800 1452h0M1812 1430h0M1822 1478h0M1804 1429h0M1826 1447h0M1830 1469h0M1826 1443h0M1802 1481h0M1831 1452h0M1806 1451h0M1804 1454h0M1827 1496h0M1812 1473h0M1823 1427h0M1828 1444h0M1803 1464h0M1793 1339h0M1800 1322h0M1826 1436h0M1832 1464h0M1801 1446h0M1820 1488h0M1800 1462h0M1825 1115h0M1830 1451h0M1821 1465h0M1821 1364h0M1814 1472h0M1795 1401h0M1813 1334h0M1804 1440h0M1827 1474h0M1829 1481h0"/><path d="M1824 1459h0M1799 1449h0M1831 1465h0M1828 1508h0M1800 1490h0M1813 1344h0M1831 1457h0M1829 1438h0M1796 1488h0M1830 1447h0M1809 1474h0M1810 1461h0M1834 1468h0M1830 1457h0M1833 1481h0M1796 1469h0M1814 1447h0M1827 1465h0M1807 1464h0M1808 1499h0M1835 1414h0M1825 1459h0M1825 1444h0M1794 1476h0M1823 1474h0M1822 1480h0M1797 1460h0M1813 1443h0M1799 1231h0M1809 1446h0M1834 1454h0M1803 1488h0M1832 1233h0M1835 1503h0M1815 1459h0M1801 1426h0M1825 1461h0M1834 1448h0M1830 1459h0M1811 1489h0M1818 1431h0M1810 1474h0M1804 1457h0M1824 1462h0M1821 1449h0M1798 1120h0M1802 1482h0M1819 1469h0M1799 1349h0M1829 1461h0M1830 1451h0M1817 1254h0M1823 1447h0M1834 1450h0M1805 1479h0M1794 1457h0M1834 1482h0M1822 1446h0M1818 1446h0M1796 1416h0M1805 1484h0M1802 1450h0M1833 1481h0M1834 1434h0M1819 1460h0M1801 1470h0M1829 1449h0M1831 1302h0M1793 1474h0M1827 1419h0M1813 1505h0M1832 1455h0M1817 1438h0M1823 1457h0M1794 1438h0M1795 1458h0M1811 1432h0M1833 1453h0M1822 1450h0M1803 1470h0M1806 1489h0M1820 1441h0M1824 1458h0M1804 1270h0M1793 1407h0M1811 1484h0M1818 1447h0M1828 1392h0M1826 1473h0M1797 1377h0M1805 1315h0M1814 1450h0M1806 1405h0M1821 1444h0M1820 1446h0M1802 1463h0M1829 1433h0M1826 1405h0M1816 1411h0M1816 1458h0M1810 1444h0M1808 1473h0M1832 1485h0M1824 1308h0M1825 1451h0M1813 1501h0M1820 1488h0M1823 1471h0M1808 1463h0M1834 1416h0M1833 1454h0M1803 1483h0M1809 1336h0M1819 1356h0"/><path d="M1799 1489h0M1811 1485h0M1823 1475h0M1832 1477h0M1814 1490h0M1829 1460h0M1800 1477h0M1836 1456h0M1796 1474h0M1824 1466h0M1801 1455h0M1831 1467h0M1829 1442h0M1830 1467h0M1825 1481h0M1811 1439h0M1810 1400h0M1811 1466h0M1800 1493h0M1796 1391h0M1821 1457h0M1833 1506h0M1812 1410h0M1797 1473h0M1807 1487h0M1834 1464h0M1829 1485h0M1804 1466h0M1822 1376h0M1834 1442h0M1829 1484h0M1815 1473h0M1797 1495h0M1823 1487h0M1825 1483h0M1807 1439h0M1795 1453h0M1809 1351h0M1829 1472h0M1818 1483h0M1814 1465h0M1798 1492h0M1816 1460h0M1815 1398h0M1834 1467h0M1818 1427h0M1822 1328h0M1796 1163h0M1810 1448h0M1822 1447h0M1800 1495h0M1798 1451h0M1824 1483h0M1797 1461h0M1795 1471h0M1800 1459h0M1807 1443h0M1824 1404h0M1832 1411h0M1805 1442h0M1805 1470h0M1819 1419h0M1810 1455h0M1796 1413h0M1825 1464h0M1793 1434h0M1817 1462h0M1798 1447h0M1828 1478h0M1818 1449h0M1819 1477h0M1794 1498h0M1813 1476h0M1825 1361h0M1808 1480h0M1814 1485h0M1809 1471h0M1810 1455h0M1801 1468h0M1832 1459h0M1800 1482h0M1814 1464h0M1799 1323h0M1823 1505h0M1794 1385h0M1793 1471h0M1829 1442h0M1793 1487h0M1805 1361h0M1799 1437h0M1828 1500h0M1811 1473h0M1801 1489h0M1819 1502h0M1824 1487h0M1794 1452h0M1805 1486h0M1800 1460h0M1832 1475h0M1810 1487h0M1809 1302h0M1822 1493h0M1793 1450h0M1820 1471h0M1831 1457h0M1795 1496h0M1793 1469h0M1809 1449h0M1828 1488h0M1821 1462h0M1811 1424h0M1835 1460h0M1804 1374h0M1811 1445h0"/><path d="M1816 1484h0M1818 1482h0M1807 1362h0M1805 1500h0M1825 1446h0M1831 1474h0M1809 1471h0M1815 1459h0M1794 1454h0M1795 1459h0M1834 1475h0M1808 1517h0M1817 1468h0M1801 1496h0M1828 1446h0M1835 1539h0M1835 1445h0M1794 1468h0M1828 1480h0M1811 1500h0M1834 1348h0M1800 1451h0M1835 1485h0M1810 1435h0M1796 1498h0M1816 1468h0M1803 1470h0M1832 1408h0M1807 1521h0M1803 1467h0M1817 1464h0M1797 1460h0M1813 1452h0M1810 1481h0M1818 1450h0M1796 1484h0M1793 1463h0M1796 1445h0M1833 1504h0M1815 1480h0M1801 1439h0M1800 1473h0M1821 1476h0M1824 1474h0M1802 1467h0M1803 1460h0M1822 1368h0M1806 1414h0M1796 1476h0M1801 1471h0M1836 1491h0M1829 1472h0M1835 1465h0M1827 1394h0M1808 1528h0M1831 1473h0M1814 1475h0M1828 1470h0M1835 1452h0M1796 1456h0M1835 1492h0M1799 1464h0M1809 1447h0M1810 1444h0M1829 1472h0M1825 1477h0M1807 1501h0M1801 1503h0M1813 1448h0M1821 1481h0M1805 1500h0M1802 1459h0M1796 1477h0M1810 1276h0M1827 1499h0M1818 1487h0M1829 1489h0M1802 1288h0M1811 1471h0M1804 1469h0M1804 1452h0M1835 1453h0M1797 1398h0M1816 1497h0M1824 1466h0M1796 1477h0M1801 1482h0M1804 1477h0M1793 1488h0M1806 1449h0M1824 1415h0M1833 1476h0M1819 1450h0M1807 1461h0M1813 1469h0M1800 1495h0M1799 1461h0M1835 1357h0M1812 1485h0M1807 1499h0M1831 1462h0M1799 1456h0M1800 1418h0M1829 1387h0M1827 1466h0M1826 1435h0M1798 1510h0M1808 1233h0M1818 1416h0M1820 1493h0M1833 1434h0M1830 1461h0M1806 1454h0M1833 1405h0"/><path d="M1832 1475h0M1805 1465h0M1818 1329h0M1833 1483h0M1794 1519h0M1794 1460h0M1826 1472h0M1809 1445h0M1801 1462h0M1826 1418h0M1797 1447h0M1823 1439h0M1798 1475h0M1807 1373h0M1817 1467h0M1833 1399h0M1814 1439h0M1832 1476h0M1816 1483h0M1819 1462h0M1798 1484h0M1798 1465h0M1836 1480h0M1824 1476h0M1800 1477h0M1797 1463h0M1813 1477h0M1815 1465h0M1801 1450h0M1795 1497h0M1806 1461h0M1810 1284h0M1832 1342h0M1804 1487h0M1829 1499h0M1807 1444h0M1811 1478h0M1818 1457h0M1803 1444h0M1805 1324h0M1819 1403h0M1833 1440h0M1826 1458h0M1821 1345h0M1795 1447h0M1829 1422h0M1833 1458h0M1798 1485h0M1820 1452h0M1802 1431h0M1825 1442h0M1804 1460h0M1823 1452h0M1821 1469h0M1802 1499h0M1805 1427h0M1806 1429h0M1811 1486h0M1804 1432h0M1809 1477h0M1806 1505h0M1814 1466h0M1820 1476h0M1823 1462h0M1794 1464h0M1803 1475h0M1799 1468h0M1827 1492h0M1822 1489h0M1820 1478h0M1805 1473h0M1806 1446h0M1828 1457h0M1820 1473h0M1831 1446h0M1822 1216h0M1810 1476h0M1819 1460h0M1815 1412h0M1821 1415h0M1815 1471h0M1818 1447h0M1821 1311h0M1812 1466h0M1813 1404h0M1817 1305h0M1811 1384h0M1800 1114h0M1831 1452h0M1817 1328h0M1833 1469h0M1831 1460h0M1835 1402h0M1801 1478h0M1834 1466h0M1800 1490h0M1799 1456h0M1832 1395h0M1810 1459h0M1829 1496h0M1822 1443h0M1826 1450h0M1831 1474h0M1833 1457h0M1816 1460h0M1818 1471h0M1818 1464h0M1796 1500h0M1834 1485h0M1811 1463h0M1795 1479h0M1829 1459h0M1819 1469h0M1826 1477h0"/><path d="M1815 1455h0M1798 1454h0M1810 1489h0M1821 1319h0M1796 1444h0M1820 1479h0M1836 1469h0M1809 1454h0M1801 1480h0M1798 1452h0M1827 1479h0M1834 1445h0M1820 1415h0M1802 1451h0M1830 1471h0M1821 1430h0M1801 1490h0M1810 1409h0M1833 1461h0M1794 1434h0M1827 1455h0M1826 1448h0M1832 1320h0M1819 1388h0M1804 1444h0M1810 1366h0M1802 1474h0M1804 1474h0M1836 1485h0M1803 1468h0M1835 1459h0M1812 1415h0M1816 1280h0M1802 1458h0M1819 1488h0M1796 1427h0M1805 1490h0M1805 1336h0M1795 1458h0M1811 1449h0M1831 1488h0M1797 1442h0M1829 1477h0M1829 1469h0M1831 1487h0M1812 1433h0M1821 1448h0M1816 1463h0M1795 1490h0M1799 1425h0M1829 1174h0M1804 1455h0M1803 1445h0M1807 1441h0M1830 1438h0M1802 1477h0M1800 1471h0M1824 1477h0M1833 1448h0M1795 1455h0M1796 1456h0M1795 1481h0M1797 1444h0M1823 1439h0M1828 1429h0M1807 1491h0M1796 1367h0M1796 1459h0M1809 1448h0M1834 1461h0M1832 1481h0M1805 1479h0M1830 1152h0M1832 1381h0M1821 1467h0M1798 1460h0M1828 1424h0M1799 1470h0M1828 1425h0M1802 1490h0M1832 1465h0M1816 1462h0M1820 1470h0M1814 1381h0M1800 1466h0M1822 1502h0M1832 1492h0M1814 1441h0M1819 1478h0M1825 1431h0M1831 1448h0M1822 1308h0M1802 1444h0M1816 1436h0M1795 1429h0M1795 1456h0M1816 1477h0M1827 1481h0M1808 1480h0M1801 1418h0M1820 1484h0M1815 1438h0M1814 1463h0M1810 1457h0M1814 1476h0M1806 1453h0M1820 1398h0M1836 1482h0M1804 1346h0M1801 1440h0M1793 1456h0M1816 1483h0M1802 1460h0"/><path d="M1821 1491h0M1823 1466h0M1827 1443h0M1821 1451h0M1810 1473h0M1823 1426h0M1833 1433h0M1806 1428h0M1827 1466h0M1801 1502h0M1796 1463h0M1797 1454h0M1816 1422h0M1829 1436h0M1799 1445h0M1799 1467h0M1818 1473h0M1800 1473h0M1803 1424h0M1796 1386h0M1828 1370h0M1818 1460h0M1818 1436h0M1823 1332h0M1807 1436h0M1794 1497h0M1804 1464h0M1815 1409h0M1799 1446h0M1818 1487h0M1800 1399h0M1827 1469h0M1835 1463h0M1802 1474h0M1831 1465h0M1831 1467h0M1818 1442h0M1799 1471h0M1830 1462h0M1796 1419h0M1818 1406h0M1813 1472h0M1831 1366h0M1827 1453h0M1793 1338h0M1822 1462h0M1811 1433h0M1811 1480h0M1817 1380h0M1831 1433h0M1808 1458h0M1801 1439h0M1833 1466h0M1807 1476h0M1810 1419h0M1822 1401h0M1832 1433h0M1835 1443h0M1812 1478h0M1817 1449h0M1801 1459h0M1798 1454h0M1800 1461h0M1825 1408h0M1815 1525h0M1825 1459h0M1816 1481h0M1827 1381h0M1798 1470h0M1828 1493h0M1804 1120h0M1802 1509h0M1833 1466h0M1794 1455h0M1832 1460h0M1800 1495h0M1820 1455h0M1797 1455h0M1801 1414h0M1810 1472h0M1825 1476h0M1794 1432h0M1826 1402h0M1806 1469h0M1818 1500h0M1835 1464h0M1826 1494h0M1795 1476h0M1830 1334h0M1819 1436h0M1821 1321h0M1803 1497h0M1802 1454h0M1807 1467h0M1830 1457h0M1816 1459h0M1828 1444h0M1807 1433h0M1829 1464h0M1801 1499h0M1822 1469h0M1810 1466h0M1800 1449h0M1804 1480h0M1802 1482h0M1796 1468h0M1834 1433h0M1808 1479h0M1812 1311h0M1800 1320h0M1826 1483h0M1803 1476h0M1810 1486h0"/><path d="M1801 1438h0M1831 1435h0M1813 1493h0M1806 1469h0M1815 1429h0M1833 1424h0M1798 1475h0M1805 1347h0M1827 1468h0M1831 1505h0M1816 1483h0M1828 1436h0M1813 1447h0M1823 1501h0M1796 1430h0M1812 1456h0M1796 1451h0M1798 1444h0M1833 1459h0M1795 1394h0M1825 1463h0M1802 1338h0M1822 1464h0M1814 1487h0M1813 1436h0M1829 1459h0M1829 1476h0M1810 1469h0M1807 1476h0M1806 1470h0M1797 1470h0M1827 1496h0M1826 1466h0M1794 1464h0M1801 1494h0M1796 1441h0M1799 1368h0M1800 1453h0M1814 1448h0M1819 1502h0M1805 1460h0M1806 1442h0M1798 1472h0M1826 1334h0M1823 1479h0M1816 1477h0M1817 1485h0M1811 1473h0M1818 1456h0M1834 1296h0M1813 1350h0M1794 1456h0M1809 1464h0M1827 1484h0M1815 1455h0M1800 1249h0M1798 1484h0M1817 1477h0M1796 1438h0M1810 1485h0M1820 1475h0M1816 1485h0M1793 1490h0M1826 1482h0M1804 1489h0M1809 1500h0M1821 1483h0M1814 1437h0M1823 1373h0M1795 1475h0M1809 1442h0M1812 1451h0M1801 1495h0M1834 1486h0M1820 1410h0M1824 1460h0M1819 1508h0M1827 1418h0M1823 1504h0M1825 1447h0M1819 1475h0M1833 1493h0M1833 1472h0M1823 1469h0M1822 1496h0M1822 1488h0M1833 1434h0M1808 1477h0M1835 1414h0M1828 1479h0M1811 1478h0M1813 1510h0M1801 1420h0M1830 1389h0M1826 1467h0M1795 1489h0M1828 1473h0M1813 1489h0M1814 1491h0M1824 1458h0M1805 1328h0M1794 1456h0M1819 1434h0M1828 1465h0M1831 1467h0M1809 1473h0M1806 1460h0M1801 1477h0M1795 1423h0M1809 1485h0M1815 1465h0M1834 1456h0M1829 1452h0"/><path d="M1798 1477h0M1817 1463h0M1836 1466h0M1794 1483h0M1810 1468h0M1818 1465h0M1831 1451h0M1802 1464h0M1814 1425h0M1795 1431h0M1819 1480h0M1835 1453h0M1833 1406h0M1824 1484h0M1801 1432h0M1798 1495h0M1822 1459h0M1833 1491h0M1802 1477h0M1815 1495h0M1795 1451h0M1797 1481h0M1826 1464h0M1822 1443h0M1819 1485h0M1805 1449h0M1817 1446h0M1820 1500h0M1814 1375h0M1823 1357h0M1802 1399h0M1795 1458h0M1831 1458h0M1804 1429h0M1801 1369h0M1796 1504h0M1802 1455h0M1835 1441h0M1802 1458h0M1799 1459h0M1828 1378h0M1807 1475h0M1820 1440h0M1828 1490h0M1832 1478h0M1816 1490h0M1813 1456h0M1796 1471h0M1820 1438h0M1808 1478h0M1836 1472h0M1798 1477h0M1819 1360h0M1821 1476h0M1830 1468h0M1833 1459h0M1816 1476h0M1823 1462h0M1801 1449h0M1813 1483h0M1811 1480h0M1807 1452h0M1802 1467h0M1813 1447h0M1832 1469h0M1818 1327h0M1825 1487h0M1808 1437h0M1803 1474h0M1813 1481h0M1811 1446h0M1815 1477h0M1832 1448h0M1818 1467h0M1796 1476h0M1818 1495h0M1835 1461h0M1834 1497h0M1796 1489h0M1835 1352h0M1827 1509h0M1812 1485h0M1817 1315h0M1826 1461h0M1802 1407h0M1823 1430h0M1831 1466h0M1817 1498h0M1797 1470h0M1812 1471h0M1833 1460h0M1815 1467h0M1797 1460h0M1820 1470h0M1829 1477h0M1797 1451h0M1803 1470h0M1830 1455h0M1828 1481h0M1824 1454h0M1810 1463h0M1794 1521h0M1795 1501h0M1806 1434h0M1832 1475h0M1824 1477h0M1812 1518h0M1803 1453h0M1823 1474h0M1824 1482h0M1822 1420h0M1835 1437h0M1814 1497h0"/><path d="M1795 1441h0M1826 1252h0M1797 1463h0M1810 1453h0M1825 1254h0M1797 1443h0M1830 1503h0M1799 1469h0M1829 1484h0M1797 1455h0M1796 1483h0M1827 1475h0M1817 1328h0M1813 1428h0M1803 1449h0M1820 1483h0M1835 1463h0M1804 1384h0M1825 1442h0M1825 1502h0M1824 1491h0M1803 1490h0M1805 1462h0M1822 1468h0M1802 1465h0M1819 1462h0M1798 1458h0M1818 1351h0M1823 1468h0M1815 1450h0M1809 1440h0M1804 1480h0M1832 1455h0M1796 1449h0M1820 1477h0M1832 1467h0M1834 1485h0M1822 1436h0M1815 1445h0M1796 1438h0M1797 1498h0M1825 1453h0M1815 1332h0M1793 1465h0M1805 1426h0M1816 1498h0M1797 1484h0M1796 1455h0M1815 1444h0M1817 1464h0M1832 1420h0M1820 1441h0M1802 1471h0M1810 1472h0M1831 1379h0M1832 1472h0M1830 1473h0M1818 1518h0M1813 1436h0M1808 1462h0M1812 1432h0M1803 1353h0M1819 1505h0M1821 1453h0M1828 1438h0M1822 1471h0M1820 1482h0M1809 1445h0M1819 1454h0M1798 1482h0M1825 1453h0M1830 1481h0M1826 1479h0M1807 1195h0M1815 1380h0M1832 1447h0M1835 1458h0M1830 1486h0M1799 1502h0M1824 1480h0M1795 1493h0M1794 1471h0M1817 1320h0M1809 1476h0M1833 1443h0M1826 1496h0M1823 1455h0M1818 1444h0M1817 1488h0M1835 1459h0M1805 1418h0M1830 1446h0M1835 1468h0M1799 1480h0M1828 1423h0M1797 1413h0M1796 1363h0M1831 1469h0M1819 1472h0M1802 1438h0M1822 1426h0M1829 1457h0M1807 1502h0M1808 1487h0M1801 1463h0M1833 1476h0M1794 1398h0M1802 1447h0M1825 1456h0M1828 1407h0M1818 1485h0M1802 1468h0M1818 1368h0"/><path d="M1805 1147h0M1818 1453h0M1808 1460h0M1836 1464h0M1816 1449h0M1836 1322h0M1806 1421h0M1817 1429h0M1808 1431h0M1816 1348h0M1796 1500h0M1794 1454h0M1796 1305h0M1834 1480h0M1804 1475h0M1822 1407h0M1835 1461h0M1807 1485h0M1819 1440h0M1823 1450h0M1794 1441h0M1810 1310h0M1828 1489h0M1805 1463h0M1812 1482h0M1817 1475h0M1825 1421h0M1834 1470h0M1803 1489h0M1820 1435h0M1835 1456h0M1804 1452h0M1830 1474h0M1805 1457h0M1825 1497h0M1804 1469h0M1808 1479h0M1815 1423h0M1835 1441h0M1812 1455h0M1816 1457h0M1800 1466h0M1813 1449h0M1829 1465h0M1822 1464h0M1831 1472h0M1825 1465h0M1833 1411h0M1803 1492h0M1836 1454h0M1803 1467h0M1819 1470h0M1799 1434h0M1824 1473h0M1794 1440h0M1799 1469h0M1832 1492h0M1805 1471h0M1829 1471h0M1807 1486h0M1832 1482h0M1811 1437h0M1825 1152h0M1828 1467h0M1809 1449h0M1803 1453h0M1817 1422h0M1812 1462h0M1831 1449h0M1816 1476h0M1807 1464h0M1814 1436h0M1797 1490h0M1830 1452h0M1810 1434h0M1826 1482h0M1802 1447h0M1794 1474h0M1825 1442h0M1796 1438h0M1807 1425h0M1810 1462h0M1824 1465h0M1834 1502h0M1829 1471h0M1835 1443h0M1794 1469h0M1799 1490h0M1834 1462h0M1821 1383h0M1814 1427h0M1796 1451h0M1799 1455h0M1818 1485h0M1807 1451h0M1823 1452h0M1806 1533h0M1800 1492h0M1817 1482h0M1830 1398h0M1824 1486h0M1814 1481h0M1798 1445h0M1812 1376h0M1829 1484h0M1835 1459h0M1800 1451h0M1812 1460h0M1797 1483h0M1813 1450h0M1808 1374h0M1798 1433h0M1796 1322h0"/><path d="M1805 1474h0M1811 1490h0M1804 1483h0M1826 1452h0M1825 1461h0M1814 1489h0M1829 1465h0M1796 1479h0M1804 1443h0M1835 1343h0M1799 1456h0M1823 1485h0M1795 1451h0M1820 1459h0M1825 1483h0M1814 1523h0M1806 1473h0M1827 1449h0M1834 1460h0M1833 1136h0M1797 1483h0M1794 1472h0M1829 1401h0M1833 1464h0M1805 1482h0M1827 1480h0M1818 1460h0M1827 1412h0M1806 1474h0M1800 1388h0M1816 1408h0M1808 1468h0M1813 1351h0M1833 1446h0M1809 1499h0M1830 1483h0M1811 1478h0M1828 1464h0M1810 1393h0M1805 1341h0M1809 1472h0M1817 1341h0M1810 1463h0M1817 1452h0M1825 1449h0M1798 1432h0M1818 1452h0M1799 1378h0M1832 1442h0M1834 1475h0M1794 1463h0M1833 1405h0M1835 1448h0M1820 1483h0M1827 1472h0M1829 1450h0M1803 1450h0M1833 1384h0M1833 1469h0M1814 1449h0M1817 1499h0M1821 1455h0M1795 1379h0M1831 1446h0M1828 1446h0M1811 1480h0M1831 1451h0M1795 1495h0M1822 1490h0M1823 1413h0M1826 1448h0M1808 1305h0M1822 1498h0M1807 1432h0M1813 1480h0M1813 1427h0M1804 1453h0M1827 1453h0M1794 1482h0M1816 1454h0M1823 1465h0M1835 1481h0M1824 1475h0M1826 1448h0M1828 1285h0M1807 1486h0M1829 1432h0M1794 1448h0M1805 1382h0M1823 1492h0M1834 1503h0M1803 1468h0M1834 1499h0M1834 1350h0M1820 1473h0M1814 1311h0M1805 1461h0M1822 1382h0M1811 1440h0M1804 1455h0M1823 1344h0M1819 1445h0M1834 1429h0M1817 1421h0M1824 1468h0M1802 1478h0M1828 1476h0M1831 1444h0M1798 1503h0M1828 1401h0M1820 1411h0M1833 1451h0M1819 1473h0"/><path d="M1835 1508h0M1819 1494h0M1827 1445h0M1812 1342h0M1800 1475h0M1797 1501h0M1796 1455h0M1815 1456h0M1819 1471h0M1804 1474h0M1803 1411h0M1812 1448h0M1830 1405h0M1812 1457h0M1801 1432h0M1835 1486h0M1825 1467h0M1824 1477h0M1812 1388h0M1830 1456h0M1825 1391h0M1827 1437h0M1812 1482h0M1795 1477h0M1806 1437h0M1811 1480h0M1819 1461h0M1797 1457h0M1820 1486h0M1814 1490h0M1818 1370h0M1820 1447h0M1812 1434h0M1812 1357h0M1797 1476h0M1802 1453h0M1810 1440h0M1835 1466h0M1811 1463h0M1813 1463h0M1823 1395h0M1825 1481h0M1803 1475h0M1797 1469h0M1810 1474h0M1811 1470h0M1799 1442h0M1794 1462h0M1793 1554h0M1797 1462h0M1823 1475h0M1811 1462h0M1802 1484h0M1832 1382h0M1829 1460h0M1812 1439h0M1832 1388h0M1795 1438h0M1818 1486h0M1819 1459h0M1829 1464h0M1796 1486h0M1832 1480h0M1821 1428h0M1804 1465h0M1801 1414h0M1811 1479h0M1833 1440h0M1813 1442h0M1826 1468h0M1832 1480h0M1793 1419h0M1807 1482h0M1835 1470h0M1832 1476h0M1816 1443h0M1823 1483h0M1831 1479h0M1835 1457h0M1829 1470h0M1827 1447h0M1814 1469h0M1797 1468h0M1823 1466h0M1808 1443h0M1798 1327h0M1830 1445h0M1833 1458h0M1832 1451h0M1832 1451h0M1828 1440h0M1810 1387h0M1794 1402h0M1814 1504h0M1825 1394h0M1793 1461h0M1811 1479h0M1796 1494h0M1808 1296h0M1834 1453h0M1824 1515h0M1817 1439h0M1825 1446h0M1802 1455h0M1805 1365h0M1831 1464h0M1798 1447h0M1834 1429h0M1818 1461h0M1821 1453h0M1816 1475h0M1831 1479h0M1828 1426h0"/><path d="M1830 1488h0M1810 1452h0M1813 1463h0M1835 1451h0M1814 1450h0M1805 1444h0M1816 1485h0M1804 1475h0M1818 1499h0M1828 1479h0M1832 1487h0M1834 1366h0M1797 1414h0M1807 1365h0M1822 1438h0M1804 1447h0M1810 1401h0M1823 1397h0M1797 1455h0M1796 1416h0M1803 1314h0M1812 1489h0M1829 1489h0M1826 1451h0M1805 1494h0M1813 1362h0M1800 1416h0M1807 1460h0M1833 1425h0M1830 1332h0M1818 1474h0M1834 1470h0M1834 1439h0M1807 1477h0M1816 1473h0M1827 1469h0M1799 1471h0M1831 1464h0M1797 1464h0M1828 1480h0M1821 1422h0M1802 1424h0M1832 1480h0M1831 1449h0M1834 1455h0M1804 1495h0M1831 1446h0M1829 1488h0M1800 1319h0M1801 1476h0M1819 1451h0M1825 1461h0M1827 1503h0M1812 1474h0M1808 1474h0M1823 1468h0M1826 1417h0M1797 1481h0M1805 1469h0M1816 1428h0M1799 1357h0M1796 1484h0M1823 1463h0M1808 1435h0M1828 1438h0M1795 1437h0M1816 1464h0M1820 1462h0M1803 1416h0M1834 1500h0M1803 1483h0M1810 1501h0M1795 1463h0M1804 1465h0M1821 1442h0M1824 1442h0M1797 1449h0M1794 1424h0M1824 1408h0M1819 1428h0M1816 1516h0M1813 1468h0M1825 1464h0M1832 1445h0M1811 1491h0M1806 1458h0M1831 1426h0M1805 1483h0M1833 1474h0M1801 1488h0M1805 1466h0M1808 1494h0M1820 1473h0M1833 1485h0M1815 1488h0M1795 1459h0M1814 1505h0M1810 1461h0M1809 1435h0M1801 1489h0M1822 1447h0M1799 1460h0M1797 1461h0M1820 1468h0M1795 1471h0M1799 1475h0M1816 1491h0M1815 1460h0M1812 1466h0M1811 1303h0M1820 1473h0M1802 1434h0M1801 1445h0"/><path d="M1817 1480h0M1813 1485h0M1811 1466h0M1814 1460h0M1823 1448h0M1816 1479h0M1793 1436h0M1820 1465h0M1795 1469h0M1801 1400h0M1825 1450h0M1833 1459h0M1820 1447h0M1817 1482h0M1810 1514h0M1824 1398h0M1823 1475h0M1798 1438h0M1813 1463h0M1824 1414h0M1805 1465h0M1823 1471h0M1821 1494h0M1830 1460h0M1794 1431h0M1796 1463h0M1819 1506h0M1801 1317h0M1799 1379h0M1827 1387h0M1829 1441h0M1804 1457h0M1801 1466h0M1829 1463h0M1805 1438h0M1835 1440h0M1815 1448h0M1799 1455h0M1830 1463h0M1801 1427h0M1822 1490h0M1830 1468h0M1795 1453h0M1820 1478h0M1805 1482h0M1807 1396h0M1822 1401h0M1825 1418h0M1796 1409h0M1797 1455h0M1825 1490h0M1809 1470h0M1813 1449h0M1833 1478h0M1827 1458h0M1828 1456h0M1820 1465h0M1828 1459h0M1821 1459h0M1832 1459h0M1825 1479h0M1830 1439h0M1812 1503h0M1834 1476h0M1798 1473h0M1818 1421h0M1820 1460h0M1825 1470h0M1823 1485h0M1818 1481h0M1795 1463h0M1809 1446h0M1835 1470h0M1801 1500h0M1827 1434h0M1832 1437h0M1815 1476h0M1824 1471h0M1832 1435h0M1822 1473h0M1825 1451h0M1830 1487h0M1820 1461h0M1823 1493h0M1806 1498h0M1820 1471h0M1834 1408h0M1797 1432h0M1801 1318h0M1831 1480h0M1806 1442h0M1816 1430h0M1800 1450h0M1830 1494h0M1803 1442h0M1818 1443h0M1794 1445h0M1801 1430h0M1794 1423h0M1811 1443h0M1804 1477h0M1811 1468h0M1809 1440h0M1834 1375h0M1799 1462h0M1835 1314h0M1820 1493h0M1796 1478h0M1812 1443h0M1804 1490h0M1799 1493h0M1831 1483h0M1823 1452h0"/><path d="M1827 1461h0M1817 1303h0M1802 1486h0M1823 1476h0M1799 1488h0M1802 1469h0M1812 1479h0M1803 1491h0M1807 1451h0M1806 1284h0M1805 1346h0M1799 1362h0M1834 1479h0M1818 1443h0M1830 1390h0M1800 1471h0M1824 1455h0M1798 1481h0M1817 1469h0M1802 1455h0M1836 1354h0M1802 1445h0M1829 1494h0M1828 1460h0M1794 1359h0M1823 1464h0M1804 1444h0M1811 1439h0M1825 1475h0M1828 1432h0M1794 1475h0M1793 1442h0M1831 1471h0M1822 1423h0M1806 1468h0M1818 1434h0M1825 1462h0M1817 1457h0M1810 1464h0M1807 1458h0M1815 1449h0M1800 1468h0M1825 1485h0M1804 1478h0M1802 1477h0M1832 1494h0M1796 1484h0M1834 1455h0M1804 1472h0M1799 1439h0M1799 1401h0M1826 1450h0M1835 1478h0M1820 1437h0M1807 1455h0M1804 1362h0M1820 1429h0M1814 1519h0M1823 1464h0M1828 1445h0M1811 1468h0M1797 1492h0M1820 1437h0M1806 1482h0M1806 1479h0M1809 1451h0M1810 1488h0M1808 1431h0M1835 1466h0M1828 1473h0M1801 1478h0M1809 1466h0M1829 1466h0M1832 1391h0M1794 1238h0M1810 1467h0M1824 1472h0M1816 1479h0M1797 1474h0M1794 1475h0M1811 1390h0M1799 1438h0M1804 1453h0M1816 1479h0M1814 1479h0M1822 1454h0M1810 1462h0M1794 1442h0M1807 1436h0M1830 1472h0M1814 1401h0M1823 1502h0M1834 1458h0M1833 1466h0M1794 1378h0M1829 1439h0M1798 1361h0M1804 1480h0M1820 1456h0M1811 1442h0M1830 1475h0M1836 1474h0M1821 1410h0M1831 1393h0M1818 1424h0M1830 1465h0M1799 1375h0M1811 1466h0M1834 1436h0M1809 1320h0M1807 1459h0M1812 1480h0M1817 1474h0"/><path d="M1810 1476h0M1827 1468h0M1820 1402h0M1816 1459h0M1811 1460h0M1797 1440h0M1829 1463h0M1805 1464h0M1827 1447h0M1825 1455h0M1803 1448h0M1834 1353h0M1797 1415h0M1810 1437h0M1823 1447h0M1810 1435h0M1803 1472h0M1810 1510h0M1806 1473h0M1822 1464h0M1794 1448h0M1823 1454h0M1818 1485h0M1825 1470h0M1797 1481h0M1804 1496h0M1800 1433h0M1833 1492h0M1802 1425h0M1808 1484h0M1834 1498h0M1797 1441h0M1824 1318h0M1816 1429h0M1821 1431h0M1814 1125h0M1825 1404h0M1828 1422h0M1797 1476h0M1800 1430h0M1807 1376h0M1807 1459h0M1831 1518h0M1810 1454h0M1799 1424h0M1822 1425h0M1807 1468h0M1816 1457h0M1828 1432h0M1801 1438h0M1820 1470h0M1816 1461h0M1826 1471h0M1806 1482h0M1812 1437h0M1806 1401h0M1824 1470h0M1813 1476h0M1828 1286h0M1821 1461h0M1823 1436h0M1820 1452h0M1814 1477h0M1806 1452h0M1800 1397h0M1797 1451h0M1823 1479h0M1821 1432h0M1831 1474h0M1832 1439h0M1819 1427h0M1800 1469h0M1819 1509h0M1822 1287h0M1825 1482h0M1812 1390h0M1824 1405h0M1807 1501h0M1825 1477h0M1802 1470h0M1819 1387h0M1803 1484h0M1831 1146h0M1803 1415h0M1818 1407h0M1803 1454h0M1808 1483h0M1833 1471h0M1818 1446h0M1810 1417h0M1830 1459h0M1802 1462h0M1794 1475h0M1807 1368h0M1801 1461h0M1824 1478h0M1798 1469h0M1813 1466h0M1813 1468h0M1802 1456h0M1797 1450h0M1827 1469h0M1827 1442h0M1803 1444h0M1796 1468h0M1835 1471h0M1829 1469h0M1821 1421h0M1812 1419h0M1795 1483h0M1817 1455h0M1821 1317h0M1806 1467h0"/><path d="M1805 1459h0M1808 1489h0M1801 1471h0M1802 1436h0M1795 1453h0M1810 1466h0M1809 1485h0M1831 1471h0M1798 1446h0M1835 1420h0M1833 1489h0M1826 1465h0M1830 1483h0M1822 1457h0M1797 1435h0M1834 1465h0M1794 1260h0M1803 1479h0M1796 1510h0M1817 1465h0M1835 1294h0M1809 1452h0M1796 1457h0M1830 1473h0M1825 1467h0M1793 1449h0M1828 1454h0M1800 1476h0M1826 1451h0M1805 1477h0M1829 1457h0M1814 1447h0M1818 1423h0M1832 1486h0M1832 1478h0M1822 1455h0M1797 1476h0M1806 1481h0M1798 1439h0M1819 1471h0M1804 1476h0M1805 1491h0M1805 1464h0M1793 1463h0M1824 1480h0M1798 1464h0M1825 1446h0M1822 1498h0M1822 1453h0M1820 1476h0M1828 1478h0M1799 1448h0M1811 1480h0M1802 1480h0M1836 1460h0M1822 1461h0M1806 1427h0M1823 1456h0M1833 1457h0M1834 1310h0M1833 1443h0M1832 1469h0M1809 1444h0M1797 1393h0M1815 1365h0M1807 1518h0M1834 1481h0M1806 1098h0M1812 1389h0M1821 1446h0M1802 1473h0M1813 1486h0M1800 1443h0M1833 1453h0M1817 1443h0M1825 1489h0M1814 1460h0M1836 1468h0M1819 1431h0M1825 1480h0M1818 1489h0M1833 1298h0M1816 1504h0M1835 1442h0M1825 1476h0M1818 1469h0M1817 1449h0M1800 1418h0M1827 1452h0M1802 1477h0M1800 1446h0M1819 1492h0M1826 1478h0M1821 1428h0M1800 1365h0M1802 1460h0M1793 1445h0M1795 1427h0M1832 1468h0M1829 1490h0M1799 1452h0M1826 1445h0M1795 1486h0M1824 1396h0M1801 1377h0M1799 1355h0M1795 1478h0M1812 1511h0M1828 1449h0M1817 1479h0M1823 1467h0M1805 1479h0M1833 1421h0"/><path d="M1798 1453h0M1796 1297h0M1815 1472h0M1804 1474h0M1794 1471h0M1795 1458h0M1808 1443h0M1825 1446h0M1814 1387h0M1814 1136h0M1818 1440h0M1818 1472h0M1830 1472h0M1815 1455h0M1829 1484h0M1809 1479h0M1811 1453h0M1820 1478h0M1826 1470h0M1822 1466h0M1822 1487h0M1804 1482h0M1821 1483h0M1829 1462h0M1833 1426h0M1833 1453h0M1833 1445h0M1795 1486h0M1807 1455h0M1832 1475h0M1793 1461h0M1803 1499h0M1804 1379h0M1830 1429h0M1820 1487h0M1813 1374h0M1831 1344h0M1810 1483h0M1797 1443h0M1803 1461h0M1810 1456h0M1824 1435h0M1804 1463h0M1821 1470h0M1822 1456h0M1827 1432h0M1823 1443h0M1827 1453h0M1818 1438h0M1813 1477h0M1826 1489h0M1800 1516h0M1802 1287h0M1828 1448h0M1808 1490h0M1796 1451h0M1831 1450h0M1812 1464h0M1806 1435h0M1804 1457h0M1804 1458h0M1829 1463h0M1815 1498h0M1831 1490h0M1826 1465h0M1824 1489h0M1798 1446h0M1810 1463h0M1814 1487h0M1810 1462h0M1829 1468h0M1796 1415h0M1812 1469h0M1826 1377h0M1830 1479h0M1833 1445h0M1824 1418h0M1828 1477h0M1805 1491h0M1813 1471h0M1804 1480h0M1822 1436h0M1811 1448h0M1818 1456h0M1816 1387h0M1795 1494h0M1820 1455h0M1797 1464h0M1793 1470h0M1824 1357h0M1797 1447h0M1834 1456h0M1814 1474h0M1802 1459h0M1804 1445h0M1835 1409h0M1815 1478h0M1812 1479h0M1827 1456h0M1799 1432h0M1803 1483h0M1807 1444h0M1834 1477h0M1811 1445h0M1807 1452h0M1823 1392h0M1816 1484h0M1820 1451h0M1832 1293h0M1836 1462h0M1815 1489h0M1829 1452h0M1810 1487h0"/><path d="M1797 1416h0M1833 1410h0M1805 1461h0M1826 1402h0M1802 1353h0M1830 1431h0M1806 1467h0M1806 1459h0M1802 1483h0M1816 1455h0M1795 1419h0M1798 1348h0M1819 1458h0M1831 1468h0M1818 1465h0M1806 1471h0M1802 1288h0M1834 1460h0M1820 1323h0M1805 1470h0M1795 1439h0M1811 1459h0M1796 1303h0M1835 1482h0M1805 1400h0M1827 1398h0M1795 1464h0M1809 1458h0M1802 1461h0M1799 1398h0M1821 1474h0M1827 1454h0M1824 1384h0M1822 1499h0M1798 1453h0M1793 1468h0M1800 1442h0M1806 1453h0M1798 1414h0M1801 1419h0M1806 1434h0M1815 1477h0M1828 1490h0M1809 1424h0M1795 1482h0M1793 1489h0M1817 1474h0M1806 1324h0M1820 1464h0M1810 1475h0M1815 1442h0M1824 1441h0M1810 1484h0M1813 1462h0M1828 1446h0M1818 1469h0M1816 1449h0M1817 1505h0M1809 1470h0M1796 1459h0M1814 1419h0M1836 1475h0M1799 1463h0M1819 1409h0M1814 1458h0M1820 1490h0M1803 1409h0M1811 1446h0M1832 1469h0M1831 1425h0M1804 1439h0M1825 1451h0M1819 1437h0M1805 1452h0M1794 1479h0M1802 1434h0M1828 1461h0M1801 1485h0M1813 1484h0M1834 1382h0M1819 1456h0M1795 1441h0M1801 1432h0M1828 1480h0M1833 1425h0M1796 1478h0M1804 1227h0M1803 1421h0M1795 1396h0M1804 1495h0M1815 1456h0M1826 1495h0M1811 1478h0M1822 1470h0M1798 1495h0M1835 1463h0M1824 1443h0M1805 1387h0M1800 1397h0M1816 1438h0M1822 1442h0M1823 1480h0M1827 1496h0M1827 1398h0M1809 1487h0M1831 1465h0M1826 1479h0M1819 1468h0M1805 1463h0M1810 1373h0M1813 1377h0M1794 1441h0M1815 1476h0"/><path d="M1805 1468h0M1830 1444h0M1830 1475h0M1835 1476h0M1822 1436h0M1794 1426h0M1817 1507h0M1805 1462h0M1807 1470h0M1831 1444h0M1805 1479h0M1819 1470h0M1799 1470h0M1815 1488h0M1825 1471h0M1799 1482h0M1822 1435h0M1814 1467h0M1829 1449h0M1816 1465h0M1819 1441h0M1811 1468h0M1815 1514h0M1800 1473h0M1795 1421h0M1832 1461h0M1824 1351h0M1810 1459h0M1833 1497h0M1815 1464h0M1814 1489h0M1821 1446h0M1802 1479h0M1815 1448h0M1816 1335h0M1820 1478h0M1796 1456h0M1822 1504h0M1833 1474h0M1825 1485h0M1812 1466h0M1797 1466h0M1796 1346h0M1826 1400h0M1819 1472h0M1833 1491h0M1831 1482h0M1822 1503h0M1827 1461h0M1833 1470h0M1823 1438h0M1803 1387h0M1808 1444h0M1801 1462h0M1820 1480h0M1799 1430h0M1795 1466h0M1826 1462h0M1834 1484h0M1794 1337h0M1811 1409h0M1821 1482h0M1823 1441h0M1807 1498h0M1817 1466h0M1824 1434h0M1807 1434h0M1811 1476h0M1830 1441h0M1797 1497h0M1835 1503h0M1811 1467h0M1826 1457h0M1832 1429h0M1817 1485h0M1832 1439h0M1806 1443h0M1804 1462h0M1804 1470h0M1824 1459h0M1808 1485h0M1800 1460h0M1804 1472h0M1818 1497h0M1798 1477h0M1798 1466h0M1826 1464h0M1793 1488h0M1797 1468h0M1826 1499h0M1834 1455h0M1811 1477h0M1816 1492h0M1802 1497h0M1811 1475h0M1813 1493h0M1799 1456h0M1827 1468h0M1810 1450h0M1834 1391h0M1822 1454h0M1802 1464h0M1827 1450h0M1815 1478h0M1825 1494h0M1834 1484h0M1829 1453h0M1817 1440h0M1826 1411h0M1820 1463h0M1827 1469h0M1835 1486h0M1796 1441h0"/><path d="M1806 1475h0M1830 1469h0M1808 1384h0M1814 1502h0M1808 1445h0M1810 1495h0M1794 1479h0M1817 1440h0M1818 1425h0M1808 1458h0M1797 1497h0M1821 1480h0M1832 1459h0M1801 1496h0M1817 1477h0M1821 1416h0M1808 1463h0M1809 1442h0M1825 1452h0M1828 1455h0M1820 1497h0M1824 1477h0M1824 1456h0M1812 1454h0M1807 1483h0M1802 1490h0M1832 1301h0M1796 1462h0M1796 1477h0M1810 1461h0M1831 1466h0M1809 1464h0M1832 1393h0M1801 1440h0M1797 1498h0M1803 1484h0M1797 1361h0M1828 1457h0M1828 1474h0M1825 1474h0M1807 1492h0M1831 1455h0M1797 1490h0M1813 1464h0M1833 1066h0M1796 1441h0M1797 1517h0M1817 1471h0M1807 1458h0M1793 1381h0M1827 1482h0M1821 1373h0M1819 1496h0M1804 1465h0M1817 1468h0M1805 1464h0M1811 1554h0M1808 1455h0M1824 1472h0M1801 1505h0M1822 1465h0M1820 1443h0M1822 1452h0M1830 1487h0M1801 1319h0M1823 1458h0M1829 1462h0M1803 1461h0M1832 1338h0M1814 1409h0M1795 1449h0M1824 1434h0M1796 1466h0M1806 1449h0M1822 1448h0M1793 1432h0M1795 1446h0M1799 1462h0M1797 1402h0M1794 1492h0M1815 1414h0M1820 1481h0M1801 1451h0M1798 1417h0M1804 1442h0M1810 1216h0M1793 1461h0M1814 1504h0M1810 1466h0M1795 1452h0M1818 1465h0M1822 1465h0M1800 1469h0M1802 1472h0M1804 1479h0M1821 1476h0M1797 1481h0M1826 1502h0M1828 1486h0M1810 1476h0M1827 1436h0M1798 1471h0M1819 1462h0M1822 1482h0M1804 1450h0M1814 1431h0M1827 1433h0M1819 1458h0M1804 1456h0M1828 1439h0M1828 1477h0M1794 1454h0M1834 1447h0"/></g>
<path d="M1595 1399.4V1441.5M1595 1474V1515" stroke="#474747" stroke-width="2"/>
<rect x="1562" y="1442" width="66" height="32" fill="#fff" fill-opacity="0.17" stroke="#444" stroke-width="2"/>
<path d="M1562 1458.1H1628" stroke="#4d4d4d" stroke-width="3.6"/>
<path d="M1814 1399.9V1441.5M1814 1474.8V1520" stroke="#474747" stroke-width="2"/>
<rect x="1781" y="1442" width="66" height="33" fill="#fff" fill-opacity="0.17" stroke="#444" stroke-width="2"/>
<path d="M1781 1463.6H1847" stroke="#4d4d4d" stroke-width="3.6"/>
<path d="M1595.4 974.5C1595.7 1028.8 1596.5 1234.2 1596.9 1300C1597.3 1365.8 1597.7 1354.6 1597.9 1369.5C1598.2 1384.4 1598 1382.8 1598.4 1389.4C1598.8 1396 1599.7 1404.3 1600.4 1409.3C1601.2 1414.3 1601.3 1416 1602.9 1419.3C1604.5 1422.6 1607.1 1425.9 1609.8 1429.2C1612.6 1432.5 1615.5 1435.9 1619.4 1439.2C1623.3 1442.5 1629.4 1445.8 1633.2 1449.1C1637 1452.4 1640.5 1455.8 1642.2 1459.1C1643.9 1462.4 1644 1465.7 1643.2 1469C1642.4 1472.3 1640.5 1475.7 1637.2 1479C1633.9 1482.3 1628.3 1485.6 1623.3 1488.9C1618.3 1492.2 1611.2 1495.6 1607.4 1498.9C1603.6 1502.2 1602 1505.5 1600.4 1508.8C1598.8 1512.1 1598.5 1515.5 1597.9 1518.8C1597.3 1522.1 1597.3 1523.6 1596.9 1528.7C1596.5 1533.8 1595.7 1546.1 1595.4 1549.6C1595.2 1546.1 1594.3 1533.8 1593.9 1528.7C1593.5 1523.6 1593.5 1522.1 1592.9 1518.8C1592.3 1515.5 1592 1512.1 1590.4 1508.8C1588.8 1505.5 1587.2 1502.2 1583.4 1498.9C1579.6 1495.6 1572.5 1492.2 1567.5 1488.9C1562.5 1485.6 1556.9 1482.3 1553.6 1479C1550.3 1475.7 1548.4 1472.3 1547.6 1469C1546.8 1465.7 1546.9 1462.4 1548.6 1459.1C1550.3 1455.8 1553.8 1452.4 1557.6 1449.1C1561.4 1445.8 1567.5 1442.5 1571.4 1439.2C1575.3 1435.9 1578.2 1432.5 1581 1429.2C1583.8 1425.9 1586.3 1422.6 1587.9 1419.3C1589.5 1416 1589.7 1414.3 1590.4 1409.3C1591.2 1404.3 1592 1396 1592.4 1389.4C1592.8 1382.8 1592.7 1384.4 1592.9 1369.5C1593.2 1354.6 1593.5 1365.8 1593.9 1300C1594.3 1234.2 1595.2 1028.8 1595.4 974.5Z" fill="#fff" fill-opacity="0.15" stroke="#1a1a1a" stroke-width="2.1" stroke-linejoin="round"/>
<path d="M1814.3 1065.8C1814.6 1110.9 1815.8 1284.9 1816.3 1336.2C1816.8 1387.5 1816.8 1364.2 1817.1 1373.6C1817.4 1383 1817.7 1386.2 1818.2 1392.4C1818.7 1398.7 1819.3 1406.4 1820.1 1411.1C1820.9 1415.8 1821.7 1417.4 1823.2 1420.5C1824.7 1423.6 1826.7 1426.7 1829.3 1429.8C1831.9 1432.9 1834.2 1436.1 1838.6 1439.2C1843 1442.3 1850.8 1445.5 1855.5 1448.6C1860.2 1451.7 1864.4 1454.8 1866.7 1457.9C1869 1461 1870 1464.2 1869.5 1467.3C1869 1470.4 1866.9 1473.6 1863.5 1476.7C1860.1 1479.8 1853.9 1482.9 1849 1486C1844.1 1489.1 1838.8 1492.3 1834 1495.4C1829.2 1498.5 1822.8 1501.7 1819.9 1504.8C1817 1507.9 1817.5 1511 1816.8 1514.1C1816.1 1517.2 1816.2 1512.1 1815.8 1523.5C1815.4 1534.9 1814.5 1572.7 1814.3 1582.5C1814 1572.7 1813.2 1534.9 1812.8 1523.5C1812.4 1512.1 1812.5 1517.2 1811.8 1514.1C1811.1 1511 1811.6 1507.9 1808.7 1504.8C1805.8 1501.7 1799.4 1498.5 1794.6 1495.4C1789.8 1492.3 1784.5 1489.1 1779.6 1486C1774.7 1482.9 1768.5 1479.8 1765.1 1476.7C1761.7 1473.6 1759.6 1470.4 1759.1 1467.3C1758.6 1464.2 1759.6 1461 1761.9 1457.9C1764.2 1454.8 1768.4 1451.7 1773.1 1448.6C1777.8 1445.5 1785.6 1442.3 1790 1439.2C1794.4 1436.1 1796.7 1432.9 1799.3 1429.8C1801.9 1426.7 1803.9 1423.6 1805.4 1420.5C1806.9 1417.4 1807.7 1415.8 1808.5 1411.1C1809.3 1406.4 1809.9 1398.7 1810.4 1392.4C1810.9 1386.2 1811.2 1383 1811.5 1373.6C1811.8 1364.2 1811.8 1387.5 1812.3 1336.2C1812.8 1284.9 1814 1110.9 1814.3 1065.8Z" fill="#fff" fill-opacity="0.15" stroke="#1a1a1a" stroke-width="2.1" stroke-linejoin="round"/>
<circle cx="1595.4" cy="1443.5" r="11.5" fill="#8b0000"/>
<circle cx="1604.4" cy="1443.5" r="1.4" fill="#000"/>
<path d="M1611.9 1443.5H1619.4" stroke="#000" stroke-width="1.6"/>
<circle cx="1814.3" cy="1450.8" r="11.5" fill="#8b0000"/>
<path d="M1815.3 1450.8H1819.3" stroke="#000" stroke-width="1.6"/>
<g font-family="'Liberation Sans', Arial, Helvetica, sans-serif" fill="#000">
<rect x="1627.6" y="1427.8" width="111.8" height="31.2" rx="3.8" fill="#fff" stroke="#1f1f1f" stroke-width="1.4"/><text x="1633.6" y="1448.9" font-size="17.3">μ</text><text x="1631.62" y="1446.15" font-family="'DejaVu Sans', sans-serif" font-size="17.5">^</text><text x="1643.7" y="1452.1" font-size="11.7">mean</text><text transform="translate(1681.65 1448.9) scale(1.08 1)" x="-5.05" font-size="17.3">=</text><text x="1689.8" y="1448.9" font-size="17.3">6.069</text>
<rect x="1827.7" y="1435.1" width="111.8" height="31.2" rx="3.8" fill="#fff" stroke="#1f1f1f" stroke-width="1.4"/><text x="1833.7" y="1456.2" font-size="17.3">μ</text><text x="1831.72" y="1453.45" font-family="'DejaVu Sans', sans-serif" font-size="17.5">^</text><text x="1843.8" y="1459.4" font-size="11.7">mean</text><text transform="translate(1881.75 1456.2) scale(1.08 1)" x="-5.05" font-size="17.3">=</text><text x="1889.9" y="1456.2" font-size="17.3">5.931</text>
</g>
<rect x="1465" y="946" width="479" height="665" fill="none" stroke="#000" stroke-width="2"/>
<path d="M1460.2 1608.5H1465.4M1460.2 1447.3H1465.4M1460.2 1286.2H1465.4M1460.2 1125H1465.4M1460.2 963.9H1465.4M1595.4 1610.9V1616.1M1814.3 1610.9V1616.1" stroke="#333" stroke-width="1.7"/>
<g font-family="'Liberation Sans', Arial, Helvetica, sans-serif" font-size="15.1" fill="#333" text-anchor="end">
<text x="1455.6" y="1613.8">3</text>
<text x="1455.6" y="1452.65">6</text>
<text x="1455.6" y="1291.5">9</text>
<text x="1455.6" y="1130.35">12</text>
<text x="1455.6" y="969.2">15</text>
</g>
<g font-family="'Liberation Sans', Arial, Helvetica, sans-serif" font-size="15.1" fill="#333" text-anchor="middle">
<text x="1595.4" y="1631.7">Persistent infection</text>
<text x="1595.4" y="1647.3">(n = 1,280)</text>
<text x="1814.3" y="1631.7">Persistent negative</text>
<text x="1814.3" y="1647.3">(n = 2,719)</text>
</g>
<text x="1704.6" y="1669.6" font-family="'Liberation Sans', Arial, Helvetica, sans-serif" font-size="19.1" font-weight="bold" text-anchor="middle">H.pylori</text>
<text transform="translate(1430 1278.45) rotate(-90)" font-family="'Liberation Sans', Arial, Helvetica, sans-serif" font-size="19.1" font-weight="bold" text-anchor="middle">HbA1c</text>
<g font-family="'Liberation Sans', Arial, Helvetica, sans-serif" fill="#000"><text x="1464.4" y="924.4" font-size="19.3" font-style="italic">t</text><text x="1471.5" y="928.3" font-size="13.25">Student</text><text x="1517.4" y="924.4" font-size="19.3">(3997)</text><text transform="translate(1581.83 924.4) scale(1.15 1)" x="-5.64" font-size="19.3">=</text><text x="1591.76" y="924.4" font-size="19.3">4.167,</text><text x="1649.12" y="924.4" font-size="19.3" font-style="italic">p</text><text transform="translate(1670.29 924.4) scale(1.15 1)" x="-5.64" font-size="19.3">=</text><text x="1680.23" y="924.4" font-size="19.3">3.151e−05</text></g>
<text transform="translate(1370.22 870.8) scale(0.68 1)" font-family="'Liberation Sans', Arial, Helvetica, sans-serif" font-size="43" font-weight="bold">F</text></svg></body></html>
